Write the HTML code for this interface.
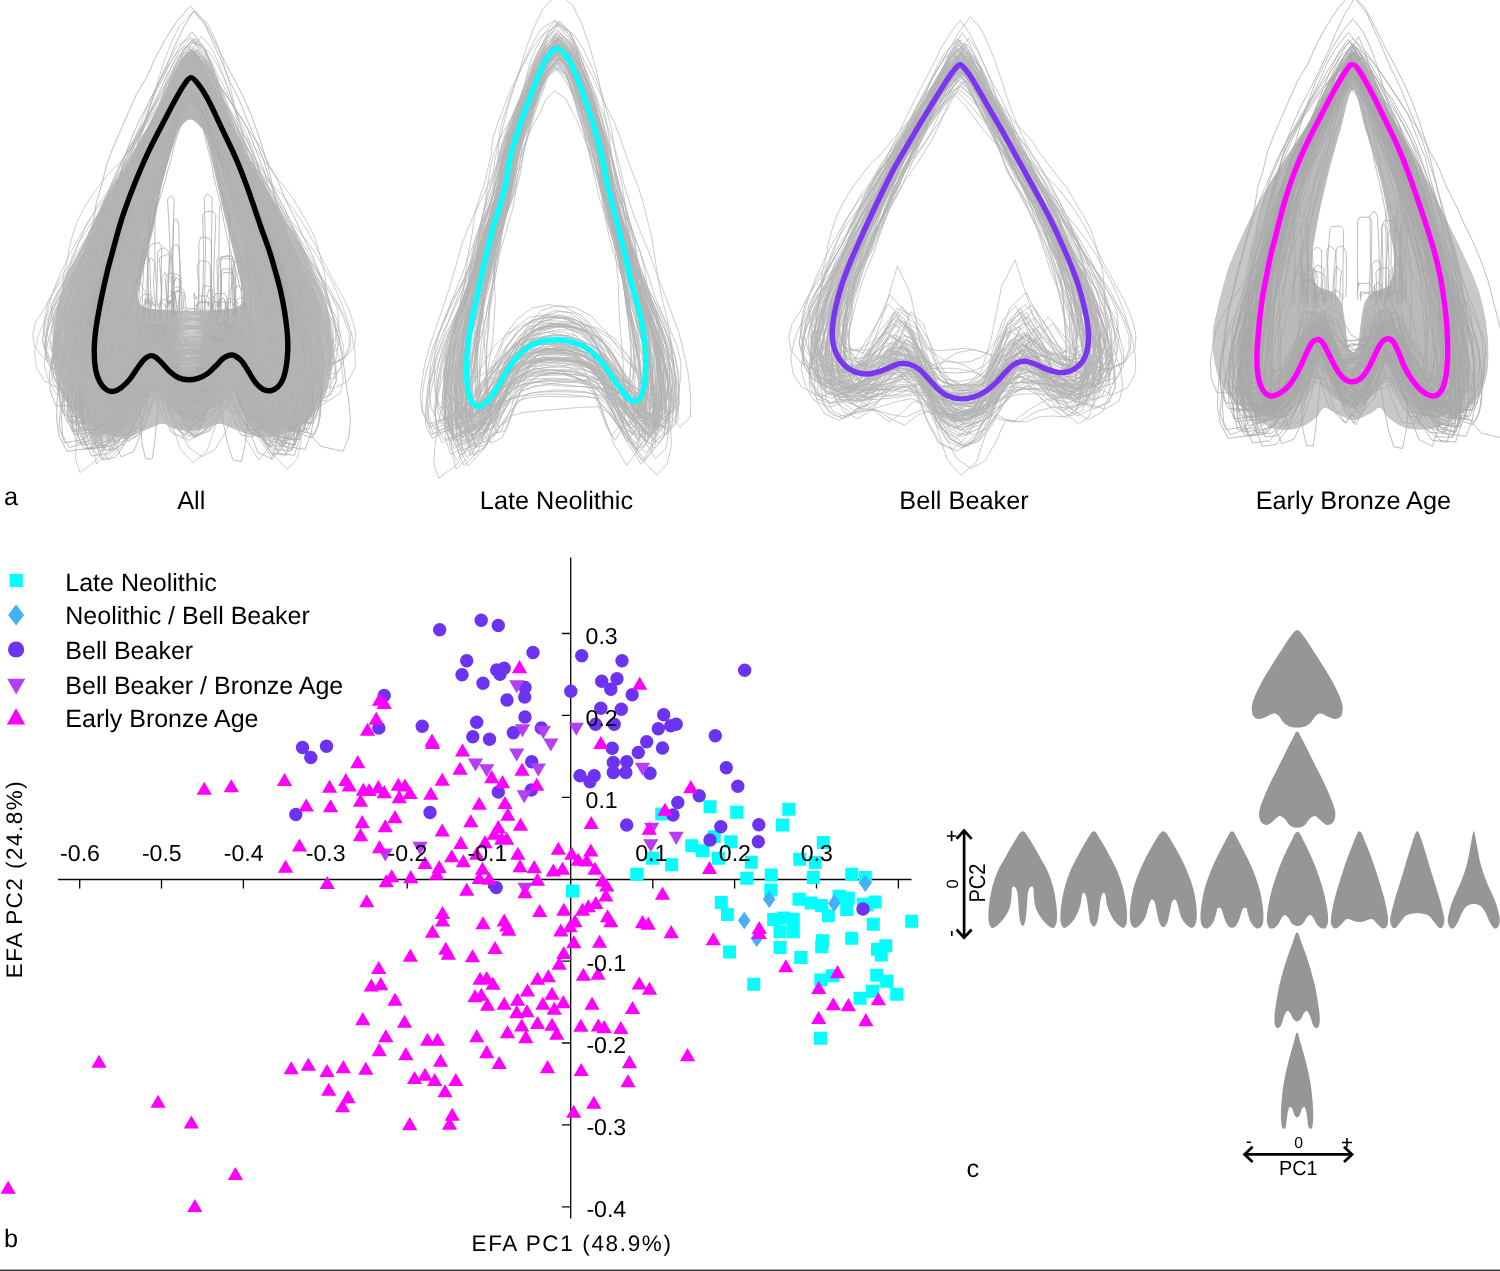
<!DOCTYPE html><html><head><meta charset="utf-8"><title>Figure</title>
<style>html,body{margin:0;padding:0;background:#fff}svg{display:block}text{font-family:"Liberation Sans",sans-serif;fill:#000;text-rendering:geometricPrecision}</style></head><body>
<svg width="1500" height="1271" viewBox="0 0 1500 1271">
<rect width="1500" height="1271" fill="#fff"/>
<defs><filter id="bl" x="-0.3" y="-0.3" width="1.6" height="1.6"><feGaussianBlur stdDeviation="3.5"/></filter><clipPath id="clE"><path d="M1353.3 51.7C1359.1 51.7 1362.6 70.7 1369.8 82.7C1377 94.8 1388.4 110.2 1396.7 124C1405 137.8 1412.2 151.5 1419.4 165.3C1426.6 179.1 1433.1 192.8 1440 206.7C1446.9 220.6 1454.5 234.8 1461 249C1467.5 263.2 1474.9 277.9 1479.3 292C1483.7 306.1 1486.2 320.2 1487.6 333.3C1489 346.4 1489 360.2 1487.6 370.5C1486.2 380.8 1484.1 387.7 1479.3 395.3C1474.5 402.9 1466.3 410.5 1458.7 416C1451.1 421.5 1442.5 426.3 1433.9 428.4C1425.3 430.5 1414.6 430.1 1407 428.4C1399.4 426.7 1392.9 421.4 1388.4 418C1383.9 414.6 1383.2 408.7 1380.1 408C1377 407.3 1374.3 412 1369.8 414C1365.3 416 1358.8 420.1 1353.3 420.1C1347.8 420.1 1341.5 416 1336.7 414C1331.9 412 1327.7 407.3 1324.3 408C1320.9 408.7 1320.6 414.6 1316.1 418C1311.6 421.4 1304.7 426.7 1297.5 428.4C1290.3 430.1 1281 431.1 1272.7 428.4C1264.4 425.6 1255.8 418.1 1247.9 411.9C1240 405.7 1230.6 399.1 1225.1 391.2C1219.6 383.3 1216.9 373.9 1214.8 364.3C1212.7 354.7 1212 343.6 1212.7 333.3C1213.4 323 1216.5 312.6 1218.9 302.3C1221.3 292 1224.3 280.4 1227.2 271.3C1230.1 262.2 1231.7 258.8 1236.5 248C1241.3 237.2 1248.6 220.5 1256 206.7C1263.4 192.9 1272.4 179.1 1281 165.3C1289.6 151.5 1298.8 137.8 1307.8 124C1316.8 110.2 1327.1 94.8 1334.7 82.7C1342.3 70.7 1347.5 51.7 1353.3 51.7Z"/></clipPath><clipPath id="clA"><path d="M192 49C200.8 49 206.5 83.8 215 101C223.5 118.2 233.2 135.1 243 152C252.8 168.9 263.3 185.7 273.6 202.7C283.9 219.7 296.1 236.8 305 254C313.9 271.2 322.3 291 326.8 306C331.3 321 331.5 331.3 331.9 344C332.3 356.7 331.5 371.5 329.4 382C327.3 392.5 324.3 399.4 319.2 407C314.1 414.6 307.9 422.5 299 427.6C290.1 432.7 276.5 437.3 266 437.7C255.5 438.1 243.6 432.3 236 430C228.4 427.7 225.6 424.2 220.4 424C215.2 423.8 210.1 427.8 205 429C199.9 430.2 195 431 190 431C185 431 179.7 430.2 175 429C170.3 427.8 166.8 423.8 162 424C157.2 424.2 152.7 427.7 146 430C139.3 432.3 131.2 438.5 121.6 437.7C112 436.9 98 430.9 88.7 425C79.4 419.1 71.6 411.2 65.9 402.3C60.2 393.4 56.6 382.9 54.5 371.9C52.4 360.9 52.2 349.5 53.2 336.4C54.2 323.3 56.7 307 60.8 293.3C64.9 279.6 70.8 269.1 78 254C85.2 238.9 94.7 219.7 104 202.7C113.3 185.7 124.3 168.9 134 152C143.7 135.1 152.3 118.2 162 101C171.7 83.8 183.2 49 192 49Z"/></clipPath><clipPath id="clEh"><path d="M1353 90C1357.2 90 1361 114.9 1365.6 130C1370.2 145.1 1376.5 163.9 1380.7 180.7C1384.9 197.5 1388.5 217.4 1390.7 231C1392.9 244.6 1394.1 253.2 1394 262C1393.9 270.8 1393.3 279 1390 284C1386.7 289 1378.2 289 1374 292C1369.8 295 1367.2 297 1365 302C1362.8 307 1362.2 314.8 1361 322C1359.8 329.2 1359.3 340 1358 345C1356.7 350 1354.7 352 1353 352C1351.3 352 1349.3 350 1348 345C1346.7 340 1346.2 329.2 1345 322C1343.8 314.8 1343.2 307 1341 302C1338.8 297 1336.2 295 1332 292C1327.8 289 1319.3 289 1316 284C1312.7 279 1312 270.8 1312 262C1312 253.2 1313.4 244.6 1315.8 231C1318.2 217.4 1322.5 197.5 1326.6 180.7C1330.7 163.9 1336 145.1 1340.4 130C1344.8 114.9 1348.8 90 1353 90Z"/></clipPath><clipPath id="clAh"><path d="M190.3 119.5C193.1 119.5 196.3 122.4 199 125.5C201.7 128.6 203.3 128.3 206.3 138C209.3 147.7 213.7 169.1 217.1 183.6C220.5 198.1 224 213.7 226.7 224.8C229.3 235.9 230.8 240.8 233 250C235.2 259.2 238.3 272 240 280C241.7 288 243.5 293.5 243 298C242.5 302.5 241.7 305 237 307C232.3 309 222.8 309.3 215 310C207.2 310.7 198.7 311 190.5 311C182.3 311 173.8 310.7 166 310C158.2 309.3 148.7 309 144 307C139.3 305 138.5 302.5 138 298C137.5 293.5 139.3 288 141 280C142.7 272 145.8 259.2 148 250C150.2 240.8 151.9 235.9 154.3 224.8C156.7 213.7 158.6 198.1 162.2 183.6C165.8 169.1 172.4 147.7 175.7 138C179 128.3 179.6 128.6 182 125.5C184.4 122.4 187.5 119.5 190.3 119.5Z"/></clipPath></defs>
<g id="pA">
<g clip-path="url(#clA)">
<path d="M192 49C200.8 49 206.5 83.8 215 101C223.5 118.2 233.2 135.1 243 152C252.8 168.9 263.3 185.7 273.6 202.7C283.9 219.7 296.1 236.8 305 254C313.9 271.2 322.3 291 326.8 306C331.3 321 331.5 331.3 331.9 344C332.3 356.7 331.5 371.5 329.4 382C327.3 392.5 324.3 399.4 319.2 407C314.1 414.6 307.9 422.5 299 427.6C290.1 432.7 276.5 437.3 266 437.7C255.5 438.1 243.6 432.3 236 430C228.4 427.7 225.6 424.2 220.4 424C215.2 423.8 210.1 427.8 205 429C199.9 430.2 195 431 190 431C185 431 179.7 430.2 175 429C170.3 427.8 166.8 423.8 162 424C157.2 424.2 152.7 427.7 146 430C139.3 432.3 131.2 438.5 121.6 437.7C112 436.9 98 430.9 88.7 425C79.4 419.1 71.6 411.2 65.9 402.3C60.2 393.4 56.6 382.9 54.5 371.9C52.4 360.9 52.2 349.5 53.2 336.4C54.2 323.3 56.7 307 60.8 293.3C64.9 279.6 70.8 269.1 78 254C85.2 238.9 94.7 219.7 104 202.7C113.3 185.7 124.3 168.9 134 152C143.7 135.1 152.3 118.2 162 101C171.7 83.8 183.2 49 192 49Z" fill="#c3c3c3"/>
<path d="M191 77.6C193.4 77.6 195.6 80.8 198.6 84.7C201.6 88.6 205 93.9 208.9 101.2C212.8 108.5 217.6 119.5 221.9 128.7C226.2 137.8 230.9 146.9 234.9 156.1C238.9 165.2 242.5 174.4 245.9 183.6C249.3 192.8 252.9 203.4 255.5 211.1C258.1 218.8 259.5 223.2 261.7 229.5C263.9 235.8 266.4 242 268.6 248.6C270.8 255.2 272.9 262.3 274.8 269.2C276.8 276.1 278.7 282.9 280.3 289.8C281.9 296.7 283.3 303.5 284.4 310.4C285.5 317.3 286.5 324.6 287.1 331C287.7 337.4 287.9 343.2 287.8 348.9C287.7 354.6 287.2 360.3 286.4 365.3C285.6 370.3 284.5 375.4 283 379.1C281.5 382.8 279.6 385.4 277.5 387.3C275.4 389.2 273.1 390.4 270.7 390.7C268.3 391 265.7 390.9 263.1 389.4C260.5 387.9 257.5 385.1 254.9 381.8C252.3 378.5 249.7 373.2 247.3 369.5C244.9 365.8 242.9 362.2 240.4 359.8C237.9 357.4 234.9 355.3 232.2 355C229.5 354.7 226.8 356 224 357.8C221.2 359.6 218.4 363.4 215.7 366C212.9 368.6 210.5 371.5 207.5 373.6C204.5 375.7 201.1 377.4 197.9 378.4C194.7 379.4 191.5 379.9 188.3 379.8C185.1 379.7 181.7 379.1 178.6 377.7C175.5 376.3 172.4 373.9 169.7 371.5C167 369.1 164.6 365.7 162.2 363.3C159.8 360.9 157.2 358.4 155.3 357.1C153.4 355.8 152.3 355.4 150.5 355.7C148.7 356 146.5 357.1 144.3 359.2C142.1 361.3 139.8 364.8 137.4 368.1C135 371.4 132.5 375.9 129.9 379.1C127.3 382.3 124.3 385.2 121.6 387.3C118.8 389.4 116 391 113.4 391.4C110.8 391.8 108.2 391 105.9 389.4C103.6 387.8 101.4 385.1 99.7 381.8C98 378.5 96.5 374.5 95.6 369.5C94.7 364.5 94.2 358 94.2 351.6C94.2 345.2 94.8 337.9 95.6 331C96.4 324.1 97.8 317.3 99 310.4C100.2 303.5 101.6 296.7 103.1 289.8C104.6 282.9 106.2 276.1 107.9 269.2C109.6 262.3 111.6 255.2 113.4 248.6C115.2 242 116.8 235.8 118.6 229.5C120.4 223.2 121.7 218.8 124.4 211.1C127.1 203.4 131 192.8 134.7 183.6C138.4 174.4 142.2 165.2 146.4 156.1C150.6 146.9 155.4 137.8 160.1 128.7C164.8 119.5 170.5 108.5 174.5 101.2C178.5 93.9 181.3 88.6 184.1 84.7C186.8 80.8 188.6 77.6 191 77.6Z" fill="#b6b6b6" stroke="#b6b6b6" stroke-width="46" stroke-linejoin="round"/>
<path d="M190.3 119.5C193.1 119.5 196.3 122.4 199 125.5C201.7 128.6 203.3 128.3 206.3 138C209.3 147.7 213.7 169.1 217.1 183.6C220.5 198.1 224 213.7 226.7 224.8C229.3 235.9 230.8 240.8 233 250C235.2 259.2 238.3 272 240 280C241.7 288 243.5 293.5 243 298C242.5 302.5 241.7 305 237 307C232.3 309 222.8 309.3 215 310C207.2 310.7 198.7 311 190.5 311C182.3 311 173.8 310.7 166 310C158.2 309.3 148.7 309 144 307C139.3 305 138.5 302.5 138 298C137.5 293.5 139.3 288 141 280C142.7 272 145.8 259.2 148 250C150.2 240.8 151.9 235.9 154.3 224.8C156.7 213.7 158.6 198.1 162.2 183.6C165.8 169.1 172.4 147.7 175.7 138C179 128.3 179.6 128.6 182 125.5C184.4 122.4 187.5 119.5 190.3 119.5Z" fill="#fff"/>
<path d="M148.8 319.2L146.7 287.7L149.2 247L151.5 244.1L158.9 242.6L161.7 247L161.1 276.7L161.6 319.2M216.8 309L219.5 305.9L216.9 306L219.8 302.1L225.6 301.6L227.8 306L227.7 317.7L228.1 309M167 318.2L170.2 248.1L167.5 199.4L170.3 196L172.4 197.3L174.1 199.4L172.5 260.8L174.3 318.2M211.7 306.9L213.5 313.2L212.3 305.5L214.8 301.1L216.4 302.1L219.3 305.5L217.9 301.4L220.2 306.9M149.2 306.3L147.3 262.5L149.4 201.6L151.7 196.9L152.3 198.4L155 201.6L154.8 258.3L157.5 306.3M202.3 319.2L203.7 254.7L202.7 214.7L205.4 211.7L212.9 211.5L215.9 214.7L213.5 279L216.1 319.2M170.3 318.9L173.7 291.4L171.5 277.8L174.2 273.6L177.6 274.3L180.5 277.8L180.4 288.8L176.4 318.9M204.3 313.5L205.5 244.5L204.2 198.1L207.6 193.3L208 194.4L212.2 198.1L211.3 260.6L210.8 313.5M142.2 319.3L142.4 292.3L144.2 259.3L146.1 256.2L147.5 256.5L149.7 259.3L151 299L149.9 319.3M233.8 316.2L234.9 298.8L235.1 291L237.3 285.3L241.8 288.6L245.4 291L244 296.1L244.3 316.2M170.8 318.1L173.5 283.4L170.9 249.7L174.7 245L177.4 244.6L179.1 249.7L181.1 280.6L181.2 318.1M224.6 319.2L224.5 316.3L225.6 302.4L228.1 298.4L235 299.6L236 302.4L237.9 302.4L235.8 319.2M158.9 317.6L161.8 292.2L159.3 258.2L162.7 256.2L169.2 253.9L170.7 258.2L171.5 291.6L173.6 317.6M233.1 316.1L232.6 290.6L232.1 266.1L235.7 261.7L240.4 261.4L242 266.1L241.7 282.9L241.5 316.1M175.5 315.1L176.6 301.7L175 294.7L177.6 290.1L179.2 290.8L182.1 294.7L181.9 301.3L182.4 315.1M205.1 311.3L205.5 301.1L208.1 292.8L208.9 289.7L209.2 288.9L211.6 292.8L212.7 308.6L213.2 311.3M161.2 307.3L162 277.2L161.3 277.5L164.7 273.8L165.1 272.7L168 277.5L166.3 288.1L168.1 307.3M218.6 319.6L218.8 261.4L219.4 206.9L221.9 203.7L227.6 203.6L229.7 206.9L229.7 252.5L228.2 319.6M161.3 310.1L160 318.1L159.8 304.3L162.7 299.7L167 299.9L170.4 304.3L169.4 300.6L170 310.1M236.1 312.7L235.9 301L235.2 302.6L237.4 298.9L242.3 297.2L245.8 302.6L244.9 303.6L247.6 312.7M146.3 308.2L145.2 298.4L144.7 303.2L147.8 298.5L150.2 298.3L152.7 303.2L152.2 304L151.7 308.2M217 313.4L218.3 305.6L217.1 302.3L220.6 298.9L224 298.4L224.8 302.3L227.1 311.6L225.5 313.4M172.1 314.1L171.2 289.7L172.7 295.6L175 291L182.8 292.1L185.6 295.6L184.8 299.6L187.5 314.1M196.9 312.1L199.1 289.7L197.2 265.6L199.9 260.6L208.3 261.8L210 265.6L210.8 291.4L212.1 312.1M145.5 317.5L143.6 318.3L145.2 304.2L147.5 303L148.2 299.8L150.6 304.2L150.4 311.1L150 317.5M218.7 307.9L221.6 288.1L220.3 262.7L221.9 258.3L231.4 258.9L233.8 262.7L233.7 287.8L234.7 307.9M174.4 316.4L173.5 292.5L174.2 282.2L176.4 277.4L177 277.6L180.2 282.2L179.1 306L180.1 316.4M200.2 318.7L201.3 301.4L202.7 289.4L204.2 285.4L210.5 286.7L212.6 289.4L213 302.6L214.2 318.7M148.9 315.2L148.1 289.4L147.6 262.5L149.9 258L151.7 258.2L154.8 262.5L153.4 282.1L156.1 315.2M198.3 308.1L196.1 305.5L196.9 306L199 303.1L206.3 301.8L209 306L208.3 301.1L208 308.1M165.7 310.9L166.5 296.4L165.2 277.4L168.7 273.7L172 272.6L175.1 277.4L173.5 285.6L173.6 310.9M226 306.5L226.2 309.4L225.3 305.8L228.4 301.8L232.3 301.8L233.2 305.8L235.2 299.5L234 306.5M157.5 308.2L159 307.3L158 305.4L160.8 301.4L161.8 302L164.7 305.4L165 305.5L165.7 308.2M194.9 319.1L194.2 292.9L196 299.1L198.1 296L207.4 295.9L209.6 299.1L211.3 306.7L209.2 319.1M166.4 307.1L170.6 300.2L169.6 304.2L171.5 299.5L171.8 300.3L174.1 304.2L172.7 305.9L175 307.1M220.6 312L220.5 300.2L221 273.1L223 268.9L232.4 269.2L232.6 273.1L234 285L234.8 312M173.4 312.9L172.9 266L173.2 222.9L175.5 218.7L176.2 219.1L178.7 222.9L179.7 265.2L179.1 312.9M194.4 313.1L196.3 311.6L196 305.1L198.1 301.9L207.8 301.7L211.3 305.1L209.7 309.7L209.7 313.1M172.4 314L174.6 298.5L171.9 291.1L176.1 286.8L181.5 287.9L184.3 291.1L183.4 304.4L184.7 314M198.9 310.4L198.9 274.2L198.9 241.9L201.1 236.9L208.8 238.3L211.3 241.9L211.6 273.6L210.9 310.4M166.9 307.4L168.2 301.2L166.8 298.9L170.3 295.8L173.1 294.2L175.7 298.9L174.3 290.8L176.4 307.4M219.5 315.8L221.6 283.5L220.1 260L222.3 256.4L231.8 256.1L234.2 260L235.8 285.4L234.8 315.8M145.2 306.7L145.1 313.7L142.9 306L146.9 301.6L152.5 301.6L154.3 306L155.4 303.9L155.2 306.7M216.9 307.3L217.5 280.1L216.8 260.2L220.2 257.5L228.4 255.6L231.4 260.2L231.5 287.5L230.2 307.3M154.8 319.1L157.3 281.5L157.6 252.6L160.4 248.9L164.8 247.8L169.4 252.6L168.2 291.6L167.6 319.1M213.3 309L214 296.2L213.1 297.8L215.9 293.8L224.7 293.2L226.8 297.8L227.8 312.8L227 309M141.4 308L139.8 304.2L140.9 297.3L143.3 294.4L149.4 294.1L152.4 297.3L151.6 302.2L150.9 308M221.2 317.2L221.4 286.8L221.2 276.2L223.8 272.5L232.4 272.9L234.9 276.2L235.2 292.5L236 317.2" fill="none" stroke="#a8a8a8" stroke-width="0.75" stroke-linejoin="round"/>
<path d="M181 314h18v58h-18z" fill="#d6d6d6" filter="url(#bl)"/>
</g>
<use href="#cE" transform="translate(-1161 13)"/>
<use href="#cBB" transform="translate(-700.9 21) scale(0.93)"/>
<use href="#cLN" transform="translate(-336.7 18.2) scale(0.95)"/>
<path d="M191 77.6C193.4 77.6 195.6 80.8 198.6 84.7C201.6 88.6 205 93.9 208.9 101.2C212.8 108.5 217.6 119.5 221.9 128.7C226.2 137.8 230.9 146.9 234.9 156.1C238.9 165.2 242.5 174.4 245.9 183.6C249.3 192.8 252.9 203.4 255.5 211.1C258.1 218.8 259.5 223.2 261.7 229.5C263.9 235.8 266.4 242 268.6 248.6C270.8 255.2 272.9 262.3 274.8 269.2C276.8 276.1 278.7 282.9 280.3 289.8C281.9 296.7 283.3 303.5 284.4 310.4C285.5 317.3 286.5 324.6 287.1 331C287.7 337.4 287.9 343.2 287.8 348.9C287.7 354.6 287.2 360.3 286.4 365.3C285.6 370.3 284.5 375.4 283 379.1C281.5 382.8 279.6 385.4 277.5 387.3C275.4 389.2 273.1 390.4 270.7 390.7C268.3 391 265.7 390.9 263.1 389.4C260.5 387.9 257.5 385.1 254.9 381.8C252.3 378.5 249.7 373.2 247.3 369.5C244.9 365.8 242.9 362.2 240.4 359.8C237.9 357.4 234.9 355.3 232.2 355C229.5 354.7 226.8 356 224 357.8C221.2 359.6 218.4 363.4 215.7 366C212.9 368.6 210.5 371.5 207.5 373.6C204.5 375.7 201.1 377.4 197.9 378.4C194.7 379.4 191.5 379.9 188.3 379.8C185.1 379.7 181.7 379.1 178.6 377.7C175.5 376.3 172.4 373.9 169.7 371.5C167 369.1 164.6 365.7 162.2 363.3C159.8 360.9 157.2 358.4 155.3 357.1C153.4 355.8 152.3 355.4 150.5 355.7C148.7 356 146.5 357.1 144.3 359.2C142.1 361.3 139.8 364.8 137.4 368.1C135 371.4 132.5 375.9 129.9 379.1C127.3 382.3 124.3 385.2 121.6 387.3C118.8 389.4 116 391 113.4 391.4C110.8 391.8 108.2 391 105.9 389.4C103.6 387.8 101.4 385.1 99.7 381.8C98 378.5 96.5 374.5 95.6 369.5C94.7 364.5 94.2 358 94.2 351.6C94.2 345.2 94.8 337.9 95.6 331C96.4 324.1 97.8 317.3 99 310.4C100.2 303.5 101.6 296.7 103.1 289.8C104.6 282.9 106.2 276.1 107.9 269.2C109.6 262.3 111.6 255.2 113.4 248.6C115.2 242 116.8 235.8 118.6 229.5C120.4 223.2 121.7 218.8 124.4 211.1C127.1 203.4 131 192.8 134.7 183.6C138.4 174.4 142.2 165.2 146.4 156.1C150.6 146.9 155.4 137.8 160.1 128.7C164.8 119.5 170.5 108.5 174.5 101.2C178.5 93.9 181.3 88.6 184.1 84.7C186.8 80.8 188.6 77.6 191 77.6Z" fill="none" stroke="#000" stroke-width="5.4" stroke-linejoin="round"/>
</g>
<g id="pLN">
<path id="cLN" d="M557.9 58.3l11.3 10.6 5.4 13.1 5.4 14.6 4.6 14.4 3.6 14.9 3.8 16 5.1 12.8 3.3 13.3 3.3 15 2.8 13.1 3.9 14.3 3.2 13.9 3.3 16 3.6 19.4 2.7 21.6 2.9 25.5 4 25.6 4.3 23.7 3.8 24.1 1.4 20.8 0.5 17.1 -0.8 18.7 -2.8 15.9 -9.8 12.3 -12.6-20.6 -9.6-27.4 -8.7-24 -9.5-16.8 -12.9-7 -14-4.3 -16.1 0.8 -15.2 1.3 -13.6 6.7 -10.5 10.1 -9.1 18.6 -7.6 23.8 -9.8 25.6 -13.4 14.2 -6.5-14.9 -1-16.1 0.2-15.9 1.9-17.3 2.1-19.9 2-23.1 4.2-24.9 3.4-25.9 3.3-23.8 4-21.5 5.1-18.9 5.2-15.3 6-14.7 5.6-16 3.7-14.6 4.2-15.9 4.8-15.2 5.9-13.9 4.8-14.1 6-12.8 6-13.5 5-14.8 7.7-13.6zM557.1 32.7l8.8 10.8 5.7 15.9 6.3 16.4 4.9 16.2 6.1 16.4 5.5 15.9 5.7 16.1 3.7 15.9 3.7 16.2 2.5 17.3 5.2 17.4 5.1 17.4 3.9 16.5 6.4 17.6 5.8 17.9 7.4 19.1 5 18.8 4.2 19.7 3.9 19.7 1.6 19.6 0.7 17.2 -1.9 17.4 -1 15.9 -9.8 9.7 -16.1-15.6 -13.4-20.7 -13-18.9 -12.8-14.4 -14.2-7.8 -14.8-4.3 -15.3-1.3 -15.8 2.2 -13.6 4.9 -10.9 11 -11.3 15 -12.9 19.7 -15 19.6 -17.7 10.8 -5.9-13.8 -1.9-14.7 1.1-16.1 2.7-16.6 3.2-19.3 4.7-20.3 6.4-21.6 6.2-20.2 6.2-19.7 5.6-18.1 5.6-16.9 4.9-16.3 5.3-15.1 4.2-15.9 4-16.5 2.2-15.6 5.9-14.5 5.1-15.7 7.2-14.8 6.2-16 7.1-16.4 5.4-16.9 5.3-17zM557.3 54l11.3 11.5 6.1 14.4 5.7 15.1 3.5 14.3 5.5 14.5 3.3 14.5 4.8 13.7 4.1 13.9 3.6 14.6 3.8 14.6 4.2 14.7 4.6 13.7 3.5 15 4.8 15.7 5.5 15.7 6.6 17.7 6 17.3 6.7 17.5 5.2 17.1 2.9 17.1 0.6 17 -0.3 15.6 -1.1 17.1 -8.9 12.8 -15.7-8.2 -13.4-9.7 -13.3-9.7 -12.9-7.2 -13.7-3.4 -17.3-1.8 -17.4-0.6 -16.8 1 -16.4 3.8 -11.8 5.9 -12.2 9.9 -12.3 13.1 -15.7 9 -18.7 2.6 -4.5-14.6 -0.5-16.3 1.5-16.2 3.1-16.2 4.9-17.4 6.2-17.5 7-17.1 7.1-18.2 5.5-17 5-16.4 4.8-16.5 5-15.4 4.5-15.8 5.6-14.6 4.6-16.5 4.2-14.8 5.7-14.8 5.5-14.8 6.7-13.7 4.6-14.8 6.5-14 5.6-13.9 7.1-12.9zM560.9 43.3l11.5 11.1 6.7 13.8 5 14.8 4.9 14 4.7 14.4 3.3 15.4 3 15.4 3.3 16.3 2.9 15.3 4.5 16.7 6 16.7 5.7 15 5.4 15.4 7.4 17.7 6.6 19.2 7.3 18.6 8.1 21.4 5.9 20.6 4.3 18.7 3.9 18.6 1.1 15.7 -1.1 15.3 -1.9 14.5 -10.6 10.6 -20.2-20.4 -17.5-26.7 -16.2-24.3 -14.3-20.3 -12.8-12.9 -15.5-6.5 -16.4-1.6 -14.8 4.7 -14.1 11.4 -11.3 15.3 -13.5 21.4 -16.3 23.8 -18.1 26.3 -23 10.5 -6.8-13.8 -1.2-15.5 1.2-15.7 3.4-15.3 4.3-17.2 6.9-18.4 9.1-18.9 9.4-20.7 7.9-19.2 8.7-18.9 6.7-17.8 5.9-15.8 5.8-14.3 5.9-16.4 3-15.6 1.8-17.7 3.9-16.6 5.4-15.1 5.4-15.2 6.6-14.8 6-14 7.3-14.2 7.6-13.7zM558.5 24.9l11.1 11 6.6 14.8 5.1 15 5.5 16.8 5.2 15.9 4.2 17.6 3.9 15.9 3.6 17.5 2.1 15.6 2.3 16.2 2.2 17.6 3.2 15 3.4 15.5 2.9 19.4 3.7 20.3 2.8 22.1 4.6 24.3 3.5 22.2 3.4 22 0.9 19.5 0.3 17.7 -1.3 16.9 -2.4 16.4 -8 11.7 -10.5-18.3 -7.5-22.2 -8.1-21.1 -8.4-12.2 -11.1-5.6 -14.6-1.8 -14.8 1.1 -15.4 2.7 -14.1 6 -8.9 8.4 -9.3 16.6 -8.1 20.2 -8.6 20.7 -12.5 10.6 -4.4-15.4 -1.3-14.9 0.6-16 -0.1-15.3 1.5-19.4 2.9-21.1 2.5-21.1 3.5-23.9 4.1-23.5 3.7-20.9 4.7-19.4 4.1-17.4 4.8-18.4 4.2-16.9 1.1-17.1 0.7-18.4 4-16 3.5-15.4 6.3-15 5.6-15 6-16 6.3-16.2 7.9-16.3zM558 31.4l12.1 11.8 6.3 16.6 5.9 16.8 5.2 16.1 4.2 15.3 4.7 15.2 4.1 16 4.7 14.9 1.7 15.4 4.2 17.3 4.7 15.8 3.8 17.3 4.1 17.6 5.1 19.4 6.3 21.5 6.8 22.9 6.6 22.5 6 20.7 4.1 20.2 2.3 17.8 -0.3 16.7 -1.3 15.5 -1.2 17.4 -9.1 11.7 -15.9-17.1 -12.3-21.6 -12.8-21.2 -13.1-14.3 -13.8-9.8 -16.5-4.4 -16.1-1.3 -16.5 2.4 -13 7.9 -10.6 11.2 -9.8 19.1 -12 21.5 -14.2 22.2 -18.4 10.1 -7.3-14.8 -2.4-18.4 0.8-17.2 1.5-17.9 3.2-20.8 6.1-21.1 6.7-23 6.9-23.3 6.8-22.6 5-20.9 5.9-18.5 4.6-16.5 5.6-16.3 6-15.7 4.3-15.4 1.7-16.6 3.9-15.8 5.3-15.4 4.9-16.5 4.7-15.4 5.6-14.3 5.9-15.1 6.9-15zM558.5 35.2l13.7 12.2 6.7 15.3 6.5 15.6 5.4 16.2 5.1 15.5 5.7 15.4 2.1 14.8 3.8 13.5 1.8 14.6 1.7 14.8 1.2 15.5 1.9 15.4 1.6 16.5 2.4 19.3 3 20.7 3.5 21.8 3.3 22.8 1.9 22.2 1.3 21.7 -1.4 17.6 -2.1 17.2 -4.5 16.8 -3.6 14.7 -7.7 10.2 -9.3-18.7 -8.5-24.1 -8.9-20.8 -8.4-14.2 -8.6-6.7 -9.9-2.7 -12 0.1 -11.3 4 -8.9 7.2 -6.9 10.6 -6.6 18.4 -8.2 21.7 -9.2 22.7 -10.9 9.7 -5.9-13.2 -2.3-16.4 -0.1-16.2 -1-16.7 1.5-19.3 2.3-22.1 3.1-22.4 3.2-23.4 3.2-23.4 2.9-20.4 2.9-18 2.8-15.6 3.9-14.8 2.5-15.2 1.6-16.5 0.7-15.1 2.5-15.9 3.3-15.6 4.6-15.1 6.6-14.6 6.8-15.5 7.5-16.1 8.6-15.5zM555.4 41.4l7.6 11.8 2.8 16 3.6 15.6 5.1 16.6 4.3 15.8 5.2 13.8 5.4 13.8 4.3 14.2 3.5 14 3.2 14.4 2.5 14.6 2.1 14.6 3.5 16.9 4.2 17 6.2 17.9 7.1 18.3 9.1 19.3 7.3 18.4 5.3 18.2 6.1 16.5 1.8 16.5 1 16 -0.5 15.4 -7.9 11 -15.4-9.8 -12.6-13.6 -12.8-13.9 -12.6-10.7 -14.6-6.7 -15.6-4.4 -17.1-1.4 -15.4 1.5 -13.8 5.2 -10.9 8.8 -10.5 10.8 -11.5 14.1 -13.4 12.1 -17 4.1 -4.1-14.9 -0.6-14.5 2.4-15.2 3.5-14.9 5.1-15.8 6.1-17.9 6.8-18 6.6-19 7.6-18.2 5.6-17.8 6.1-16.6 5.7-15.5 5.3-13.1 5.6-15.1 3.9-14.8 2.1-15.6 3.2-15.7 2.9-15.6 4.4-15.6 3.6-15.2 4.7-15.8 3.7-15.1 4.2-13.1zM559.2 58.9l10.4 9.3 4.3 13.8 4.2 13.2 3.1 14.7 3.2 14.2 4.6 13.2 3.3 13 3.7 14.2 4 15 3.5 14.9 3.9 15.2 4.1 15.2 3.2 15.2 3.5 17.7 4.2 20.9 3.8 24.3 5.4 24.7 5.7 23.6 3.1 24.1 3.2 19.3 2.6 16.8 -0.6 14.4 -0.8 15 -6.9 9 -13.5-20.8 -12.3-27 -12.6-23.5 -10.1-13.1 -11.6-3 -12.1-2.2 -14.6 0.1 -13.7 1.8 -11.3 4.4 -9.9 7.1 -9.7 17.8 -11.5 23.4 -13.5 26.8 -15.2 15.4 -5-13.2 -0.8-14.8 0.9-16.1 1.8-16.6 3.5-18.9 5.8-23.4 6.1-23.2 5.4-24.8 6.3-24.1 5.2-21.6 4.9-20.3 3.8-16.8 3.1-15.9 3.3-14.3 2.3-14.5 1-13.7 1.9-12.9 5.1-12.2 4.2-13.1 5.9-12.3 6.5-15.2 5.3-14.3 7.1-14.5zM558.5 57.3l9.3 9.7 4.2 12.5 4.7 13.3 4.2 16 4.9 14.2 4.4 14.8 4.4 15.1 4.2 14.9 3.4 15 4.1 15.5 3.5 14.8 3.4 15.7 3.5 15.7 3.3 19.4 3.9 22.7 4 23 4 23.3 5.1 23.5 4.8 20 1.8 17.5 2.3 15.7 -0.1 15 -0.8 13.8 -8.5 11.4 -11.2-20 -9.5-24.7 -7.5-23.3 -10.5-16.3 -11.6-8 -15-4.1 -16.6-1.7 -16.3 3.7 -13.6 7.6 -11.7 12.2 -7.9 19.3 -9.5 24.4 -8.5 25.5 -13.1 11.6 -5.6-14.9 0-16 1.6-16.5 1.5-16.6 2.7-19.2 2.2-22.4 2.7-22.5 3.7-22.1 2.8-23.5 4-20.2 4.1-18.5 4.2-16.2 5-16.4 4.5-15.3 3.7-14.9 2.7-14.7 4.3-13.3 4.5-13 6.4-13.7 5.8-13.8 4.9-12.7 5.5-14.6 5.4-15zM557.8 54.1l7.3 9.3 5.6 13.5 5.8 13.9 3.3 15.2 5.2 15.1 4.5 15.8 4.9 15.5 4 15.5 4.2 14.5 3.8 14.5 4 13.7 5.3 13 4.7 15.9 5.4 16.7 8.2 19.6 7.2 21.2 7.2 19.9 8.9 19.5 5.4 19.3 4.8 16.3 3.6 15 1 14.8 0.1 14.7 -8.2 10.4 -15.9-9.5 -12.6-10.2 -12-11.7 -10.8-6.4 -14.4-1.1 -15.4-1.3 -17-0.6 -16.1-1.3 -15.8 1 -11.7 5.5 -10.4 9.9 -11.8 12.6 -14.3 10.1 -17.6 5.1 -5.6-15.5 -1.2-15.2 -0.5-16.8 2.3-15.7 2.2-17.4 3.5-19.2 6.4-19.7 4.8-19.1 5.5-19.9 4.6-17.9 5-16.6 4.2-16 4.9-14.4 4-15.6 3-15.6 3.3-15.1 2.9-13.9 5.1-13 5.8-13.6 4.7-13.4 6.1-12.6 5.9-13.9 4.2-13.6zM558.3 38.3l7.9 12.1 5.3 14.5 4.4 16.4 5.3 15.9 5.2 16.6 5.2 15.7 4.2 17.8 4.5 15.8 4.3 14.8 1.5 16.4 2.8 14.7 2.9 15.4 4.2 15.8 4.5 15.6 6.2 16.4 6.9 16.9 7.2 16.4 8.4 16.3 5.7 16 4.3 15.3 1.5 14.4 1.3 15.7 -1.6 14.1 -8.9 11 -15.8-8.7 -13.9-12.5 -11.7-11.2 -11.8-11.3 -13.1-8.8 -13.9-2 -14.4-0.6 -14.7 3.7 -12.1 7.6 -10.1 11.3 -10.5 13.4 -11.5 12.4 -14 11.9 -16.4 1.7 -4.8-15.9 -0.7-17.1 2.3-17.7 3.6-17 4.1-16.1 5-16.1 5.2-16.2 4.9-16.2 4.6-16.7 2.4-15.2 4.4-16.4 3.2-15.9 3.9-16 4.7-15.4 3.1-15.6 4.1-16.6 2.8-16.1 5.2-13.9 3.9-15.1 5.1-14.4 4.7-16 4.6-14.2 6.7-15.6zM558.3 44.6l14.1 9.5 7.5 12.4 7.3 13.2 4.8 13.2 5.1 13.4 4.7 14.3 4 16 2.6 16.3 2.9 16.5 4.3 17.6 2.9 16.6 3.1 17.5 4 15.5 2.4 17.1 3.9 18.3 3.1 19.8 4.7 20.8 5.3 19.6 3.9 20.7 2 18.4 0.1 17.6 -0.6 17.4 -3.4 17.1 -11 12.6 -13.3-15.4 -11.8-19.9 -10.4-19.6 -10.2-13 -11.3-6.9 -14.1-3.6 -15.2 0.7 -15.4 2.2 -13.6 6.6 -10.9 9.9 -10.4 16.6 -10.3 18.1 -11.7 20.2 -14.4 9.2 -5.3-14.8 -2.6-14.9 -1.3-14.9 2.2-15.4 2.6-17.3 3.4-20.4 4.8-21.7 5.7-22.9 5.5-22.3 4.7-20.3 3.7-19 4.6-15.1 3.7-14.8 4.6-15.5 3.2-15.5 3-15.9 3.8-16.2 4.8-15.3 5.3-15.3 5-14.1 5.3-14.7 6.9-14.7 6.7-14.4zM555.7 65.4l11.1 10.2 6.8 14.3 4.6 14.7 4 13.7 3.4 13.1 2.9 13.2 2.9 13.9 4.4 14 4.2 15 4.3 14.9 6 16.5 4.9 16.2 5 16.7 4.6 17 4.5 16.4 6.5 17.5 7.7 17.5 7.2 17.1 5.2 16.3 3.5 16.8 1.1 16.7 -0.5 15.6 -1.4 16.1 -8.5 10.7 -16.2-10 -14.4-12.6 -12.4-13.4 -10.6-10 -11.7-7.3 -13.1-3.9 -15.5-1.8 -15.8 0.7 -13.2 5.6 -10.7 9.1 -10.6 11.8 -13.2 13.8 -14.1 12.3 -15.7 3.1 -5.2-13.6 -0.2-17.5 -0.2-16.3 0.4-15.4 3.6-16 5.5-16.3 6.2-16.2 7-15.9 6.9-17.9 3.3-15.8 4.6-15.3 3.4-14.9 4.1-14.7 4.6-14.5 4.3-13.6 2.8-14.9 5.2-13.6 4-14.3 4.9-15.5 3.4-15.2 3.7-14.6 5.1-15.4 4.8-14.2zM559 53.2l13 11 7.2 13.8 7.2 14.4 4.5 13.4 5 14.5 2.5 12.6 2.9 14.3 2.3 14.8 2.5 15.3 2.7 16.2 4.7 16.3 3.3 16.8 4.6 16.7 4.6 16.8 3.5 19.9 4.4 19 3.1 21 4.2 18.1 4.3 18.6 3.6 17.8 1.9 16.5 2.2 15.3 -1.5 15.8 -8.6 11.2 -12.1-14.6 -11.2-16.6 -11.6-16.6 -11.5-10.3 -14-6.1 -16.2-2 -17.3 0.2 -15.9 1.8 -14.4 7.8 -10.6 9.4 -10.8 14.4 -9.2 15.8 -9.9 15.8 -15.4 5.4 -4.8-14.8 -1.3-16.6 1.4-16.6 0.9-15.6 3-17.9 2-17.9 4.3-19 4.5-20.3 4.3-20.1 4.2-18.9 4.4-17.2 5.1-16.4 4.9-15.1 4.5-15.4 3.2-15.1 2.8-15.6 3.5-15.1 4.6-15 5.7-14.6 5.9-15.1 6.2-14.9 6.5-13.7 8.1-13.7zM558.1 46l11.5 13 6.3 14.5 5.3 16 5.4 15.6 4.1 16.3 3.6 14.7 2.4 14.4 3.4 15.4 2.4 16.6 4.6 15.3 5.9 15.4 4.8 15.8 6.9 16.4 5.6 16.6 5.2 16.6 6 18.4 5.4 17.7 6.3 17 4.5 16.7 5.1 16.3 1.8 15.9 0.9 16.2 -0.8 16.7 -9.4 11.2 -17.3-9.9 -13.3-12.5 -12.2-12.7 -12.7-9.6 -13.5-6.2 -16.5-2.8 -18.7-1.1 -17.8 2 -15.4 4.9 -12.2 8.9 -12.3 13 -12.3 12.4 -13.3 11.4 -18.4 3.3 -5.4-14.8 -1.7-15.7 2.7-15.8 1.4-16.4 3.5-16.4 4.9-18.2 6.6-16.8 6.9-18.5 5.2-19.4 7.3-16.7 4.4-16.8 6-15.2 6.3-15.1 6.5-13.4 4.8-15.9 4.5-15 5.8-15.5 5-14.8 5.9-15.9 4.4-15.9 4.3-14.8 4.6-16.9 5.7-13.7zM555.8 53.8l9.8 10.4 5.8 13.4 6.1 15.4 6.1 15.2 5.2 13.9 4.2 15.1 3.9 15.1 2.4 14.5 2.8 16 3 15.7 4.1 16.2 3.6 15.9 3.4 16.5 5.7 19.6 4 22.6 5.7 25.7 7.2 24.1 6.4 24.4 5.8 22 3.2 18.9 1.3 15.9 -1.1 16.1 -2.9 16.3 -10.3 11.6 -16-25.2 -13.4-32.2 -11.8-29.9 -11.4-20.1 -10.9-9.6 -14.7-6.9 -15.5-1.3 -16.2 2.4 -13.2 8.8 -11 14.7 -10.7 22.7 -10.6 31.3 -13.1 33.6 -16.5 16.7 -3.6-13.7 -1.3-15.7 1.2-15.9 -0.1-18.1 2.7-18.9 6.6-21.8 5.9-24.9 7.2-26.4 7.5-25.9 6.5-23.6 4.2-21.3 3.9-17.5 4.5-16.1 3.9-15.5 2.9-14.2 2.7-14.1 4.9-13.2 5.6-13.5 4.3-13.1 5.1-13.4 4.8-15.9 3.8-15.5 5.9-15zM560.2 58l10.9 10 6.6 13.4 5 13.5 5.8 14.5 4.4 14.5 4.9 13.6 4.6 14.3 4.2 16.3 3.5 14.7 4.5 15.2 4.2 15.5 5 14.7 3.6 14.4 5.6 16.4 4.7 18.5 4.7 19.7 5.9 19.9 6.1 19.4 4.8 18.2 3 17.3 2.3 15.7 0.2 15 -0.6 13.9 -8.9 10.3 -15.4-19.3 -12.9-25.5 -12.6-23.2 -11.1-17.2 -14-9.3 -16.7-4.6 -15.7-1 -17.6 5.6 -15.2 10.1 -10.6 14.9 -11.8 19.8 -9.8 23.3 -13.4 25.5 -15.9 10.7 -5.8-14.3 -0.3-17.7 -0.3-16.1 2.6-15.9 2.6-18.4 3.8-19.4 4-19.7 6.2-20.7 4.5-20.3 4.7-17.8 5.5-17.8 3.8-15.1 4.6-14.7 4.9-13.7 4.1-14.5 2.6-13.8 4.9-13.6 5.5-14.1 6.5-14.1 5.3-14.1 5.2-13.4 5.9-15.5 6.3-13.9zM558 50.8l11.3 11.8 6.9 13 5.3 12.7 4.6 13.8 4.3 12.3 4.1 13.8 2.2 12.7 2.2 14.9 2.2 14.9 3.8 14.3 2.6 14.5 5.7 12.9 5.4 14.4 4.4 14.7 6.2 16.9 5.2 18 5.6 18.8 4.5 18.5 4.1 16.9 1.5 17.4 0.1 14.3 0.2 14.5 -2.7 14 -7.4 9.8 -12.3-11.8 -9.1-14.2 -9.2-14.7 -9.5-9.1 -11-6 -12.8-2.9 -15.1-0.8 -14.8 2.8 -11.8 6.1 -9.7 10.3 -8.2 12.5 -8.7 16.7 -9.1 15.2 -13 5.3 -5.6-14.6 -0.8-16.1 0.1-15.7 1-15.5 2.3-17.5 3.3-16.2 3.3-17.9 4.4-19.9 2.9-19.7 3.9-19.1 4.2-16.4 4.1-15.6 4.7-14 3.5-12.6 2.1-12.7 1.6-12.5 1.8-13 2.3-12.9 3.7-14 3.4-14.7 4.2-13.1 5.1-13.3 5.7-12.4zM555.4 45.2l10.8 10.7 6.9 14.6 6.9 14.1 7.3 16 5.1 14.8 5.7 15.6 4.2 14.3 2.7 12.7 2.9 13.6 4.5 15.7 4.8 13.9 5.2 16.8 5.7 16.5 5.5 18.1 4.8 18.7 4 19.2 5 19.4 3.6 17.1 3 16.2 3.3 17 1.7 14.8 2 15 0 14.9 -7.1 10.9 -14.6-16.2 -11.4-20.9 -11.7-19.8 -12.7-15.7 -14.3-10 -15.7-5.8 -17.9-0.5 -15.6 3.4 -13.4 9 -11.8 12.2 -10 18 -9.2 20.1 -11.8 22.1 -15.4 8.2 -6.4-12.6 -0.8-15.5 -0.4-14.7 1.8-16.5 3.4-18 4-18.4 4.6-17.9 5.3-18.4 4.8-16.4 3.9-16.2 2.9-15.9 4-15.2 4.5-16.1 3.4-16.3 2.1-17.4 4.1-17 5.5-16.6 6.3-15.3 6.4-14.8 6.3-13.1 4.7-13.8 4.3-14.2 4.4-14.4zM560.1 43.8l12.3 10.1 5.9 13.4 5.9 15.3 5.9 14 5.8 14.6 5.2 14.4 4.2 15.4 2.2 15.8 1.1 15.1 0.8 14.8 1.9 15.6 1.8 15.6 2 15.6 3.1 17.4 2 18.6 4.4 21.3 2.5 20.9 3.1 20.5 1.2 17.9 -0.6 18.3 -1.1 15.1 -2 13.6 -3.4 15.5 -7 9.2 -8.5-17.7 -6.7-23.6 -6.8-20.3 -8.7-15.4 -10.3-8.7 -12.5-4 -13.7-0.5 -13.8 3.3 -10.2 7.2 -8.5 11.8 -6.8 18.2 -5.5 21.2 -7.5 23.6 -10.6 9.7 -4.9-13.2 -2.5-15.7 -2.4-14.8 0.5-14.6 0-17.5 2.2-19.3 3-21.3 2.8-20.9 3.8-21.6 3.9-20.2 2.7-16.9 3.2-15.1 2.9-13.6 2.3-14.4 1.7-13.7 2.1-15 4.3-14.8 5.4-15.1 5.8-14.4 7.2-15.6 5.5-15.1 6.5-15.2 6.4-14zM555 44.3l10.6 11.1 6.3 14.8 6.2 15.6 5.9 16.1 7 14.5 5.5 15.5 4.9 13.7 3 14.5 3.4 14 2.3 16 3.3 15.6 3.7 15.9 3.8 16.1 5.1 16.8 7 17.4 7.2 19.3 8 18.9 7 18.7 6.1 18.8 3.3 18.8 1.1 18 0.8 17.4 -1.1 17.9 -9 10.6 -15.8-19.5 -15.4-27 -13.6-26.3 -12.2-19.4 -13.7-13.7 -16-6.5 -15.5-0.5 -15.2 5.5 -13.3 13.6 -11 16.6 -10.9 21.1 -11.6 23.5 -14.2 26 -18 9.1 -6.6-15.2 -1.9-16.8 0.7-16.5 2.3-17 4-18.9 6.4-17.4 7.2-19.9 6.9-18.7 6.1-19.9 5.5-18.1 4.6-16.1 2.6-15.4 4.6-15.8 3.7-15.5 2.7-15.4 3.6-16.1 4.9-15.4 5.1-16 5.1-14.4 5.9-15.1 4.1-15.8 4.3-15 4-14.1zM554.5 45.2l11.8 9.7 8.1 14 4.9 13 6.3 14.2 6 15.5 3.2 14.7 2.5 16.6 2.9 15.4 0.7 17 1.9 15.3 3.6 14.3 2.4 15.7 4.2 14.3 5.3 16.9 4.3 19.5 6 20.7 5.1 20.5 5.7 19.4 4.7 19.1 2.2 16.7 1.6 14.9 -1.1 15 -2.2 14.7 -8.9 10.6 -14-16.8 -13.9-20.3 -13.1-18.5 -11.7-14.8 -13-9.1 -12.8-4.7 -13.1-1 -12 2.9 -11.4 8.8 -7.3 12.2 -8 18.3 -10.3 19 -12.6 21 -15.8 10.7 -4.7-13.9 -1.8-14.8 0-15 2.2-15.3 3.9-17.8 3.6-18.8 5.2-20.7 6.5-21 6.3-19.7 5.5-18.9 5-16.1 5-14 4.3-15 5.4-15 2.5-16.2 2.1-16.7 3-17.2 3-16.2 3.1-16.1 3.5-15.5 3.8-13.7 3.6-14.6 7.1-12.5zM557.3 64.9l12.9 9.2 7.9 12.2 7 13.1 5 14.1 5.5 13.5 4.6 15.6 3.6 14 4.3 14.1 3.6 14.2 3.1 13.5 3.9 13.9 4.3 14.2 3.5 16.7 3.1 18.4 3.4 20.6 5.2 22.4 4.1 21.9 5 21.2 4.4 18.5 2.1 17.1 0.1 15.9 -1.2 14.4 -3.7 15.4 -8.7 12 -14.8-14 -12.2-15.6 -11-16.6 -11.1-9.6 -14-3.5 -14.2-1.1 -17-0.1 -15.5 2.9 -13.7 4.5 -11.8 6.9 -10.2 13.8 -11.3 15.1 -12.7 14.9 -15.7 7 -5.5-14.7 -1.3-16.3 -0.1-14.4 1.2-15.6 1.9-16.8 3.5-19.5 4.1-21.8 5.4-22.1 4.7-21.3 6.1-19.3 3.6-17.2 5.1-13.8 5.5-14 4.6-13.1 2.9-17.4 2.5-15.4 4.3-15.5 5.5-16 5.3-14.8 5.5-13.6 8.3-13.2 5.9-12.9 9.7-13.3zM558.3 45.1l10 13.1 6.5 17.3 4.7 17.8 4.7 16.3 4.8 15.2 3.4 13.8 3.2 12.5 3.9 12.4 2 12.4 3.8 12.7 4 14.5 3.6 15.6 5.9 16.4 4 17.9 5.3 18.4 6.3 18.1 6.9 18 6 17.4 6.1 16.5 2.9 16 2.2 14.2 0.7 16 -0.8 16.3 -8.1 11.5 -15.3-6.1 -13.1-6.9 -12.5-7.4 -12.9-6.9 -14.2-1.4 -16-1.8 -15.3-1.3 -14.3-1.3 -13.5 2 -10.2 3.7 -9.9 9 -10.1 10.9 -13.7 8.2 -16 2.5 -6-12.4 -1.3-15.1 2-16 1.7-16.3 4.2-17 4.4-17.5 6.5-17.9 5-17.9 5.1-17.6 4.2-16.5 4.2-15.9 3.4-14.9 5.2-15.7 5.4-14.6 3.4-16.5 3.2-15.8 3.2-16.1 4.4-15.9 4-16.3 5.1-15.5 4.1-15.2 6.6-14.8 5.9-13zM559.7 21.2l10.1 10.6 6.5 17 3.6 16.1 4.1 18 4.7 16.9 4.8 16.1 6.4 17 4.9 16.9 5.2 17.9 4.6 16.5 4.3 16.6 3.9 17.8 4.4 16.9 4.5 19.1 3.9 18.4 5.2 21.1 7 19.6 5.6 19.7 5.3 18.1 1.9 17.8 2.3 15.8 -0.1 15.2 -3.6 15 -8.8 11.7 -13.9-13.5 -11.6-15.5 -10.9-15.8 -13.5-10.1 -15.5-6.1 -19.6-3 -18.4-0.7 -17.1 0.5 -13.7 6.1 -10.2 8.9 -7.7 13.6 -7.6 16.5 -10.2 16.9 -15.9 6.1 -6.1-13.9 -1.9-15.3 0.2-16.2 1.9-16.4 2.6-18.1 1.6-20.5 2.6-20.8 2.2-20.7 1.9-19.1 4.3-19.6 5.3-16.8 6.1-17 8.5-14.5 8.4-16.6 5.8-17.5 2.8-17.4 4.4-17.7 3.6-16.8 4.1-17.3 6-17.4 4.2-15.6 6.9-17.2 8.6-15.3zM557.6 25.7l11 12.2 7.3 14.7 6.5 15.5 4.5 15.4 5.2 15.7 4.1 16.2 4.8 16.1 2.6 16.6 2.7 17.4 3.3 15.7 4.9 14.8 4.3 15.9 6.1 16 5.5 19 5.2 21.3 4.1 24.6 5.4 24.3 4.1 23.8 4.1 22.4 2.1 19.3 2.6 15.6 0.6 13.5 -1.3 15.4 -8.9 9.1 -13.4-17.3 -14.4-20.1 -12.7-20 -11.7-11 -14.6-4.6 -14.1-2.1 -16.6-1.9 -15.9 0.8 -13.8 4.2 -11.9 7.7 -11.8 15 -11.4 22.4 -13.6 20.8 -16.9 11.3 -5.6-13.2 -0.5-15.1 2.6-15.2 2.7-15.8 4.4-20.2 5.4-21.4 5-24.2 4.9-25.6 3.7-23.9 4.4-20.6 5-19.1 5-14.6 4.6-15 4.7-15.9 4.2-15.8 2.8-16.8 4.2-17.3 5.2-16.9 5.6-16.7 4.7-16.6 6-16.8 6.8-14.3 6.5-13.7zM558.2 37.7l13.4 10.9 7.8 13.7 4.7 15.5 5.6 15.5 4.7 16 5.1 15 4.1 14.5 2.8 15.7 3.6 15.8 3.5 14.4 3.4 15.6 3.2 15.5 4.4 16 6.6 16.4 6.6 19.7 9.9 20.2 10.6 19.5 10.6 19 7.7 18 4.4 16.9 -0.1 16 -2.2 15.1 -3.9 16.4 -11.1 9.5 -20.6-13.7 -18.9-19.9 -17.4-19.2 -12.8-13.7 -12.1-6.9 -14.8-5 -16.9-0.2 -16.1 4.6 -14.6 7.1 -12.6 11 -13.6 15.2 -16.5 17.4 -18.6 18.2 -21 7.7 -6.2-14.1 -1.5-15.2 0.1-13.9 0.9-14.3 4.1-17.1 6.7-17.9 9.2-20.8 9.8-21.7 10.3-20.3 8.7-20.2 6.2-15.7 4.9-15.7 5.3-14.2 3.4-14 2.7-14.8 2.8-15.7 3.8-15.3 4.3-17.1 6.1-15.2 6.3-15.1 6.3-16.4 7.8-14.4 7.9-14.2zM555.7 50.8l13.4 10.2 7.6 13.7 5.8 15.7 5.6 14.3 5.8 15 5.3 14.7 4.1 15.1 3 14.8 2.4 14.8 2.5 16 2.1 16.2 2.8 16.4 4.2 16.2 4.6 15.7 5.6 17.2 6.3 15.4 7.7 16 6.3 15.7 5 14.5 2.1 17 0.6 16.3 -3.3 17 -1.7 16.5 -9.1 12.6 -14.9-15.2 -11.7-22.6 -11.4-21.9 -8.2-19.7 -11.9-16.2 -11.7-9 -15.3-2 -13.6 4.5 -12 12.6 -10 16.4 -10.1 19.6 -11.7 21.2 -12.4 20.6 -15.7 8.3 -6.8-14.8 -3.7-15.8 0.1-15.3 -0.6-15.1 1.2-14.6 3.5-15.7 3.4-14.7 5.2-17.3 5.3-17 4-16.6 4.1-17.4 3.5-14.7 3.8-14.3 4.2-14.6 2.2-13.9 1.4-13.6 3.4-13.5 3.1-15 5.5-15.1 5.4-15.7 6.7-17 6.1-15.7 7.5-15zM557.1 39.1l11.5 12.1 6.8 15 5.3 15.2 6.5 16.2 4.9 16 7.4 14.8 6.1 14.7 3 15 1.6 13.4 3.4 14.6 2.6 14.9 2.4 16.4 2.4 16 3.7 18.5 3.8 17.2 3.9 19.2 5.3 19.1 5.5 17.4 3.6 17.3 2.2 17 -1.3 15.2 -2.4 14.8 -5 16.9 -10.9 11.5 -13.1-10.5 -9.5-15.2 -9.8-14.8 -9.8-11.8 -12.5-7.7 -15.5-5.3 -16.3 0 -17 1.5 -15 7.3 -11.8 11.6 -9 14.4 -8.1 16.7 -10.4 16 -14.7 4.3 -6.1-15.7 -2.2-16.8 0.1-16.9 1.4-16.2 3.2-16 4.6-18.3 5.4-16.9 5.2-18.3 5-17.6 3.6-17.8 2.7-19.3 2.9-16.5 2.6-15.1 2.1-16.3 2.5-15.5 2.8-14.3 5.3-14.2 7.7-14.6 9.2-14.2 7.7-16.6 6.8-14.3 7.6-16.9 8.3-15.8zM560.1 46.5l12.1 11.6 5.8 14.8 5.5 14.5 5.2 14.5 4.4 14.6 5.1 14.7 4.1 16.4 3.5 13.9 3.4 16.4 4 17.2 4.7 16.4 3.8 15.5 4.5 15.1 4.8 17.5 6.5 19.4 5.1 19.8 7.3 21.1 5.9 21.1 3.8 20.3 1.9 17.7 0 16.9 -1 15.4 -3.1 15.6 -10 10.9 -14.7-16.8 -12.9-19.6 -11.5-20.6 -12.1-14.2 -12.9-6.7 -15.6-4.5 -16.6-2.1 -16.4 2.8 -14.8 6.3 -12.1 10.2 -10.7 17.7 -11.7 19.6 -15.8 20.8 -16.5 8.4 -6.5-15.3 -1.4-16.3 0.6-16 2.9-15.2 4.8-18 4.4-18.6 8.5-20.4 6.5-21.8 6.3-21.5 5.3-22 3.3-18.3 3.3-15.8 3.5-16.2 3.8-13.4 2.9-15 2.6-14.4 5.1-14.1 6-15.2 7-15.2 6.5-15.2 6.2-14.6 7.2-15.8 7.3-14.5zM556.2 58.7l15 8.4 8.2 11.2 7.2 13.5 6.4 13.7 5.9 14.2 5.5 14.8 4.6 15.5 4.2 15.3 2.8 16.4 3.1 15.2 4.1 16.3 3.3 15 3 16.9 3.2 16.5 2.2 19.1 1.8 18.3 2.4 18.6 2.6 18.4 1.1 15.3 0.7 16.1 0.1 13.8 -1 15.5 -4.4 15 -9.8 11.4 -12.1-12.5 -8.1-16.1 -7.6-15.8 -9.9-10.9 -11.8-5.9 -15.1-3.1 -15.2-1.8 -16.2 2.5 -14.4 5 -11.7 8.5 -8.9 14.1 -7.3 15.5 -8.3 15.7 -13 6.8 -5.4-13.2 -2.2-15.1 -0.2-14.6 0.8-15.2 0.1-15.4 1.7-17.9 2.5-19.1 1.8-20.1 3-19.7 4.1-16.8 3.9-17.2 4.6-15.2 4.8-14.4 4.8-15.8 1.9-14.1 1.8-14.9 2.7-14.6 5.7-12.5 5.8-13.4 7.2-13.6 7.9-13.9 7.8-14.5 7.1-13.6zM560.9 34.1l11.7 12.1 7.4 16.4 5.9 14.9 5 15 4.2 15.4 4.6 14.4 3.6 13.4 3.5 16.6 3.4 16.4 2 15.2 2.8 17.1 2.4 16.3 4.7 16.8 3.4 18.4 6.6 19.8 6.6 21.3 7.6 21 6.1 21.6 6.4 19 2.6 19.2 2 15.8 -0.8 15.7 -1.1 14.1 -8.2 10.7 -15.8-19.5 -13.7-25.1 -12.9-24.4 -12.9-17.4 -12.3-11.6 -14.1-6.9 -14-0.9 -13.3 2.6 -11.3 10.5 -7.8 14.3 -9.1 19.9 -10.1 22.9 -13.3 25.3 -16 11.7 -6-16.9 -1.8-16.2 -1.4-15.4 1.5-17.1 1.9-17.2 5.1-18.9 4.9-19 5.9-20.6 5.8-20 5.1-20.6 3.9-17.4 3-16.6 2.9-14.2 3.4-16.2 1.8-15.9 0.9-16 2.5-16.1 3.1-16 4.7-16.2 5-15.8 6.3-16.1 6.2-15 7.8-13.3zM555 20.3l15.3 12.6 8.1 16 7.3 14.8 7.8 15 7.1 15.4 6.9 14.8 6.9 14 6.1 15.5 5.6 17 5.8 15.4 6.4 16.3 5.2 16.5 3.9 16.2 4.6 18.6 3 20 3.2 21.1 4.6 22.1 5.1 20.8 3.2 21.1 2.5 18.6 2 17.2 0.6 15.7 -2 13.8 -11.6 9.6 -14.2-18.8 -10.3-23.6 -10.7-21.4 -13.5-16.9 -16.5-9.5 -19.1-5.1 -19.4 0 -18.8 3.3 -14.7 8.4 -11.3 13.6 -9.9 17.7 -8 20.3 -11.3 22 -17 9.6 -9.3-13.9 -4.1-13 -1.8-16.4 -0.2-15.9 1.9-17.2 3.1-20.6 3.1-21.3 4.6-21.6 2.8-23 4-20.5 2.5-18.1 4-15.9 5.4-14.2 3.5-15.7 3.6-15.6 1.6-15.7 5.3-16.8 6.2-15.8 7-17.8 7.6-15.6 6.8-15.3 7.3-15 8.1-13.9zM556.8 47.4l10.7 10 6.3 13 4.7 15.4 5.3 15.1 5.7 15.2 5.9 16.2 4.8 15.6 4.1 16.3 2.8 14.1 4.1 15.2 3.3 15 3.3 15.2 3.7 15.4 4 16.7 2.9 16.6 3.3 18.6 4.1 15 5.3 17.6 3.1 15.6 2.2 15.4 0.8 15.2 -0.7 15.2 -2 16.6 -9.6 11.8 -13.2-8.3 -8.5-11.6 -9.7-11.5 -9.7-10.4 -12.1-6.8 -15.3-5.2 -15.4-1.3 -16.6 2.1 -13.8 5.9 -13.1 10.6 -9.5 13.1 -10.7 12.9 -11.9 11 -14 3.1 -5.1-14.7 0.9-16.6 2.2-16.1 3.4-17.3 4.1-15.7 3.1-16.8 4.6-16.1 2.6-15.8 3.7-16.2 3.7-15.1 4-17.1 4.6-14.8 4.9-15.2 3.9-15.9 1.7-16.2 3-16 3.2-15.4 5.6-14.4 5-14.6 6.2-14.9 7.2-14 5.7-15.3 7.5-14.7zM558.4 39l12.2 11.8 6.9 14.8 4.9 16.9 6.3 15.2 4.6 16.2 5.8 14.1 3.6 15.3 4.1 15.4 2.7 14.3 4.1 16.5 3.3 14 2.7 16.2 2.9 16.2 2.9 16.4 3.8 18.2 2.7 18.3 3.6 19.3 5.7 19.5 3.5 18 2.4 17.7 -0.2 16.5 -1.4 14.2 -3.2 16.5 -8.6 10.2 -12.7-17.9 -8.3-22 -8.5-21.8 -9.4-16 -12.9-11.4 -14-6.2 -15.4-0.6 -15.7 4.6 -13 10.9 -11 13.9 -9.4 17.1 -8.5 20.4 -9.7 21.2 -14 7.5 -4.7-14.7 -1.4-15.3 0.7-15.9 0.9-15.7 2.6-14.7 2.8-17.9 3.9-19.1 2.5-18.9 3.2-18.7 4.4-17.9 3.5-17.3 4.4-15.6 5-14.7 3.2-14 2.6-14.5 1.2-15 3.1-17 4.7-15.3 4.3-15.1 5.9-16.4 6-15.6 7.7-15.5 7.8-14.7zM555.7 55.5l11.2 9.9 7.9 12.2 6.4 15 5.9 14.3 5.7 15.2 4.1 15.7 5 16.3 2.9 15.8 4.1 17.7 4.4 16.5 4.6 16.5 5.1 15.1 5.5 15.4 7.2 16.2 5.2 16.8 8 18.4 7.2 16.8 7 17.5 6.6 16.9 5 17.2 3.3 15.6 0.4 16.3 -0.2 16.5 -10.3 12.3 -18.8-14.8 -17-18.7 -16.1-18.4 -15.5-14.9 -14.1-8.8 -16.5-4.8 -16.8-1.9 -16.2 3.1 -14.5 9.2 -12.7 12.9 -11.8 16.9 -15 20.5 -18.4 19.2 -20.7 8.5 -7.3-14.4 -2-17 2.1-17.3 3.1-17.2 5.3-18 6.2-20.3 6.7-19.5 7-18.3 6.9-19 5.2-17.7 5.6-16.1 4.4-14.7 5.5-13.9 5.4-15 5-15.4 2.6-15.1 3.3-15.2 5.3-14.9 5-15.7 5.1-14.3 5.3-14.4 6.3-14.6 6.5-15.5zM555.9 33.8l13.3 10.2 8 14.7 7.3 15.6 6 16 5.1 15.5 4.2 16.4 4.5 14.8 2.8 16.5 3.4 16.4 3.3 15.7 2.9 15 4.1 15.4 3.4 16.5 5 15.8 5.3 16.8 3.6 15.6 5.9 14.7 4.9 16.2 3 15.3 2.1 16.6 -0.2 14.8 -1.9 16.2 -2.1 14.7 -9.3 11.7 -13.5-6.7 -10.4-9.6 -10.5-9.7 -10.5-10.4 -12.1-9.4 -15.8-4.2 -16.2-1 -16 2.6 -14 7.7 -10.6 10.9 -10.1 12.4 -8.7 10.9 -12.2 8.3 -14.5 0.7 -5.9-16 -1.8-16.7 0.7-17.5 0.8-15.6 3.1-14.9 2.5-13.8 4.1-14 2.9-13.4 4.3-15.5 3.8-15.1 4.9-16.2 4.8-17 4.3-17.2 5.2-15.8 2.8-15.4 2.5-15.4 2.9-14.8 3.9-13.7 5.3-14.7 5.2-16.1 5.5-15.7 6.3-16.2 8.1-16zM555.8 61.5l10.6 9.8 7.3 12.4 5.4 13.5 5.4 14 6.4 14 4 13.1 4.7 12.9 3.5 13.5 3.2 13.7 3 14 2.7 15 2.3 14.5 3.3 16 5.5 17.8 4.8 17.6 7.6 18.7 8.5 20 8.2 18.5 8 18.4 5.1 16.7 2 15.7 -0.6 14.6 -1.7 15.5 -8.8 8.2 -15.9-10.3 -16-10.8 -14-12 -10.6-6 -12.1-0.8 -13.8 1.8 -14.4 1.2 -14.6 1.8 -13.3 3.1 -10.3 3.3 -11.9 10.6 -13.1 10.9 -14.6 8.1 -16.8 2.6 -5.5-15 0.3-15.5 0.2-15.5 3-15.8 4.2-15.4 6.4-17.2 5.5-16 5.9-17.9 5.1-18.6 4.9-18.2 3.2-16.6 2.3-15.5 4-16.1 4.3-15 3.5-14.8 2.9-13.6 2.3-13.7 4.5-12.5 5.1-12.9 4.3-12.5 4.5-12.7 4.4-15 5.7-14.2zM557.3 52.3l11.7 10.3 8.4 14.8 7.2 13.4 6.5 13.2 6.6 13.8 4 12.4 2 14.9 3.6 14 2.8 15.8 3.9 14.3 7.2 15.6 6 14.1 6.5 15.6 6.5 17.2 4.7 20.3 3.7 22.7 4.5 23.7 5.3 20.1 5.5 20.1 2.5 17.6 3.9 14.1 0.4 13.4 -1.5 13.6 -10.4 9.3 -17.8-22.5 -15.3-26 -12.9-24.1 -13-15.7 -12.9-8.2 -15.7-3.9 -17.3 0.8 -17.7 3.5 -16.5 9.2 -13.5 12.4 -12.7 21.2 -10.7 25 -12.4 27.4 -15.6 13 -4.2-13.7 0-14.5 0.1-14.5 0.6-14.3 0.8-17.3 3.2-19.2 5-21.7 5.4-22.7 7.4-22.9 6.4-22 5.8-19 4.3-16.3 3.8-15.5 3.2-14.8 2.6-14.3 2.9-15.3 5.1-14.1 7.3-13.9 8.7-14.7 6.7-15.2 6.2-14.1 6-13.8 5.7-13.3zM558 49.5l11.9 10.8 6.7 15.6 6.1 15.6 6.1 14 6.1 13.8 7.5 13.7 4.3 13.5 4.8 12.9 4.4 14.6 3.8 14 4.5 13.6 2.9 15.1 4.6 17.1 3.3 17.5 4.7 19.3 5.2 22.1 5.9 22.1 4.9 20.2 2.2 19 2.1 19.6 0.1 15.4 -0.7 16.8 -2.7 15.6 -8.4 11.6 -13.6-15.1 -10.2-17.1 -10.8-17.9 -11.3-10.4 -14.7-5.1 -17.3-2.4 -17.1 1.3 -16.3 2.6 -14.1 4.4 -10.7 8.2 -10 12.7 -7.5 17 -11.4 14.9 -14.7 6.5 -6.4-15.3 -1.7-15 -0.8-14.8 0.6-15.6 0.8-17.3 3.6-18.6 4.5-22 4.2-23.8 5.3-22.1 3-20.6 4.9-17.4 4.1-14.8 4.4-12.8 3.4-12.2 2.5-12.9 2.5-13.7 3.2-14.4 6-15.2 6-16.1 6.4-15 6.5-16.2 7.8-14.4 6.4-13.4zM556.1 55.6l12.9 9.7 8.3 13.4 8.3 13.8 6.6 15 5 13.6 4.3 15.6 2.2 15.2 2.3 15.8 2.7 14.8 2.2 15.7 3.9 15.4 4.4 15 4.4 14.1 4.8 14.9 6.4 15.5 7.2 15.8 8.6 14.6 6.9 15.2 6.4 15.7 4.5 15.5 0.3 14.4 0.9 16.3 -3.3 15 -9.4 11.9 -19.3-12.1 -18.7-15.4 -17.2-15.3 -14.2-13.6 -11.3-10.7 -14.7-5.8 -14.9-2 -15.3 2.8 -13.5 6.8 -11.4 11.9 -14.2 15.4 -14.3 16.6 -17.4 16.8 -19.9 5.3 -5.3-15 -0.9-14.7 -0.1-15.3 1.1-14.5 3.6-16 5.8-14.9 7-17.3 10.5-16.3 8.2-16.1 8.7-16.6 7.8-15.1 2.9-14.6 5.6-14.8 1.4-15.2 2.4-13.2 1.8-14.1 2.9-14.2 5.2-13 6.3-13.6 6.1-14.5 6.9-14.6 5.9-13.7 7.9-14.7zM553.9 40.3l12.3 10.5 7.5 14 7.4 14.7 5.7 15.9 5.7 16 6.2 16.1 3.7 14.9 3 15.5 2.4 14.6 3.1 13.2 4.2 14.7 3.3 14.2 5.1 15.4 4.5 16.3 3.8 19.4 5.6 20.3 4.4 20.7 4.9 17.5 2.7 18.2 1 17.5 -1.2 16.1 -1.7 14.8 -5.2 15 -9.4 10.7 -12.7-15.9 -10.3-21.2 -10.6-21.1 -9.2-15.9 -11.5-9.1 -14.6-6.6 -15.5-0.3 -14.3 3.8 -12.7 9.3 -11 13.8 -9.1 16.2 -8.9 21.8 -10.7 21 -12.8 8 -5.9-14.3 -0.5-14.1 0.4-14.9 -0.6-15 0-15.8 1.8-17.5 3-19.6 3.2-19 3.9-20.2 4.2-19.5 6.5-18 5.7-16.4 5.6-15.6 6.5-15.4 4.2-15.8 3.2-15.5 4.5-14.7 3.5-14.2 4.8-14.5 4.2-14 4.9-14.7 5.3-15.2 5.8-14.1zM557.9 47.3l10.2 11.8 5 15.8 3.8 15.7 4.2 15.3 3.7 15.3 3.5 13.9 3.4 14.9 3.6 14.5 3.5 16 5.9 16.8 3.6 17.1 5.1 16.4 5 14.4 5.7 18.8 7.4 18.3 8.6 20.3 9.7 19.9 8.1 21.4 6.1 20.7 4.6 20.6 0.1 16 -1.7 16.2 -2.4 14.6 -9.3 10.3 -19-21.8 -18.9-26 -15.3-22.7 -12.9-15.7 -11.1-8 -13.5-3.6 -14.5-1.5 -13.9 2.9 -12.7 7.6 -11 10.5 -11.9 17.9 -14.2 23.3 -16.9 24.3 -19.8 11.5 -4.4-13.6 -0.3-15.3 0.5-17.4 1.7-16.8 3.3-19.5 5.4-20.3 7.5-20.7 8.5-21.9 7.8-19.4 8-19.4 6.1-17.5 5.2-14.5 5.5-16.2 4.5-15.8 3.9-14.6 1.2-14.5 3-14.3 3.6-14.7 4-13.7 5.8-16 4.2-15.5 6.3-16.2 7.1-14.9zM558.2 24.4l16.5 11.4 9.2 14.5 7 14.7 5.9 14.9 5.4 14.9 4.9 17.5 4.4 17.1 2.7 17 3 17.6 3.6 15 2.7 15.1 2.7 15.1 2.8 14.5 1.2 16.5 0.7 16.4 1.1 19.9 2.3 17.9 1.8 18.9 1.2 17.2 -0.3 16.8 -2 15.9 -2.4 15 -4.7 16.1 -9 11 -8.3-8.5 -4.9-11.5 -5.4-12.8 -7.5-10.9 -11.8-7.4 -14.4-4.9 -16-0.8 -15.6 0.6 -13 7.4 -9 9.1 -5.4 15 -4 13.6 -5.4 11.6 -10.3 3.9 -6.4-16 -3.8-15.6 -1.8-15.9 -1.1-16.1 0-17.4 1.6-16.8 0.6-17.2 -0.3-19.4 1-18.1 1-17.3 2.2-17.3 3.6-15.9 3.6-15 4.5-14.2 2.3-17.1 3.1-17 2.6-16.2 5.2-17 5.6-17.1 5.7-15.3 6.6-13.6 7.8-14.9 10.3-14.1zM558.8 57.2l11.5 10 6.2 12.1 4.8 14.2 4.2 13.6 3.9 14.7 4 13.5 5 13.3 3 13.4 4.8 15.2 5.7 14 4.5 15.3 5.9 14.8 5.2 16.2 5.5 17.3 5.3 18.4 7.5 17.8 6.6 20 8.1 18.9 6.3 18.6 6.8 17.1 2.6 16.4 0.8 16.5 -0.3 16.5 -11 12.9 -20.6-10.1 -18.5-12.1 -17.5-12.7 -14.6-7.1 -15-3 -15.1-1 -16-0.8 -15.5 0.7 -15 4 -13.1 4.5 -14.3 12.7 -16.1 13.9 -19 11.9 -22.1 5.1 -5.1-16.1 1.1-17.1 3.1-16.1 4-16.2 6.1-16.3 5.5-18.4 7.4-17.5 8.2-18.9 6.2-18.7 7.9-16.7 5.6-16.8 6.5-15.1 6.9-15.2 5.5-14 4.8-12.5 3-13.8 3.1-14.2 3.3-12.2 4.8-15 5.8-16.4 6.6-15.7 6.2-15.8 7.6-16.2zM557.6 51.7l10.3 9.5 6.4 13.8 3.5 14 6 14.6 3.5 15.6 4 15.8 4.4 15.8 3.7 16.4 2.4 15.2 4.4 15.1 5 16.7 2.9 14.4 5.2 16.7 6.2 18.4 6.7 19.8 9.1 21.5 9.3 21.2 7.1 20.7 7 18.3 3.1 17.7 2.3 16.8 -0.8 15.4 -1.7 17.1 -9.2 11.3 -16.3-16.4 -16.7-21.4 -13.9-19.9 -12.6-14.9 -12.8-8.4 -14-4 -16 0.1 -14.7 1.8 -13.4 8.6 -8.8 10.5 -11.7 16.3 -11.9 18.8 -15.6 21.4 -17.7 9.1 -5.4-14.8 -1.7-15.6 -0.8-15.1 2.2-14.7 2.6-18.2 6-19.2 6.7-21.6 6.3-21.9 6-20.9 6.3-19.9 5.4-17.3 5-16.2 4.5-15.1 3.5-14.9 3.5-15.6 3.2-15.7 3.6-16.3 4-15.7 4.5-14.5 5-14.7 4.8-14.6 4.6-14.5 6.2-14.5zM555 21l12.2 11 8.7 14.8 6.6 16.1 4.3 16.9 3.8 16.5 2.4 17.9 2.3 18.3 3 16.5 1.8 16.1 3.9 15.8 3.5 15.4 3.1 15.2 4.6 15.3 3 17.1 5.2 17.2 3.7 17.3 7.5 15.2 4.3 16.1 3.3 16.1 2.8 14.4 -0.5 15.2 -0.7 16.3 -2.5 16.6 -8.7 12.5 -11.9-12.5 -10.5-17.1 -9.7-18.4 -9.7-17.5 -10.6-15.3 -11.8-7.6 -14.3-1.8 -13.5 6.3 -13 12.8 -9.9 16.5 -9 17.5 -9.4 17.3 -11.8 17.5 -13.1 4.1 -4.4-15.4 -2-16.8 -0.9-15.6 0.6-14.6 1.6-15.2 2.3-15.6 3.8-16.1 5.7-17.6 5.5-17 5-17.4 3.7-15.4 4.9-16.5 3.4-14.2 5.5-15.7 1.8-15.9 2-16.8 2.5-17.8 3.6-17.5 3.3-16.8 3.7-15.9 3.9-16.1 6.2-14.6 8-14.5zM558.1 41.3l10.7 11.8 6.1 14 7.3 15.5 3.9 15.8 4.5 13.2 4.6 16.6 5.2 14 3.6 13.8 3.9 14.9 4.1 16.2 3.6 14.6 4.6 15.5 4.4 15.5 4.8 17.8 7.1 18.8 6.8 19.1 8.9 18.5 9 20 6.9 17.9 5.6 17.3 1.8 17.1 -0.8 15.2 -1.5 15.7 -11.4 11.8 -19.7-13.4 -17.5-17.6 -15-16.2 -14.7-13 -14.9-8.4 -16.9-3.9 -18-1.1 -17.6 1.8 -16.7 7.4 -12.8 9.6 -15.1 15.6 -15.3 16.7 -18.2 18.3 -20.5 6.4 -6.4-14 -0.4-14.1 2.3-16.8 3.6-14 4.5-17 7.3-17.4 7.6-18.5 7.7-20 7.5-19.3 7.4-19.9 6.8-18.2 7.1-17.5 7-15.7 6.4-16.4 4.8-16.5 3-15.4 5.1-15 4.2-15 6.5-14.6 4.9-13.9 5.8-15 6.2-13.6 8.8-14zM559.8 48.9l9.9 10.1 5.5 13.4 4.7 12.9 5.2 12.5 4.1 14.8 3.7 14.3 4.5 14.8 4.2 17.3 2.2 15.6 4.5 16.6 5.2 16.1 4.9 16.3 5.8 15.4 6.3 16.4 9 18 7.3 18.7 8.1 17.5 6.3 17.5 5 17.4 3.7 15 2 15 1.4 15.4 1.2 13.6 -7.2 9.8 -15.6-17.2 -16.3-24.2 -15.8-21.7 -13.6-18.5 -15.3-16.2 -16.7-8.3 -16.3-1.6 -16.2 4.9 -12.3 13.5 -11.4 18.4 -12.4 20.5 -14.6 22.5 -17.9 24.9 -21 7.7 -6.4-14.2 -1.8-16.4 0.9-16.3 2.1-16 3.8-17.4 5.8-17 5.9-15.3 6.5-18.1 5.3-15.8 7.1-16.6 5.7-14 6.7-14.2 5.9-14.1 6-13.7 4.8-15.5 2.1-15 4.2-17.2 3.3-16.4 4.9-15.5 5.1-15.4 5.5-14.6 6.2-15 7.5-13.8zM555.3 66.9l12.2 8.1 5.9 12.3 5 11.2 5.9 12.7 6 12.5 5.8 14 4.7 14.2 5.3 15.2 3.3 14.7 4.2 15.4 4.3 14.5 3.7 13.9 3.7 16.2 4.5 16 4.2 20.1 5.3 20 5.8 21.9 6.4 20.9 4.8 21 3.1 18.8 1.9 15.8 0.2 15.6 -2.7 14 -9.5 10.5 -14.7-16.2 -11.9-17.4 -11.1-17.6 -13.1-11.4 -14.5-3.7 -15.1-0.4 -16.7 0.2 -16.3 1.6 -14 7 -11.5 7.7 -10.8 14 -10.6 17.5 -13.8 16.5 -16.2 7.8 -7.3-14.5 -2-15.2 0.9-15.7 1.4-15.2 3.4-18.6 5-18.8 4-21.6 5.9-22.3 4.6-20.9 4.2-19.7 4.4-15.8 4.4-14.1 5.2-13.9 4.3-12.7 2.8-13.9 2.9-15.3 3.9-13.5 6.4-15.1 7.5-13.8 5.9-15 6.7-12.7 6.1-13.1 6.2-13.5zM558.1 46l16.1 10.6 8.9 13.7 6.7 14.9 5.9 14.3 5.6 15.8 4 16.1 3.8 16.1 3.8 15.3 3.7 15.5 4.1 16.5 6.1 15.9 4.3 14.8 4.2 16.5 1.4 17.7 2.1 17.6 -1.1 21.1 0.9 19.9 0.2 18.9 0.7 20.1 1.3 17.7 0.4 15.5 -1.3 16.7 -3.9 16.4 -10.4 9.9 -8.3-9.1 -5.1-9.3 -5.1-11.1 -8.2-6.1 -12.6-1.3 -13.9 0.5 -17.2-0.7 -14.8 0 -13.4 1.6 -9.9 3.4 -4.4 9.3 -3.6 10.5 -2.7 9.3 -9.2 2.3 -7-13.4 -3-15.7 -1-15.4 -0.4-16.9 -0.7-17.3 -1.1-19.2 -1.1-20.2 -0.7-19.7 -1.7-19.2 -0.4-18.1 1.3-17.9 2.6-15.4 4.2-15.7 4.2-14.3 4.1-16 3.3-16 6.1-15.1 5.4-15.6 6.1-15 6.3-14.4 5.9-14.8 6.5-14.7 8.2-15.7zM561.1 36.9l11.3 11.6 7.9 14.9 4.6 16.2 4.8 15.4 4.5 16.2 3.5 16.1 3.4 16.2 3.7 16.3 2.4 16.8 2.2 16.1 4.7 16.8 2.7 16.2 4.1 17.4 2.9 18.7 4.4 18.1 4.1 20.2 6.4 19.4 6 18 4.9 18.7 2.8 16.3 0 16.7 -3.2 15.7 -5.9 16.6 -10.1 12.9 -16.3-11.3 -12.6-14.5 -11-14.9 -9.2-10.6 -9.9-6.6 -12.6-5 -14.2-2.1 -14.1 0 -11.5 4.8 -9.6 7.5 -9.3 14.6 -7.4 18 -10.1 16 -13.3 8.1 -4.1-13.5 -0.9-16 -1.8-15.9 0-17.3 0.9-19.4 1.7-20.3 3.1-23.1 3.6-22.5 4.6-21.7 3.7-19.4 4.9-18.4 5-14.6 6.2-14.7 5.1-14.6 5.2-14 3.3-15.8 5.2-15.4 5-16.2 5-15.3 5.7-16.1 4.4-16.8 6-14.7 6-15.1zM556.8 54.1l11.3 10.7 6.9 13.6 5.3 13.8 5.3 13 5.5 12.8 6.4 13.5 4.5 15.4 5.4 14.2 4.4 16.2 2.7 15.8 4.3 15.9 3.7 16.6 4.8 15.6 4.6 17.1 8.2 16.9 8.3 18.3 8.8 18.5 7.2 16.5 6 16 3.1 17.1 1.5 14.2 -1 15.8 -0.8 16.2 -8 12.8 -17.2-8.3 -15.4-10.6 -14.2-10.4 -13.9-6.9 -13.3-3.2 -14.9-2 -16-0.4 -16.5 0.5 -12.8 4.3 -12.1 6.3 -11.4 11.1 -14.1 12.8 -18.4 10.3 -20.2 2.8 -6.2-14.7 -2-16.6 1.1-16.4 2.3-16.2 5-16.4 5.8-17.7 7.1-17.6 7.7-19.3 6.7-17.5 5.9-18.3 5.1-16.4 5.2-15.2 5.2-15.6 3.3-15.4 2.8-15.7 1.5-16.3 2.1-16.3 3.3-14.2 4.6-14.4 4.9-13.4 6.2-13.2 6.9-12.7 6.9-13.5zM558.6 47l9.3 10.3 4.7 13.7 4.7 14.2 4.3 16 5.7 15.6 5.4 14.7 5.2 14 4 14.1 3.8 13 2.1 14.1 2.2 14.2 4 14.9 3.7 16.8 5.3 17.8 6.3 18.5 5.1 20.7 6.8 19.1 4.1 17.7 4.8 16.4 0.4 14.7 -0.1 14.5 0.3 12.7 -2 15.3 -8.3 9.6 -12-14.6 -11.2-16.8 -11-17.7 -10-13.2 -14.2-6.1 -14.3-5.6 -14.6-0.7 -14.2 3.2 -12.4 6.2 -9.8 11.3 -8.6 17.2 -9.1 19.4 -12.1 20.5 -14.7 9.2 -5.1-14.3 -1.6-15.7 0.5-15.5 1.6-17.4 2.5-17.7 2.9-18.3 2-19.2 4.3-18.6 3.5-18.1 4.6-16.5 4.2-17.2 5.8-15.9 5.8-15.9 5.4-17.1 3.4-15 1-14.4 2.4-14.8 4.3-13.4 5.9-13 5.8-12.3 5.6-14.9 6.2-13.6 6.4-15.3zM555.9 60.8l8.6 9.6 4.6 12.9 5 13.4 4 13.5 4.3 14.1 3.3 14.6 3.5 14.3 3.5 14.7 3.5 15.6 3.1 14.8 4.9 13.8 4.6 15 4.8 13.3 3.7 15.4 3.5 16.3 4.7 18.2 3.2 16.5 3.6 18.1 4.4 15.9 1.7 16.4 2.4 14.7 -0.7 17.1 -0.2 15 -9.8 12.6 -12.2-12.3 -9.9-13.7 -9.5-14.5 -11.3-12.8 -12.5-10.6 -15.3-6.4 -14.8-2.7 -15.4 2 -13.6 7.8 -10.7 13.5 -8.5 14.4 -7.6 16.9 -9 14.7 -13 4.9 -5-15.6 1.1-15.6 1.7-15.7 2.1-17 3.1-14.6 4.1-14.7 4.6-16.1 4-14 3.4-17 4.5-16.7 3.5-15.8 4.5-13.9 4.4-15.3 3.8-15.8 3.4-13.8 3-14.7 4.5-14.7 5.7-15.4 4.2-15 5.8-14.8 4.7-14 4.1-13.8 5-14zM556.7 56.2l10 9.4 5.3 12.5 4.8 13.9 4.8 15.2 5.8 14.4 4.8 14.9 5 14.6 3.5 16.1 3 15.3 2.4 14.7 3.3 15.5 2.3 16.7 3.8 16.9 3.7 18.8 5.3 22 5.8 23.4 5.5 23.5 5.9 21.4 4.5 20.5 2.7 17.9 0.6 16.9 -0.9 15 -1 15.5 -8.6 10.9 -12.6-16.6 -11.6-20.1 -11.2-19.1 -11.3-12.9 -13.6-4.8 -14.5-3.8 -16.1 0.5 -16.3 0.9 -12.6 5.5 -10.6 8.3 -10.5 15.2 -9.4 18.8 -11.9 19.3 -16.4 8.5 -3.7-14.9 -1.4-14.5 0.7-15.4 0.9-15.4 3.4-18.8 4.9-20.7 5.6-23.3 5.7-22.8 5.4-23.1 5.5-20.4 5.2-17 3-15.4 4-14.8 3.3-15.1 2.5-14.1 1.5-16.4 4-14.8 5.8-14.8 5.7-14.5 6.7-15.3 6.8-14.4 5-13.8 6.6-14.8zM556.4 55.9l11.4 10.1 7.1 13.3 5.2 13.2 5.4 13.2 4.7 14.7 4.2 14.9 3.6 16.9 4.3 16.8 3.3 15.7 4.5 17.8 4.3 15 3.8 15.2 4.8 15.3 5.2 15.4 5.7 16.8 6.4 17.5 6.3 17 7.1 17.3 5 17 1.9 17.2 1.5 15.8 -1.3 16.5 -3.1 15.6 -9.3 12.6 -14.7-12.4 -14-12.9 -12.9-15.8 -11.5-10.3 -11.6-6.6 -15.2-4.4 -14.2-1.4 -14.7 2.6 -12.6 6.4 -9.9 9.7 -10.5 14.8 -11.8 16.1 -14.1 14.4 -17.2 7 -6.4-15.5 -1.7-16.5 -0.6-16.7 0.3-18.6 3.8-18.8 5.2-20.1 5.7-18.7 5-19 6.1-18.1 5.1-15.8 3.5-14.9 4.1-13.4 3.6-13.1 3.6-15.1 2.9-16.1 0.7-15.9 3.8-16.3 4.6-16.3 5.6-13.6 5.1-15.1 5.9-13.4 7.7-13 7.4-13.4zM557 50.5l11.6 10.9 6.5 13.8 5.9 16.8 5.4 15.6 5.5 15.5 4.6 16.1 4.7 14.6 3.8 14.3 2.5 15.4 3.5 15.2 2.5 14.9 4.2 14.9 2.8 16.1 4.8 17.2 4.4 19.9 5.9 20.5 6.6 20.1 5.9 21.2 4.4 19 2.9 18.4 0.6 17.3 0 16.7 -2.7 15.7 -7.5 11.1 -14.2-18.9 -13.1-25.9 -11.8-24.4 -11.6-18.9 -11.2-11.1 -14.7-6.9 -14.4-0.9 -13.8 3.6 -11.4 9.3 -9.2 12.9 -10.3 20.9 -9.3 24.2 -13.9 25.8 -15.8 12.7 -6.5-13.7 -2.1-16.2 -1.1-15.7 1.8-16.1 2.9-18 3.6-20.3 4.6-20.6 4.9-22.2 6-20.7 3.1-19.9 4.9-17.8 3.2-14.6 4.8-15.8 4.2-15 2.8-15 0.5-15 3.9-14.9 4.7-14.6 4.8-15.6 5.6-15.7 5.7-15.7 5.4-15.1 7.6-15.3zM556.2 34.3l9.7 11.6 7.4 15.4 5.8 15.7 5.7 17 4.5 16 4.1 15.8 3.1 16.5 2.7 16.2 2 18.1 1.7 17.2 3 15.9 4.1 17.5 5.1 14.8 5.8 16.7 7.7 17.2 6.5 18.1 8.8 18.2 6.9 18.8 6.6 18 4.3 17.4 2.2 15.1 1.3 15.2 -0.6 14.4 -8.7 9.5 -18.1-13.9 -16.2-19.3 -15.7-16.8 -14-13.2 -14.6-7.6 -16.7-5.3 -17.6-0.6 -16.3 2.1 -14.8 9.2 -12.9 11.3 -12.8 17.6 -13.9 20.3 -16.9 19.4 -16.9 7.2 -3.8-15.6 1.9-16.5 3.5-18.2 2.3-18.9 4.9-18.6 5.8-17.9 6.4-17.5 6-19.2 8.3-17.2 5.8-18.1 6.7-16.9 5.3-14.8 6.4-17.1 5.4-15.7 3.4-14.3 2.1-15 3.6-15.5 4.5-14.9 5.4-14.9 5.8-17.6 5.5-16.5 5.7-16.9 7.1-16.8zM555.9 68l11.1 10.8 7.4 14.8 7.4 14.4 5.4 15.4 4.4 14.4 4.3 14.1 3.1 15.4 2.7 13.8 3.1 14.9 4 15.6 4.8 15.6 5.7 15.8 4.6 15.3 4.3 17.4 4.2 18.6 5.3 19.5 4.4 19.8 5.1 18.7 3.9 18.5 3.6 18.9 1.6 16.6 -0.1 17.4 -1.1 17.4 -8.9 12 -15.2-15.1 -11.3-20.5 -11.1-18.7 -10.2-14.3 -11.9-8.7 -14.8-4.8 -16 0.8 -16 3.7 -14.6 7.2 -11 11.7 -10.4 16.2 -9 18.9 -9.6 18.2 -14.6 7.5 -4.3-15.9 -0.7-15.9 0-14.5 1.2-16.6 2.3-16.6 2.2-19.8 4.3-19.8 4-21.1 5.6-22.5 4.7-19.4 5.5-18.7 3.1-16.2 5.3-14.3 3.4-13.7 3.2-14.1 2.2-14.6 3.5-15.4 4.1-15.4 5.1-15.8 4.3-13.6 5.2-15.2 5-15.4 5.5-12.7zM554.6 59.6l12.3 9.9 7.1 11.2 6.3 12.4 5.2 12.3 5.6 13.6 3.9 14.5 3.5 13.3 4 13.8 2.3 15.1 4.1 13.2 5.4 14.5 6.4 14.8 5.5 16.3 8 20.5 7.5 24.6 7.9 27.4 7.2 27.3 5.9 25.8 5 23.7 2.1 19.2 -0.5 16.1 -0.8 13.9 -2.7 15.7 -10.3 10.1 -16.8-27.9 -16-35.1 -14.9-31.5 -11.4-20 -11.8-9.9 -13.5-4.7 -14.5 0.3 -14.5 3.6 -13.2 8.3 -10.8 11.8 -13 23.6 -14.2 30.5 -16.6 34.3 -18 17.6 -6.1-12.6 -2.4-14.3 0.3-13.3 0.6-14.4 2.5-18.7 6.1-24.3 5.4-26.9 7.8-29 6.4-26.9 7.1-24.2 5.3-18.6 4.2-15.6 3-13.2 2.7-14.2 2.5-13.9 1.1-15 3.2-14.2 4.9-13.9 6.2-13.3 7.2-13.7 5.8-12 6.4-13.6 7.2-13.7zM558.1 44.5l12 10.9 5.9 14 4.9 15.4 4.6 14.8 5.1 15.7 4.9 15.6 5 16 5.6 15.1 3.7 15.7 3.7 13.3 3.3 14.9 3.3 15 3.4 16.7 2.4 17.6 3.7 21 4.9 21.3 4.7 21.3 4.5 19.2 3.7 19.1 0.8 17.1 0.2 13.9 -2.8 14.5 -3.7 15.6 -10 10.5 -12.6-16.4 -8.5-21.5 -9.4-20.4 -9-14.2 -11.5-10.2 -14-3.9 -15.9-1.5 -16.2 3.9 -14.2 9.2 -11.2 11.7 -8.9 17.7 -7.4 21.1 -9.1 21.3 -13.7 10.4 -3.8-14.5 -1.3-13.8 -0.4-16.2 0-13.6 0.8-19.2 1.1-20.1 2.3-22.9 2.8-23.4 3.4-22.4 3.4-21.1 4.5-16.9 4.7-15.2 5-14.2 4.1-13.4 3.3-13.8 2.2-15.4 3.8-15.8 4.7-14.2 6.6-15.2 6.3-14.9 6.7-15.3 7.7-15.1 8.4-14.3zM552.8 47.6l11.5 9.7 6.4 14.3 5.1 13.8 3.7 14.2 5.5 14.4 3.9 14.2 4.2 14.8 4.4 15.1 2.5 16 4.7 15.7 3.7 14.6 3.9 15.3 4.2 15.6 2.8 16.8 5.1 18.5 6.3 21.8 6.6 20.7 6.2 20.5 5.2 19.1 3 17.5 0.7 16.2 -0.2 14.1 -3.2 15.6 -9.6 9.6 -16.5-15.8 -15.9-20.4 -14.1-18.8 -11.9-12.1 -11.3-5.4 -13.5-2.8 -12.6-0.8 -13.6 2.6 -11.3 5 -9.5 9.9 -11.8 16.1 -13.2 17.9 -15.1 20.1 -18.3 8.3 -5.3-13.8 -0.4-16.3 1.8-15.5 3.1-15.2 5.1-17.9 6.8-18.8 5.8-19.8 7.1-22.1 6.4-21.4 5.3-19 4.2-18.6 5.3-14.9 3.8-15.1 3.6-14.8 2.9-14.4 1.9-14.8 2.9-15.2 4-14.9 3.6-13.9 5.2-14 4.9-14.2 6.1-13.6 7-13.3zM561.8 55l11.3 10.1 6.9 12.2 6.1 12.9 4.6 14.5 4.6 14.8 5.3 15.5 2.3 18.1 2.9 16 2.8 17.4 2.7 14.9 1.9 15.6 3.1 14.5 2.9 15.3 2.9 17 2.7 18.4 2.8 21.1 4.1 22.1 3.9 20.5 4.2 20.4 1.7 18.6 1.1 15.6 0.8 16.7 -1.2 17.6 -8.1 10.5 -10.3-10.7 -7.2-10.3 -8-11.9 -10.2-5.6 -12.4 0.3 -16.1 1.1 -17.1 1.5 -17.2 1.4 -14.5 1.8 -11.6 3.3 -8.5 8.9 -6.5 10.8 -7.6 8.4 -10.7 3.1 -4-15.1 -0.3-15.5 0-14.5 0.6-15.1 1-18.2 2.1-20.7 3.2-22.4 2.7-22.4 2.8-21.6 2.9-19.5 3.7-17.4 3.9-13.7 3.9-14.8 3.9-14.5 2.7-16.5 3.6-17.7 3.2-16.5 5.9-16.3 6.2-15.5 6.8-14.1 6.4-12.8 6.9-13.3 6.4-12.6zM555.1 51.7l10.4 10.4 6.3 14.3 6.7 15 5.3 15.1 5.4 16.1 4.5 16 3.3 14.9 3.2 17.6 2.8 15.3 2.8 17.2 4.4 16.6 4.8 15.2 5 16.3 7.2 20.5 6.6 22.3 6.7 26.1 8.6 26.3 7.6 24.4 6.4 23.2 5.5 21 2.4 15.7 0.2 15.2 -3.9 17.4 -10.6 11 -18.8-19.8 -15-22.7 -14.7-21.8 -13.2-12.1 -12.5-2.3 -15.6-1.4 -17.7-0.8 -18.4 1.3 -15.9 1.7 -15.2 6.5 -14.4 16.3 -13.5 21.6 -15.9 24.2 -17.3 12.8 -4.7-14.3 0.8-16.6 2.4-15.8 3-16.6 4.2-20.8 6.4-23.6 7.3-26.4 8.1-27 6.3-28.2 8.6-24.2 5.9-20.9 5.5-18.2 5.3-16.6 5.3-15.4 4.5-15.6 3.8-17 5.5-14.4 5.6-14.3 6-15 4-12.4 4.8-15.2 4.8-13.4 3.2-13.8zM558.7 21.3l11.4 11.4 6.9 14.7 6.1 16.1 5.5 17.5 5.1 16.9 5.4 18.3 4.3 17.6 2.9 17.9 2.2 15.9 2.8 18.2 1.5 16.7 3.5 15.1 2.5 18.1 4.6 17.6 4.7 19.3 7.8 21.6 7.9 22.2 6.5 21.4 6.3 20 0.9 19.5 -1.1 17.3 -2.4 16.8 -3.4 15.8 -10.3 11 -15.7-17.5 -12.9-21.9 -12.3-21.5 -10.7-16 -11.6-10.3 -12.7-3.7 -14.9-1.6 -15.5 3.1 -13.1 8.1 -9.7 13.4 -11.7 17 -10.9 22.3 -14.7 21.6 -18.1 9.2 -6.9-13.1 -2.5-16.4 -2.5-17.2 1.5-16.5 1-19.3 7-21.4 7.5-22.4 8.7-23.1 8.7-22.2 6.7-21.2 4.9-18.3 3.8-16.4 3.1-16.4 3.3-15.8 2.3-16.6 2.2-15.5 4.2-16.6 5.4-16.1 6.5-16.1 6.2-15.8 5.8-16.6 6.8-16.9 7.5-16.6zM555.7 37l11.5 10.2 7 14.9 7 15 6.3 15.5 4.8 15.2 5.5 14.7 3.9 15.4 4.2 14.8 2.7 15.5 2.1 14.8 2.5 15.2 4.4 16.7 4.2 15.9 3.9 20.7 6 24.4 5.9 27 5.2 27 5.1 26.1 3.8 24 1.4 19.9 0.4 17.7 -0.5 16.2 -2.3 15.9 -8.6 11.2 -13-20.7 -8.3-24.3 -9.1-24.2 -11-12 -15-3.7 -15.4-1.9 -18-0.7 -16.9-0.2 -13.4 3.1 -11.8 6.5 -7.8 18 -8 24.2 -11 24.9 -15.3 15.8 -6.6-12.5 -0.9-16.2 1.4-15.5 2.8-16.1 5.4-21 4.1-24.5 3.6-28.4 3.9-28.6 2.9-27.9 2.1-22.7 2.6-20.7 3.1-14.4 4.6-14.1 5.8-14.8 4.7-15.2 3.6-16.3 4.1-16.2 5.5-16.1 3.4-15.8 5.2-15.7 4.3-16.1 5.7-14.7 5.6-15.3zM557.3 44.1l12.8 10.6 9.2 15 6 14.1 6.8 15.5 3.7 14.4 4.6 14.1 3.3 15.6 1.8 15.2 2.4 15.3 2.5 15.9 4.7 14.6 2.5 15.4 4 15.4 4.7 15.2 1.9 19.2 3.5 18 3.5 18.3 4.7 17.1 2.1 17 2.1 16.3 0.8 14.2 -1.1 15 -2.9 15 -10.5 10.5 -11.7-15.5 -9.6-22.3 -9.1-21.1 -10.4-16.1 -11.7-12.2 -15.3-8.3 -16.6-0.8 -16.5 2.5 -15 10.9 -11 13.5 -7.7 19.2 -8.2 22.5 -6.8 21.7 -12.7 8.7 -4.9-13.3 0.4-16.4 -0.1-15.5 1.6-16.7 0-16 3.1-17.3 0.8-18.6 3.1-18.8 2.6-18 4-18 3.5-15.5 4.8-14 4.7-14.4 3.2-14.4 3.8-14.9 2-14.8 4.1-15.5 6-15.4 6.1-15 6.3-15 6.4-13.9 6.6-14.1 7.8-13.9zM554.7 49.9l8.6 9.2 6.4 14.1 4.9 15.6 4.5 14.9 5.5 14.9 5.8 14.8 5.7 14.5 3.1 14.7 2.5 14.6 3.4 14.2 3.4 15.1 3.6 16.1 4.7 16.2 5.5 17.7 6.7 18.8 5.9 21 8.2 20.8 5.8 19.4 5.3 18.4 3.5 17.2 2.9 16.4 1.3 15.5 0.2 15.1 -6.6 10.1 -13.2-14.1 -12.8-17 -14.1-16 -14.2-12.1 -15.7-7.2 -16.5-3.2 -15.8-1.2 -13.1 2.3 -10.6 6.7 -8.2 11.4 -8.7 14.8 -8.4 17.3 -11.6 16.5 -15.9 8.2 -5.2-12.7 -1.1-14.8 0.2-15 1.6-15.9 2.8-17.4 3-19.3 2.6-20 4-20.3 1.9-20.2 4.3-18.5 4.9-18 4.8-16.1 6.5-16 3.9-16.2 3.3-14.9 0.4-15.8 1.9-15.5 2-14.7 3.7-14.2 5.6-14.7 4.3-14.5 7.3-15.6 5.9-14.3zM558.7 49.1l11.8 10.5 6.8 15.9 5.2 14.8 4.8 15.5 4.9 16 5 16.9 4 15.4 4.7 16.6 3.9 14.8 4.8 16.7 4.3 15.7 5.3 15.5 4.1 16.4 4.4 17.2 5.3 20 5.5 20.2 6.9 21.3 5.3 20.5 4.7 18.8 3.9 18.6 1.7 17 -0.6 16.7 -1.5 16.7 -9.2 11.9 -15-15.9 -12.6-21.4 -12.2-20.8 -12.4-16.2 -14.2-10.5 -16.4-5.8 -18-1.6 -16.3 3.9 -14.3 10.1 -12 14.3 -10.8 18.8 -10.9 21.2 -13.1 21.7 -16.5 8.6 -6.8-16.6 -1.2-17.9 -0.3-17.3 1.3-17.2 2.9-18.1 5.3-19.1 5.9-21 6-20 6.2-20.9 4.2-18.7 4.6-18.2 4.1-16 4.3-16 3.4-15.4 3.5-16.5 2.9-16.2 4.9-15.7 5.1-16.5 6.4-16 6.1-15.5 6.5-16.5 6.3-14.8 5.7-14.2zM556.2 60.6l7.8 9.4 4.8 10.9 4.3 12.3 3.5 12.7 3.9 13.5 3.6 13.9 3.8 15.1 4 14.5 4.6 13.3 3.7 13.8 5.1 14.7 4.8 12.8 4.8 14 6.4 13.1 6.7 12.8 7.1 13.2 8.3 12.5 7.1 14 5.2 12.9 3.1 14 1.6 14.6 0.1 14.7 -2 13.5 -9.5 9.8 -15.5-9.4 -13.6-11.9 -12.4-12.5 -11.8-10.6 -12.8-9.5 -13.8-4.3 -15.1 0.3 -12.8 3.3 -12.1 7.4 -10.4 12 -10.4 11.1 -12.2 11.5 -15 11.6 -19.1 3.8 -6-12.2 -2.7-13.1 1.1-14.3 2.3-14.8 4.5-14.9 7.1-14.2 6.7-14 7.3-13.7 7-12.7 4.7-12.5 4.9-11.4 5.1-13.1 4.4-12.7 4.4-15 2.6-14.3 1.7-14.6 2.8-14.9 2.2-13.9 3.8-11.9 5.5-12.9 4.2-11.6 5.1-12.9 7-12.7zM558.9 37.9l10.4 11.7 5.9 17.3 4.4 16.3 7.6 16.4 4.4 15.9 5.2 14.9 4.2 14.3 2.9 14.7 2.2 13.5 2.4 14.7 3.1 15.4 2.8 16.7 2.8 17 3.1 17.1 3.4 18.4 1.5 17.4 2.9 14.1 2.7 15.1 2 15 0.8 14.8 -0.5 14.2 0.2 16.1 -2.1 15 -9.7 12.1 -11.7-12.8 -7.7-18.1 -9.1-17.1 -11-15.4 -11.5-12.3 -15-6.4 -13-1 -13.6 3.7 -10.9 11.5 -8.9 13.7 -7.3 17.1 -6.3 18.9 -8.9 19.3 -12.6 6.1 -5.2-14.3 -0.5-14.3 1.7-15.8 3.1-16 2.9-16.7 3.3-16.6 3.5-16.7 3-16.4 3.1-16.7 3.1-15.4 3.1-16.8 4-14.4 4.3-16.1 2.5-15.2 3.5-16.3 0.8-16.2 3-15.4 4.8-16.7 5.9-14.9 5.6-15.2 6.3-16.2 6.2-15.8 6.6-15.2zM560.9 43l12.1 11.3 6 14.9 5.5 14.5 5 14.1 4.5 13.4 5.4 14.9 3.4 15.4 3.5 16.2 5.2 17.4 3.3 16.9 4.4 17.1 4.6 15.2 4.2 14.9 5.7 15.7 4.5 15.8 5.5 16.1 5.9 18 6.3 16.8 6 17.7 3.8 17 1.9 14.1 0.2 15.3 -0.8 14.7 -8.5 10.1 -17.1-9.7 -13.4-10.7 -12.8-11.7 -14-8.5 -16.1-6.2 -17.7-2.7 -18.3-1.7 -17.6 2.3 -16.6 5.9 -11.5 9.5 -10.6 12.8 -11.2 14.7 -13.5 11.5 -17 3.3 -5.4-15.1 -0.1-17.8 1.3-18.3 1.4-16.4 4.1-17 5-16.3 6.2-15.6 5.7-16.6 6.2-16.9 5.5-16.6 6.2-16.3 5.7-16.4 6.6-15.4 5.4-14.8 4.5-14.5 2.3-14.5 5.3-15 5.1-14.5 4.8-16.2 5.2-15.3 6.3-16.4 6-15.6 6-13.9zM558.7 50l13.2 10.7 7.7 13.8 7.7 15.7 6.2 13.7 5 15 5.8 15.2 5.2 15.1 2.8 14.6 3.3 14.7 2.7 14.2 4.1 15.7 3.5 13.8 4.6 15.2 3.6 14.6 3.5 16 1.1 15.5 2.8 16 3 16.2 1.5 16.3 1.2 15.9 0.8 16.8 -0.7 14.6 -1.8 16.1 -10.6 10 -10.5-9.1 -7.4-12.2 -9-12.4 -11.6-9.1 -14.8-6.4 -17.5-2.9 -17-1.3 -16.8 2.9 -15 6 -9.5 9.1 -7.2 11.7 -7.3 12.8 -7 11 -14.6 4.1 -4.9-15.2 -2.2-15.3 -1.1-15.3 1.4-15.2 0.8-16.1 1.6-16.1 2-16.3 1.5-16.7 2.3-16.6 3.2-16.1 3.3-15.6 5.7-16.5 4.6-15.5 4.6-14.8 3.5-15.4 3.7-16.4 2.6-14.2 5.3-14.2 6.8-14.4 6.2-12.6 8.5-14.1 7.3-13.5 8.2-14.1zM554.8 39.5l11.8 10.6 6.5 14.1 6.2 15 5.8 13.3 6.1 15 4.1 14.8 4.3 14.7 3.3 16.1 2.7 13.4 3.9 16 4.8 15 4.6 15.3 5.1 14.8 6.6 16.4 6.8 18.1 8.4 20.6 9.4 20.5 8.2 19.3 6.7 19.9 5.4 16.8 2.3 15.6 0.9 15.3 0.7 14.8 -7.7 9.6 -20.7-13.4 -19.2-16.2 -18.3-16.1 -13.4-10.9 -11.8-5.2 -13.2-2 -14.7-0.7 -13.1 1.8 -11.7 4.9 -10.7 8.5 -13 13.1 -14.5 17.4 -18.6 16.1 -19.6 6.9 -4.1-12.7 -2.8-15 -0.9-15.3 1.4-15.2 3.4-16.6 4.2-19.9 8.3-19.2 8.2-20.1 8-21 7.6-19 7.1-16.9 3.7-15.5 4.2-16.1 1-15 1.5-15 2.5-15 2.6-14.8 3.9-15 6.1-14.2 5.3-14.7 5-14.1 5.5-14.7 5-13.7zM559.4 38l11.3 10.9 5.9 15.1 4.3 13.7 4.2 14 5.1 13.9 4.2 13.2 4.5 14.5 3.8 15.7 2.9 17.7 3.2 14.8 2.7 16.1 3.5 16.2 2 15.9 2.7 18.1 3.1 20.2 1.4 21.1 4.2 22.4 5.4 20.2 3.5 20.2 2.1 18.7 -0.2 15.9 -0.6 15.7 -1.6 14.1 -8.8 9.6 -10.6-19.1 -8.4-27.3 -7.9-24.2 -8.7-18 -9.7-13.5 -11.7-6.5 -12.4-2 -14.6 3.4 -11.7 9.2 -8.5 13.8 -8 19.2 -6.4 23.7 -6.7 26.1 -9.8 12.6 -3.5-13.6 -1.2-15.2 -1.4-14.3 -0.5-15.1 0.2-17.4 1.1-18.3 1.1-21 3.3-21.2 2.9-21.6 4.2-18.7 2.4-16.6 4.1-14.7 3.2-13.7 2-14.5 1.8-14.5 1-14.4 2.5-16.8 4.3-16.1 5-15.9 6.9-16.6 4.6-14.7 6.3-16.2 6.2-13zM555.3 50.5l11 9 7.1 15 7 13.6 6.1 15.7 5.6 14.6 5.5 15.7 3.8 14.4 3.1 14.8 1.5 15.3 2.1 14.1 2.7 13.1 3.7 14 4.5 13.7 5.5 14.9 6.2 18.7 5.9 18 5.6 21.2 4 18.8 2.7 20.1 -0.1 16.8 -0.4 15.9 -0.5 14.6 -1.4 15.1 -7.7 9.4 -11.6-18.7 -11.4-24.6 -11.6-21.5 -12-17.3 -14.8-11.2 -17-5.9 -16.8-0.2 -14.2 4.8 -12.6 10.4 -9.6 13.8 -8.1 18.9 -8.8 22.1 -11.6 23.4 -16.6 9.4 -5.6-15 -2.1-15.8 1.2-15.2 2.6-14.1 5.1-16.8 6.2-17.3 3.9-18.8 6.5-18.8 3.9-19.1 3.4-19.1 4.1-16.9 4-15 4.7-15.5 5.5-15.3 3.1-13.9 4.2-15 4-12.8 3.9-14.6 4.8-13.4 5.1-14.1 4.4-15.2 4.5-13.3 5.1-15.1zM556.3 47.1l12 11.7 5.2 14.3 5.4 16.4 6.6 16.3 4.2 16.2 4.6 15.9 3.2 15.5 3.4 16.4 2.4 15.7 2.3 15.6 2.7 15.2 2.5 15.4 4 16.5 1.9 16.6 1.4 17.6 0.7 20.1 0.8 19.7 1.9 20.4 1.7 18.1 0.1 18.6 1.7 16.3 0.1 17.7 -3.1 15.9 -6.8 11.1 -8.7-13.5 -4.4-15.7 -5.1-15.6 -9.7-11.8 -11.2-6.5 -12.3-3.2 -12.1-0.2 -12.2 1.2 -10.5 7.6 -8.7 9.2 -6.3 14.3 -5.9 16.5 -5.7 15 -11.4 5.5 -6.2-15.6 -2-16.7 1.5-16.2 2.6-19 2.9-17.3 3-19.7 1.5-19.5 1-20.4 -1.1-18.9 -0.2-17.7 1.2-17 2.6-15.1 4-15.7 4-14.3 3.5-15.5 3.8-14.8 2.9-16.8 5.2-15.6 3.9-16.2 5-15.8 5.2-15.5 4.4-16.6 6.4-14.9zM556.5 46.3l11.3 9.2 7.9 13.5 5.3 14.2 4.3 14.4 3.7 15.7 4.1 16.1 2.3 17 3.5 17.5 2.6 16.7 3.2 15.5 3.8 14.9 5.1 14.4 4.4 14.4 4.7 16.3 4 17.8 2.1 20 2 20.4 2.8 19.8 0.6 18.6 1.1 16.3 -0.6 15.6 0.8 15.1 -2 15.3 -6.9 11.1 -9.1-13.1 -6.7-15.7 -5.2-14 -10.9-11.6 -11.6-6.4 -16-3.6 -16.1-1.2 -15 1.8 -13 6.2 -9.7 9.1 -7.4 15.6 -4.7 15.8 -6.2 17.2 -10.4 6.7 -4.8-15 -2.1-16.7 -0.5-16.7 -0.3-17.1 0.7-18.4 2.3-17.5 3.3-18.5 2-19.3 4.6-17.5 2.8-16.3 4.8-16.7 5.1-16.6 4.3-16.2 3.7-16.7 2.2-17.2 1.7-17.7 2.4-16.7 3.2-14.5 4.4-15.3 4.6-13.9 5-13 5.5-14.6 6.4-13.2zM555 57l11.2 9.8 6.7 13.9 5.6 13.3 6.2 14.4 5.9 15.1 4.8 15.1 4.4 15.7 1.5 15 3.5 14.1 2.9 15.7 5.4 14.4 5.6 14.9 7 16.6 7.1 16.7 7.1 17.6 5.9 20.7 6.8 18.6 5.3 18.4 4 17.3 1.7 17.1 0.2 13.7 0.3 16.5 -2.1 14.1 -9.9 12.3 -13.7-8.5 -12.9-10 -12.3-9.6 -12.5-4.7 -14.8-2.6 -16.9-0.7 -18.3-0.3 -17.7 1.1 -15 3.6 -12.8 5.5 -10.4 9.3 -12.4 10.9 -13.8 9.2 -16.5 3.1 -6.5-15 -1.7-15.2 0.5-15 1.8-14.7 4.2-16.6 4.9-17.3 7.1-18.5 7-19.2 6.7-19.5 6.6-18.3 5-17.8 4.8-16.5 5.2-15.9 5-14.6 3.2-15.6 3-16.3 4.4-15.2 6-14.5 5.5-14.4 4.6-13.5 4.4-13.9 6.4-14.7 4.9-14zM558.3 43.3l10.9 10.7 6.1 13.8 5.6 14.7 4.8 14.3 3.9 14.5 3 15.2 3.9 16.2 3 15.6 2.9 16.2 2.9 17 4 15 4.9 15.7 4.8 16 5.5 17.2 5.9 18.6 6 20.5 8.1 20.5 6.8 19.3 4.5 19.2 2 17 0.2 15.3 0.1 14.4 -2 15.1 -7.9 10.9 -13.7-16.7 -11.7-19.3 -11.5-19.6 -10.9-14.3 -12.4-7.5 -14.2-3.7 -15.5-2.3 -13.6 1.8 -12.2 7.3 -10 10.8 -9.3 16.7 -9.1 19.8 -11.4 20.5 -14.9 8.9 -5.2-14.4 -2.1-15.8 0.4-15 0.5-15.7 2-17.1 3.6-17.9 3.8-19.2 4.2-21.5 5.3-20.7 4.4-20.1 4.8-17.7 3.8-16.4 4.7-15.6 4-15.7 2.8-15.3 2.2-15.3 3.5-15.5 2.8-15.2 4.4-14 4.4-15.2 4.5-13.9 4.6-13.5 7.3-14zM556.8 51.4l12.7 11.6 8.1 13.3 6.3 15.6 7.7 15.1 6 15.5 4.4 15.4 4.4 15.8 3.2 16.4 3.7 13.8 2.8 16 3.4 15 3.5 14.5 3.3 15.6 3.3 15.5 2.6 18.4 3.2 19.4 2.8 18.9 3.3 18 2.2 17.9 0.1 17.6 0.2 15 -2.2 14.9 -3 14 -9.2 10.9 -10.4-15 -8.1-18.8 -8.4-17.7 -9-13.8 -11.4-9.5 -13.2-4.1 -11.5-1.6 -12.8 3 -8.7 8 -7.2 11.7 -6.2 16.7 -5.7 17.4 -6.7 17.3 -11.7 7.8 -7.3-14.5 -3.2-16.5 -1.4-16.7 -0.4-15.7 0.5-16.8 1.9-17.7 1.1-18.4 3.1-18 2.8-17.9 2.7-17 2.5-16.3 1.9-14.7 2.9-13.9 1.4-16.5 0.7-15 0.2-16.6 0.9-14.6 3.5-14.8 4.4-16.4 5.6-14.3 7.2-15 6.2-13.8 7.1-13.1zM556.3 55.2l9.9 9.2 3.6 13.5 4.8 13.9 4.7 14 4.8 15.5 4.4 15.9 3.7 15.8 4.9 16.8 3.8 17.4 4.7 16.1 5.5 15.2 4.9 15 5.5 13.3 7.2 16.3 7.6 17 6.4 17.7 8.6 19.1 8.4 18.2 6.4 18.2 5.8 17.9 2.8 17.5 1.8 15.3 -1.1 15.8 -8.2 9.2 -20-16.9 -18.1-22.2 -17.6-21.8 -14.9-15.8 -15.6-11.7 -17-4.6 -17.8-0.4 -18.4 4.8 -15.4 10.5 -13.3 14 -13.7 17.6 -15.3 20.1 -18.9 22.5 -20 9.5 -4.4-14.5 0.2-16.2 2.3-15.7 3.5-15.4 5.1-17.2 6.5-18.6 9.3-18.4 8.8-18.9 9-18.5 7.8-17.5 6.4-17.6 5-14.8 5.5-15.6 5.2-16.6 4.5-16.5 2.5-17.2 5.1-16.2 5.4-15.1 6.1-13.8 5.6-13.9 6.9-13.6 4.8-13 4.9-13.7zM554.4 90.7l11.2 7.9 5.9 11.4 6 11.8 4.7 11.6 5.5 13.1 5.9 13.3 4.8 13.8 4.7 13.6 3.2 13.6 4.3 11.8 4.9 12.7 4.5 11.6 6.3 12.9 7 13.3 6.1 13.7 6.7 15 8 14 7 15.7 5.9 14.1 4.5 15.5 1.1 12.9 0.7 13.9 -1.5 13.3 -9.1 9.5 -18-7.4 -15.2-8.8 -14.7-8.9 -12.9-7.4 -14.8-5.5 -15.6-2.2 -16.5-1.1 -16.2 1.5 -14.7 3.7 -12.2 6.9 -12.3 7.9 -13.5 9.9 -16 8.7 -19 1.9 -6.7-12.7 -1-14.1 1.5-13.2 2-15.1 3.9-14.1 6.7-14 6.6-13.3 6.7-13 6.7-13.1 7.2-12.1 6.1-12.7 5.4-12 5.1-12.1 5-13.7 2.7-14.6 1.7-13.9 3.8-13.4 4.3-13.3 4.8-12.3 5-12.5 5-11.3 6.9-11.1 4.5-11.6zM559.4 39.1l10.4 11.6 5.8 13.9 5.3 16.5 4.5 15.2 4.9 15.6 4 15.1 3.8 15.3 3.4 14.6 3.2 14.7 2.7 15.6 4.7 14.7 3.9 15.8 5.6 16.6 5.4 17.3 6.3 20.8 7.6 21.5 8.2 19.6 6.9 19.6 6.9 20.4 4.3 19.1 1.7 17 -0.4 17.2 -1.7 16.9 -9.6 10.9 -16.2-17.5 -14.9-23 -13.2-22.8 -13.5-16.5 -14.7-10.6 -15.9-4.9 -16.8-1 -16.7 3.1 -13.7 9.7 -11 11.7 -10 18.9 -10.6 19.8 -13.6 23.5 -15.6 9.3 -5.5-15.7 -0.4-14.1 0.4-15.7 1.2-15.6 3.2-17 4.6-18.6 5-20.6 6-22.7 4.9-21.3 6.2-20.2 4.4-17.7 4.2-16.5 4.4-14.9 4.2-15.9 3.2-14.5 2.1-16 4.2-15.4 6.4-15.1 5.7-16.4 5.9-14.8 6.6-15.4 6-15.6 5.9-14.5zM563.1 37.4l12.7 10.8 7 14.3 6.1 15.3 5.3 14.6 4.5 15.5 4.5 15.5 5.1 16.1 3.1 15.5 4.4 16 4 16.7 4.9 17.1 4.4 16.2 5.7 16.2 6.2 17.2 6.8 19.5 6.5 21.1 8.6 20.2 6.7 20.8 5.3 19.5 3.7 18.8 0.7 16.8 -1.7 16.5 -1.5 15.9 -10.4 11.5 -18.1-19.8 -15.7-23.5 -15.4-23.7 -14.7-15.5 -15.5-10.2 -18.2-4.8 -20.4-0.8 -19 2.9 -17 8.5 -13.7 12.8 -13.7 19 -14.9 23.3 -16.9 24.1 -20.2 11.1 -6.8-13.6 -0.1-15.7 2.5-15.8 3.3-16.5 4.7-18.7 6.7-19.3 7.3-21.6 7.9-20.6 7.3-20 7.2-19.4 5.7-17.9 4.8-15.3 6-17.2 5-16.6 5-17.3 3.1-16.3 6.7-16.4 5.3-15.5 6.4-15.1 6.6-15.1 8.1-14.2 7-16.1 7.6-15.7zM556.1 48.1l11.9 9.1 7.1 13.9 6.7 14.5 4.6 14 6.2 15.6 4.1 15.2 3 17.1 3.4 16 4.2 15.9 2.6 16.6 3.7 15.8 3 15.5 3 14.4 3.1 16.6 2.3 17.5 3.1 20.8 4 20.9 4.6 20.4 3 19.9 4 18.6 1.9 17.5 0.6 17.3 -0.4 16.2 -7.5 11.5 -11.7-17.7 -9-22 -9.1-21.4 -9.7-16.4 -12.9-9.4 -13.1-4.6 -12.9-0.6 -12.9 3.2 -12.9 7.4 -8.5 12.3 -8 17.3 -6.8 21.9 -9.4 21 -14.6 9.9 -5.8-14.9 -1.9-16.9 -0.3-16 1.1-15.4 2.2-18.9 2.2-18.9 3.2-18.4 3.1-20.4 2.5-20.8 2.4-18.2 2.8-18.2 4-16.8 2.6-16.2 4.6-16.8 2.2-15.8 3.5-17.4 2.9-15 3.7-15.7 4.9-14 3.8-14.5 4.6-14.1 5.4-14.2 5.5-13.7zM554.7 67.8l9.7 10.6 7.3 14.1 6 13.6 5.1 11.9 5.2 13.1 3.8 13.7 4 14.5 2.2 14.7 2.7 16.3 2.6 15.2 4.1 14.7 4.1 15.8 4.3 14.8 5.1 16.3 5.8 18.5 5.9 19.1 6.2 20.7 4.9 19.9 5.7 18.9 3.2 18.9 2.9 15.9 0.4 16.1 -1.3 15.5 -7.6 10.7 -15-12.2 -11.4-13 -10.3-13.4 -13-7.8 -12.4-3.2 -14.2-1 -14.6-0.7 -14.4 1.5 -13 1.9 -9.5 7.9 -10.5 11.7 -10.3 15.9 -11.8 12.3 -16.1 6.2 -5.2-13.6 0.6-17.4 1-15.8 2.7-16.6 5.1-19.8 3.6-19.4 6.1-20.7 4.1-20.3 4.1-18.9 4.2-17.4 3.3-16 4.5-14.4 3.7-14.2 4.2-13.3 3-15.5 1.5-16.2 4.7-15.4 3.5-15.8 4.4-16.3 3.9-12.9 3.7-14.2 4.9-13.1 4.2-12.6zM555.5 36.9l13.9 10.7 7.4 13.1 7.1 15 5.9 14.5 4.1 16.1 4.4 14.9 2.7 15.4 3 15.6 1.9 15.2 2.5 15.4 4.9 14 5.5 15.6 6.3 14.6 6.5 17.5 6.2 15.9 6.3 17.1 5.8 17.7 4.4 17.1 3.9 16.3 1.2 15.9 1.8 16.3 -0.9 14.3 -1.7 14.8 -8.2 11.7 -14.3-10.2 -13.4-13.7 -13.8-14 -13.1-10.7 -15.1-7.4 -15.9-3.9 -16.8-0.3 -15.5 2.8 -13.4 8.2 -10.1 10.4 -10 13.5 -12.2 14.3 -13.9 13.3 -16.7 4.8 -5.7-15.5 0.4-15 0.1-16.1 2-15.5 3.8-16.8 3.9-17.4 5.9-17 4.4-17.3 4.3-17.2 4.6-15.7 4.7-15.7 5.9-15.6 6.2-14.9 4.6-16.3 4.3-15.3 2.1-16.7 2.7-14.2 3.1-16.2 4.2-14.3 5.4-13.3 5.7-15.2 6.5-13.9 8.1-15.2zM558.2 68.6l12.7 10.8 7.3 14.8 5.7 14.5 6.4 13.5 5.3 14 5.8 12.6 4.4 15.1 3.9 14 3.4 13.9 3.3 14.8 3.4 15.4 3.5 14.5 2.4 14.9 3.7 17.3 3.7 18.7 3.6 19.9 5 19.3 4.5 19.8 3.6 17.7 2.5 17 1.7 15 0.5 15.8 -0.1 15.2 -8.1 10.1 -11.2-20.3 -7.9-26.4 -8.4-25.8 -11-17.8 -15.4-13.7 -17.5-7 -18.5-1.7 -17.4 3.9 -15.8 9.3 -11.4 14.5 -8.7 19.8 -8.2 23.7 -9.5 25.6 -16.1 10.6 -7.7-15.1 -2.1-15.1 0.7-15.4 0.8-15.4 4.3-16.7 4.6-18.4 3.9-19.8 3.2-20 2.4-21 3.9-17.5 2.4-16.6 4.4-15.1 5.5-14 5.6-13.8 4.9-13.1 2.7-15.1 4.8-14.4 5.3-13.1 3.8-14.5 4.7-12.2 6.8-13.2 5.8-12 6.3-13zM558.3 40.7l12.8 10.5 8.7 14.9 7 15.8 6.3 15.4 4.3 15.8 4.8 15.4 3.6 15.4 3.9 15 2.8 14.6 3.5 14.8 5.5 13.5 4.5 14.8 5.1 14.1 4.4 17.1 3.7 19.3 3.9 19.6 4.4 20 4.1 19.4 2.8 18.3 2.5 17.4 0.3 15.9 -1 15.3 -2.6 17.2 -8.4 11.5 -14.4-19.7 -11.7-26.1 -11-25.4 -11.8-20 -14.4-14.7 -16.9-8.5 -16.4-2.6 -17 3.6 -14.6 11 -12.1 16.4 -9.9 21.9 -10.4 24.4 -11.2 27.7 -16.8 11.9 -5.1-13.7 -1.6-14.9 -0.8-15.7 0.7-15.8 1.8-17.6 3.2-18.1 6.3-18.9 5.3-19.6 4.8-19.1 5.2-19.5 5.5-17.6 5.5-16.2 4.5-15.3 4.6-16.9 2-15.9 3.3-16.2 3.6-15.6 4.6-13.9 6.9-14.9 5.6-13.1 6.7-14.4 6.8-14.7 9.7-13.1zM557.6 49l10.6 10.6 6.4 12.6 5.8 12.8 6.1 15.2 7 13.7 7.4 16.4 5.1 15.3 3.8 17 2.6 15.4 1.4 15.6 1.8 15.5 1.7 15.6 5.1 14.7 4.3 15.5 7.3 19.5 7.7 18.2 8.4 19.7 7.3 18.3 5 18.6 2 16.1 -1.1 16 -2 15.3 -2.7 15.1 -10 12 -16.3-19.1 -16-25.5 -12.5-22.1 -12.1-18.8 -10.8-12.1 -14.9-8.2 -16.4-1.5 -15.6 3.5 -15 10.7 -11.2 15.2 -13 21.1 -12.9 23.4 -13.7 27.6 -16.8 12 -4.2-13.6 -0.3-15.4 0.4-15.6 0.2-15.4 2.2-18.8 2.3-18.8 5.7-19.6 7.4-19.9 8.4-18.8 7.7-18.7 6.4-16.7 5.7-15.2 3.8-15.3 3.1-16.8 0.3-15.5 1.4-16 3.8-15.5 4.2-15 7.4-14.5 8.7-13.2 7.3-14 7.8-13.2 6-13.8zM557.2 51.3l8.5 9.7 5.6 13.2 5 13.1 4.6 12.7 5.8 14.3 5.3 13 6.7 14.4 4.7 14.9 4 15 3 13.3 3.9 15.3 1.7 14.8 4.5 15.3 4.1 16.3 7.3 18.1 7.7 20 9.3 18.8 8.8 19.1 6.9 18.6 3.5 15.9 1.8 14.2 -0.9 14.6 -1.8 14.1 -8.4 9.6 -18.6-13 -13.4-14.2 -13.5-16.2 -13.2-11 -14.2-6.1 -15.4-4.4 -17.7-1 -16.7 1.1 -14.4 5.5 -10 10.2 -11.7 14.6 -12.8 16.5 -15.4 17.1 -19.1 5.4 -5.6-13.9 -1.9-16.3 1.1-16 2.6-15.7 4.8-18 5.8-18.1 7.4-17.9 8.2-18.5 5.6-18.1 5.8-17.6 4.5-16.4 3.8-14.8 4.5-14.1 4.2-14.8 4.9-14.3 2.8-14.1 5-13.7 5.8-13.3 5.4-13.1 4.8-13.5 6-14.1 4.7-13.8 4.6-12.3zM557.7 53.7l13.8 10.9 5.8 13.6 5.7 14.2 4.4 14 4.1 13.7 4.8 14.2 4.5 13.9 4.2 15.9 4.2 13.8 2.9 15.6 3.4 14.7 2.3 15.3 2.4 15 4 16.5 5 17.5 5.9 19.1 7.8 17.7 7 17.1 4.9 17.8 2.6 15.7 -0.4 14 -3 14.2 -4.4 13.5 -9.9 10.2 -15.1-16.1 -11.6-20.7 -11.6-18.8 -10.8-14.6 -11.6-11.7 -14-5 -15.8-2.4 -14.9 3.8 -13.6 8.9 -10.3 13 -9.7 16.8 -10.5 20.5 -12.8 21.6 -15.7 8.2 -5.3-13.7 -2.4-14.7 -0.8-14.2 0-16.4 2.5-15.9 3.7-16.6 5.6-17.8 6.1-16.9 5.6-17.6 5.3-17.5 5.3-16.6 5-15.8 4.2-14.3 2.6-15.5 3.8-15 2.1-15.2 2.6-14.2 5.1-14.2 4.5-14.1 6.2-15.2 6.2-13.6 7.6-13.6 8-14zM554.5 57.9l12.6 10.2 8.6 13.2 5.3 13.9 6.2 14 5.1 15.4 3.8 14.1 3.7 14.4 3.4 13.2 3.9 14.1 3.8 14.1 4.9 14.2 5.8 13.6 5 14.7 5.5 15 6.7 16.4 5.7 16.4 6 16.2 5.6 15.3 5.4 15.4 1.6 15.4 1.5 14 -1.4 15.6 0.4 14.4 -10.6 10.2 -16.9-13.4 -14.3-17.3 -12.8-16.5 -13.2-13.9 -12.5-9.8 -15.1-5.6 -15.1-0.9 -15.8 4.6 -13.6 9 -12.4 12.4 -12.4 14.5 -13 17.3 -16.7 15.2 -18.4 5.2 -6-14.5 -0.4-16.6 2.4-14.6 4.4-15.5 5-14.4 6-14.9 6.9-14.5 5.6-14.3 5.2-13.5 5.2-14 4.2-12.8 2.6-14.1 4.1-13.7 4.2-15.6 2.6-16.1 1.2-15.6 4.7-16.3 4-15.6 5.8-14.1 5.2-14.5 6.1-12.8 6.1-14.5 6.9-12.6zM558.9 61.9l10.6 9.8 7.5 13.7 4.4 14.7 5.7 13.7 4.6 14.7 5.1 14.4 6 14.3 3.8 15.8 5 15.1 4.2 15.3 2.8 15.5 4.3 15 4.1 15.2 4.7 17 5.4 16.9 7.5 18.6 7.6 18.5 7.9 18.2 5.8 17.2 3.7 16.3 1.4 15.6 0.1 16.1 -1.9 14.6 -10.4 13 -14.9-11 -12.8-14.3 -12.5-13.8 -12.5-9.3 -15.7-5.2 -16.9-3 -18.7-1.1 -17.5 1 -16.4 4.1 -11.1 7 -10.2 12.1 -9.8 15.5 -12.5 13.4 -15.9 6.4 -5.5-14.6 -0.7-16.5 0.6-15 1.6-17.1 2.5-17.2 3.7-17.2 4.1-18.4 5.5-19 4.4-18.6 4.3-16.9 4.3-16.1 4.7-14.7 4.7-14.6 4-14.7 3.4-15.2 2.3-15.2 3.2-14.6 5.1-14.4 5.3-14.9 8.1-14.8 5.7-14.6 7.9-14.1 7-13.2zM554.4 40.9l12.3 11.1 8.8 14.5 7.1 14.3 5.3 14.8 5.6 16.2 3.4 15.6 1.4 17.3 1.1 17 0.4 15.5 2.3 16 2.9 16.5 4.8 14.8 5.7 15.3 7.4 17.1 7.9 17.3 8 17.5 8.2 18.7 6.9 17 4.4 16.9 1.5 16.5 -0.8 16.7 -1.5 16.5 -2.9 15.5 -9.8 12.8 -16.7-8.9 -15.3-11 -12.8-10.8 -13.6-9.3 -12.3-5.3 -15.6-4.3 -14.5-0.5 -15.8 0 -11.4 5 -10.7 7.2 -11.2 11.3 -13.3 11.3 -17.3 10 -19.3 3.9 -7.1-14.7 -2.2-15.9 1-15.7 2.7-15.1 4.5-16.3 8.8-17 7.7-18.4 8.9-16.6 7-16.6 5.6-16.7 4.5-16.3 4.2-15.3 4.3-15 4.9-16 3.9-18.4 3.6-16.7 3.8-18.3 5.7-16.1 4.5-15.2 4.6-15.2 3.6-14.2 5.2-14.5 7.6-14.6zM557.4 43.6l11.3 10.3 7.8 13.3 5.3 14.7 6.1 14.4 5.1 15.4 5.9 16.1 4.4 16.1 4.2 16.1 3.7 16.5 3.1 16 4.9 16.3 4.6 15 4.4 15.3 3.9 18.4 4.8 18.5 5.2 20.1 6 21.4 5.3 19.1 4.9 18.6 3.2 17.5 0 15.8 -1 17.5 -2.7 16.2 -9.7 12.5 -15.2-19.3 -13.9-26.2 -11.4-25.3 -12.4-16.8 -14-13.6 -14.1-7.3 -15.6-0.3 -14.6 4.4 -11 10 -9.4 15.6 -8.6 20.8 -9.7 25.5 -11.7 27.1 -17.9 12.9 -6.8-13.9 -2.9-15.3 -0.8-13.7 1.1-16 1.7-18.5 5.2-19.7 6.2-21.7 4.4-23.3 4.7-20.6 4-21.2 2.9-19 3.3-15.1 3-15.6 4.3-16.3 3.4-15.1 3.2-15.6 5.6-15.8 5.5-14.5 6.7-15.2 5.7-14.3 5.4-15.4 5.5-14.3 6.7-16.2zM555.8 63.1l9.8 10.6 6.4 15.5 5.8 15.3 4.1 15.3 4.7 14.5 5.2 15.2 3.9 15.3 3.2 14.9 4.2 16.1 4 15.4 4.8 16 3.5 15.3 4.7 16.4 4.3 17.8 4.2 19.3 5.4 19.8 7.1 21 5.6 20.1 5 20.1 3.8 18.8 1.5 18.3 0.1 16.8 -2.4 17.2 -10.1 11.6 -16-19.8 -14.4-24.9 -12-24.3 -11.1-20 -13.3-13.3 -14.8-6.1 -15.6-2 -14.6 3.8 -13.5 9.7 -11.5 13 -11.1 20.7 -12.4 22.9 -15.3 23.7 -18.1 11.6 -5.3-15.3 -1.4-15.9 1.3-16.8 1.7-15.6 3.7-18.1 4.8-19.2 6.2-20.5 6.5-21.4 7.5-20.2 6.2-19.8 5.1-17.8 5.9-15.9 4.4-16.7 5.1-14.7 2.9-16.5 3.9-15.7 4-15.3 4.1-15.3 6.2-15.2 5.1-13.7 4.5-13.7 6.4-14.8 5.8-14.1zM555.1 37.6l8.6 9.5 5.7 13.2 4.2 14.5 5.9 14.3 3.9 15 5.3 15.1 5.3 16.5 4.9 15.7 3.6 15.1 4.5 15.3 4 12.9 4 13.4 4.5 13.5 4.1 16 3.4 18.1 4.7 18.6 5.4 20 4.2 20.1 3.4 18 3.5 16.9 1.7 14.2 1.1 14.1 0 14.8 -5.9 9.6 -12.7-13.7 -10.8-19 -9.6-18.1 -11.2-12.7 -13.3-10 -14.8-4.6 -15-0.5 -15.6 2.6 -12.6 8.6 -9.1 12.9 -9 17.2 -7.7 18.4 -9.6 19.5 -13.6 8.1 -3.8-13.2 -1.1-16 -1-15.2 1.2-16.2 1.4-16.6 3.1-17.7 3.4-18.1 4.2-17.5 3.6-18.1 4-16.9 2.4-15.5 3.8-16.2 3.7-15.6 5.4-14.9 2.6-17.2 2-16.4 4.2-15.3 4.2-15.2 5.8-14.2 3.4-14 4.6-13.3 4.9-14.9 5.2-12.8zM557.9 -6.8l14.8 12 9 18.6 6.9 19.5 5.7 19.5 4.8 19.2 3.7 18.8 2.8 18.6 3.8 19.5 2.7 19.7 3.5 19.3 5.1 18.7 4.8 19.8 3.6 20.3 4.3 19.1 2.9 21.6 2.8 20.8 4.6 21.8 3.8 19.9 3.8 20.4 1.7 18.2 0.8 19.9 0.2 18 -2.5 18.7 -8 12.6 -12.6-17 -13.5-24.6 -11.6-21.6 -13.1-19.9 -14.1-14 -16.8-7.8 -16.1-1 -16.1 4.8 -12.5 11.5 -9.8 16.8 -7.3 20.4 -9 22.9 -12.3 23.1 -15.7 8.8 -9.5-16.2 -2.2-17.9 -2.3-18 -1.1-19.5 1.3-18.3 3.2-20.9 3.9-20.9 5.5-20.8 4.4-20.3 5-19.8 4.9-20.6 5.7-17.9 5.5-19.5 5.7-19.4 4.7-18.8 1.4-19.2 4.9-19.3 4.9-19 6-18.7 6-19.6 5.9-18.9 7.3-19.5 9.1-18.7zM557.6 45l13.4 12 6.7 14.6 6.3 15.9 4.9 14.2 6.6 14.6 6.2 14.3 6.9 15.6 4.7 16.9 4.2 16.6 3.6 15.6 3 17.9 4 16.5 3.3 16.8 2.6 17.6 4.4 18.8 5.1 19.4 5.9 20.5 5.8 19.2 4.6 18.5 2.8 18.4 1 15.6 -0.9 15.9 -1.9 13.3 -9 10.5 -13.6-17.2 -11.8-20.5 -12-20.6 -10.6-12.8 -14-9.2 -16.2-4.8 -18-1.4 -18 3.1 -15.3 7.5 -10.7 11.5 -10.6 15.9 -9.4 16.7 -11 19 -15.1 7.5 -6-15.7 -3.1-14.5 -0.9-16.5 0.2-15.8 1.6-17.6 3.1-19.1 3.7-19.3 4.9-20.9 6.2-20.8 4.9-19 4.3-17.2 6-16.6 3.1-15.3 3.6-13.9 2.8-14 1.6-15.8 3.9-14.8 5.6-16.1 6.3-14.3 7.5-15.1 6.8-13.9 8.3-14 6.5-13.2zM557.2 29.7l13.5 12.6 8.4 14.9 7.9 16.8 6.7 16.3 6.2 15.5 6.4 16.4 4.8 14.5 5.1 16.4 4.3 15.7 3.5 16 5.4 16.8 5.2 15.9 6.4 15.6 7.4 17.9 7.1 19.7 7.9 20.2 8 21.6 7.5 20 5 20.5 3.6 16.3 2 15.9 1.3 15.9 -0.4 15.9 -10.2 10.1 -18.1-20 -16.5-25.3 -16.8-24.5 -17-18.3 -19.9-11.3 -21.8-5.8 -23.5-1.4 -20.2 2.9 -18.6 9.9 -13.3 12.5 -12.8 21.1 -12.8 23.6 -17.6 26.4 -21.2 10.5 -7.5-14.2 -2.6-15.8 2-16.2 2.5-16.4 5-18 6.1-18.4 7.3-20.5 7-21.3 6.3-22 6-21.2 7-17.7 7.1-16.7 7.8-15.3 7.5-16.2 6.4-15.6 4.3-15.8 5.2-14.5 4.9-15.8 6.2-14.8 5.8-16.1 5.4-15.8 6.6-14.5 8.3-14.2zM557.5 42.3l10.4 10.2 6.8 14.5 5.1 15.1 5.4 15.6 4.9 16.3 4.8 17.5 3.6 16.9 4.1 15.2 3.1 15.8 4.8 16.5 5.6 14.3 5.7 15.8 4.7 17.5 5.5 18.2 6.1 20 5.8 21.4 6.8 20.5 6.4 19.2 7.3 19.5 4.5 15.6 3.3 16.2 1.2 16.3 -1.6 15.4 -10.4 12.7 -18-15.4 -15.4-20.5 -15-21 -12.7-15.2 -16.8-10.6 -17.7-5.4 -17.5-1.2 -16.7 3.5 -16.2 8.7 -13.4 12.4 -12.3 18.3 -12.6 20 -15.1 21.3 -20.2 9 -6.1-15.5 -0.3-16.1 2.9-16.5 3.8-16 5.1-18 6.5-19.2 6.9-20 5.2-21.2 6.8-20.4 5.3-19.7 7-16 5.4-15.8 6.2-16 5.8-15.5 4.5-15.7 3.3-17.4 4.7-15.8 4.5-15.7 5.7-16 4.3-14.4 5.2-14.6 5.6-16.8 6.6-15.5z" fill="none" stroke="#b3b3b3" stroke-width="0.7" stroke-linejoin="round"/>
<path d="M557 48.4C560.5 48.4 565 54.4 567.8 58C570.6 61.6 571.6 65 573.8 70C576 75 578.4 81 581 88C583.6 95 586.8 104 589.4 112C592 120 594.4 128 596.6 136C598.8 144 600.8 152 602.6 160C604.4 168 605.7 176.4 607.4 184C609.1 191.6 610.7 197.5 612.6 205.3C614.5 213.1 616.9 222.2 619 230.7C621.1 239.1 623.3 247.6 625.3 256C627.3 264.4 629.2 274 631 281.3C632.8 288.6 634.5 293.7 636.2 300C637.9 306.3 639.8 312.7 641.1 319C642.5 325.3 643.5 331.7 644.3 338C645.1 344.3 645.6 350.7 645.8 357C645.9 363.3 645.7 370.3 645.2 376C644.7 381.7 644 387.3 643 391.2C642 395.1 640.6 397.7 639.2 399.4C637.8 401.1 636.4 401.3 634.8 401.3C633.2 401.3 631.6 400.9 629.7 399.4C627.8 397.9 625.7 395.4 623.4 392.5C621.1 389.6 618.3 385.9 615.8 382.3C613.3 378.7 611 374.7 608.2 370.9C605.5 367.1 602.5 363 599.3 359.5C596.1 356 592.8 352.6 589.2 350C585.6 347.4 581.8 345.3 577.8 343.7C573.8 342.1 569.3 341.1 565.1 340.5C560.9 339.9 556.7 339.7 552.5 339.9C548.3 340.1 543.8 340.6 539.8 341.8C535.8 343 532 344.6 528.4 346.9C524.8 349.2 521.5 352.3 518.3 355.7C515.1 359.1 512.1 363.1 509.4 367.1C506.6 371.1 504.3 375.6 501.8 379.8C499.3 384 496.6 388.9 494.2 392.5C491.8 396.1 489.4 399.1 487.2 401.3C485 403.5 482.8 405.1 480.9 405.8C479 406.6 477.4 406.6 475.8 405.8C474.2 405.1 472.7 403.7 471.4 401.3C470.1 398.9 469 395.4 468.2 391.2C467.4 387 466.8 381.7 466.6 376C466.4 370.3 466.6 363.3 467 357C467.4 350.7 468.1 344.3 468.9 338C469.7 331.7 470.8 325.3 472 319C473.2 312.7 474.8 306.3 476.2 300C477.6 293.7 478.7 288.6 480.3 281.3C481.9 274 484 264.4 486 256C488 247.6 490 239.1 492.3 230.7C494.6 222.2 497.7 213.1 499.9 205.3C502.1 197.5 504 191.6 505.6 184C507.2 176.4 507.8 168 509.6 160C511.4 152 513.7 144 516.2 136C518.7 128 521.7 120 524.6 112C527.5 104 530.9 95 533.6 88C536.3 81 538.6 75 540.8 70C543 65 544.1 61.6 546.8 58C549.5 54.4 553.5 48.4 557 48.4Z" fill="none" stroke="#00ffff" stroke-width="5.4" stroke-linejoin="round"/>
</g>
<g id="pBB">
<path id="cBB" d="M964.8 70.9l8.8 10.6 7 12.7 5.1 12.9 4.2 12.3 4 11.9 3.1 12 4.5 11.8 4.6 12.8 6.3 12.2 6.7 13.4 7.1 13.2 7.4 13.1 6.7 13.9 7.2 14.3 4.8 13.8 5.5 15.5 4.6 14.5 3.6 15.6 4.1 16 2.5 17 -0.8 14.7 -3.7 13.3 -10 7.9 -14.3-3.9 -13.7-15.9 -15.3-15 -13.4 10 -10.4 16.1 -10.8 13.6 -13.7 6 -14.2 1.1 -12.8-2.8 -10.6-8.4 -7.6-12.7 -8.9-17 -12.4-6.5 -11.4 14.7 -14.2 13.3 -14.7 2.6 -9.9-7.3 -6.1-14 -1.7-13.1 0.7-14.6 3.4-14.5 3.4-14.9 6.1-15.2 6.2-14.1 5-13.5 6.9-14.4 6.1-12.4 6-13.9 5.4-12 6-12.8 5.6-12.3 5.6-12 6.4-12.9 6.8-13.6 7.4-13.3 7.5-14.2 9.3-12.7 8.8-12.3zM954.6 95.2l9.9 9.2 8.2 10.9 7.9 11.4 9.8 11.1 9.7 10.5 9.9 11.8 9.2 10.9 6.8 12.6 7.8 11.6 5.7 13.1 5.2 13 6.9 10.4 5.8 13.2 7.5 13.1 7.4 13.7 6.6 15.9 6.9 16.7 4.1 17.7 3.1 17 2.1 15.1 -2.8 14.4 -7.8 12.3 -12.2 5.1 -15.4-9.8 -16.2-14.8 -15-11.8 -14.1 7 -9.6 13.9 -10.7 23.8 -11.4 19.1 -13.3 6.9 -12.9-6.3 -12.4-17.9 -11.5-22.6 -13.7-14.6 -15.5-3.4 -16.2 12.8 -15 14.8 -14.3 5.8 -10.9-6 -5.4-11.7 -1.7-13.9 -0.1-15.9 1.8-16.2 0.9-18.3 2.8-16 3.4-16.6 5.8-14.9 6.6-13.8 7.6-11.8 6.9-11.6 7-10.4 6.9-12.1 4.7-10.8 5.8-11.6 6.8-11 7-11.9 7.7-12.9 8.2-12.4 8.3-11.5 9.1-12.6zM961.8 73l8.9 10.7 8.2 13.3 9.1 13.4 9.3 13.1 10.1 12.3 8.4 12.5 9.1 11.9 4.7 12.7 4.8 12.5 4.6 12.5 5 13.1 5.7 14.2 6.8 14.5 7.3 14.6 9.2 14.3 8.5 15 7.2 14.8 6.1 14.7 4.5 16.1 1.1 13.9 -0.6 16.1 -7.1 13.7 -13.4 8.6 -17.3-2.1 -14.5-13.1 -16.2-11.1 -14.7 7.9 -12.3 15.9 -13.4 22 -17.5 14.6 -19.4 6.8 -18.2-4.6 -14.7-13.4 -12.7-19.4 -11.8-16.8 -17.8-5.4 -17.1 10.8 -19.2 10.4 -18.6-0.5 -13.8-10.3 -6.6-14 -1.2-16.9 4.3-14.9 7.2-15.1 8.5-13.9 7.2-14.8 8.5-14.5 8.3-11.9 7-13.2 8.5-12.9 7.8-12.8 10.2-11.3 8.3-12.2 9.1-12.7 10-14 9.1-12 9.4-13.9 7.5-14.4 6.4-14.5 8.5-14.2 5.2-13zM964.4 48.2l10.4 10 6.7 11.9 5 13 4.9 13.8 6.7 13.6 7.7 14.7 8 15.5 11 12.3 9.6 14 9.2 12.4 8.8 13.3 7.1 13.6 6.2 12.8 8.3 16.6 7.9 14.5 11.2 15.8 9 15.5 7.6 13.6 6.7 14.5 1.7 13.5 -1.7 13.9 -7.3 14.1 -16.4 7.2 -23.4-5.1 -23.3-14.6 -20.4-15.8 -13.9 8.9 -9.2 16.2 -10.9 21.6 -13.9 14.5 -14.3 6.3 -13.9-4.9 -11.1-14.8 -8.8-21.3 -11-20.1 -16.1-8 -19.2 14 -24.1 13.7 -22.7 4.5 -15.4-6.5 -7.9-10.4 -2-13 4.5-15.1 6.2-14.2 7.1-16.4 8.2-15.9 8.1-15.4 8.1-14.6 7.3-13.4 7.8-12.2 7.2-12.6 7.8-13.2 7.3-13.6 5.5-14.1 6.3-15 5.3-14.1 7.4-13.8 8.2-12.6 9.6-12.2 9.6-13.2 10.5-12.6zM967.8 55.7l10.9 10.2 6 12.5 7 15.9 7.1 13.9 6.4 15.3 7.3 15.2 6.6 12.8 6.7 15.1 6.4 13.1 7.7 12.8 6.9 14.7 8.5 15.2 7.7 14.5 8.5 17.4 8.5 18.3 8.3 19.1 6.2 19.9 4.5 20.8 3 19.5 1.2 18.5 -2 15.8 -7.7 13.7 -13.9 5.7 -17.6-11.4 -19.7-15.7 -18-11.5 -14.1 2 -12 5.2 -11.4 15.3 -14.9 13 -15.9 6.1 -13.2-6.3 -12.3-14.9 -9.2-18.2 -10.8-7.9 -16.2 0.6 -16.8 10.1 -20 14.2 -18.9 9.5 -12.6-4.8 -7.4-12 -1.2-14.5 4.2-19.5 4.6-20.8 7.3-20.5 7-21 8.8-19.1 6.7-17.4 5.8-14.8 6.9-14.3 5.2-14.4 6.4-14.6 6.6-14.4 6.4-13.9 7.2-14.5 9-12.4 8.4-12.4 10.6-12.9 9.9-13.2 9.2-14.3 9-12.9zM960.8 72.5l10.4 10.5 7.8 13.1 8 12.9 8.5 12.1 8.4 11.2 9.2 12.3 8.8 11.5 7.6 11.9 9.5 11.9 7.5 13 7.7 12.5 8 12.6 8.1 12.6 7.6 13.7 9 14.6 11.2 14.5 10.3 14.6 9.1 16.7 7.6 15.1 5.8 14.9 -0.5 15.1 -5.9 12.6 -16.8 6.4 -23.9-3.8 -23.1-8.5 -22-6.9 -16.7 6.3 -12.9 13.2 -12.7 15.1 -16.3 11 -19 2.7 -17.9-3.4 -14.3-12.8 -11.9-15.7 -13.8-10.9 -18.3-0.8 -21.1 7.9 -24.6 7.8 -22.4 0.3 -16.2-7.8 -9.9-12.6 -1.9-12.6 3.2-13.5 8.5-13 7.4-14.6 10.3-14.6 10.3-14.9 10.1-15.8 8.8-16.5 8.4-15.9 7.4-15 9.1-14.5 7.9-11.6 8.3-11.6 8.6-11.1 10.3-10.6 8.7-11.8 8.4-13 9.1-12.9 7.8-12.2 9.6-12.3zM959 67.8l9.4 9.9 7.7 12.8 7.4 12.9 5.9 13.9 7.7 14 6.3 15.4 7.6 15.1 7.9 15.4 7.7 12.6 8.3 13.2 7.9 12.5 8.4 13.8 6 11.6 7.6 13 6 15.4 6.1 14.7 4.5 17.3 3.8 16.3 1.8 17.2 1.7 17.7 -3.4 16.5 -6.7 13.9 -12.7 7.5 -14.1-6.3 -13.4-24.8 -12.1-24.8 -13.2 13.6 -9.2 26.9 -10.6 21.7 -13.7 12.1 -15.3 4.3 -16.9-2.6 -13.3-11.1 -12.4-19.7 -11.6-26.4 -13.1-13.1 -12.8 23.3 -12.5 23.8 -13.4 5.2 -11.9-6.5 -6.9-13.3 -4-15 0.1-16.5 1-16.2 2.5-17.7 3.5-15.6 5-15.2 5.3-14.2 6.6-12.3 6.8-13 8-13.7 7-14.3 6.8-15.9 7.7-15.4 7.5-16.6 7.5-14.3 7-13.9 7.3-13.2 7.6-12.4 8.2-13.1 7.6-14.4zM962.3 51.8l10.2 12.9 7.6 15.6 8.2 16.5 7.7 15.2 6.1 15.2 6.2 13.3 6.8 12.5 6.2 10.6 6.8 12.4 7.6 13.5 6.4 16 7 16.7 7.3 19.1 6.3 17 9.1 20.3 10.3 18.9 9.2 18.6 9.6 18.5 8.2 18.8 5.2 18.6 0.8 15.8 -6 14.4 -13.5 5.2 -20.7-6.6 -19.9-12 -18.7-6.3 -14 1.6 -10.9 6.2 -13.3 10.1 -15.1 11.4 -18 7.9 -17.5-1 -13.2-7 -10.9-8.8 -11.7-4.2 -14.4 2.7 -17.9 5.6 -20.8 5.9 -20.7 3.5 -12.5-8.4 -7.4-16.3 -0.1-18.6 4.4-20.7 7.7-23.1 10.5-20 8.7-20.8 8.9-15 7.9-16 6.6-13.2 5.5-14.5 6.6-15.8 7.4-17 6.5-16.7 7.2-17 7.4-14.7 7.1-14.7 5.8-12.9 5.7-12.5 6.4-14.3 7.6-15.2 6.4-14zM955.4 59.8l11.9 11.8 8.6 13.5 9.4 13.9 8 14.4 9.3 13.3 9.1 13.3 8.1 13.5 9.3 12.1 8.5 13.1 8.5 13.1 7.2 12.6 8.3 13.6 7.8 14.2 7.1 14.1 6.2 16.9 6.5 16.9 6.3 18.3 4.7 18.9 4 18.6 2.2 17 -1.3 17.1 -6.6 13.1 -13.2 7.4 -16.5-4.1 -15-0.6 -16.5 3.4 -13.6-1.4 -10.7-1.1 -11.1-20.3 -13.6-12.5 -15.1-4.3 -15.9 3.1 -13.9 8.4 -11.6 14.8 -12.9 9.1 -16.1 6.7 -15.4-1.5 -16.8-1.3 -17.3 1.1 -12-7 -8.3-12.4 -3.6-14.3 0.2-17.3 1.5-17.7 3.3-19.3 4.6-18.9 5.3-17.8 4.4-18 6.3-17 4.5-14.4 6.3-14.5 6-12.9 6-13.7 7.9-12.7 9.1-13.6 7.4-12.8 8.2-13.2 8.2-13.1 9.5-13.8 7.2-13 9.2-12.3zM959.3 68.6l10.3 10.3 9 12.1 8.6 13.4 9.1 12.4 8.2 14.6 8.9 13.7 7.1 13.8 8.2 13.9 6.6 13.5 6.4 13.1 6.2 12 6.3 14 4.9 12.9 6 15.2 6.8 17 6.7 16.8 6 17.3 4.8 18.3 5.1 18.2 1.9 17.3 -2 15.8 -6.6 15.1 -13.3 7.1 -16.4-4.6 -15.3-15.4 -15.4-12.7 -13.1 8.4 -10.4 15.1 -11.1 5.7 -13.1 0.7 -15.3 0.1 -15.5-1.4 -12.6-4.5 -11-4.8 -13-11.6 -16.7-4.7 -15.1 14.1 -14.9 13.6 -15.6 2.7 -10.9-7.6 -6.7-14.4 -1.5-16.1 1.3-16.8 3.7-17.9 3.4-16.6 4.9-17.6 5.2-16.1 6.5-16.7 6.4-15.7 5.9-13.3 8-15.5 7.6-14.4 7.4-14.8 6.8-13.8 8-14.3 6.6-13.8 7.3-11.6 5.9-11.8 6.7-13.2 8.7-12.5 7.6-12.5zM955.9 41.9l11.6 13 11.1 15.1 8.7 16.4 9.6 15.1 8.7 15.4 7.6 14 6.1 13.5 6.5 13 7.2 11.9 7.5 13.1 7.4 13.3 6.4 14.3 5 15.3 5.7 14.6 6.3 16.3 6.6 17 7.2 14 7.1 15.4 7.8 14.7 3.5 14.4 0.8 14.6 -7.5 13 -14.9 7 -21.6-1.2 -21.2-11.7 -18.9-10.3 -15.9 8.6 -12.2 16.7 -12.4 16.3 -13.7 13.2 -17.1 3 -15.1-4.3 -12.4-12.9 -9.9-17.3 -10.6-13.8 -13.5-2.9 -16.7 12.4 -19.8 10.8 -18.3 1 -15.3-8.5 -8.5-13.6 -4.4-15.3 1.4-15.8 5.5-15.6 6.3-15.8 8.5-16.1 7.8-15.5 10.2-15.7 5.7-16.1 7.5-15.1 6.8-14.3 9.2-14.9 8.5-14.6 10.3-13.8 9.9-14 8.7-14.3 7.7-14.2 6-14.1 6.1-15.1 6.4-14.7 7.7-13.9zM963.6 74.9l9.4 11.2 6.7 13.1 7.4 11.7 7.1 12.8 7.2 12.6 7.8 12.8 7.6 12.6 6.9 13.3 6.7 13.6 7.5 13.5 7.6 12.9 5.7 13.4 6.2 13 5.4 13.8 3.1 12.8 3.5 12.6 3.7 13.5 1.4 14.1 2.3 15.6 -0.2 14.6 -0.7 16.7 -7.6 13.7 -12.6 8.2 -15.3 0.5 -14.9-7.6 -13.4-7.7 -13.7 5.9 -9.7 14 -11 31.4 -12 24.4 -13.4 11.7 -14.2-7 -11.5-22.4 -10.9-29.8 -12.9-18.3 -17-5.3 -14.1 5.4 -12.4 3.5 -13.3-3.1 -11.1-9.5 -7.3-12.4 -4-13.2 -0.6-12.9 1-13.3 2.2-13.5 4.3-15.2 5.9-14.8 7-14.6 9-13.6 8.1-13.7 7.1-13.3 7.2-11.4 5.7-12.7 8.6-13.3 6.8-12.1 9.2-13.8 9.6-11.8 10.1-13.5 8.9-13.3 9.6-11.7 9-11.9zM968.8 59.1l10.3 12.4 6.2 14.6 5.3 13.8 6.2 13 5.5 13.4 6.2 14 8.3 12.4 9.1 14 9.1 12.8 8.7 13.9 8.2 15.4 7.1 13.7 5.9 16.2 5.9 16.8 6.7 18.6 7.7 20.1 8.1 19.8 8.4 19.7 6.9 19.1 5.2 15.5 -0.3 14.3 -6 12.1 -13.8 5.4 -19.8-10.3 -18.7-16.1 -19-12.1 -13.7 8.1 -10.6 14.5 -10.5 24.7 -13 18.8 -14.7 7.1 -14.4-5.6 -11.4-17.7 -11.5-22.8 -11.2-15.1 -13.4-3.5 -16.1 11.3 -19.6 15.8 -19.3 5 -14.8-7.5 -10.3-13 -5-16.3 -1.5-17 3-18.4 4.9-18.2 6.9-17.4 7.8-18.4 7.7-15.7 7-16.1 5.7-15.3 7.1-15.5 6.4-16.3 5.6-14.5 7.3-16.4 7.1-14.8 8.1-14 8-14.2 9.9-13.6 10.2-14.6 9.2-12.1 10-13.4zM959.2 67.9l9.2 9.7 8.1 11.3 5.8 12.5 6.5 13.3 6 13.6 7.1 14.3 6.6 14.5 6.1 13.2 7 13.2 7.6 11.7 7.3 12.6 7.8 13.3 6.7 12.6 6.1 14.3 7.9 17.3 5.9 17.2 5.6 18.1 4.4 18.6 5 18.4 0.8 18.6 -1.1 17 -5.8 14.8 -12.1 7.6 -15-9 -16-18.7 -15.1-15.6 -12.5 5.3 -10.1 15.3 -10.3 22.6 -13 18.1 -13.8 7.5 -14.7-5.1 -10.8-15.1 -10.3-21.2 -11.4-19 -15.8-5.8 -15 14.2 -18.4 16.4 -16.4 6.9 -12.1-6.6 -6.7-11.9 -2.3-14.4 2.7-16.3 3.9-18.6 5.8-19.6 6.5-18.8 5.9-17.3 5.9-16.2 5.6-14.5 5.2-12.6 6.7-12.8 6.3-16.3 7-15.1 7.3-15.5 7.3-15.2 6.7-14.7 8.8-11.7 6.8-12.3 7.6-11.4 7.7-10.7 6.9-11.9zM961.1 70.9l9.1 11.4 7.9 12.1 8.6 12.8 8.9 10.5 7.3 11.9 8.2 13.9 6 13.6 5.2 16.3 4.7 14.9 6.2 15.1 5.9 15.9 5.4 13.1 6.2 13.7 7.8 14.6 5.6 16.1 6.3 19.3 6.8 20.5 3.5 21.4 3.7 20.3 3.2 21 -0.9 16.7 -4.3 15 -11.7 4.9 -16.6-11.4 -16.6-23.6 -16.5-19.4 -12 7.3 -9 17.2 -9.3 0.7 -10.6-1.6 -12.5-1.1 -14.3 1.6 -11 0 -12.7-1.6 -12.8-11.3 -15.8-5.3 -16.4 16.7 -16.4 20.5 -15.3 5.7 -11.9-9.9 -6.4-15 -2.1-16.8 0.5-18 2.7-16.8 4.3-17.4 7.2-17.9 7.8-18.6 8.6-19.5 8.4-16.8 6.5-16.5 6.4-16.2 5.8-14.4 3.8-13.8 4.5-13.4 7.1-11.1 7.4-12.6 8.3-12.9 8.7-12.4 7.3-12.5 8.2-12.8 6.6-12.9zM961.4 66l10.7 11.3 8.9 13.3 9.3 12.5 7.1 14.2 7.6 14.2 7.9 13.8 6.5 13.8 6.8 14.3 7.7 13.3 7.7 13.5 9.1 13.4 7.7 15.2 7.7 14.9 7.4 17.1 6.7 19.2 7.3 19.3 6.6 20 6.1 20.6 5.4 19.4 3.9 18.7 -0.5 18.2 -6 15.1 -14.7 8.3 -18.5-11.5 -19.1-28.6 -17.3-27.1 -14.5 11.9 -11.3 22.7 -12.2 14.2 -14.3 6.7 -17.1 2.6 -15.5-1.7 -14.8-8.2 -11.8-12.2 -12.9-22.4 -17-9.5 -16.5 25.2 -18 27.7 -18.4 11 -14.5-6.5 -7.5-12.7 -3.2-15.6 2.6-19.6 4.2-20.7 6.4-22.2 7.3-20.1 8.1-20.8 7-15.7 7.5-15.5 7.6-13.6 6.2-14.1 7.5-15.3 8-16.3 7.4-17.4 9.9-16.3 7.9-15.5 8.3-14.1 8.4-13.7 7.8-12.3 7.1-12 7.5-12.6zM963 74.2l11.2 10.7 7.6 9.9 6.7 10.9 6.8 10.5 8.1 11.9 8 12.5 7.5 13.4 8.3 14.2 9.1 13.3 7.7 13.2 7.5 12.6 6.7 13 6 13.3 6.6 14.7 7 17.7 5.6 19 6.8 19 5 19.2 4.2 18.2 3.2 16.5 0.1 13.7 -5.6 12.7 -11.4 5.5 -15.2-11.1 -15.4-27.4 -15.9-25.4 -14.2 12.7 -12.1 24.9 -13.9 29.2 -15.4 19.6 -17.2 6.5 -15.3-7.9 -10.4-17.6 -9.9-28.1 -9.6-27.9 -14.8-10.4 -16.6 23.6 -19.8 27 -19.8 9 -15-6.6 -10.4-12.1 -3-14 1.4-15.9 5.2-17.3 5.4-17.1 5.8-17.8 7-17.3 5.8-15.5 6.2-15 4.7-12.2 6.9-13.4 6.1-13.6 5.2-12.9 7.4-13.5 7.1-14.8 6.8-13.1 9.5-12.9 9.2-12.4 9.4-12.3 9.9-11 10.3-10.8zM960.9 61.6l6.9 11.3 7.2 13.4 6.4 12.8 5.9 12.5 5.5 13.2 6.3 12 6.3 13.2 6.5 13.4 6.3 15.3 7.1 15.3 7.5 15.1 6.1 15.8 8.2 15.5 7.4 15.8 7.6 15.7 5.9 17.6 7.8 16.7 5.7 18.3 6.3 17.7 4 18.7 2.3 15.7 -3.7 13.7 -12.1 6.4 -15.1-4.5 -14.5-7.3 -15.3-4.7 -14.8 2.4 -11.8 6.2 -13.1 11.1 -16.2 9.8 -18.3 5.9 -17.3-3 -14.5-8.9 -9.5-11.1 -12.4-6.5 -15 0.1 -14.8 0.5 -15.1 2.9 -15.7-2.3 -11.9-7.7 -6.2-12.3 0.1-15.2 2.8-14.6 5.5-16 6.2-16.5 6.9-17.4 8.3-16.5 8.3-16.7 8.8-15.8 8.5-14.3 6.9-13.8 6.6-12.9 6.3-12.1 6.1-13.9 5.4-11.7 5.1-14.1 6.8-14.7 5-14.3 6.7-15.5 6.7-13.5 7-14.8zM958.3 47.7l9.5 11.9 8.2 14.3 7.5 12.7 7.9 12.8 7.1 12.3 5.8 13.9 6.7 15.7 6.2 13.8 6.8 16.9 8.1 14.6 7.8 14.6 7.7 13.9 7 13 6.9 15.1 5.7 16.4 5.8 18.1 4.6 19.7 3.4 19.7 3.8 19.7 1.7 17.9 -1.7 15.5 -5.9 13.1 -13.4 4.9 -17.4-7.5 -17.3-10 -15.6-3.8 -13.9 3 -9.4 7.5 -9.3 17.7 -10.8 15.8 -13 7.3 -12.5-6.2 -11.8-13.9 -10-16.6 -11.8-7.4 -13.9 2.6 -14.3 4.5 -15.3 7.6 -13.8 4.8 -11-6.9 -6.9-12.4 -3.1-15.2 2-18.8 3-20.9 4.3-22.3 5.4-20.7 6.6-19.1 6.9-17 6-15.7 6.8-12.4 5.8-13.1 5.7-12.9 5.9-14.4 5.1-14.2 7-13.5 7.2-15.3 7.8-14.8 6.8-14.1 7.1-13.9 7.7-13 7.8-12.3zM955.7 59.5l13.5 12 11 13.2 10.4 14.3 9.2 13.9 9.8 14.4 8.1 13.3 6.8 13.9 7.3 14.4 6.8 14.1 7.9 12.3 7.4 14.5 7.4 14.6 6.5 15.5 6.5 15.3 5.8 18.9 6.2 20.4 5.1 20.8 3.9 21.2 3.8 21.1 1.2 18.6 -0.8 18.1 -8.2 14.4 -13.5 7.3 -17.2-9.6 -16.1-16.6 -14.9-11.9 -14.1 5.9 -11.2 11 -11.3 25 -14.5 21.1 -16 7 -15.1-6.7 -13.2-19.7 -11.2-25.4 -12-13.7 -14.6-0.9 -11.5 12.5 -13.6 16.1 -13.6 8.5 -13.6-6.6 -9.2-13.4 -5.3-16.5 -2.6-20.7 0.2-20.7 1.5-22.9 3.3-21.3 4.9-20.1 6.8-18.3 7.3-15.6 9.1-15.4 7.4-13.6 8.8-14 8.7-14.9 8.8-14.5 7.4-14.3 8-14.1 7.3-14 6.3-13.7 6.6-13.6 7.2-13.5 8.3-15.3zM954.9 58.2l13.5 11.9 9.9 14.7 10.5 13.7 9 14.3 9.2 12.3 7.4 13.3 6.3 13.7 6.6 16.2 6.9 14.5 7.3 15.4 8.7 14.5 8 13.7 8.6 14.7 8.1 12.7 7.2 13.8 5.5 14.7 5.2 16.1 3.3 14.5 3.4 16.6 0.9 16.2 -3.7 15.3 -8 12.3 -14.3 6.8 -18.3-2.1 -17.3-7.2 -17.1-7.7 -12.9 11 -10.7 15.2 -10.1 18.3 -12.8 10.7 -15.6 3.4 -15.2-7.1 -13.1-14.9 -12.1-16.5 -12.5-14 -16.2-2.6 -16.2 8.8 -17.4 7.9 -17-0.7 -12.2-9.9 -8.4-14.7 -2.9-15.7 2.3-14.8 2.3-14.5 4.2-14.5 5.6-14.2 6.4-14 5.6-15.7 7.1-15 5.9-17.8 5.9-15 8.3-14.5 7.8-12.8 7.7-13 7.4-12.3 10.1-12.5 7.8-13.8 7.8-14.7 7.4-15.5 8.7-14.5 8.6-14.1zM964.4 80.6l6.7 9.5 4.9 11.4 4.9 12.1 6.8 12.7 6.4 12.3 8.6 13 7.5 13.1 8.7 13.4 7.3 14.3 7.9 14.3 6.5 15.2 6.1 14.5 6.4 15.1 5.6 15 7.2 15.3 8.6 17 9.3 15.7 7.2 16.9 6.6 16.1 3.6 16.9 -1.2 14.8 -7 14.5 -14.1 5.4 -19.8-4.7 -19.8-9.9 -18.8-8 -11.9 6.8 -8.7 11.1 -9.5 24.2 -11.5 20.1 -14.2 7.8 -14.7-7.1 -12.3-18.6 -9.6-25.3 -12.6-14.9 -14.9-1.8 -18.5 6.7 -21.5 7 -20 0.5 -12.7-10.1 -6.8-13.7 -1-17.1 3.8-17.6 6.7-17.3 8.3-15.3 8.4-15.3 9.6-15.5 8.6-13.1 6.7-13.5 4.3-12 5.4-12.6 3.3-13.6 5.3-12.3 6.1-11.4 7.3-12.1 8.5-12.2 9-11.4 9.5-12.2 9.1-14.2 8.5-13.6 7.1-14.3zM958.1 59.1l13.1 8.9 9.7 13.7 9.3 12.8 8.2 13.2 7.5 14.6 7 14 7.6 14.9 7.1 14.2 8.1 13.4 8.5 12.7 10.3 13 7.7 11.9 7.5 13 7.7 13.4 4.9 15.6 3.6 16.5 2.7 16.6 0.8 17.8 0.2 16.3 -1 15.8 -3.3 14.6 -7.6 13.1 -11.9 5.3 -14.7-3 -12.9-7.7 -14.9-6.4 -11.8 4.3 -8.2 9.2 -8.2 16.2 -11 11.9 -11.4 4.8 -11.7-4.8 -9.8-12.4 -10.8-15.7 -11.3-9.2 -15.1-0.6 -14 5.3 -13.8 6.4 -14.8 0.4 -11.2-8 -8.3-11.7 -3.7-13.6 -1.6-14.8 0.3-15.5 1.1-15.7 2.2-16.6 2.4-16.1 3.7-16.6 4.1-14.7 5.7-13.6 5-14.3 8.3-14.5 6-13.1 7.2-13.4 8.5-13.8 6.9-12.5 7.5-13 6.6-13.4 8.3-12.2 7.4-13.4 8.7-13zM961.6 71l12.4 9.9 9.2 11.2 7.7 11.1 8.2 11.2 7.6 13 8 13.1 6.9 13.7 7 14.5 8.2 14.2 7.2 12.4 8.3 12 8.3 11.6 8.3 11.9 6.7 13.6 8.5 15.1 7.4 18.5 6.4 17.9 5 18.6 3.9 15.2 2.2 15.7 -0.8 11.9 -7.7 12.1 -14.3 4.9 -18.1-9.7 -17.7-24.4 -16.2-22.6 -15.2 13.3 -10.8 23.7 -12.8 27.2 -14.5 15.5 -16.4 4.8 -16.3-6 -12.7-16.1 -9.6-25.3 -12.9-24.7 -15.8-11 -15.6 22.9 -18.4 24 -19.4 6.8 -13.7-6 -10.2-11.8 -4.2-13.1 -1.4-16 2.7-16.4 3.7-17.9 5-17.7 6.2-17.9 6.4-17.5 6.5-15.2 7.9-13.5 6.1-11.8 8.5-11.1 8-11.4 8.5-11 9.4-12.8 9.4-13.1 8.5-13 10.2-11.5 8.7-11.8 10.2-11.3 9.6-10.2zM957.1 58.5l10.2 10.3 7.8 13 7.6 13.3 8.3 13.3 8 13 8.8 13.7 7.4 14 7.3 14.1 7.3 14.6 8 15.8 7 13.9 7.5 13.8 6.9 14.9 6.6 15 7.8 15.1 8.1 17.6 6.5 18.5 5.8 18.3 3.4 17.3 2.8 17.2 -4 15.2 -7.4 12.8 -14.5 5.4 -19.5-6.8 -18.8-22.8 -17.5-20.6 -13.9 13.6 -11.3 23.7 -10.9 22.4 -13.8 12.4 -14.7 4.9 -14.7-6 -11.4-13.8 -9.8-20.7 -10.5-22.8 -12.8-9.8 -17.7 21.6 -17.1 20.6 -18.9 5.7 -12.5-8.2 -6.7-12.8 -1.3-16.6 3.2-17.3 5.8-17.6 7-17.3 8-16.4 8-16.2 8.1-16.1 6.6-15.1 5.1-15 5.5-14.2 5.2-13.4 5.1-13.9 6.6-13.3 6.3-13.2 7.7-14.3 7-12.8 7.3-13.9 8.5-14 7.7-15 7.7-12.9zM963 66.7l10.5 8.9 6.4 12 7.5 12.6 4.5 12.8 5.8 14.7 5.7 14.7 6.4 14 8.2 12.9 8.4 13.4 8.6 13.4 8.4 13.2 8 13.5 7.7 16.5 6.1 17 7.1 17.6 6.4 17.6 5.7 18.1 4.2 16.5 5.7 17.5 2.8 16.6 -1.5 14.8 -5.3 13.4 -13.3 6.1 -18.8-8 -17.9-19.1 -17.9-17.5 -14.7 9.1 -12.3 18.4 -12.5 14.5 -12.3 9.1 -15.3 3.7 -13.1-1 -9.9-8 -8.8-11.8 -10.4-17.3 -14.1-7.9 -15.6 15.6 -18 17.3 -17.7 4.3 -14.3-7.8 -9-13.4 -2.4-15.8 1.9-19.1 4.5-19 5.4-20.1 5.8-19.2 7.4-18.5 6.7-16 6.9-13.7 6-12.6 7.6-12.9 6.5-12.9 6.9-12.5 7.2-13 7.3-11.9 7.7-12.1 8-11.6 7.7-13.3 8.3-12.9 8.6-13.5 9.7-14.1zM960.8 54.4l10.7 12.2 9.5 13.7 7.7 13.6 7.8 12.7 7.2 12.1 6.2 13.2 7.3 14.2 6.4 13.2 8.2 14.5 7.7 15 8.1 14 5.9 14 5.3 13.8 6.9 13.7 7.4 15.5 8.9 15.9 9.5 16.1 8 17.1 8.4 16.1 3.8 16.5 0.5 14.8 -6.5 12.4 -14.5 5 -21.5-3.5 -20.3-11.4 -19.6-8.6 -14.7 6.8 -11.3 14.2 -10.4 9.2 -13.6 4.9 -15.4 2.2 -16.3-3.2 -13.2-7.1 -10.4-10 -12-11.7 -15.7-2.6 -19.2 8.5 -20 9.1 -21.2 1.8 -13-7.6 -8.2-12.9 -3.2-13.5 4.1-15.3 6.8-15.8 7.9-15 7.7-15.6 9.6-15.9 8.6-16.2 7.8-15 6.5-13.9 7.5-14.5 5.5-13.2 6.5-13.6 6.6-14.1 6.6-13.7 6.5-14.2 6.2-13.5 6.6-14.9 6.7-14.1 9-12.1 9.8-13.2zM958.6 59.6l9.4 11.4 8.6 12.8 6.8 10.9 7.2 12.8 6.4 11 7.5 13.4 7.4 13.6 7.9 13.7 7.4 14.6 8.3 13.8 8.5 13.9 7.6 13.2 6.8 12.4 7.9 14.5 6.8 14.9 8.7 16.5 7.4 16.4 7.8 18.9 6.2 17.3 3.3 17.6 0.6 15.5 -6.7 13.8 -13.7 4.7 -20.9-11.4 -20.8-25.4 -18.2-23.8 -16.5 12.2 -9.5 24 -12.2 16.5 -13.5 9.2 -15.8 3.1 -14.8-2.4 -12.3-8.7 -10.9-15.2 -13.3-22.9 -15.5-8.7 -19.3 23.1 -19.8 25.9 -19.3 9.6 -13.7-5.2 -6.1-12.3 -1.6-14.6 4-17.7 6-16.7 6.6-19.6 8.2-18.4 8.5-16.6 7.1-15.2 7.7-15.3 7.1-13.2 6.9-12.9 7.6-12.9 6.7-14.7 7.8-12.3 6.5-14.6 7.5-13.9 6.9-14.1 7.7-12.6 7.2-13.4 8-12.5 8.1-12.9zM960.1 64.9l10.1 10.5 8 10.4 7 10 8.5 11.2 7.3 11.2 7.5 10.8 7 12.4 6.9 13.4 7.5 14.6 7.4 12.9 7 14.9 6.8 14 4.5 14.5 5.8 14.5 5 14.6 3.9 15.5 3.6 17.7 2.5 15.7 1.3 16.6 -0.1 16.7 -2.3 15.1 -6.5 13.7 -11.9 7.7 -13.6-4.1 -12.5-6.6 -11.9-5.4 -11.9 6.1 -8.4 8.5 -9.8 7.8 -10.7 4.6 -12.4 1.6 -12-3.3 -11.2-9.3 -9.1-8.6 -10.5-7.9 -13.3 0.4 -13.3 7.2 -13.9 8.5 -14.9 2.5 -11.2-5.8 -7.4-11.4 -3.5-14 -0.1-16.1 2.2-17.3 3.8-17.1 3.9-18.4 4.7-17.1 5.3-16.8 3.8-16.3 4.9-14.7 5.5-14.3 5.3-13.1 6.1-13 6.3-13.4 5.4-12.8 8.5-11.6 7.6-11.9 7.2-10.9 8.4-11.1 7.3-10.7 8.1-11.7zM962.5 56.5l10.3 11.1 7.1 11.6 4.9 12.1 6.9 12.2 6.8 12.3 6.3 14.1 6.1 16.2 8.3 15.7 4.8 17.8 7.8 15 6 13.9 5 12.8 6.2 12.2 3.9 13 4.4 16 3.4 20.1 2.9 21.1 1.3 23.2 1.5 22.4 -0.1 19.4 -2 16.7 -5.6 11.9 -9.4 3.9 -10.1-9.1 -9.1-11.1 -11.2-5.3 -12.3 4.7 -10.8 6.3 -11.9 15.7 -12.9 10.8 -13.3 2.5 -12.3-9 -10.4-16.5 -7.7-16.2 -9.7-4.7 -12.6 3 -11.8 10.1 -10.4 10.4 -12.6 6.2 -12.3-7.4 -7.5-14.1 -4.9-18.1 -0.1-18.6 2.4-19.8 2.5-19 4-18.3 4.6-19 5.1-17.4 5.7-16.9 5.6-14.4 6.4-14 5.1-15 4.8-12.9 6.8-14.7 5.2-12 8-13 7.3-13.1 8.7-13.8 8.4-14.3 8.4-12.6 8.2-13zM958.5 50.1l11.4 13.1 7.6 13.5 6.8 15.5 6.5 15.5 6.1 14.3 6.5 13.8 7.6 12.6 7.5 12.9 8.8 14.2 9.1 13.2 8.1 16.7 8.4 14.9 6.8 16.9 7.2 17.1 8.2 16.7 8.7 15.4 9.3 15.8 7.2 15.4 6.1 16.2 4.7 14.9 -1.2 16.1 -4.4 14.9 -13.1 8.1 -22.2-4.2 -21.5-16.1 -19.6-14.8 -14 9.2 -10.5 21.2 -11.6 26.8 -14.1 18.8 -16.3 7.7 -14.9-6 -11.9-16.4 -10.6-24.5 -11-22.2 -13.7-8.7 -20.2 15.9 -24.1 13.9 -22.3-0.3 -13.7-10.6 -7.2-14.3 -3.5-16 4-16.2 6.1-15.9 8-13.9 9-15 8.8-15.2 8.6-13.6 8-14.9 6.6-14.1 7.1-16.8 6.6-16.3 6.7-14.4 5.7-15.7 6-15.3 5.5-14.4 6.9-14.7 6.5-14.7 8.1-13.4 9.4-15.6 10.7-15.4zM962.9 60.9l8.9 12.6 7.8 15.1 6.7 15.3 5.7 14 5.6 14.6 4.8 12.2 6.2 13.8 5.1 11.5 6.9 11.8 5.4 11.7 8.3 13.3 7.1 12.2 6.6 13.8 7.8 13.9 9.6 12.6 9.5 14.4 11 13.3 9.6 13.6 9 14.3 7.1 13.8 0.4 14.7 -6.6 14 -14.3 8 -25.2-0.5 -25.2-10.2 -21.2-10.4 -13.9 9.4 -11 15.4 -10.1 21.5 -12.7 14.2 -15.2 5.2 -14-5.9 -11.9-14.6 -9.1-20 -10.2-17.8 -14.1-4.4 -18.8 11.1 -23.7 8.3 -21.8-0.7 -13.4-9.5 -7.8-12.9 -0.6-13.6 3.6-14.3 7.3-12.5 8.8-13.5 10.5-11.7 10.3-14.2 8.6-14.2 7.1-12.8 4.5-15.1 6.8-14.8 5.5-14.1 6.3-14.1 7.3-13.7 8.5-13.5 8.5-13.4 7.6-13.9 8.4-13.5 7.5-14.4 7.2-12.5 8.2-12zM967.6 52.7l8.8 10.5 7.4 12.3 5.7 14.5 5.2 14.3 5.8 15.5 6.4 14.6 5.8 15.7 5.4 15.2 7.1 13.6 9 12.9 8.5 13.9 8.8 12.9 9.4 13.8 10.4 15.2 10.9 17.9 10.7 18.3 9.1 19.1 8.6 19.1 7.1 17.3 4.2 16.6 -0.9 14.3 -6.8 12.8 -15.7 5.1 -20.8-6.7 -21.3-9.5 -19.8-4.8 -13.9 3.6 -11.1 5.8 -12.5 17.5 -12.9 14.4 -17.4 6.2 -17-8.3 -14.1-16.6 -10.8-19.2 -13.8-7.4 -15 3.3 -16.4 7.8 -19.5 8.5 -19.6 3.8 -14.3-8.1 -8.2-14.3 -3.5-16.3 0.5-18 4-18.8 4.8-17.6 7.3-17.9 7.6-16.9 9-15.1 8.1-13.8 8.8-15.1 9.1-13.7 9.2-15 8-15.7 7.5-14.4 9.5-14.4 8.7-13.4 8.6-12.5 7.5-12.7 7.8-12.7 7.3-12.6 9-13.1zM962.3 54.8l7.7 11.8 5.8 13.4 5.5 13.2 7 13.5 8.4 13.4 8.2 13.7 8.5 14.4 8.6 15.7 7 14.9 6.6 16.2 5.4 14.1 5.8 13.7 5.4 15 6.1 13.1 4.6 14.3 4.4 15.4 3.2 16.4 1.4 17.1 1.6 17.9 0.6 17.5 -1.6 16.4 -5 15.1 -8.8 6.1 -11.1-2.5 -9.9-6.4 -10.3-2.5 -12.5 1.8 -10.2 6 -11.4 5.4 -12.4 4 -15.1 2.6 -14-2 -11.9-6.7 -10.7-6.4 -12.6-3.2 -15.2 2.6 -13 4 -11.7 1.8 -12.5-1.5 -10.1-8.6 -3.1-14.7 -2.1-15.5 1-17 2.2-15 0.7-17.2 0.7-14.7 2.4-16 3.1-15.1 5.8-15.5 6.7-15.1 6.5-15.8 8.5-15.6 7.4-15.6 8.3-14.8 7.7-12.7 7.4-12.6 8-12.7 8.7-13.4 7.5-12.8 6.7-13.7 6.6-13zM956.4 54.8l9.3 12 8 15.3 9.1 14.8 8.9 16 9.3 14.7 9.1 15.4 7.8 12.8 6.6 14.8 7.4 12.3 6 12.9 6.4 13.4 6.2 13.3 7.4 15.4 7.1 14.3 8.5 14.8 6.8 15.4 7.6 14.8 4.9 14.8 5.3 15.4 2.4 14.2 -1 14.4 -5.5 14.1 -14 7.5 -18.2-0.9 -18.1-11.5 -17.6-8.8 -15.1 9.8 -11.4 18.5 -12.9 19.3 -13.3 12.7 -16.1 4.8 -15.3-5.2 -11.7-15.2 -10.5-19.1 -12.5-17.8 -15.7-5.8 -17 11.5 -18.3 10.1 -17.8 1.1 -12.1-8.2 -7.8-13.2 -2.2-15.9 2.1-17 4.5-16.7 5.5-15.3 5.3-15.7 7.3-14.6 7.5-12.3 8.6-13.7 6.2-13.2 7.6-12.2 8-14.1 5.9-13.5 7.4-14.5 8.5-15.5 8.6-15.7 9-14.7 8-15.7 6.7-15.1 6.6-14.6 8.6-13.5zM961.2 62.8l12.2 11.6 8.6 14.1 9.2 12.5 7.7 11.2 8.9 9.4 7.3 10.7 8.6 11.2 7 14 8.3 15 8.4 15.5 7.6 16.3 8 14.8 8.6 13 6.8 12.1 7.4 12.9 6.8 13.5 6.7 16.4 5.4 18.1 4.6 20.6 2.1 18.2 -1.2 17.4 -7.4 12.9 -14.1 5.2 -18.1-5.8 -18.4-10.1 -18.8-6.3 -17 5.5 -14.3 10.6 -13.7 8.2 -17.3 7.3 -19.2 2.6 -17.3-4.2 -13.4-8.7 -11.6-8.2 -13.1-8.1 -18.1 1.1 -16 6.5 -18.8 8.9 -19.1 1.5 -13.6-7.6 -7.7-13.5 -4.2-15.3 2.3-16.4 3.3-16.2 4.8-15.4 5.3-15.8 7.3-15.6 7.2-14.8 8.9-15.9 8.7-15.8 10.2-14.8 10.1-12.9 9.3-13.8 9.3-12.8 9-12.7 9-12.3 8.1-14 8-14.6 8.9-13 9.8-13.4 10.2-11.9zM959.1 57.3l10.1 11.2 7.2 13.4 7.6 14.6 7.7 14.2 7.2 13.3 6.9 13 6.2 12.6 7.2 12.6 7.5 12.7 6.4 12.4 7.3 14.9 6 15.6 6.1 16 6.5 18.2 8.8 19.1 8 19.8 8.5 20.4 6.4 19.6 6.8 19.4 4.1 16.8 -1.5 15 -6.8 15.1 -14.5 5.3 -21-6.7 -20.3-6.3 -18.8-0.4 -15.1 2.1 -9.6 2.3 -11.7 9 -12.8 9.6 -15.5 4.4 -13.9-2.9 -11.9-9.7 -10.1-11.5 -11.4-1.5 -15.4 5.3 -17.7 0.1 -20.7 2.8 -20 4.1 -13-5.7 -7.8-13 -2.3-14.2 4.6-18.5 6-18.7 6-21.1 9.6-18.7 8-19.1 8.2-19.2 7.5-15.7 6.7-16.1 6.4-15.1 8.1-15.6 6.3-14.3 7.2-15.5 7.9-13.4 7.6-14 7.4-13.2 8.3-12.9 6.5-13.6 8.5-13.5 9.5-14zM961 64.7l8.2 10.7 7.2 13.2 6.4 14.3 5.8 13.4 6.9 13.8 8.1 13.5 7.1 11.8 7.7 13.7 6.7 12.6 7.7 13 6.9 13.3 6.2 14.4 6 14.7 5.5 16.6 5.3 19.5 4.9 20.3 5.5 22.9 2.7 21.9 4.1 20.5 1.6 20.1 -0.3 16.8 -5.3 15.8 -12.3 5.4 -16.5-11.7 -15.9-18.6 -15.3-13.2 -13.5 5 -11 9.1 -11.8 15.3 -12.4 11 -15.1 4.7 -13.6-6.5 -11.1-12.4 -9.4-16.3 -10.8-9.2 -14.3 0.1 -16.2 14.7 -16.2 18.5 -17.1 11.2 -13.4-5.2 -7-13.3 -2.9-16.4 2.3-20.4 5.2-21.1 6.4-23 7.1-22.9 6.9-21.3 5.9-18.9 7.4-16.6 5.4-13.8 5-13.8 5.5-13.1 5-12.9 6.8-13 7.2-12 7.6-13.5 9.3-13 8.8-13.1 9.7-14.6 8.7-15.3 9.1-13.3zM958.1 92.6l11.5 11.4 10.5 13 9.9 11.6 9.9 11 9.9 12.1 7.6 11.1 8.1 10.7 7.2 10.5 6.3 13 7 11 7.5 13 5.6 13.7 6.6 12.8 4.9 13.8 4.9 14.1 5.2 14.3 4.6 13.9 4.2 15.4 5.2 15.5 2.8 15.1 -2.6 15.2 -6.9 12.6 -15.5 7.8 -19.7-0.5 -19.2-1.9 -18.5-0.4 -15 2.5 -10.4 4.9 -11.3 12.4 -13 11.3 -13.3 4.9 -13.6-4.1 -12.6-11.2 -9.7-12.8 -12.6-4.2 -15 2.5 -16.2-0.6 -20.4-0.7 -18.9-2.5 -16-9.3 -9.6-12.5 -5.9-13.8 1.3-14.4 3.3-13.7 5.6-13.1 8-15.4 10.2-14 9.4-15.4 7.6-14.2 8.1-14.5 6.6-14.5 6.5-12.4 7.1-12.7 8.3-11.6 9.5-10.8 8.9-11.3 8.9-11.4 8.2-12.1 8.5-11.8 7.7-12.8 9.4-10.7zM957.9 58.7l11.9 10.9 9.6 13.7 10.6 11.6 10.3 12.5 8.6 12.3 7.7 12.9 4.6 14.4 4.1 15.1 3.6 13.8 4.7 14 6.3 15.3 7 16.1 9.3 15.1 7.7 13.9 8.7 15.7 7.6 16.2 5 15.6 3.6 15.7 1.1 16.9 0.4 16.3 -2.1 15.7 -8.4 14.9 -14.6 7 -16.8-5.8 -16.6-12.9 -16.2-9.7 -14.2 4.7 -8.5 11 -8.9 26.4 -10 19.1 -12.5 8 -14.1-6.9 -12.4-19.7 -11.6-24.3 -13.5-13.4 -15.2-1.4 -15.3 11.3 -15.5 11.4 -12.2 4.6 -9.9-6.4 -5.1-12.1 -2.4-14.4 -0.8-16.7 2.1-17 1.7-18.4 2.7-18.3 6.2-19.1 5.7-17.3 7.2-17.8 6.9-15.1 6.8-16.4 5.6-14.1 6.5-14.3 6.4-12.7 8-12.8 6.8-11.2 7.9-12.7 8.5-12.3 6.7-12.2 8.7-12.5 9-13.2zM961.7 63.6l8.6 12.4 6.8 14.3 6.4 15.6 5.8 14.8 4.7 12.6 4.5 14.7 4.4 11.7 4.2 12.3 6.9 12 8.2 11.4 8.4 11.6 9.1 13.4 8.7 13.4 6.2 14.2 4.7 13.8 1.8 15.4 1.7 14.9 0.8 14.4 0.8 16 2 16.2 -0.9 15.5 -4 15.7 -8.3 7.1 -12.3-4.8 -12-21.5 -13.5-23.7 -12.6 12.6 -10 24.6 -10.1 14.7 -13 5.9 -11.6 1.1 -13.8-2.7 -9.8-9.7 -9-13.6 -12.3-23.1 -12.7-12.5 -11.9 23.2 -11.7 22.9 -12.1 5.5 -11.1-6.2 -7-10.7 -3.1-14.3 -1.2-14.6 1.7-14.4 4.2-15.8 6.5-15.8 6.9-16.1 8.2-14.2 6-15 5.9-13.7 4.1-14.1 4.5-13.2 3.4-14.1 5.4-13.7 6.6-14.4 7.6-13.8 8-14.8 9.2-12.5 7.3-14.6 8-13.4 7-12.2zM957.9 39.5l9 10.8 7.9 13.1 6.9 15.7 7.1 14.3 6.4 14.3 7.6 15.3 6.3 14.6 7.5 14.4 6.9 14.5 7.3 15.2 7.6 16.7 8.4 17.2 7.4 16.7 5.8 17.3 5.7 17.7 5.8 16.7 4 16.8 4.9 17.9 4.4 17.8 1.8 18.9 0.6 17.2 -6.6 14.6 -12 7.5 -16.1-3.2 -16.3-7.6 -15.3-7.2 -13.1 4.2 -8.9 8.7 -9 26.4 -11.6 21.4 -14.3 9.1 -13.3-8 -11.9-21.6 -10.4-26.5 -12.8-13.4 -15.8-0.6 -17.1 5.1 -18.4 4.6 -16.4 1.4 -12.9-8.8 -7.7-13.9 -1.6-16.5 3.2-18.6 4.9-18.2 6.3-17.1 6.3-15.6 6.7-16.1 6.8-13.9 6.2-13.6 5.3-14.3 6.9-15.1 6.2-15.7 7.2-16.8 6.9-15.2 8.8-14.3 7.8-15 6.4-13.1 8.3-15.4 5.9-14.8 6.4-15.3 6.9-16.6zM963 60.2l11.5 10.4 9.3 12.4 7 13 8.3 14.4 8.6 14.5 8.4 14.8 8.2 12.5 7.1 13.7 6.9 11.3 8.5 13.6 7.6 12.6 6.8 14 7.1 15.3 7.6 15.1 6.4 15.5 9 15.6 7 14.7 5 13.9 3.9 13.9 0.1 14.8 -3.9 13.6 -9.3 12.4 -15.6 6.3 -21-4.7 -20-18.7 -19.2-18.6 -15.1 10.6 -9.2 19.7 -10.9 9.7 -12.8 5.4 -14 1.2 -14-0.8 -10.3-5.4 -9.9-8.4 -12.8-16.4 -15.9-7.5 -18.2 18.4 -21 16.5 -20.2 1.3 -14.2-10.8 -7.8-14.4 -2.8-16.6 3.3-15.3 6.2-14.2 7.5-14.2 9-13.7 8-13.9 7.4-15.2 6-14.1 5-15.4 5-14.9 5.7-13.6 5.9-11.1 6.9-10.8 8.4-8.9 10-9.8 9.3-11.1 9.2-13.4 10.9-13.7 7.9-15.3 10.1-16.6zM962.6 72.6l11.1 10 7 12.1 7.4 13.6 8 13.2 6.9 13.9 7.4 13.9 8.2 14.4 6.9 13.7 8 14.2 5.6 14.1 6.5 13.1 5.1 13.3 4.8 14.1 4.7 15.3 5.5 14.9 5.9 16.1 4.9 16.4 4.6 17.6 4 16.9 2.4 16.6 -1.4 15.8 -7.7 14.4 -13.2 7.1 -17.9 1.9 -17.6 10 -17.1 13.1 -15.3-3.8 -11.6-7.1 -12-2.3 -12.9 3 -13.4 2.7 -14.8-4.2 -9.9-6.4 -8.3-3 -11.1 10.2 -13.9 10.6 -15.8-11.6 -17.8-12.7 -17.4-4.8 -12.5-7.5 -7.3-12.7 -2-15.7 3-18 5.2-17.4 7.2-16.6 7.5-19 7.3-15.5 8.3-15.7 5.2-14.7 5.9-13.2 4.9-14 5.8-13.6 5.8-13.2 6-14.1 7.2-13.5 9.3-13.3 8.9-12 9.3-12 9.4-12.2 9.1-13.1 10.2-12.9zM961.9 81.5l8.1 9.2 5.3 11.9 7.2 12 6.2 10.6 7.5 11.6 6.9 10.3 5.5 10 6.8 11.6 5.1 10.3 5.7 10.1 4.7 11.5 4.8 10.8 5.2 12.6 5.4 12.2 8.3 15 8.7 15 7.5 16.9 8.6 17.2 7.1 15.4 4 16.2 -0.2 13.7 -7.3 10.9 -12.5 4.5 -21.6-6.6 -20.2-12.7 -18.8-10.6 -11.7 6.4 -9.2 13.5 -7.8 6 -10.4 4.4 -11.8 1 -12.1-0.6 -9.6-6.2 -9.2-5.7 -9.9-11 -12.9-3.1 -17.9 9.8 -22 11.5 -18.7 2.6 -11.6-5.2 -5-11.5 -0.6-13.1 5.6-14.9 7.7-13.9 8.5-15.7 9.1-14.6 9-15.5 7.1-13.3 4.6-13.4 4.8-12.3 5.3-12.1 6.4-9.5 5.8-11.7 6.5-9.6 7.9-10.9 6.7-10.7 7.2-11.8 6-11.8 6-13 4.9-12.6 5.4-11.8zM961.9 77.2l11.1 11.1 7.5 13.3 7.3 13.3 7.9 12.9 8.3 13.2 9 13.3 7.3 13.2 7 13.5 7.1 13.6 4.9 11.9 6.5 14.2 5.3 12.8 4.9 13.1 5.2 14.1 4.5 15.5 4 16.8 2.6 15.9 2.7 17.9 1.1 17.3 0.4 15.3 0.2 16 -5.9 12.6 -10.6 6.6 -12.1-6.3 -11.4-15.9 -14.1-13.5 -11.8 6.9 -11.9 14.9 -10.6 20.1 -12.3 13.9 -14.4 6.6 -13-6.7 -11.4-14.8 -8.8-18.8 -11.5-15.1 -15-3.5 -13.9 13.1 -12.9 13.1 -14.2 2 -11.4-9.4 -7.1-14.9 -1.8-17.2 2.1-15.2 2.7-16.2 3.5-14.3 4.7-15.3 4.6-13.8 5.4-14.4 5.5-13.9 5.2-12.2 6.4-14 5.2-13.1 5.6-13.6 6.4-11.8 5.8-14 7.5-12.9 8.6-12.7 7.4-14.2 8.9-13.4 8-13 9.2-13.7zM962.6 66.3l9.4 10.6 6.8 12.9 4.3 14.2 5.9 13.6 5.2 14.1 7.1 13.6 7.2 14.2 7.5 13.9 7.8 13.1 8.2 15.3 7 13.3 3.8 13.4 5.1 14.3 4.8 16.5 6.4 17.9 7.8 19.8 8.2 19.8 8.8 18.4 6.8 21 3.2 17.6 -1.1 15.6 -7.4 12.7 -14.2 5.2 -19.8-12.9 -18.1-25.3 -16.2-21.9 -12.2 8.7 -8.6 18.1 -9.3 16.2 -12.1 11.6 -13.1 3.3 -15.2-4.2 -11.4-12.9 -10.8-17.3 -11.3-17.7 -13.1-6.2 -15.2 21.6 -18.1 24.2 -15.8 11.5 -13.1-6.6 -6-13.2 -1.5-16.9 2.4-17.4 3.6-19.4 6.1-20.6 6-20.1 8.4-18.8 6.9-18.2 8.2-15.1 6.6-14.4 7-13.3 6.5-13.4 7.7-12.2 4.5-12.2 5.7-12.8 6.2-11.9 5.4-14 6.9-13.3 7.1-14.1 8-14 9.1-13.8zM960.3 54.5l9.6 10.3 7.8 12.6 8.1 13.7 8.4 12.5 8.1 13.8 8.6 13.9 8.2 12.9 8.2 13.8 9.1 12.2 7.7 12.3 7.4 12.4 8.3 12.6 7.2 14.3 8.3 15 9.3 16 10 17.2 10.1 16.5 10.9 17 7.6 16.1 5.7 16 0.1 14.3 -6.5 13.9 -15.9 7.2 -23.1-4.3 -23.1-11.2 -21.4-8.7 -15.1 6.3 -10.6 11.7 -10.7 19.6 -14.4 15.7 -16.7 6.9 -16.7-3.3 -14.1-14.3 -14.5-19.1 -14-13.2 -17.6-4.6 -19.9 8.1 -23.3 7.8 -21.3 2.1 -13-6.8 -8.8-12.5 0.1-15.4 4.3-16.8 8.2-17.9 7.4-18.1 8.5-17.8 8.7-15.8 6.8-14.9 6.9-12.4 5.1-11 6.4-13 7.2-12.8 8-14.2 8.3-13.8 9.6-15.3 9.9-14.4 8.3-14.4 7.9-11.6 8.4-12 6.4-11.6 6.4-12.9zM964.9 60.1l7.8 11.5 6.8 12.9 6.3 12.7 6.4 14.2 6.5 13.4 7 14.1 6.8 14.6 7.8 13.9 7.4 13.8 6.7 14.3 7.1 12.5 6.6 13.6 6.9 13.9 5.1 14.3 6.3 15.8 4.7 18.5 5.2 18.2 5.2 19 4 19.1 2.6 16.8 1 16.7 -5.4 14.6 -11.4 5 -13.9-11.7 -13.4-27.5 -13.2-25.9 -13.2 13 -8.9 24.9 -10.2 28.5 -12 19.1 -15.9 7.9 -14.1-5.1 -13.5-15.5 -10.5-23.8 -12.8-27.1 -14.5-10.9 -14.1 24.1 -14.4 25.7 -14 8.3 -11.4-7.8 -6.7-14.2 -1.4-16.2 0.8-17 2-19.8 3.5-18.4 4.7-18.5 5-17.3 6.8-16.1 6.3-16.4 6.8-14.1 6.1-14 6.7-14.5 5.6-14.3 7.7-14 5.8-12.9 7.2-12.4 8.2-13.3 6.3-13.2 7.5-13.6 7.5-13.6 7.3-13.7zM960.7 60.9l8.6 11.9 6.4 13.6 6.2 15 6.1 13.9 8.4 14.7 7 14.6 7.8 14.4 8.3 14.2 8.2 14 8 15.4 8 13.8 7.9 15.9 8 15.4 9.8 15.7 9.7 16.8 10.5 18.1 9.6 18.1 7.8 18 8.1 18 5.8 18.5 2 15.8 -3.8 14.2 -13.8 8.3 -21.6-6.8 -21.6-15.5 -21.8-14.2 -17.7 6.6 -13.4 14.5 -15.1 11 -16.2 6 -17.3 2.2 -16.2-4.8 -12.7-10.5 -10.1-13.2 -11.9-13.6 -15.6-3.5 -19.1 14.7 -22.7 16 -21.2 4.7 -13.7-8.1 -7.3-12.4 -1-15.6 5.9-18.1 6.8-17.5 7.6-18.5 9.4-19.3 9.6-18.5 10.7-17.2 9.2-15.6 8.5-14.2 8.4-14 7-13.9 6.1-13.5 6.2-12.6 5.3-13.5 6.5-13.4 5.7-14 7.8-14.1 6.8-16 9.3-14.7 6.7-15zM960.3 20.2l10 14.4 8.1 16.7 6.8 16.4 7.8 16 8.3 14.8 7.7 16.2 6.9 16.9 8 17.1 8.7 18 8.2 17 8.5 17.3 6.4 15.7 6.4 16.2 8 15.4 7.9 17.5 9.1 18.9 8.7 21.1 8 21.3 6.9 20.2 4.2 21.8 0.5 17.8 -6.9 15.1 -14.2 7.1 -21.9-10.6 -21.9-22.2 -20-19 -15.2 10.5 -11.6 21.5 -10.6 22.3 -13.2 13.5 -15.5 5.1 -16.5-4.8 -11.6-14.9 -11.1-20.7 -13.4-22.1 -17.1-7.7 -19.8 18.7 -23.3 20.8 -22.4 7.7 -15.3-6.9 -8.5-14.6 -4.2-16.9 2.5-19 5.7-20.4 7.3-20.2 8.3-20.4 10.2-20.9 9.6-19.1 8.8-17.9 9-16.7 5.9-16.4 8.2-16.5 6.6-15.5 7.6-16.7 7.7-15.7 8.1-17.1 9-18.4 8.9-17.2 8.5-16 7.8-16.2 9.2-15zM959.7 45.3l10.8 11.9 7.8 14.7 6.7 15 6.2 15.4 5.7 14.8 8.2 13.9 6.9 13.8 8.5 14.5 7.7 14.1 7.3 14.3 7.6 14.6 6 15.6 6.6 15.4 4.8 14.8 5.6 13.9 5 12.2 5 14.2 2.8 13.8 3 15.4 1.2 16.2 -1.3 17.7 -7.9 15.7 -12 9.2 -13.8 0.9 -12.9-12.5 -13-14.3 -12.7 11.2 -9.7 22.3 -10 6.5 -12.1 2.2 -12.9-0.1 -13.3 0.3 -9.6-4.3 -8.6-5.7 -11.2-16.9 -14.2-8.5 -12.8 13.6 -13.6 13.9 -14.9-1.2 -12.2-8.8 -7.9-13 -2.7-16.1 -0.5-15.7 2.5-16.2 1.9-14.3 2.5-14.5 2.7-13.5 5-13.7 4.1-14.9 7.1-15.5 6.5-17.3 8.1-14.9 7.7-16.2 6.8-15.3 8-13.9 6.8-14.7 7.5-14.3 6.9-14.4 7.1-15.4 7.3-16.5 8.1-16.7zM955.6 62.7l11 11 9.1 14.8 7.1 12.5 7.6 15.2 7.2 12.6 6.3 12.3 8.4 13 9.7 12.2 8.9 13.3 8.4 13 8 13.1 6.9 13.6 4.3 13.9 5.2 14.6 6.2 15.5 6.6 16.3 6.9 16.9 7.9 16.8 5.7 18.7 4.9 18.1 -2.1 17.9 -6.3 15.2 -13.9 8.1 -19.7-7.4 -18.8-20.1 -18-19.2 -13.2 10.4 -9.4 20 -10.5 11.3 -12 5 -14.1 2.7 -13.8-0.4 -9.9-5.2 -9.5-9 -9.3-17.8 -12.6-7.8 -15.7 17.9 -17.8 19.4 -19.5 5.8 -13.8-7 -7.6-13.1 -2-14.9 2.6-17.2 5.7-19 6.3-17.2 8.7-18.1 6.4-18.2 5.5-16.2 5.7-14.3 4.7-14.2 6.7-13.9 6.4-13.7 7.1-14.1 6.6-13.5 6.4-13.6 4.7-14.5 4-13.9 4.6-15.1 5.7-15 5.8-13.5 8.8-13.3zM960.6 57.3l8.3 12.2 6.5 13.2 6.7 14.7 5.8 14.8 6.2 14.1 6.9 15 6.4 13.6 8.2 14 8.9 12.6 8 12.4 9.7 14.7 7.6 13.4 8 15.4 5.3 13.7 7.8 15.1 5.7 17.4 6.2 16.3 6.1 16.8 5.7 17.4 4.6 16.7 0.7 16.1 -5.1 13.5 -14.3 8 -16.7-3.8 -16.8-8 -15.9-5.2 -13.6 3.6 -9.4 9.9 -11.2 15.8 -16 14.3 -17.8 4.7 -19-5.7 -13.9-15.3 -12-17.3 -12.2-9.1 -16.6 0.6 -17.2 7.7 -17.3 8.2 -18.9 1.8 -14.6-7.3 -8.3-13.3 -1.6-17 1.4-17.2 6.8-18.5 8.2-18.9 9.1-17.7 9.2-16.8 9.8-15.6 6.8-13.6 6.5-14.4 4.4-15.3 5.4-15 7.5-13.8 6.8-13.7 8.8-13.5 8.6-12.2 8.7-13.6 8.1-13.1 8.2-13.5 8.3-13.8 7.1-14.4zM959.7 71.6l9.7 10.7 8.6 13.2 8.1 11.8 7.6 12.8 8 13.3 8.2 12.9 7 14.7 7.5 15 8.6 15.4 7.9 14.8 8.2 14.9 9.8 13.9 8.2 12.8 7.4 13.9 6.3 14.5 5 15.3 3.7 16.5 2.8 17.2 3.1 18.2 1.7 18.1 -2.1 15.5 -8.1 14.4 -12.9 7.1 -15.9-9.4 -14.5-23.1 -15.4-21.6 -14.5 12.2 -11.3 23.6 -10.1 28.2 -13.3 20 -14.8 6.7 -16.6-7.7 -13.9-18.2 -13.2-27.1 -15.4-26.6 -18.7-10.6 -15.4 20.3 -15.1 22 -14.5 7.8 -10.7-7 -5.6-11.8 -1.1-14.2 2.9-18.1 2-18.2 3.5-18.5 4.1-18.7 4-18.3 3.9-16.2 5.1-14.5 7.3-13.2 7.1-14.4 7.6-13.2 8.2-11.7 7.6-14.4 9.1-12.5 9.4-13 9-13.2 8-13.9 9.7-11.5 7.8-13.3 8-13.1zM964.3 57.9l11 12.8 9.1 14.6 8.3 14.8 9.2 13.8 6.9 12.8 8.4 14.5 6.3 14.2 6.4 14.3 6.6 15.1 6.7 16 6.4 14 7.2 14.6 6.8 14 4.7 12.5 4.7 12.8 5.1 14.2 5.6 14.3 3.5 16.4 4.4 18 2.2 18.7 -1.1 17.4 -7 15.4 -12.7 8.3 -18.2-0.5 -15-2.2 -15.7 0.2 -13.1 3.2 -9.3 6.7 -9.8 0.7 -10.3 2.5 -14.2 1.2 -14.8-1.5 -12.3-4.1 -11-4.9 -12.6-0.5 -15.2 3 -13.1 0 -14.2-1.5 -14.5-2.4 -12.9-10 -8.5-14.2 -4.7-17.1 -2.1-15.9 0.4-16.6 3.1-14.5 4.2-14.9 7-15.8 7-15.7 7.3-17 7.9-17.3 6.9-16.1 5.7-16.1 5.7-13.5 6.9-12.8 8.2-12.4 8.3-12 8.9-12.4 9.5-13.2 8.7-14.2 9.5-15.3 8-13.7zM960.9 60.4l9 12.2 6.5 13.6 7 13.2 8.1 13.5 6.8 12.6 8.8 12.6 8.9 12.5 7.9 12.7 8.8 12.9 9 15.1 7.2 13.6 7.1 13.8 6 13.8 6.7 14.8 6.7 13.9 6.8 13.1 5.7 14.2 5.2 14.2 5.1 14.4 2 15.5 -0.4 14.8 -6.6 13 -12.6 6.7 -15.3-8.6 -14.5-25 -16.2-24.7 -13.3 15.2 -11.8 29.8 -11.4 3.2 -14.1-4.8 -17.2-3.9 -15.6 1.4 -13.2 1.1 -10.9-2.3 -11.3-23.8 -14.7-12.7 -13.7 25.8 -13.5 27.5 -15.3 6.1 -11.9-6.4 -6.7-12.6 -2.6-15.6 1.1-14.8 2.3-15.9 3-14.9 4.1-15.7 4.8-14.3 4.5-13.6 6.3-14 7-12.9 6-13.3 8-14.5 7-13.8 6.8-14.5 7.7-14.1 9.3-13.9 6-15 9.1-12.9 7.5-13.7 7.1-12.5 6.6-12.7zM958.1 57.8l9.4 12.8 7.9 15.3 8.4 15 7.9 15.9 10.8 15.1 10 14.3 10.3 13.8 10.3 13.7 10.4 12.3 11.1 12.5 8.7 13.3 10.8 12.3 10.3 13.4 10.2 14.9 8.5 14.8 9.5 17.3 7.6 17.5 6.4 17.8 5.5 18.3 3.4 18.8 0.2 15.4 -8.1 15.3 -15.7 7.6 -20.6-10.9 -19.5-31.2 -19-29.6 -17.6 14.6 -13.1 29.4 -13.8 31.1 -18.1 18.8 -20.1 6.9 -20.2-5.1 -15-15 -13.5-27.3 -14-31.4 -21.1-13.2 -20.8 28.1 -22.4 29.3 -22.7 7.2 -18.7-9.8 -8.9-14.1 -2-16.5 3.9-17.6 6.8-16.8 7.9-17 9-18 8.6-16.2 9.1-16.3 9-15.8 8-16 8.6-14.9 9.2-15.2 8.3-14.6 9.5-14.9 9.8-13.8 9.5-13.5 9.5-13.5 7.7-13.9 8.9-13 8.1-12.9 6-14.2zM955.8 66.2l9.5 10.1 7.4 11.5 8.2 12.9 8.1 12.6 7.8 14.1 8.3 13.6 7.4 13.6 8.5 13.9 7.9 13 7.8 12.8 7.6 12.5 7.9 11.4 6.1 13.2 7 13.7 8.4 16.2 6.8 17.1 6.9 18.9 6.1 18.8 4.1 20 3.8 18.9 -2.5 15.9 -5.6 13.5 -14.3 5.1 -19.3-11.1 -17.8-24.2 -17.7-21.7 -14.2 8.9 -11.2 18.9 -12.7 28.4 -14.7 21 -16.9 8.7 -15.3-5.8 -12-18.2 -10.3-26.2 -11.1-23.3 -15.4-8.6 -17.3 18.9 -19.9 22.2 -19.8 8 -14.7-4.7 -6.9-11.6 -1.4-14.6 4-16.8 7.5-18.1 8.4-19.5 9-18.9 8.9-19.2 7.6-17.4 6.4-14.8 6.7-13.6 5.8-13.5 6.8-11.4 7.7-12.9 7.9-12.6 7.6-12.2 7.6-10.7 7.3-13.2 6.6-12.5 6.4-13.1 6.6-12.7 6.1-13.2zM957.7 68.1l10.9 11.2 9.1 14.5 10 14.2 9 12.9 8.8 13 7.1 12.5 6 11.9 5.7 12.5 5.9 12.3 7.2 14 8.7 15.5 6.9 14.5 7.4 15.4 8.1 15.6 6 15.2 5.3 15 3.6 15.9 2.2 14.9 2.3 15.6 1.7 17 -0.1 15.8 -5.5 14.5 -11 6.7 -16.3-10.4 -14.2-33 -15.9-33.4 -15.7 16.9 -12.3 32.8 -12.1 29.7 -13.7 16.6 -14.5 5.5 -13.7-3.4 -10.7-16.2 -10.8-25.8 -12.5-35.6 -16.1-19.3 -15.7 31.1 -17.1 31.8 -16.5 8.7 -12.7-8.3 -8-11.7 -2.5-14.5 2.2-16.8 3.4-15.2 3.9-15.4 6.6-16.2 5.7-16.2 6.4-15.6 5.9-15.5 5.9-14.6 7.1-15.1 8.1-14.4 6.8-14 7.8-13.1 8.9-12.6 8.8-11 8.2-12.3 7.9-13 7-13.4 7.5-12.9 7.6-13.8zM958.6 58.9l8.8 10.6 4.9 14.4 6.4 13.4 5.2 13.7 6.1 14.9 5.7 12.3 6.7 13.8 7.5 12.9 8.5 12.2 8.2 13.3 7.5 12.5 7.1 14.5 4.5 14.1 3.7 14.4 4.6 15.1 3.9 13.8 4.9 14.6 4.6 14.8 5 14.8 4.4 14.1 0.1 16.6 -5.3 14.1 -11.8 8.7 -14.3 1.5 -15.7-1.2 -13.9-2.8 -13.6 5.6 -8.8 9.3 -10.4 16 -13.2 14.5 -15 5.8 -15.2-4.9 -12.1-15.6 -9-18.8 -11.2-10.7 -11.8-1.2 -12.3 2.4 -13.6 1 -15.1-4.2 -11-8.3 -7.3-13.3 -2.8-14.6 2.5-14.4 4.5-16 6.7-15.4 6.8-14.3 7.5-13.7 7.1-13.6 5.4-13.9 4.3-13.1 5.2-14.5 5.6-13 5.7-15 8-13 7.1-13.9 8.6-13.5 7-12.3 6.7-13.2 5.9-13.1 6.2-13.1 6.7-13.2zM967.2 44.1l8.1 11.8 7.4 14 6.4 16.4 5.7 15.2 5.9 15.9 4.5 15.1 4.4 15.2 5.1 13.5 5.1 13.7 6.9 13.8 7.2 15 7.7 14.9 7.7 15.9 7.5 15.9 6.3 14.9 7.4 14 5.9 15 5.3 15.5 6.4 15.4 5.9 16.4 1 16.7 -4.6 14.8 -12 9.1 -17.3-3.3 -15.8-15.9 -17.3-15.5 -15.8 9.7 -12.6 20.1 -11.5 36 -14.3 27.5 -16.9 10.3 -17.1-8.6 -13.8-24.7 -11.4-35.1 -14.1-25.5 -14.8-10.6 -15.2 14.5 -14.1 14.4 -13.5 0.7 -9.9-8 -5-12.3 -1.4-14.6 2.2-15.6 3.3-16.1 3.4-15.3 5-14.8 6.3-17.2 7.1-14.3 7-16 6.6-16.6 7.4-15.9 7.1-14.9 7.1-14.7 8.6-13.8 10-12.6 8.7-13.3 9.9-12.6 8.9-13.2 7.9-14.3 7.4-15.4 7.1-16.4zM961.6 73.7l10.4 10.4 9.8 10.8 7.8 13.2 7.6 13.3 8 13.3 7.1 13.2 7.4 13.4 5.6 12.9 6.1 12.5 5.4 12 4.8 12.8 5.2 12 5.3 12.8 7.6 12.2 7.6 16 8.5 18.5 6.8 17.5 6.3 17.3 3.8 16.2 1.7 15.9 -3.4 12.7 -7.8 11 -14.2 3.5 -19-9 -17.2-17.2 -17.4-12.2 -11.5 7.3 -9.6 13.6 -9.8 16.2 -11.4 11.8 -12.6 4.5 -12.9-4.8 -10-10.3 -9-15.4 -10.1-13 -13.8 0.5 -15.8 14.3 -19.2 15.8 -18.7 7.8 -12.5-5.8 -7.9-11.8 -3.4-15.1 1.4-16 4.5-18.4 5.8-17.6 6.2-18.3 7.4-16.8 8.1-15.5 6.8-14.4 6.5-13.8 6-14.4 5.5-14.6 6.1-13.6 5.9-13.6 5.6-13.4 7.1-12.5 6.2-12.6 8.9-11.3 7.8-11.1 8.6-12.3 9.7-10.9zM957.2 50.1l11.7 12.4 9.5 16 8 13.8 8.4 15.7 6.9 13.3 7.4 12.3 6.3 13.5 6.6 14.8 6 14.8 7.9 15.1 7.1 15 7 15.6 6.2 15.1 7.1 14.5 6.2 15.1 5 14.7 3.7 15.9 3.5 15.6 1.2 15.4 0.6 16.8 -2.6 14.9 -8 13.4 -12.7 7.4 -16.3-3.9 -16.1-17.4 -15.4-18.1 -13.9 12.6 -10.6 22.2 -10.7 15.2 -11.2 7 -13.4 0.2 -11.5-4 -9.4-9.5 -7-14.2 -9.4-20.5 -10.8-8.3 -14 19.5 -15.2 17.5 -16 2.2 -13-9.1 -7.5-13.2 -3-15.5 0.3-13.8 2-15.8 4.2-13.9 5.7-16.4 4.6-15.6 6.3-16.9 5.8-17 5.4-18.3 6.3-13.4 6.3-14.9 7.8-12.5 7.1-12.9 8.6-10.9 6.5-13.5 7.4-14 5-16.2 6.3-15.9 7.1-15.6 8.7-14.6zM960 76.2l8.9 12.7 6.9 12.1 5.7 13.3 6.5 12.6 5.8 12.1 6.4 13.7 6.6 14.9 6.4 12.7 7.6 13.6 6.6 13.1 6.8 12.1 6.3 13 5.3 11.8 4.2 14 4.4 14.1 3.3 14.3 3.4 16.1 3.4 16.2 2.8 14.1 2.1 14.8 0.4 14.9 -6.5 12.6 -12.1 5.8 -12-7 -12.2-17.3 -12.4-16.3 -14.2 12.4 -11.3 25.2 -11-4.4 -13.8-8.2 -14.6-4.4 -14.2 3 -11.4 5.3 -9.5 4.4 -11.3-15.1 -16.2-9 -12.3 17.4 -12 19.4 -12.3 4.9 -11.7-7.4 -6.4-14.2 -0.9-17.5 1.3-18.5 3.7-18.6 4.1-18.1 4.6-17.6 4.6-17.1 4.1-14.7 6.4-14.6 5.6-13 5.3-13.5 5.7-13.8 4.7-14.6 5.8-13.9 7.2-12.8 8.9-12.2 7.4-10.3 8.4-10.8 10.2-10.8 9.5-9.7 9.1-10.8zM962 72.1l15.7 10 13.9 12.3 10.9 13.1 10 12.1 9.8 10.8 9.8 10.9 7.1 11.1 9.9 12.8 8.5 11.1 9.6 12.2 8 13.5 7.6 12.5 7.3 13.8 4.6 12.7 4.4 15.3 3.9 16.6 1.3 17 0.6 16.7 1.2 18.2 -0.6 16.8 -2.3 12.1 -8.6 10.7 -13.4 3.5 -16.5-11.9 -16.1-26.9 -16.7-24 -16.5 11.7 -14.3 23.8 -12.2 25.3 -12.9 14.4 -14 5.1 -13.2-6.7 -9.9-15.6 -10-22.5 -14.4-23.7 -17-8.8 -18.2 24.3 -17.3 27.5 -18.5 9.1 -15.5-5.2 -9.7-11.6 -3.5-13.1 1-16.6 2.2-16.2 3.3-17.1 0.6-15.8 3.9-15 2.4-15 3.9-14 4.9-14.4 6.5-12.9 7.8-12.8 9.5-12.8 9.4-12.4 11-10.4 8.9-10.9 10.1-11.8 10.1-11.6 10-12.2 12.1-14.1 12.3-11.7zM963 53l11 10.9 8.4 13.1 7.3 12.9 8.2 13.2 6.6 12.5 6.8 12.8 7.3 13.5 7.7 13 6.1 13.2 7.1 14.1 8.8 12.6 5.3 12.7 6.4 13.7 5.8 16.6 7.7 17.6 6.1 20.5 6.6 20.1 6.5 21.8 5.4 21.8 2.1 20.4 -1 16.9 -6.4 15.5 -13.9 5.5 -19.9-15.7 -18.5-33.3 -18.8-31.9 -14 11.7 -10.9 24.6 -10.7 34.8 -13.5 22.9 -14.7 9.6 -14.2-6.5 -11.8-21 -8.3-32.2 -10.5-29.4 -14.7-11.2 -17.7 29.8 -19.5 34.5 -20.1 12.8 -15.1-4.9 -8-13.4 -2.1-15 2.3-19.3 5.6-21.4 7.3-22.5 8.3-21.3 7.2-21.5 6.8-17.9 6.6-14.9 5.4-12.6 7-13 6.7-12.5 7.4-12 8.3-14.9 7-14.4 8.6-13.4 9.5-15.6 5.8-14.3 8.9-13.7 9-11.8 8.9-13.3zM956.9 48.5l9.3 11.9 6.5 13.5 8.2 15.7 8 13.8 7.4 15.1 7.1 14 6.1 14.5 5.8 15 6.5 13.8 6.1 14.5 9.7 13.9 7.8 12.8 9 13.8 8.8 13.5 8 13.2 8.9 12.2 6.8 11.1 5 11.7 5.1 12.5 4.1 14.1 0.2 14.6 -5 13.9 -10.9 9.1 -17.5 3.6 -19.1-2.7 -17.1-2.9 -13.6 7.9 -9.8 13.9 -10.3 21.1 -11.8 14.3 -15.3 5.8 -13.9-5.2 -13.1-14.9 -10.8-20.4 -13.1-13 -14.2-3.8 -16.5 4.2 -17.6 0.7 -16.4-7.7 -11.6-12.4 -7.5-14.6 -2.3-14 1.9-13.1 2.8-10.8 3.5-12.4 7-11.9 7-13.5 8.6-13.8 7.9-15.4 7.4-14.5 6.1-14.6 5.6-12.8 6.3-12.7 4.8-11.7 5.9-13.4 6.4-12.9 7.3-13.5 6.9-15.2 5.9-14.9 7-15 6.6-15zM962.2 72.1l13.6 10.4 8 11.9 8.3 12.2 8.2 12.8 6.7 13 7.3 14.1 6.2 14 6.4 15 5.8 14.4 6.3 13.6 6.8 13.7 6.8 12.5 7.4 12.8 8.8 13.3 10.6 12.2 11.3 13.8 10.7 13.5 8.7 13.9 6.5 13 2.8 14.3 -2.7 14.4 -9.1 12.2 -15.2 7.3 -24.8-3.3 -24.8-11.1 -20.3-11.5 -12.9 11.5 -9.9 19.9 -10.9 49.2 -12.4 36.7 -15 13.5 -14.2-15.5 -10.9-33.5 -10.1-46.2 -10.7-27.2 -14.3-6.5 -19.5 14.7 -26.8 13.6 -25.4 2.1 -16.1-6.9 -9.8-12.1 -4.2-15.3 3-16.4 6.8-16.5 9.9-15.3 11.5-14.7 13.2-13.3 10-13.9 8.1-11.4 5.7-13 5.3-13.1 4.5-13.8 4.8-14 5.3-13.9 7.5-13.3 6.7-13.9 9.8-12.8 8.9-12.4 9-12.7 9.8-12.5 10.3-12.6zM960.6 57.2l8.4 13.3 6.9 17.3 5.7 16.1 5.6 15.2 5.2 14.4 6.4 14.1 7.9 14.2 8.2 13.7 8.8 13.4 8.2 13.8 9 15 8.4 15.7 7.6 14.9 6.9 16.3 5.5 15.7 5.1 17.7 3.5 18.3 2.3 19 2.8 18 0.5 18.4 -1.7 17.1 -6.2 14.1 -12 7.7 -13.4-4.6 -12.9-11.8 -13.3-6.1 -14.2 6.4 -10.2 13.5 -11.8 9.6 -13.8 7.8 -15.2 1.7 -14-4.8 -11.5-10.1 -10-11.8 -12.8-10.2 -14.9-0.5 -14 9.5 -15.1 10.8 -15.6 2.7 -12.5-8.6 -6.1-13.6 -1.1-16.5 2.9-18.2 4-19.1 3.8-18.8 4-19.2 5.1-18.1 4.1-17.9 5.3-17.2 5.9-15.3 7.6-15 7-14.5 7.3-15.4 8.1-13.9 7.6-14.6 7.8-13.4 6.7-16.3 7.8-15.9 7.8-14.9 7.6-14.9 9-14zM957.6 38.3l7.9 13.1 7.6 14.8 7.5 13.6 9.1 15.5 9.1 13.4 9 13.9 7.2 14 8.5 14.7 6.7 14.5 7.1 14.8 6.2 14.7 7.3 15.3 7.8 16.7 8.8 18.2 8.6 19.4 8.2 19.5 7.8 20 7.4 18.5 5.2 17.8 3.6 17.2 -0.8 15.1 -5.7 14.4 -13.9 6.4 -19.4-9.6 -20.9-26.6 -19.1-22.8 -17.4 13.1 -13.2 25.2 -12.8 19.3 -14 10.1 -16.5 1.5 -14.8-4.5 -13.1-11.7 -10.2-17.1 -11.8-25 -15.5-10.6 -18.1 24.6 -19.7 27.6 -18.9 11.1 -12.4-4.1 -8.3-12.3 -2-15.9 1.6-19.4 4.2-20.7 5.6-21.7 7.2-22.2 7.1-20.8 9.4-17.5 10.6-18 8.5-13.5 9.1-13.8 7.3-14.2 7.1-15.6 7.5-15.3 7.3-16.7 8.4-14.9 8-16.3 7.9-14.3 7.3-14.7 7.3-13.2 7.2-12.9zM958.2 80.1l9.3 8.7 6.2 10.8 6.7 10.8 7.5 11.7 8.1 13.2 9.2 12.5 7.5 13.2 8.5 13.2 7.7 12.5 6.2 12.4 7.2 12.5 5.8 11.8 6.2 13.9 6.6 13.3 7.5 13 6.6 15.8 6.9 16.2 6.1 15.5 5 14.9 2.7 15.4 -1.8 14.4 -6.6 12.1 -12.5 6.1 -19.2-9 -17.3-27.2 -17.7-25.9 -14.8 14.9 -9.6 27.7 -11 25.4 -12 15.3 -15.1 5.9 -14.1-3.8 -11.2-14.6 -10.2-24.2 -11.7-27.7 -15.6-14.8 -16.2 23.1 -18.2 24.6 -15.3 5.3 -11.5-7 -5.8-12.7 -0.9-12.4 3.5-14.8 4.5-14.1 5.1-13.9 6.6-14.7 6.4-14.8 6.7-14.4 7-14.6 6.6-14.2 6.4-14.8 5.7-14.9 6.1-13.5 5.6-12.6 7.9-11.4 6.2-10.4 7.5-8.9 7.7-9.9 7.9-10.7 8.3-11 6.6-11.8zM960.2 64.8l9.1 13.3 7.3 14.2 6.9 13.9 6.6 13.3 6.6 13.1 7.3 11.3 8.8 12.9 8.5 13 9.4 12.8 8.2 13.3 8.4 15.5 6.5 14.6 5.7 14.2 4.6 14.6 5.9 16.1 5.9 14.9 4.2 15.7 4.5 16.5 4.4 15.1 1.2 14.5 0 15.1 -6.4 13.8 -12.8 6.2 -16.1-5.7 -16-15.1 -13.4-13.1 -14.5 11.7 -9.5 21.2 -10.6 20.5 -13.3 14.2 -15.4 3 -14.8-6.6 -12.5-15.3 -11.4-22.3 -12.9-18.4 -16.2-4.9 -13.5 17.3 -15.4 18.5 -14.1 4.9 -11.6-7 -6.1-13.2 -1.9-15.7 0.6-18.6 4.4-16.3 3.2-17.8 4.7-15.8 5.1-14.8 5.4-15.6 6.2-14 5.6-14.2 5.5-14.3 6.3-14.3 7.2-13.9 6.2-12.8 8-13.9 8.1-14 8.4-13.4 7.5-14.9 8.9-14.5 8.2-14 8.4-13zM965.2 63.5l9.8 11 6.7 14 5.5 12.7 7.1 14.1 6.5 13.8 7.5 13.8 7.4 12.7 8.1 14.6 7.2 13.5 7.5 12.4 6.8 13.7 6.7 13 7.1 12.8 6.8 15.6 8.8 17 9.2 18.3 8.6 20 6.5 20.6 5.1 19.3 3.4 17.3 -1.8 14.7 -8.1 12.9 -14.7 4.9 -20.3-8.1 -20.7-11.6 -18.2-7.9 -15.1 6.6 -11.8 8.2 -12.5-5.8 -13.5-6.3 -15.3-3 -14.8 0 -10.8 0.3 -9.4 4 -11.6-4.2 -14.7-0.1 -17.5 10.2 -20.9 10.8 -20.4 5.7 -13.7-6.2 -8.2-12.8 -1.7-15.8 3.5-18.7 6.1-21.3 6.5-20 7.1-20.5 8.1-18.3 7-16.5 7-14.4 7.2-11.3 7.1-12.1 7.1-12.5 8.6-12.5 7.3-13.2 8.7-13.9 6.9-13.5 8.6-13.4 8.8-13.6 9.2-13.6 8.7-12.8 9.8-12.8zM956.8 69.1l9.3 12.1 6 15 8.1 14.1 7.1 14.7 7.5 13.1 8.6 13.5 7.9 12.2 7.9 12.9 8.4 12.8 7.6 13 7.7 15.6 6.3 15.9 7.4 17.4 6.2 17.1 5.2 17.2 5.1 16.2 4.9 15.9 4.9 16.4 2.8 14.6 2.1 16.4 -0.4 15.3 -4.7 14.1 -12.2 8.2 -14.7-3 -14.3-8.4 -14.4-5.5 -13.8 6.1 -10.6 12 -11.1 22 -12.3 14.8 -16.3 5.6 -14.2-8.4 -11.5-17.8 -10.9-23.1 -12.4-11.5 -15.1-1.4 -16 8.2 -16 6.4 -16.6 1.7 -13.8-7.4 -7.8-15.6 -2.8-17.2 0.5-19.4 2.6-18 4.2-18 5.6-17.2 6.7-16.1 8.2-14.6 7.4-14.1 7.2-13.6 8.3-13.3 6.6-14.3 7.8-13.9 7-13.7 6.4-14.2 7.4-12.3 8.2-13.1 7.5-12.7 6.8-14 7.1-14 7.1-12.6zM958.2 66.7l10.2 11.7 8.2 15.5 7.4 13.4 9.1 12.5 9 13.2 9.5 12 8.8 13.5 8.9 12.7 8.5 11.5 5.9 11.8 5.6 12.3 5.1 11.4 2.8 13.5 7.4 14.4 7.3 17.5 7.4 17.6 6.2 19.7 7.3 19.4 5 18.9 1.3 16.7 -2.8 14.8 -8.8 13.6 -15.8 5 -18.7-7.5 -16.5-16.1 -16.2-12.6 -14.4 7.3 -12.2 13.8 -12.7 11.3 -15.2 7.4 -17.2 3.7 -17.4-1 -12.7-7.1 -9.5-9.5 -11-9.9 -12.3-2.2 -15 12.2 -14.7 15 -16 3.5 -13.3-8.9 -8.7-14.1 -2.5-16.4 0.8-18.6 3.8-18.1 5.7-19.2 7.2-18.9 7.5-18.4 7.5-16.7 7.6-14.9 7.6-13.9 6.6-12.8 6.8-12.6 5.6-14.3 7.8-14 6.4-14.3 7.1-13.1 8.6-13.2 8-13.5 9-13.3 8.8-11.9 8.7-10zM957.7 62.8l9.1 11.3 7.2 14.5 7.2 13 7.2 12.3 6.7 12.5 8.3 12.5 6.6 12.2 7.8 13 7 12.7 6.9 13.4 4.6 13.7 5.1 11.5 4.1 13.6 4.4 15.1 6.7 17.4 7 20.3 6.5 21.2 6.8 20.6 6.6 22.1 2.2 18.7 -1.1 17.1 -6.7 12.5 -12.1 4.2 -17.6-15.1 -14.7-27.4 -13.2-23.2 -11.2 8.8 -9.2 19.6 -9.6 24.2 -13.5 16 -15.1 5.8 -14.1-5 -13.1-14.5 -8.7-22.1 -9.5-22.1 -12.9-9.3 -14.8 20.7 -16.3 22.9 -15.9 9.3 -12.8-5.2 -6.2-11.1 -1.6-11.9 3.9-16.2 5.5-16.8 5.4-19 6.3-20.2 5-19.7 4.7-19.6 4.4-16.8 3.9-13.6 6.8-13.9 6.9-11.4 7.6-11.4 8.4-13.2 7.7-11.4 7.9-13.1 6-14.3 6.2-14.8 4-14.7 6.1-13.7 5.7-12.8zM961.1 46.7l10.2 12.8 8.7 14 7.3 14 6.4 15.2 7.2 14.6 6.5 14.6 6.1 14.9 7 13.8 7 14.1 6.9 14.4 7.3 13.2 6.5 14.5 5 15 4.9 14.8 3.4 15.5 2.3 16.6 3.4 17 2.3 17.5 0.2 16.5 0.6 17.5 -2.3 15.7 -7 15.2 -11.9 6.7 -11.6-3 -10.8-8.3 -11.7-7.3 -11.9 7.7 -9.2 13 -9.9 5.1 -10.8 2.3 -12.5 1.7 -12.5-2.1 -10.8-4.5 -8.1-6.3 -12.2-8.5 -13.1-2.1 -10.9 9.4 -10.4 7.9 -11.8 0.2 -12.4-8.3 -6.1-13.7 -3.1-17.2 -0.7-17.3 1.7-16.9 2.3-16.6 2.1-16.6 4.4-15.8 3.2-15.5 5.2-14.7 4.4-14.9 5.3-14.5 5.8-16.5 5.5-14.7 7.6-15.2 7.2-14.9 6.9-14.7 6.9-14 7.7-15.1 8-14 8.9-14.7 8.6-14.6zM956.2 60.4l10.5 10.1 10.3 11.9 8.6 11.4 7.7 11.8 8.8 14 8.3 13.6 7.1 15.3 9.2 15.2 8.1 14.1 8.1 14.2 8.9 12.1 7.1 12.7 4.7 13 5.1 15 6.2 17.7 7.4 19.4 6.9 20.9 5.2 20.6 4.3 20.8 2.4 19.2 -4.1 14.7 -7.1 12.8 -15.8 4.7 -23.1-9.4 -20.5-19.3 -19.4-15.9 -12 9.3 -7.8 16.7 -9.2 26.8 -11.9 17.7 -13.4 6.1 -13.5-8.3 -10.5-18.7 -10.3-26.7 -10.8-18.4 -13.7-4.6 -17.5 15.9 -23 18 -21.6 6.4 -13.8-6.4 -8.6-14.7 -3.9-15.9 3.9-18.4 4-19 8.5-18.1 8.7-17.9 8.4-15.3 7.1-14.7 5.3-12.8 5.5-13.8 5.4-13.2 5.7-15.4 6.4-15.9 8.8-16.2 8.1-15.3 7.9-14.6 9.2-13.6 7.3-12.4 8.3-11.2 7.4-12 9.5-12.1zM957 72.5l10.5 10 9.5 14 7.6 13.3 8.2 16 8.2 15.4 7.2 13.4 6.6 12.8 5.6 11.8 5.6 12.1 4.1 13.1 4.7 15.4 3.8 15 6 16.7 5.4 18.4 7.6 18.3 9.3 18.1 8.3 19.3 7.5 17.5 6.7 18.9 4.1 19.2 1 17.9 -5.5 17.1 -9.7 7.8 -16.1-11.8 -15.5-29.1 -14.9-27.5 -14.6 9.7 -11.8 20.9 -12.1 16 -14.3 9.8 -16.3 3.9 -16.2-2.5 -11.8-9.8 -10.3-16.9 -10.1-22.7 -14.5-10.4 -16.5 24.6 -19.1 28.6 -18.8 10.7 -13.5-6.5 -6.8-12.2 -1.5-18.2 3.6-18.9 5.6-22.2 7-21.5 6.7-20.2 8.1-18.9 6.3-17.2 6.4-14.5 4.5-14.8 5.7-14.9 5.1-14.8 5.6-15.6 5.9-15.2 6.8-12.6 5.2-13.1 7-11 6.5-10.8 7.7-12.6 8.8-12.9 8.9-13.9zM960.2 41.9l9.7 11.7 10 12.3 8.4 15 7.5 15 8.1 15.2 7.5 15 6.5 15.5 7.2 13.7 6.7 13.7 8 12.9 9.2 12.5 9.7 14.5 9.9 14.2 10.2 15.3 10.4 17.8 8.7 19.1 6.6 19.5 6.1 19.7 3.5 17.5 3.1 16.6 -2 14.2 -7 13.3 -15.1 5.7 -22.4-13.6 -22.8-32.5 -22.5-31.4 -17.2 16.8 -14.4 33.1 -12.5 35.1 -13.8 20.7 -15.5 5.5 -14.2-9.1 -10.5-21 -10.3-31.7 -12.6-34.5 -16-15 -19.8 32.9 -22.7 36.2 -22 12.4 -13-8.4 -7.5-13.3 -1.1-17 3.1-18.6 6.2-19.3 7.5-19.7 8-16.8 9.7-18.7 8.4-15.6 7.6-15.3 6.6-14.9 7.7-15.2 7.5-14.8 7.4-14.4 8.4-13.9 8.6-12.5 9-12.3 8.5-12.8 8.6-11.5 7.9-13.5 8.4-15.1 8.1-15.1zM959 43.9l9.9 11.2 9.6 14.5 8.2 13.4 8 15.9 6.9 13.7 7.1 14.5 6.7 14.8 7.2 12.4 6.3 14.4 5.9 13.8 6.3 13 6.4 14.5 5.8 15 4.7 14.9 5.6 18.1 5.6 19.1 5.3 20.1 6.7 18.8 5.1 19 2.7 17.2 0.7 15.5 -5 12.4 -11.1 5.9 -15.3-3.5 -16-2 -14.6 0.9 -10.9 1.4 -8.6 1.2 -10 2 -12.2 3.9 -13.2 1.2 -13.6-3.1 -13-6.1 -11.5-3.8 -11.2 2.5 -14.5 6.2 -13.8 2 -15.6 1.1 -14.8 1 -12.2-8 -6.8-14.7 -2.5-17.1 1.3-19.2 1-19 4.2-19.5 5.3-17.7 5.9-18.4 7.2-16.6 5.8-14.8 4.9-14.2 5-14.4 6-14.2 5-13.5 5.6-13.7 6.1-13.8 6.6-13.9 6.4-13.5 7.3-14.7 7.1-14.7 7.4-14.3 7.6-14.6zM960 40l10.8 12.1 9.2 15.3 6.6 14.2 7.9 15.2 6.8 14 6.2 14.6 6.1 15.8 7.6 14.2 8.1 15.3 10.2 14.2 10.8 14.9 10 14.9 8 15.2 10.6 14.8 8.1 17.4 7.9 18.5 9.3 18.7 7.6 17.8 7 17.4 4.4 15.6 0.4 14.5 -5.9 12.4 -15 4.8 -21.7-7.7 -20.1-20.1 -19.4-16.8 -14.7 10.4 -11.5 19 -11.5 22.4 -15.7 16.4 -19.6 5.1 -19.8-7.1 -17.1-16.5 -13.9-22.2 -15.4-18.8 -17.8-3.3 -18.3 19.3 -20.2 18.9 -19.8 6.7 -13.2-8.2 -8.9-13.6 -1.9-16.7 3.1-17.9 6.7-17.4 7.3-18.5 9-17.9 9.9-17.8 9.3-17.3 7.8-15.2 7.9-15.6 6.8-15 8.1-14.7 8.6-14.3 8.5-14.9 8.8-15.1 10.1-14.8 7.8-15.2 7.7-15.5 7.3-13.9 7.2-12.8 7.1-13.5zM962 55.8l10.8 12.1 6.3 14.5 6.9 14.7 6.2 13.4 5.5 13.1 5.9 12 7.6 12.4 7.2 12.9 8.3 12.2 7.8 14.2 6.3 13.5 5.2 13.8 4.3 13.9 5.1 12.9 5.1 15 8.2 14.9 7.5 16.4 6.2 15 6.7 16 4 14.4 -2.1 15.2 -5.9 12.4 -14.3 6.1 -18.1-8.5 -17.7-25.1 -14.9-25.2 -12.9 17.1 -9.5 32.2 -10.8 29.4 -13.6 15.5 -16.5 3.2 -15.3-6 -12.6-18.2 -9.5-25.7 -11.4-29.3 -13.1-14.2 -16.2 28.4 -19.7 27.7 -19 4.2 -13-8.8 -8.5-15.4 -1.3-15.3 3.9-16.5 7.8-14.1 7.7-13.6 8.6-12.4 7.7-13.3 6.9-14.1 5.1-15.4 6.2-14.2 5.6-16.7 7.1-14.5 8.3-14.2 7.8-12.8 8.1-12 8.5-12.7 7.3-13.3 6.5-14.2 6-13.9 7.3-14.7 8.2-13.1zM956.6 56l10 14 8 15.4 7.7 15.1 7.7 13.5 7.3 12.2 6.1 12.2 7.1 11.9 7.7 12.5 6.1 12.7 6.4 14.8 6.2 14.5 6.2 16 7 16.5 6.3 17.6 8.5 19.4 7.8 19.3 6.9 20.8 6.2 20.4 5.2 20.1 2.1 18.7 -1.3 16.6 -5.9 14 -12.7 6.3 -17.3-10.3 -16.1-18.9 -16.4-16.7 -10.9 6.7 -9.9 14.6 -9 13.4 -12 9.1 -13.2 3.4 -13.4-3.5 -11.5-9.7 -9.1-13.2 -11.5-13.5 -12-3.1 -15.6 15.5 -17.9 16.9 -17.5 6.3 -12.6-8.6 -7.5-14.3 -2-17 1.5-18.6 3.4-18.9 3.7-18.5 7.2-18.5 5.8-17.5 6.6-18 4.9-16.5 5.3-16.1 5.5-14.8 4.9-15.3 5.1-14.4 6.1-14.4 6.9-13.8 6-13.6 7.6-15.7 6.7-14.7 6.3-13.9 7.4-14.7 8-13zM958.6 55.4l9.7 12.5 8.2 14.2 8.4 14.6 8.6 13.8 8.9 15.9 9 14.7 6.9 15.7 7.2 15.2 6.4 15.6 7.7 14.2 7.3 14.3 6 14.9 6.4 13.2 7 15.6 7 16.8 7.3 16.7 6.8 17.7 6.2 17.4 4 17.7 3.4 16.8 -1.5 15.5 -6.1 13.8 -14.3 7.1 -19.5-2.1 -20-3.3 -18.7 0 -14.9 3.3 -10.1 6.6 -10.6-9 -11.5-7.2 -15-3 -12.8 2.1 -11.8 1.1 -10 7.2 -10.9-0.1 -16 2.6 -17.3 1.7 -21.5 1.2 -19.9-0.9 -14.2-8.2 -7.4-12.9 -3.3-15.6 2.2-16.8 5.4-16.8 6.9-18 8.6-16.6 8.2-16.4 9.7-16.7 7.6-15.8 8.1-15.3 7-14.2 7.4-14 5.5-15.7 6.6-14.9 7.1-15.2 7.6-14.9 6.5-15.6 7.7-14.7 7.4-14.8 7.4-14.7 8.7-13.2zM956.2 71.4l8.9 9.8 8.2 12.2 7.2 12.7 8.9 10.4 7.5 11 7.1 12.2 6.9 11.5 7.5 13.2 7.7 13.5 7 14.9 7.3 14.1 8 14.7 8.8 14.5 8.8 15.5 7.9 15.4 9.2 17 9.3 16.3 7.3 16.4 6.5 17.5 5.4 16.3 1.4 15.6 -5 13.4 -14.1 5.2 -20.9-8.1 -19.3-20 -19-18.1 -15.5 9.8 -10.9 18.7 -12.1 20.7 -13.4 13.5 -16.1 5.1 -17.3-4.9 -13.3-11.6 -11.8-18.2 -13.8-18.5 -17.2-6.6 -18.3 18.2 -19.9 20.6 -18.7 6.1 -13.3-7.2 -8.2-13.9 -0.4-16 3.3-18.6 6.1-18.7 7.3-17.9 8.3-19.5 8-16.5 10.5-15.3 7.5-14.1 7.6-13.3 6.7-12.8 6.3-12.9 7.2-13.3 6.7-12.3 6.8-13 8.6-12.3 6.6-12.4 6.4-13 6.6-12.5 6.3-12 6.9-12.2zM962.7 67.6l10.8 10.6 8.2 12.8 6.4 11.7 7.8 12.7 7.3 11.9 7.2 12.8 7.1 11.1 7.7 11.1 7.5 11.5 8.6 12.1 7.7 12.4 7.7 13.4 5.7 14.2 7.6 13.3 6.5 14.9 5.8 13.7 5.5 14.8 4.8 13.6 2.7 15.5 1.5 15.2 -2.7 15.2 -6.5 14.6 -13.8 7.6 -15.8-0.6 -15.5-14.3 -15.2-16.4 -11.4 10.2 -10.4 20.9 -9.5 26.7 -11.7 16.7 -14.8 6.7 -14.5-4.4 -12.1-15.3 -10.8-23.4 -11.4-22.7 -15-8.6 -13.6 15.1 -14.8 12.5 -15.7-1.4 -11.5-10.3 -8-14.5 -3.2-15.7 -0.5-15 3-13.1 2.4-12.8 3.2-12.8 5.7-12.4 6.5-12.1 5.8-13.1 7.2-14.2 7.9-14.2 6.4-13.8 7.5-12.8 5.5-12.9 7.1-12.5 7.4-13.2 6.3-11.9 6.9-11.7 7.7-13.1 8.3-12.1 8-11.8zM961.2 51.8l10.3 11.4 7.4 16 7.7 15.7 7.3 12.3 7.3 14 6.5 13.6 7.5 14.1 6.2 13.3 6.7 14 6.2 13.8 5 12.8 5.8 12.9 5.7 11.8 5 13.8 6.4 17.1 6.9 19.4 5.3 22.5 5.2 22.7 3.6 23.3 2.6 20.7 -2.1 18 -5.9 13.5 -11 5.6 -16.8-18 -15-37.8 -14.9-35.2 -12.7 12.5 -9.2 28.2 -9.4 22.3 -11.8 12 -14.1 3.2 -12.3-4.7 -10.2-12.2 -7.5-20.8 -9.3-29.5 -12.7-12.5 -13.7 32.1 -17.2 36.9 -16 15 -12.9-5.9 -7.2-13.9 -3.7-16.7 1.6-18.1 2.8-20.1 4.8-21.5 4.4-19.3 4.5-18.8 5-18.4 5.8-15.4 3.9-14 5.8-14 6.4-13.3 6.9-13.8 6.8-13.4 7.4-14 7.1-14.1 7.6-14.7 6.9-13.7 7.5-15.3 8.1-13.4 7.5-12.8zM955.2 46.5l11 12.7 9.3 15.3 7.1 14 7.5 14.9 7.1 14.2 8.2 15.6 8.2 16.5 9.6 16.5 8.5 16.1 9.4 14.8 8.1 15.4 8.3 14.3 8.4 13.7 6.7 13.5 7.8 16 9.2 16.8 7.4 18.7 6.1 18.3 5.3 18.2 3.6 18.4 -2 15.8 -7.8 13.5 -12.8 7.2 -18-5.3 -17.5-5.3 -15.4-3.1 -13.6 3.4 -9.9 6.4 -11 10.6 -15.4 8.5 -16.1 3.9 -16.6-5.1 -13.3-10.1 -10.7-11.8 -12.8-4.6 -15.7 2.6 -16.5 5.3 -19.3 4.6 -18.4 0 -13.6-6.7 -8.7-14 -1.9-15.5 2.7-17.5 5-17.6 5.5-18.9 5.8-18.2 6.1-18.2 5.8-17.9 5.5-15.5 4.3-15.9 6.3-13.7 6.5-14.3 6-14.3 6.6-14.1 6.3-15.3 7.6-15.3 6.5-16 7.6-15.9 7.4-14.6 8.4-15.1 9.5-13.4zM961.2 85.2l10.8 11.1 8.8 12.9 7.7 11.1 6.8 12.9 6.5 11.5 6.8 11.1 5.8 13.9 7.2 13.3 7.2 14.7 8.1 15.6 8.4 16.1 6.9 15.3 5.8 15.5 4 15.5 5.2 16.3 3.6 17.6 5.2 16.4 4.6 17.5 4.3 16.2 3.6 14.7 -0.6 15.4 -5.8 12.7 -11.7 5.5 -17.7-1.2 -16.5 4.9 -16.5 10.1 -14.4-2.6 -9-4.6 -9 10.8 -11.8 13.5 -11.9 6.5 -13.6-6.6 -10.6-14.6 -9.2-13.7 -12.4 4.5 -13.4 10.4 -13.3-6.6 -14.9-8.7 -16-1.9 -11.9-7.4 -7-12.1 -1.9-14.6 0.6-16.5 2.7-16.4 5-17.6 4.6-17.8 5.7-18.1 5.6-18.1 5.1-17.2 5.4-15.4 5-14.6 6-14.5 6.7-12.9 6.7-13.8 7.6-12 7.4-13.4 6.9-13.1 6.6-12.6 8-12.1 7-12 8.6-11.6zM961.4 67.9l11.1 12.3 7.8 13.7 7.7 14 7.1 13.6 8.3 12.8 8.9 12.4 8.5 14.6 8 13.4 7.3 14 8.2 13.4 7.1 14.4 8.2 15.4 7.5 12.4 6.3 13.3 5.9 11.5 4.7 10.8 2.4 12.5 1.3 13.4 0.6 14.5 -0.4 15.5 -2.5 16.7 -7.2 14.9 -12.7 7.4 -11.6-2.8 -12-16.7 -12.1-17.6 -15.3 12.2 -11.9 22.7 -12.9 22.7 -13.6 14.1 -14.8 6.5 -13.8-1.9 -12.5-12.8 -9.7-19.4 -13.2-23.6 -15.5-11.6 -12.7 14.3 -11.3 14.8 -11.8 0.3 -11.7-7.3 -6.6-12.9 -3.2-14.5 -0.1-16.2 0.6-16.7 1.3-16 1.8-16.2 2.5-15.4 4.6-13.4 5.7-13.2 7-12.2 7.3-12.1 6.2-13.6 6.5-13.3 6.9-14.8 8-14.1 8.5-14.1 8.6-13.8 9.3-13.9 8.8-11.7 10-11.5 9.7-11.9zM959.4 53.8l8.7 12.1 7.3 15.6 7.5 11.9 9.8 13.7 9.7 12 8.7 12.5 9.2 14.2 6.5 13.7 7.4 14.2 7.3 15 7.5 13.2 6.7 12.8 6.9 15.5 5.9 12.2 6 13.9 5 12.6 2.8 12.5 3.3 11.8 3.3 13.1 1.8 13.1 -1.1 15.4 -3.9 12 -12 9 -16 2 -15.7-10.8 -17.3-11.7 -14.8 11.7 -10.9 21.9 -10.7 38.8 -11.5 27 -13.3 9.5 -12.1-11 -11.6-26 -11.1-36.5 -13.1-22.8 -15.7-8.5 -15.8 15.3 -16.1 10.6 -16-4.4 -11.3-11.3 -5.6-14.9 -1.8-15.7 0.7-14.9 3.7-13.1 3.3-12 5.1-11.3 6.2-11.9 6.4-12.2 5.9-13.2 5.4-12.8 5-12.9 5.1-13.5 4.3-14.1 5.3-13.7 7.4-15.3 9.6-15.8 8.6-15.6 10.8-15.3 9-13.9 8.3-13 7-12.1zM970.2 16.5l10.4 11.8 7.6 15.6 6.4 16.1 5.7 16.7 5.1 15.8 5.9 17.5 6 15 7 15 7.9 15.6 9.6 14.6 9.1 16.4 9.5 16.4 7.4 16.8 7.3 17.4 6 18.9 4.4 18.6 3.1 20.7 2.3 19.9 0.9 20.1 1 19.2 -3.6 15.9 -7.1 15.3 -12.4 5.9 -14.7-8.6 -15.6-12.5 -13.9-7.8 -14.8 3.8 -10.6 9.4 -12.6 8.4 -14.6 7.4 -17.8 4.3 -15.7-3 -13.2-8.9 -9.8-10.5 -11.7-8.1 -13.6 0.8 -13.7 6.3 -15.9 9.8 -16.2 5.5 -13.4-6.3 -8.9-12.9 -3.1-16.6 0.9-18.6 3.2-20.8 4.8-19.7 6.6-18.7 7.2-18 7.9-17 7.2-15.7 7.6-14.7 7.3-15.9 7.2-15.9 7.9-15.5 6.8-14.5 6.9-14.6 9.5-15.2 8.4-15.5 9.4-17 9.3-16.5 10.7-18.2 9.8-17.4zM960.7 68.8l6.8 11.7 7 12.8 6.4 12.1 7.2 12.4 6.4 12.6 5.3 11.7 6.7 12.1 5.6 11.8 5.8 12.9 8.1 12.4 9.2 12.3 7.9 12.2 8.4 14.5 7.8 14.6 5.4 17.2 5 18.7 3.9 20.1 4.5 20 3.4 19.2 2.6 19.5 0.3 16.5 -5.4 13.4 -12 7.3 -15.7-8 -13.3-14.3 -14.7-10.6 -14.8 4.8 -8.9 9.4 -9.8 24.6 -11.8 19 -14.7 7 -12.5-6.9 -11.2-19.3 -11.3-25 -10-11.5 -13.9-1.4 -12.8 11.5 -11.7 13.3 -12.5 4.6 -10.8-6.1 -8.1-13.2 -4-16.8 -0.7-17.9 0.3-18.9 2.5-19.3 3.8-19.5 5.6-17.4 4-18.7 6.5-14.1 6.9-13.9 4.8-13 5.1-13.6 6.4-12.9 7.4-13.2 8-12.2 7.7-12.5 10.6-11.6 7.1-12.7 8.6-11.8 6.1-12.3 6.2-12.1zM956 62.7l10.3 11.6 8.5 14.2 8.9 14.6 8.6 13.7 9.1 14 7.3 14.1 7.9 12.2 7.9 14.9 6.5 12.6 7.6 14.3 8.2 12.6 8.5 14.3 7.9 13.8 8.1 14.2 9.7 15.5 8.8 16 6.4 16.7 5.9 17.2 4.8 16.4 2 16.8 0.3 15.9 -7.6 13.5 -13.3 7.3 -18.2-4.9 -16.1-8.3 -17.1-7.3 -15.9 6.1 -12.6 9.7 -14.7 15 -16.8 11.1 -19.6 5.5 -20-4.4 -14.3-13.4 -13-15.2 -13.6-8.8 -16.8-0.2 -13.5 6.8 -15.6 6.7 -15.3 1.1 -11.4-9 -6.2-14.5 -3-16 0.9-17.8 1.9-18 2.6-15.8 2.6-16.9 4.6-15.7 5.8-15.5 7.1-14.3 9.1-14 10.1-13.3 10.2-14.2 9.1-13.8 9.7-14.3 8.8-12.8 9.9-14.1 8-12.6 7.9-14.1 8.1-12.7 6.6-13 8.7-12.8zM959.5 89.8l11.5 9.3 8.9 10.3 7 11.7 6.9 11.1 7.6 11.3 7.7 12.5 7.3 11.2 8.3 12.7 7.5 13.3 8.7 14.2 7.7 12.8 6.6 12 6.7 12.9 5.8 14.2 7.7 15.5 7.7 18.1 9 19.5 8.1 18.9 5 18.7 4.6 17.1 -1.7 15.2 -6.3 14 -15.2 4.6 -22.3-9.8 -21.4-20 -19.7-14.6 -14.6 7.6 -11.8 13 -10.7 20.1 -13.1 15.6 -15.6 6.1 -14-5.9 -12.8-15.7 -11.2-19.6 -13.3-15.2 -16.4-3.2 -19.2 15.5 -21.3 19.1 -19.4 9.6 -13-4.6 -7.1-12.1 -0.8-15.3 3.5-17.5 6.3-19.8 7.2-19.7 7.9-20.1 8.8-19.8 6.9-16.5 8.4-15.6 6.8-12.2 7.8-12.1 6.7-13.6 7.9-11.2 5.6-11.1 7.3-11.9 5.4-11.9 6.3-11.8 7.1-12.1 7.9-10.5 9.2-12.9 9.7-11.4zM961 68.5l13.4 10.4 10.3 13.2 9.9 14.4 11.2 13.6 11.1 14.4 11.9 14.6 10 15.3 9.3 14.9 7.8 15.5 6.7 13.3 7 14.1 6.5 13 5.2 13.7 6.4 14.1 7.9 12.9 6.1 12.8 5.1 14.6 4.9 14.2 3.2 14.7 -0.2 15.2 -4.6 16.2 -9.7 14.4 -15.4 7.4 -19-2.8 -18.4-20.3 -16-21.9 -15.4 13.9 -10.7 25.8 -9.9 9.7 -12.6 1.7 -14.7-0.5 -14-0.8 -11.7-3.2 -11.9-7.7 -12.5-22 -14.8-11.6 -15.3 21.6 -16.5 19 -16.9-0.7 -14.7-10.9 -10.3-16.4 -5.4-16.3 -1.7-14.3 1.4-13.4 1.4-13 4.3-13.9 4.6-13.5 6.8-14.3 5.7-16.2 6.1-16.9 5.7-16 6.7-15.7 5.6-13.2 8.1-14.1 9.1-12.6 9.1-12.9 10.2-11 12.1-13.2 9.1-12.6 10.1-12.6 8.9-13zM958.3 54.8l12.2 11.8 9.4 15.1 7.3 15.1 8.6 14.3 7.9 14.1 7.4 12.9 7.9 12.2 7.1 13.4 7.1 14.9 7.1 15.4 7.4 15 5.4 15.6 7.2 15.9 5.8 16.3 5.6 16.8 7.1 17 5.8 19.5 4.7 20.4 5 19.7 -0.5 19.6 -1.9 17.9 -7.3 14.9 -13 6.2 -16.4-7.8 -17.3-16.6 -15.1-11.4 -12.4 5.5 -8.4 13 -10.1 16.9 -12 12.6 -11.6 5 -13.2-6.7 -10.7-16.5 -9.7-17.3 -11.6-14.2 -14.8-1.8 -15.9 11 -18.1 15.3 -17.6 6.2 -14.6-7.9 -9.2-13.7 -3.2-16.8 -0.8-17.8 3.3-19.3 5.1-17.5 4.6-18.6 6.1-16.4 7-16.6 6.2-16.6 5.5-15.2 6.1-15.1 5.7-14.9 6.1-14.5 6.5-13.3 5.8-13.7 7.4-13.8 7.4-13.4 8.1-15.2 8.4-15.9 8.7-14.7 8.7-14zM958.2 63.4l9.1 10.3 7 13.1 8 13.8 6.8 13.7 7 15.1 8 16.1 5.5 15.5 6.8 15 7.3 14.3 6.8 14.3 6.5 13.3 7.5 14.1 6.4 13.2 6.6 13.6 5.3 16.1 4.3 16.6 4.1 17.6 0.1 18.2 3.2 17.5 1.3 17.5 -0.1 16.3 -4.4 12.8 -10.3 6 -11.8-10.4 -12.1-27 -12.6-27 -13.9 15.6 -12.1 29.2 -13 33.5 -15 19.5 -16.2 5.8 -14.6-8.9 -10.5-20.7 -7.7-30.9 -9.5-32.6 -12.7-14.1 -11.5 29.6 -13.1 29.6 -14.2 9.8 -11.5-6.7 -9.3-12.8 -2.6-15.9 -0.2-17.3 2.4-19.7 2-17.8 4.9-18.1 4.7-17.2 5.7-16.3 6.3-14.6 5.8-14.6 7.1-13.2 8.4-14.6 6.2-13.5 7.8-14.4 7.4-13.9 7.4-12.6 6.3-14 8-14.7 6.1-12.3 7.1-14.2 8.1-15zM962.3 32.6l7.5 11.6 6.4 15.4 5.9 15.4 5.2 16.5 4.8 16.4 4.4 15.1 5.6 12.4 5.5 13.7 6.8 13 7.1 12.3 7.6 13.7 8.1 15.1 8.2 15.7 9.4 14.4 9.9 12.9 10.4 12.3 10.4 9.8 9.3 9.1 8.6 11.2 5.1 13.3 2.9 15.3 -5.8 14.5 -13.7 10.7 -23.3 8.3 -24 5.2 -21.8 3.1 -14.5 5.5 -9.4 8.6 -10.4 27 -13.1 21.2 -15.5 9.2 -15-8.2 -12.8-20.9 -10.2-27 -11.7-13.8 -15-2.3 -20.1-1.9 -23.2-6.8 -23-9.8 -12.9-8.9 -6.5-11.3 -0.6-13.7 4.5-10.9 8.3-11.6 9.2-10.7 12-9.3 12.4-11.4 12.6-12 9.7-13.8 9.6-15 8.6-15.9 5.7-15.8 6.2-15.1 4.6-14.6 5.1-14.6 5.1-13.8 5.1-13.8 6.4-15.3 6.4-15.2 7.4-15.6 7-15.1zM960.9 47.5l9.5 11.7 6.9 13.9 6.9 14.1 6.9 13.2 7.9 13.5 7.6 14 7.2 13.2 7.3 13.3 8.2 13.2 6.7 13.4 7.6 13.4 8.1 14.2 7.7 14.4 8.2 14.4 6.9 16.8 7.6 18.1 6.1 20.2 5.6 20.4 4.3 20.2 4.4 19.4 -1 16.3 -5.8 14.4 -13.1 5.4 -18.4-17.5 -19.4-40.8 -18.3-37.8 -16.8 15.7 -11.8 32.4 -12.7 45.7 -14.5 30.7 -15.6 11.7 -14.8-8.7 -12.2-27.1 -10.1-41 -11.7-39.1 -16.5-18.2 -15.4 34.6 -18.5 39.6 -17.3 15.8 -13.5-5.4 -7.1-11.9 -2.4-15.8 2.8-19.5 4.6-20.7 5.5-20.1 8.3-20.6 7.3-20.2 7.2-17.2 7.5-14.8 8.3-13.1 6.2-12.6 6.6-14.1 6-13.2 7-14.1 7.5-13.5 8.8-14.4 8.9-12.9 9.1-13.3 7.6-13.7 9.2-13.2 7.9-12.7zM960.5 86.6l13.9 11.5 9 13.1 10 12.4 10.6 10.9 11 11 10.2 10 10.6 10.1 9.8 10.7 11 10.2 9.5 11.9 9.2 12.6 8.6 14.2 8.1 14.8 7.4 15 8.1 15.1 7.8 14.5 7.7 13.4 5.9 12.7 4.4 12.6 2.7 12.2 -1 13.3 -9.3 12.1 -16.2 8.5 -20.4-4.2 -21.3-24.4 -19.4-23.6 -16.8 16.7 -12.8 29.6 -14.3 25.8 -15.2 14.6 -18.5 3 -17.2-4.7 -15.4-15.6 -11.6-22.4 -14.8-31.4 -18.3-14 -18.2 24.4 -20.7 25.7 -21.4 3.6 -17-9.6 -11.2-12.3 -4.3-16.2 1.1-15.7 3.2-14.3 6.4-14.2 6.7-13 8.8-13.3 7.8-11 5.9-10.3 7.2-11.2 5.9-11.6 6.4-11.5 7.1-13.3 7.1-14.7 9.2-13.6 9.6-16.1 11.1-12.6 11.4-13.7 10.8-10.5 10.5-11.2 10.8-9.1zM968.8 38.2l9.2 13.5 7.2 15 6.2 15.9 5.3 15.5 6.1 14.9 5.3 14.1 5.8 12.6 5.3 13.6 5.8 12.2 5.3 13.2 5.7 14.8 5.8 14.7 6.4 14.6 6.8 14.5 7.2 13.5 6.5 12.1 6.2 12.7 3.7 12.8 2.2 13.4 0.5 13.6 -1.9 16.2 -7.7 14.9 -11.7 8.2 -15.5-3.2 -14.6-20.8 -14.6-24.7 -13.1 15.5 -9.6 29.7 -11.8 46 -13.2 31.3 -12.1 11.3 -12.9-10.3 -9.7-28.3 -8.6-42.2 -9.2-36.7 -13.1-15.7 -14.7 22.6 -17.2 20.5 -16.1 0.9 -11.9-10.7 -7.8-13.4 -3.2-13.5 0.3-12.8 3.7-11.9 3.9-12.5 5.6-11.6 8.4-13.1 7.4-14.5 7.3-15.8 9.5-15.4 7.4-15.1 7.8-15.2 6.7-13.2 6.9-12.8 5.7-11.8 6-12.8 6.7-13.9 6.9-14.4 8.1-15.3 9.2-15 9.9-15.6zM961 48.6l9.1 13.8 7.7 14 7.9 14.5 6.6 13.9 6.6 13 7 12.7 5.6 13.6 5.7 13.6 6.3 14.8 5.8 15 6.7 14.2 6.5 14.4 6.1 12.9 5.2 14.5 7 16.2 7 17.5 8 19.7 6.1 20.6 6 20.3 3.7 19 -0.7 15.5 -5.7 14.3 -13 4.7 -19.5-21.3 -19.7-54.6 -17.9-55.4 -13.4 25.9 -10.2 51.6 -10.1 33.1 -12.6 13 -14.1 1.3 -13.1-3.2 -11.5-11.4 -9.3-27.1 -10.5-50 -12.8-27.2 -16.3 54.7 -20.1 57.5 -17.3 20 -12-5 -7.4-14.3 -1.5-16.6 2.9-18 5.5-20.4 6.7-20.2 8.2-20.1 8.3-18.5 7.9-19.3 6.8-17.3 5.1-15.4 6-16.3 5.4-15 6.1-15.5 6.8-13.8 7.2-14.4 8.4-13 7.6-14.3 7.9-14.2 7-12.7 6.7-13.3 7.9-12.2zM965.1 43.6l7.4 15.1 6.3 17.1 5.4 15.7 5.5 15.8 6.4 16.3 5.1 16.5 4.8 16.3 6.5 14.4 5.3 15.9 8.3 14.8 5 15.4 7.7 15 5.9 15.6 6 17.1 5.3 16.7 4.5 18.7 5 20.1 5.4 17.1 5.1 19.3 4.6 17.9 0.8 18.2 -3.5 14.6 -10.3 10 -14.3-1.2 -13.4 0.6 -13.7 5.4 -12.3-0.5 -8.4-1.6 -9.5 22 -11.2 19.1 -14 7.5 -13.9-9.8 -11.4-21.6 -12.1-23.5 -12.2-3.6 -15.4 7.1 -14.4-2.5 -13.7-4 -14.7-0.5 -13.1-7.2 -5.7-13.5 -2.3-15.1 1.8-17.2 2.9-17.3 4.6-17.5 4.4-17.9 5-18 6.6-18.1 6.9-16.2 5.6-17.4 6.7-17.1 5.4-17.6 7.8-19.1 7-18.5 9-17.5 7.4-17.4 7.9-16.9 6.5-14.4 7-14.9 6.2-13.9 6.9-12.2z" fill="none" stroke="#b3b3b3" stroke-width="0.7" stroke-linejoin="round"/>
<path d="M960 64.7C961.7 64.7 963 66.7 965.1 69.1C967.2 71.5 968.5 72.7 972.5 79.3C976.5 85.9 983.7 98.9 989.3 108.7C994.9 118.5 1000.7 128.2 1006.2 138C1011.7 147.8 1016.9 157.5 1022.3 167.3C1027.7 177.1 1033.8 187.9 1038.5 196.7C1043.2 205.5 1047 212.4 1050.7 220C1054.5 227.6 1057.7 234.7 1061 242C1064.3 249.3 1067.6 256.7 1070.5 264C1073.4 271.3 1076.3 278.7 1078.6 286C1080.9 293.3 1083 301.4 1084.5 308C1086 314.6 1087 320 1087.7 325.6C1088.4 331.2 1088.8 336.6 1088.4 341.7C1088 346.8 1086.8 352.4 1085.2 356.4C1083.6 360.4 1081.2 363.4 1078.6 365.9C1076 368.3 1073 370 1069.8 371.1C1066.6 372.2 1063.2 372.8 1059.5 372.5C1055.8 372.2 1051.7 370.9 1047.8 369.6C1043.9 368.3 1040 365.9 1036.1 364.5C1032.2 363.1 1028 361.1 1024.3 361.1C1020.6 361.1 1017.3 362.6 1014.1 364.5C1010.9 366.4 1008.2 369.6 1005.3 372.5C1002.4 375.4 999.7 379 996.5 382.1C993.3 385.2 989.9 388.5 986.2 390.9C982.5 393.3 978.6 395.4 974.5 396.7C970.4 398 965.7 399 961.3 398.9C956.9 398.8 952 397.7 948.1 396C944.2 394.3 941.2 391.8 937.8 388.7C934.4 385.6 930.7 381 927.5 377.7C924.3 374.4 921.6 371.1 918.7 368.9C915.8 366.7 913.1 365.4 909.9 364.5C906.7 363.6 903.1 363.2 899.7 363.7C896.4 364.2 893.4 366 889.8 367.4C886.2 368.8 882 370.7 878.1 371.8C874.2 372.9 870.2 374 866.3 374C862.4 374 858.3 373.3 854.6 371.8C850.9 370.3 847.3 368.2 844.3 365.2C841.2 362.1 838.2 357.6 836.3 353.5C834.3 349.4 833.2 344.9 832.6 340.3C832 335.7 832.1 331 832.6 325.6C833.1 320.2 834 314.6 835.5 308C837 301.4 839.1 293.3 841.4 286C843.7 278.7 846.6 271.3 849.5 264C852.4 256.7 855.8 249.3 859 242C862.2 234.7 865.5 227.6 869 220C872.5 212.4 875.7 205.5 880 196.7C884.3 187.9 889.4 177.1 894.7 167.3C900 157.5 905.9 147.8 911.6 138C917.4 128.2 923.2 118.5 929.2 108.7C935.2 98.9 943.2 85.9 947.5 79.3C951.8 72.7 952.8 71.5 954.9 69.1C957 66.7 958.3 64.7 960 64.7Z" fill="none" stroke="#7a35f0" stroke-width="5.4" stroke-linejoin="round"/>
</g>
<g id="pEBA">
<g clip-path="url(#clE)">
<path d="M1353.3 51.7C1359.1 51.7 1362.6 70.7 1369.8 82.7C1377 94.8 1388.4 110.2 1396.7 124C1405 137.8 1412.2 151.5 1419.4 165.3C1426.6 179.1 1433.1 192.8 1440 206.7C1446.9 220.6 1454.5 234.8 1461 249C1467.5 263.2 1474.9 277.9 1479.3 292C1483.7 306.1 1486.2 320.2 1487.6 333.3C1489 346.4 1489 360.2 1487.6 370.5C1486.2 380.8 1484.1 387.7 1479.3 395.3C1474.5 402.9 1466.3 410.5 1458.7 416C1451.1 421.5 1442.5 426.3 1433.9 428.4C1425.3 430.5 1414.6 430.1 1407 428.4C1399.4 426.7 1392.9 421.4 1388.4 418C1383.9 414.6 1383.2 408.7 1380.1 408C1377 407.3 1374.3 412 1369.8 414C1365.3 416 1358.8 420.1 1353.3 420.1C1347.8 420.1 1341.5 416 1336.7 414C1331.9 412 1327.7 407.3 1324.3 408C1320.9 408.7 1320.6 414.6 1316.1 418C1311.6 421.4 1304.7 426.7 1297.5 428.4C1290.3 430.1 1281 431.1 1272.7 428.4C1264.4 425.6 1255.8 418.1 1247.9 411.9C1240 405.7 1230.6 399.1 1225.1 391.2C1219.6 383.3 1216.9 373.9 1214.8 364.3C1212.7 354.7 1212 343.6 1212.7 333.3C1213.4 323 1216.5 312.6 1218.9 302.3C1221.3 292 1224.3 280.4 1227.2 271.3C1230.1 262.2 1231.7 258.8 1236.5 248C1241.3 237.2 1248.6 220.5 1256 206.7C1263.4 192.9 1272.4 179.1 1281 165.3C1289.6 151.5 1298.8 137.8 1307.8 124C1316.8 110.2 1327.1 94.8 1334.7 82.7C1342.3 70.7 1347.5 51.7 1353.3 51.7Z" fill="#c8c8c8"/>
<path d="M1352.3 64.4C1354.5 64.4 1356.1 66.1 1359.2 70.6C1362.3 75.1 1366.7 83.2 1370.9 91.2C1375.1 99.2 1380.1 109.6 1384.6 118.7C1389 127.8 1393.6 136.9 1397.6 146.1C1401.6 155.2 1405.2 164.4 1408.6 173.6C1412 182.8 1415.5 193.1 1418.2 201.1C1421 209.1 1423.1 215.5 1425.1 221.7C1427.1 227.8 1428.6 232.3 1430.3 238C1432 243.7 1433.8 249.2 1435.4 255.6C1437.1 262 1438.8 269.3 1440.2 276.2C1441.6 283.1 1442.6 289.9 1443.6 296.8C1444.6 303.7 1445.4 310.5 1446.1 317.4C1446.8 324.3 1447.3 331.1 1447.5 338C1447.7 344.9 1447.7 352.4 1447.5 358.6C1447.3 364.8 1446.8 370.3 1446.1 375.1C1445.3 379.9 1444.3 384.2 1443 387.4C1441.7 390.6 1439.8 392.9 1438.1 394.3C1436.4 395.7 1434.8 396.1 1432.7 396C1430.7 395.9 1428.2 395 1425.8 393.6C1423.4 392.2 1420.7 390 1418.2 387.4C1415.7 384.8 1413.1 381.4 1410.7 377.8C1408.3 374.2 1405.9 369.9 1403.8 365.5C1401.7 361.1 1400 355.6 1398.3 351.7C1396.6 347.8 1395.2 344.3 1393.5 342.1C1391.8 339.9 1389.8 338.8 1388 338.7C1386.2 338.6 1384.2 339.7 1382.5 341.4C1380.8 343.1 1379.4 345.8 1377.7 349C1376 352.2 1374 357 1372.2 360.7C1370.4 364.4 1368.6 368 1366.7 371C1364.8 374 1363 376.7 1360.6 378.5C1358.2 380.3 1354.9 381.8 1352.3 381.9C1349.7 382 1347.1 380.8 1344.8 379.2C1342.5 377.6 1340.5 375.1 1338.6 372.3C1336.6 369.6 1334.9 366.1 1333.1 362.7C1331.3 359.3 1329.3 355 1327.6 351.7C1325.9 348.4 1324.4 344.9 1322.8 342.8C1321.2 340.8 1319.7 339.5 1318 339.4C1316.3 339.3 1314.2 340.3 1312.5 342.1C1310.8 343.9 1309.4 347 1307.7 350.4C1306 353.8 1304.2 358.6 1302.2 362.7C1300.2 366.8 1298.3 371.2 1296 375.1C1293.7 379 1291.1 383.1 1288.5 386.1C1285.9 389.1 1283 391.2 1280.2 392.9C1277.5 394.5 1274.5 396 1272 396C1269.5 396 1267 394.8 1265.1 392.9C1263.1 391 1261.5 388.1 1260.3 384.7C1259 381.3 1258.2 377.1 1257.6 372.3C1257 367.5 1256.8 361.6 1256.9 355.9C1257 350.2 1257.5 344.4 1258 338C1258.5 331.6 1259.1 324.3 1259.9 317.4C1260.7 310.5 1261.5 303.7 1262.6 296.8C1263.7 289.9 1265.2 283.1 1266.5 276.2C1267.8 269.3 1269.1 262 1270.6 255.6C1272 249.2 1273.8 243.7 1275.2 238C1276.6 232.3 1277.6 227.8 1279.2 221.7C1280.8 215.5 1282.3 209.1 1284.8 201.1C1287.2 193.1 1290.4 182.8 1293.9 173.6C1297.4 164.4 1301.3 155.2 1305.6 146.1C1309.8 136.9 1314.7 127.8 1319.4 118.7C1324.1 109.6 1329.3 99.2 1333.8 91.2C1338.2 83.2 1343 75.1 1346.1 70.6C1349.2 66.1 1350.1 64.4 1352.3 64.4Z" fill="#bababa" stroke="#bababa" stroke-width="42" stroke-linejoin="round"/>
<path d="M1353 90C1357.2 90 1361 114.9 1365.6 130C1370.2 145.1 1376.5 163.9 1380.7 180.7C1384.9 197.5 1388.5 217.4 1390.7 231C1392.9 244.6 1394.1 253.2 1394 262C1393.9 270.8 1393.3 279 1390 284C1386.7 289 1378.2 289 1374 292C1369.8 295 1367.2 297 1365 302C1362.8 307 1362.2 314.8 1361 322C1359.8 329.2 1359.3 340 1358 345C1356.7 350 1354.7 352 1353 352C1351.3 352 1349.3 350 1348 345C1346.7 340 1346.2 329.2 1345 322C1343.8 314.8 1343.2 307 1341 302C1338.8 297 1336.2 295 1332 292C1327.8 289 1319.3 289 1316 284C1312.7 279 1312 270.8 1312 262C1312 253.2 1313.4 244.6 1315.8 231C1318.2 217.4 1322.5 197.5 1326.6 180.7C1330.7 163.9 1336 145.1 1340.4 130C1344.8 114.9 1348.8 90 1353 90Z" fill="#fff"/>
<path d="M1304.1 297.7L1302.4 279.1L1302.6 284.5L1304.9 279.6L1313.1 281.5L1315.4 284.5L1317.4 288.3L1314.4 297.7M1380 301.8L1378.9 299.4L1378.5 295.1L1382.2 291.5L1389 290.5L1392.7 295.1L1392.5 298.6L1390.3 301.8M1335.7 298.1L1333.8 285.5L1335.3 271.6L1336.7 266.4L1338.6 269L1342 271.6L1340.5 277.1L1339.7 298.1M1388.3 299.1L1388.6 293.3L1389 296L1391.6 292.7L1401.4 291.3L1404.8 296L1404.9 294L1404.6 299.1M1318.4 306.1L1318.3 298.7L1318.3 294.9L1321 290L1322.4 292.4L1324.4 294.9L1324.3 294.2L1325.7 306.1M1361.2 299.9L1360.2 300.4L1361.1 296L1363.7 293.7L1373.7 291.8L1375.4 296L1374.4 285.2L1376.9 299.9M1303.3 303.9L1304 292.6L1303.1 285.4L1306.3 280L1311.4 281.5L1314 285.4L1314.1 298.4L1315.1 303.9M1374.5 307L1375.5 300.8L1373.8 286.6L1377 282.5L1379.6 283.5L1381.6 286.6L1382.2 291.1L1382.8 307M1305.4 307.6L1303.9 282L1304 268.9L1306.9 264.2L1310.1 265.5L1313.1 268.9L1310.4 286.1L1312.8 307.6M1380.6 304.8L1380.2 289.2L1380.6 296L1381.6 292.2L1382.2 291.8L1385.4 296L1387 293.7L1383.9 304.8M1303.8 300.6L1303.4 295.5L1303.7 284.1L1305.4 279.7L1313.5 279.8L1315.7 284.1L1315.7 297.1L1317.1 300.6M1377.1 303.8L1376.8 293.2L1376 272.2L1378 269.7L1387 267.3L1390.2 272.2L1388.8 282.3L1387.5 303.8M1328.9 300.2L1327.6 261.2L1329.9 229.4L1331.2 226.8L1340.6 226L1343.7 229.4L1343 265.1L1342.9 300.2M1395.1 300L1394.7 266L1395.5 217L1397.3 212.3L1400.1 212.2L1403.1 217L1402.7 255.2L1402.9 300M1294.2 303.8L1294.8 259.9L1294.1 220.7L1297 215.8L1304.6 216.4L1306.8 220.7L1307.1 266.7L1307.8 303.8M1360.5 297.9L1360.7 291.5L1360 295.6L1362.1 291.8L1367.4 292.6L1370.6 295.6L1369.3 297.5L1370.8 297.9M1326.7 302L1327.1 270L1326.9 251.6L1328.8 245.4L1334.5 249.3L1335.9 251.6L1336.5 273L1335.3 302M1393 307.6L1393.4 284.2L1392.3 268.1L1394.7 265.4L1398.4 264.4L1401.8 268.1L1401.9 290.5L1401.6 307.6M1332.5 297.2L1334.1 270.6L1335.8 251.6L1337.5 247.3L1342.9 246L1346 251.6L1346.7 274.5L1345.8 297.2M1400.2 304.5L1399.6 261L1400.5 227.2L1403.6 222.7L1404.1 223.3L1407.4 227.2L1405.2 264.8L1405.8 304.5M1315.3 304.4L1313.4 271.5L1312.2 250.9L1315.9 247.8L1318.5 247.5L1321.7 250.9L1321.2 286.5L1323 304.4M1357.7 300.1L1357.3 259.1L1357.6 221.1L1360 217.2L1369.3 217.1L1371.9 221.1L1371.4 254.6L1371.2 300.1M1330.3 307.7L1332.4 291.7L1331 295.3L1334 290.6L1338.2 291.3L1341.8 295.3L1342.3 301.8L1341.9 307.7M1390.7 305.3L1391.2 255.5L1390.8 221.1L1393.8 217.7L1399.5 216.3L1401.5 221.1L1400.3 249.9L1402.4 305.3M1302 306.2L1300.6 264.7L1301.8 227.3L1303.9 222.2L1305.4 224.4L1307.8 227.3L1308 263.9L1308.4 306.2M1382.2 295.2L1383 268.1L1381.9 225.7L1385.2 219.7L1392.9 221.5L1394 225.7L1395.1 252.8L1395.4 295.2M1292.8 306.1L1292.6 292L1294.2 276L1296.5 272.8L1304.9 272.7L1307.3 276L1306.9 286.1L1307.4 306.1M1385 307.7L1384.9 297.7L1385.7 295.9L1387.8 291.7L1395.6 290.1L1398.3 295.9L1398.7 291.6L1396.4 307.7M1304.3 302.6L1306.9 288.4L1305.8 295.8L1308.9 292.9L1313.5 291.6L1316.5 295.8L1315.6 309.6L1316 302.6M1357 294.9L1358.8 282.3L1358 286.4L1359.8 283.6L1369.7 283.3L1371.1 286.4L1373.5 294L1373.6 294.9M1318 301.4L1317.3 295.8L1317.8 296L1320.2 294.1L1324.3 291.9L1326.4 296L1325.8 299.5L1327.1 301.4M1385.1 306.1L1386.2 251.5L1385.7 211.6L1388.4 206L1396.4 207.2L1396.7 211.6L1399.7 256.5L1398.5 306.1M1306.1 294L1304.3 277.9L1305 273L1307.6 269.1L1314.2 269L1316.9 273L1317.5 282.7L1317 294M1387.1 297L1386 274.2L1388.2 234.8L1389.8 230.5L1396.8 231.2L1400.1 234.8L1401.4 265L1400.5 297M1313.3 295.2L1315.3 274.2L1314 269.3L1317.3 265.1L1320.9 266.4L1324.3 269.3L1323.2 273.2L1321.6 295.2M1369 298.2L1370.4 262.7L1370 216.1L1372.5 212.4L1375.2 211.8L1377.5 216.1L1379.1 251.5L1379.3 298.2M1317.1 300.1L1317.7 296L1317.8 295.8L1320.3 291.7L1321.1 292.5L1322.8 295.8L1324.4 301.7L1322.1 300.1M1390.7 304.2L1389.5 293.9L1390 283.8L1392.5 278.2L1395.3 279.7L1398.6 283.8L1399.2 284.4L1395.9 304.2M1302.4 295.9L1302.2 268.9L1301.5 250.4L1304 246.4L1305.1 246.9L1307.8 250.4L1307.9 275.3L1307.7 295.9M1371.3 302.6L1372.4 278.7L1372 264.7L1374.8 260.8L1379 261L1381.3 264.7L1381 282.6L1382.6 302.6M1313.6 302.3L1314.7 286.6L1311.8 275.9L1315.1 271.1L1321.6 272.6L1325 275.9L1325.1 291.8L1323.5 302.3M1379 299.3L1381.4 253.2L1381.4 229.3L1382.7 224.4L1385.2 225.8L1387.4 229.3L1389 259.5L1387.8 299.3M1300.7 303.5L1301.9 265.9L1302.7 277.5L1304.3 275.1L1305.9 273.6L1307.6 277.5L1307.6 282.9L1307 303.5M1388.4 298.9L1391.8 286.4L1390.2 282.4L1392.7 278.1L1402.4 278.2L1404.3 282.4L1406.1 283L1404 298.9" fill="none" stroke="#a8a8a8" stroke-width="0.75" stroke-linejoin="round"/>
</g>
<path id="cE" d="M1352.6 68l7.6 12.4 3.6 13.7 5.7 14.7 4.1 14 5.8 14.4 5.7 13.3 5.1 15.4 5.4 15 4.6 15.2 4.4 16 2.9 15.6 4 15.4 5.2 16.6 7.2 17.2 6.1 17.2 8 18.1 5.7 17.8 5.2 17.2 1.5 16.8 0 14.9 0.8 15.4 -5.2 13.3 -16.5-0.9 -17-15.1 -11.6-14.3 -7.2-13 -7.5-8.2 -10.6 2.9 -6.3-3.5 -6-9.1 -11.8-3 -10.3 5.7 -7.6 10.1 -6.2 2.5 -10.6-3.2 -9.6 10.4 -9.2 14 -12.2 14.8 -17.6 14 -15.5 0 -2.3-16.1 1-15 3.1-16.6 2.5-17.2 3.7-17.1 4.7-19.2 5.2-18.3 6.8-18.8 5.3-18.2 6.3-16.6 4.2-15.6 4-14.8 4.1-15.5 3.5-14.1 4.2-13.9 4.1-15.4 5.2-14.6 7.4-14.4 6.8-14 6.3-13.8 6.7-13.1zM1352.9 57.8l10.1 13.2 7.6 14 6.3 15.7 6.4 15.5 7.2 15.6 7.5 17.3 7.7 15.8 6.5 16 6.1 16.6 5.3 16.1 5.5 16.2 5.1 14.6 6.8 17 7.4 18.5 5.3 19.1 5.5 20.3 5.5 20.2 3.3 18.7 0.4 18.4 -0.1 17.3 -2.5 17.1 -4.8 15.6 -17.5-1.5 -16.7-18.5 -12.1-23.7 -8.2-28 -7.2-28.3 -15.8 7.3 -9.2 23 -7.6 17.1 -13.3 8.3 -12.9-7.2 -7.1-15.4 -7-23.6 -12.1-4.9 -8.7 29.7 -8.9 28.7 -12.8 24.9 -18.5 19.4 -16.8 2 -5.5-15.1 -0.5-17.9 1.9-17.5 2-19.5 1.9-20.6 3.2-19.8 4-21.6 4.8-22 3.7-20.7 6.2-17.6 5.9-16.9 4.5-15.9 5.8-16.2 5.7-15.8 5.2-15.7 6.4-15.5 6.9-14.9 7.8-15.1 8.2-14.5 7.6-15.3 8.6-16.3zM1351.8 78.1l10.1 9.7 7.7 11.6 7.4 12.2 6.5 12.4 6 13.4 6.2 12.9 5.2 15.2 7.2 14.1 5.4 15.5 5.8 14.3 5.3 15.7 5 15.7 8.3 15.4 9.5 15.8 10.3 16.1 10.1 16.5 8.4 15.9 6.6 14.5 3 14.7 -1.1 13.4 -1.4 15.4 -7 12.3 -22.9 0.3 -28.4-13.7 -18.5-19.2 -10.7-24.1 -8.4-27.1 -12.1 6.8 -7.2 24.2 -7.6 18.3 -13.6 8.7 -13.9-6.8 -8.5-16.8 -6.8-24.2 -13.1-5.6 -8.2 28.2 -13.2 23 -16.6 19.2 -28.5 11.6 -21.3-1 -5.6-14.7 -0.8-15.8 2.2-15.8 3.2-16.1 7.9-17.1 10-15.5 11.1-17 10.6-15.6 9-14.8 7.2-14.8 3.2-13 4.4-13.9 5.2-12.2 4.4-13.5 6.8-12.8 6.7-12.9 8.1-13.2 8.2-12.5 7.6-13.7 7.9-14.1 7.6-13.3zM1352.6 43.1l8.5 10.5 8.2 14.5 5.2 14.4 8 15.6 6.7 15.7 6.2 16.3 6 17.5 4.9 17.4 4.6 16.4 5.2 17 5.4 15.3 4.6 17.4 5.7 17.3 5.6 18.3 4.1 21.2 4.4 20.2 4.1 20.1 3.4 18.7 0.9 17.6 1.5 15.4 -1.4 15.9 -3.5 13.8 -15.7-1.7 -14.4-17.2 -10.6-17.7 -6.7-15.9 -7.3-13.6 -13.3 3.7 -7.5 6.8 -7.2 1 -14.1 0.4 -14.9-1 -9.1 1 -7.1-7.6 -13.9-6.8 -9.8 14 -7.9 16.1 -10.1 17.6 -15 17.5 -15.1 0.2 -5-14.6 -0.1-16.4 1.1-17.1 1.7-18.5 3.8-18.6 3.4-19.7 5.3-18.8 4.9-18 3.2-19.7 5.3-17.4 4.9-16 4.5-15.8 5.6-16 6.5-16.3 6.8-16.4 8.4-15.9 7.1-14 6.4-14.7 6.7-15.5 5.6-14.7 6.7-15.3zM1352.5 66.3l9.9 11.4 7.1 12.9 6.6 14 6.9 12.8 6.1 13.1 7.2 13.5 6 14.7 6.2 14.9 4.9 15.8 4 14.3 4.9 13.4 4.2 15.2 3.2 16.6 4.8 18.9 4.5 19.6 4.8 19.6 3.8 20.2 3.4 19.1 0 17.7 0.4 17.2 -2.3 16.5 -6.8 14.7 -15.9-3.1 -15.8-21.4 -11.3-25.6 -7.1-25.5 -7.5-25.6 -12.4 5 -7.7 25.5 -8 25.9 -11.1 15.4 -13.3-9.7 -6.7-23 -6.3-23.4 -10.8-5.2 -7.1 22.5 -7.1 22.4 -11.1 21.8 -14.6 19.3 -14.9 2.9 -4.8-14.5 -0.1-13.4 1.7-15 2.5-15.3 3.5-18.4 3-19.2 4.7-22 3.6-20.4 3.6-21 4.1-18.1 4.2-16 2.7-14 4.9-14.7 5.1-15.1 6.3-15.1 6.7-13.8 6.7-14.5 7.6-13.5 6.2-13.5 8.6-13.3 8-13.3zM1354.9 60.3l7.8 11.8 5.4 13.9 6.6 13.5 5.7 13.7 5.3 13.7 5.8 13.2 4.9 14.6 4.5 15.1 5.6 13.2 3.3 17.6 4.3 14.3 4.1 16.7 6.5 18.5 5.7 21.5 5.2 23.1 4.9 23.4 4.9 23.2 3.3 22.2 2.2 19.1 -0.3 17.6 -1.3 16.3 -5.9 15.6 -17.3-6.1 -13.7-26 -10-28.8 -5.5-30.3 -7.1-29 -12.5 6.9 -8.1 22.1 -10.2 14 -15.8 5.7 -13.9-6.2 -9.1-14.6 -5.8-23.8 -11.6-6.3 -6.7 30.5 -6.4 29.7 -9.9 27.4 -14.7 24.1 -16.6 4.3 -5-16.1 -2.2-15 0.3-16.4 2.8-17.5 4.2-20.4 4.6-22 6.1-21.6 4.7-22.4 6-20.9 5.4-18.1 3.4-16.3 3.9-14.9 5.3-14.5 5.8-14.5 7.6-14 7.5-14.6 8.4-13.9 7.5-14.4 8.2-14.8 6.7-15.2 7.1-14.5zM1349.9 47.1l8.9 13 6.6 14.5 7.5 15.8 6.5 16.2 6.7 16.7 6.4 16.1 5.5 14.8 4.1 15.4 5.6 14.9 5.1 14.2 4 14.8 6.6 15 4.2 15.5 5 19.4 4 20.5 2.7 20.5 2.7 19.1 1 18.8 -0.9 17 -0.8 14.8 -2.5 14 -4.9 15 -13.4-3.4 -11.8-17.5 -7.3-20.2 -4.6-21.4 -7.4-21.6 -11 6.6 -8.9 29.8 -6 33.1 -12.4 19.5 -11.8-18 -6.9-34.1 -6.7-29.1 -10.6-5.1 -5.9 22.9 -7 21.1 -7.5 18.5 -11.2 15.2 -12.7-1.3 -4.6-14.3 -2-17.1 1.4-16.3 1-17.3 0.9-17.6 2.1-18.3 0.8-17.3 2.9-17.9 1.8-16.9 2.1-15.7 3.7-15.4 4.4-14.4 4.4-16.6 5.5-17.1 6.3-15.5 6.7-16.1 5.7-16.5 6.6-14.4 7.2-15.5 6.3-14.5 8-13.9zM1352 47l9.1 12.1 8.9 15.2 8.1 15.1 6.9 14.6 8.3 14.3 5.5 14.9 5.4 16.7 4 16.6 3.9 17.1 3.4 16.3 5.7 16.1 4.5 16.8 5.3 18.6 4.9 17.9 2.5 19.6 1.8 21.6 1.1 20.1 -0.7 18.8 -1.2 18.2 -1 17 -2 16.9 -5.3 14.4 -11.9-3.6 -10.7-19 -8.5-19.4 -5.1-18.8 -5.9-16.7 -12 4.8 -6.4 10.9 -6 6.2 -10.6 3.1 -11.3-2.8 -7.7-6.9 -5.3-11.4 -13-5.5 -6.7 18 -5.5 19.8 -6.8 20.8 -8.3 20 -12.2 1.1 -6-14.8 -1.9-16.8 -0.4-17.6 -0.9-16.9 0.9-19.7 0.8-18.8 1.7-20.3 2.6-20.7 1.9-21 2.8-17.8 3.6-16.7 1.8-17.7 3.5-16.6 5.2-14.7 6-15.6 7.4-16.1 7.6-14.4 6.7-15.3 8.7-15.8 6.6-14.1 7-15.7zM1348.2 67.6l7.5 12.2 6.1 12.9 7 14 8.3 13.4 6.7 14.9 7.3 14.8 6.6 13.6 5.9 15.7 4.9 15 5 15.1 6.1 14.3 6.2 14.5 6.9 15 6.4 16.5 5.9 18.4 4.8 18.7 4.1 17.9 3.5 18.2 1.2 17.5 1.3 16.5 0.4 15.5 -2.9 15.1 -16.6-1.2 -15.6-15.5 -11.8-15 -7-13.1 -9-11.2 -13.3 3.5 -6.2 18.7 -7.7 21 -13.3 14.5 -14-14.3 -8.9-22.3 -8-16 -12.8-4.2 -10.3 10.4 -7.3 14.5 -11.7 16.1 -17 15 -17 0.6 -5-14.9 0.4-15.9 0.1-15.8 2.6-15.9 3.5-18.1 4.5-17.5 5.6-17.5 8-18 6.1-19 5.4-16.3 5.1-16.4 4-15.6 4.5-15.5 3.9-16 5.3-13.4 5.8-14.6 6.5-13 7.6-14.9 6.1-13.1 5.7-13.4 5.3-14.3zM1353 55.5l8.2 13.6 6.6 13.7 6.7 14.5 5.8 13.9 3.8 13.9 5.3 12.7 3.9 14.9 3.9 15.8 3.5 15.3 4.9 16.9 3.8 15.5 3.8 16.2 4.1 16.3 5 16.8 3.8 17.6 3.7 17.7 2.5 18.6 0.4 17.5 -0.9 17.3 -1.4 17.6 -2.7 15.3 -5.5 14.7 -13.7-1.1 -11.2-17.7 -8.6-22.6 -5-26 -5.6-27.1 -8.2 7.1 -4.7 19 -6.1 10.4 -7.9 2.5 -10.4-2.2 -5-8.3 -4.8-19.7 -9.4-5.7 -5.7 28.7 -7 27.6 -8.1 22.4 -12.8 15.8 -12.9 0.3 -5.4-16.3 -2-16.7 0.1-16.3 1-17.7 2-16.3 2.9-16.3 4.3-16.5 4.1-17.7 4.2-17.5 4.1-17 3-17.3 2.8-15.7 4.6-16.8 2.9-16.1 3.8-15.7 5.1-15.8 5.4-14.2 5.7-15.2 6.6-15.7 6.5-13 6.5-14.9zM1348 39.5l11.9 13.2 8.7 16.3 8.5 17.3 7.9 17.1 7.6 16.5 6.8 17.4 6 15.8 3.7 15.5 5.1 15.8 5.7 17.4 5.2 15.3 5 17.6 5.9 16.7 6.3 16.3 5.3 16.2 5 15.5 1.7 14.4 1.4 15.9 0.2 16.6 -1.8 16.9 -2.3 17.5 -5.7 15.8 -14.2 3.5 -12.5-7.2 -8.8-7.3 -6.1-4.5 -6.4-0.2 -12.3 0.6 -9.4 5.1 -6.9 9.2 -12.4 9.8 -13.5-6.6 -7.6-7.4 -6.3-3.9 -11.2-5 -7.4-1 -6.7 3.9 -8.6 7.9 -13.6 6.8 -15.5-3.1 -6.2-13.9 -2.2-16.7 -0.8-17.8 1.6-17.5 2.6-17.7 1.8-16.2 3.7-15.5 3.7-15.3 3.5-16.9 3-16.5 2.9-16.4 4.3-16.9 3.5-17.1 5-15.4 5.5-16.4 6.1-16.4 6.2-15.5 6.6-16 6.3-16.1 6.5-16.2 7.8-16.9zM1351.3 83.1l9.9 12.2 8.1 12.2 7.5 13.7 7.4 12.1 8 12.1 8.2 13.4 7.5 13.2 7.6 15.4 7.2 14.9 6.2 15.7 5.6 15.5 4.8 15.2 4.6 18 4 15.3 2.8 18.7 1 17.5 2.1 16.8 1.5 16.6 1.4 15.2 -1 15.5 -0.3 15.9 -4.3 16.6 -14.5-2.4 -11.6-14 -8.2-18.3 -6.3-19.3 -7.1-18.9 -14 5.3 -7.9 21.5 -10 19.9 -15.3 11.8 -15.1-11.8 -11-21.8 -8.7-20.5 -13.9-4.5 -8.5 19.8 -6.6 18.6 -8.3 18.4 -12.2 15.7 -15.3 0 -6.6-15.6 -2.2-16.2 -0.3-15.5 -0.2-16.8 0.8-16.8 0.8-16.7 3.1-18 2-17.7 3.7-17 3.7-16.6 3.5-15.3 4.2-14.8 5.5-15.6 6.4-14.5 7.2-14.7 8.3-14.5 8.5-13.6 9.2-13.6 8.3-12.7 8.3-11.7 9-13.1zM1353.5 77.3l8.8 9.7 6.9 12.3 5.9 13.8 5.3 14.8 4.9 16.4 7.2 17.2 4.7 17 6.9 15.7 5.4 15.3 5.8 15.2 5.6 13.8 5.7 16.3 5 18.3 4.1 18.7 5.1 20.2 2.8 21.1 3.3 19.6 2.6 18.2 1.3 15.2 0.4 15.6 -0.6 16 -5.9 15.8 -15.5-1.4 -15.6-17.3 -10.8-21.3 -7.4-23.8 -7.6-24.7 -11.9 6.7 -5.7 20 -5.1 19.5 -11.1 9.4 -12.3-7.2 -7.3-16.3 -6.8-21.2 -11.3-5.8 -7.9 23.3 -6.7 24.1 -10.1 20.6 -13 17.4 -13.4 1.3 -5.5-15.3 -0.7-17.4 0.8-19.3 1.2-18.3 1.4-20.7 3.7-20.4 3.4-20.3 5.3-17.7 3.4-17.4 5.5-14.6 4.6-16.6 5-14.9 5.7-18 2.8-15.7 4.9-16.7 4.9-14.3 6.2-13.5 6.4-13.4 6.1-12.8 7.4-13.6 7.4-14.8zM1348.5 55.9l10.4 14.1 8.5 16.3 7.9 15.8 9.7 16.5 7.4 15 9.7 15 8.3 14.1 6 14.1 6.1 15.1 6 14 5.6 16.9 6.9 14.7 7.8 15.9 7.5 14.8 8.3 17.2 6.6 17.1 5.9 16.9 4.3 17.2 1.8 18 0.6 16.7 -1.8 16.1 -5 15.7 -18.3-0.1 -18.8-13.1 -12.4-17 -9.2-21.3 -8.4-21.3 -13.8 6.6 -7.7 25.9 -8.5 22.9 -14.7 12.8 -16.5-13.3 -9.9-26.8 -8.5-25.7 -14.5-5.9 -9.4 22.7 -10.6 22.7 -13.4 18.1 -20.3 13.5 -19.3-0.5 -7.6-13.4 -2.5-16.1 0.5-16.1 1.4-16.4 3.1-17.4 4.9-17.1 6.9-17.8 7-18.5 6.7-16.3 5.1-18 4.6-16.4 3-16.1 4.8-14.8 3.4-14.3 5.8-14.7 7.8-14.8 7.2-15 8.9-15.4 7.8-16.2 8.3-15.9 8.3-14.2zM1352.9 74.3l8.5 11.8 6.8 13.1 5.3 15.4 6.7 13.2 6.9 14.4 7.6 15 6.5 14.8 6.8 15.2 6.6 16.5 5.5 15.9 6.9 15.7 5.8 14.8 6.3 15.5 7.9 15.5 6.4 16.5 7.9 16.1 5.7 16.5 5.9 16.2 3.3 16.2 1.8 16.2 -0.4 16.1 -5.5 14.6 -19.7-0.3 -20.9-14.9 -15.2-20.5 -10.2-21.9 -9.2-24.8 -14.6 5.4 -7.8 28.2 -7.8 28.1 -13.3 16.9 -15.2-15.4 -8.7-29.5 -8.3-26.6 -12.8-4.9 -8.3 24.5 -8.8 22.7 -11.2 18.7 -18 14.7 -17.2-1.7 -4.6-13.3 0.6-14.9 0.8-15.5 2.6-15.7 3.4-15.3 5.6-15.6 5.7-15.8 6.5-16.7 5.7-16.4 6.8-17.3 4.3-15.7 4.6-17.1 5-15.3 5-16.9 5.9-15.1 6-15.2 6.9-14.6 7.4-14.7 6.9-13 6.4-14.4 8.4-14zM1351.7 69l7.5 11.8 5.5 14.1 6.2 13.5 5.2 14.4 5.3 14.8 5.9 14.1 5.7 14.7 4.7 14.4 5.7 15.8 4.8 14.6 7.5 15.5 5.8 13.6 6.1 16.2 7.9 17.6 6.5 19 6.1 18.8 4.7 20.7 4.2 17.4 2.6 17.4 0.9 16.4 0.4 15 -3.8 15 -17.5-3.2 -18.4-18.9 -13.3-19.2 -9.2-17.5 -8.4-15.1 -11.7 4.5 -5.4 5.1 -6.2-3 -10.8-2.5 -12.5 2.4 -6.9 2 -7.2-6.2 -11-5.4 -8.8 16.7 -8.9 18.9 -12.3 18.8 -18 18.2 -16.1 2.3 -5.3-14.5 -1.3-15 1.7-15.2 2-16.1 3.8-16.7 5.1-19.4 5.8-19 7-19.8 5.3-19 5.6-17 4.2-15.6 3.8-15.1 5.2-15.7 5.1-14.2 5.5-14.4 5.2-14.8 7.7-15.4 5.8-14.1 6-14.2 4.9-14.4 7.2-11.9zM1353.3 70.1l9.8 11.4 6.4 15.2 6.6 13.9 6.3 15.4 6.8 15 5.2 13.7 7.1 13.6 5.4 15.3 4.9 15.4 5.3 14.9 4.6 15.8 3.4 15.1 4.9 16.3 5.6 19.2 6.7 21.2 6.7 20.9 6.7 21.5 5.4 18.9 2.4 18.1 1.4 16.1 -1.4 15.1 -5.5 14.8 -19.2-4.7 -19.2-22.9 -13.2-23.6 -7.9-21.3 -7.2-19.4 -13 7.3 -8 19.2 -9.2 16.3 -14.3 9.8 -14.6-8 -8.9-16.7 -7.4-19.5 -13.2-4.8 -10.1 19.7 -10.9 22.5 -15.2 23.1 -21.8 22.5 -19 3.5 -5.6-16.2 1.3-17.1 3.1-16.1 5.2-17.2 6.6-19.4 7.2-21.3 7-22.3 7.6-21.1 6.6-20.2 5.8-18 5.7-16.2 6.1-15.4 5.8-15.3 7-16.9 5.9-12.4 5.7-15.2 8.4-13.4 5.7-14.1 7-13.4 7.6-13.5 8-14zM1351.9 60.2l17.8 11.3 12 14.5 10.9 13.5 8.3 15.4 8.2 14.5 7 15.5 6 16.8 5.2 14.8 4.6 14.6 4.7 14.9 4.5 14 2.1 14.6 3 16 1.3 18.7 1.2 18.9 0.8 20.4 -0.4 19.6 -0.8 20.4 -2.7 16.8 -4.1 15.6 -5 15.8 -7.7 13.5 -14.7-2.5 -12.3-18.2 -9.2-20.8 -4.5-22.9 -5.3-22.4 -11.6 5.9 -7.7 21.3 -7.3 16.1 -10.3 9.8 -10.8-9 -6.6-17.7 -7.4-21.1 -9.6-4.9 -5.4 23.9 -5 24.2 -6.8 20.2 -12 18.5 -14.6 1.7 -8.2-14.5 -6.8-16.1 -3.7-16.4 -3.3-16.7 -1-18.4 0.5-18.3 2.1-19 2.3-19 2-18.2 4.7-17.1 1.4-15.4 3.6-14.7 4.3-14.7 4.6-15.3 6.5-14.1 6.7-16.1 7.7-14.4 10.3-15 9.2-15.1 11.5-16.3 13.4-13.6zM1348.5 32.5l10.3 13.6 10.4 15.8 9.2 16.4 9.9 17.2 8.6 16.5 8.6 16.2 7.5 16.5 6.4 18.1 5.1 16.9 5.8 17.1 3.2 16.6 4.6 17.2 5.3 18.6 6.4 18.7 6.6 20.3 6.2 19.5 5.2 20 5 18.9 0.9 17 0.2 15.8 -2.1 15.8 -6.8 15.4 -18.8-2.9 -20-18.2 -13.6-19.5 -8-20.3 -7.4-18 -13.6 5.1 -7.7 14.3 -9.2 9.8 -15.3 7.6 -15.7-5.5 -9.9-10.2 -9.2-15 -13.7-5.4 -9.6 18.6 -9.4 19.4 -12.4 19.4 -19.9 19.4 -16.4 2.3 -5.2-14.3 -0.7-15.7 1.1-15.8 2.4-17.1 2.8-19.8 5.4-21 6.5-21.1 5.3-23.6 6.2-18.6 6.1-19.6 3.6-17 4.2-16.5 5.7-16.5 5.1-15 6.7-16.3 6.9-14.7 7.3-16.9 7.5-15.7 8.4-17.7 7.4-16.7 8.7-14.9zM1358.5 36.6l5.9 13.3 4.5 15.3 4.7 16.2 4.4 16.2 4.6 14.5 4.8 15.4 6 16.1 4.9 16.2 4.9 16.3 4.3 17.2 4.1 15.9 2.6 15.9 3.8 14.8 3.3 16.6 2 16.8 3.5 16.2 2.1 16.2 2.5 19.2 1.9 17.5 1.1 16.6 -1.8 16 -3.7 15.4 -13.6 1.6 -8.7-11.1 -7.6-16 -7-17.1 -6.6-19.3 -12.8 5.9 -6.8 27.1 -8.2 27.7 -13.1 15.6 -12.3-16.4 -5.7-30.5 -4.8-25 -8.4-4.7 -6.7 20.2 -5.2 19.8 -6.5 15.2 -10.9 10.5 -12.5-1.6 -4.9-15.7 -0.3-16.6 2.7-15.7 2.9-16.7 1.6-15.8 1.3-16.8 2-17.2 1-15.9 3.7-16.7 3.5-16.7 5.6-16.9 6.2-16.1 5.5-17 6.1-16.7 6.2-16.3 5.2-16.4 5.7-17.7 7.1-16.1 5.5-16 6.4-16 7.1-14.3zM1349.3 85.5l11.6 10.4 9.1 12.1 9.6 12.6 7.9 12.9 7.2 12.9 7.6 12.7 4.9 13.8 5.6 14.8 4.3 13.3 4.2 13.2 5.2 12.3 3.9 13.6 4.2 14.1 4.9 15.3 5.1 16.5 3.6 18.4 4 15.6 3.9 15.6 2.3 16.5 1.9 14.4 -0.8 14.5 -4.6 13.4 -13.8 0.6 -16.6-14.6 -12.1-19.4 -7.9-24.1 -7.9-25.4 -11.1 6.7 -5.5 22.6 -4.8 17.1 -11 9.5 -10.9-6.8 -7.4-16.8 -8.3-23.5 -11.7-4.9 -7.4 27.4 -7.4 23.1 -9.2 18.3 -17.5 12.2 -14.8-1 -5.9-15.4 -3.2-14.3 -1.5-15.8 0.2-14.8 1.5-15.5 3.9-17.5 3.3-15.8 4.2-16.7 3.5-15.9 4.1-14.5 2.3-14.2 2.3-12.8 5.2-14.2 5.4-13 7.2-13.3 7.3-13.3 7.3-13.1 6.8-13.2 4.6-12.2 5.6-12.1 7.4-12.5zM1352.9 69.7l11.5 10.8 7.4 13.1 7.2 13 7 12.8 6.1 11.3 7.6 13.6 6 11.6 4.6 12 5.7 13.4 4.3 12.7 5.2 11.5 2.9 13.7 5 13.8 4.8 15.8 6.5 15.7 4.5 16.8 4.1 16.7 3.3 14.6 0 14.8 -1.4 13.7 -2 13.7 -4.6 12.9 -15.8-2.1 -15.9-15.8 -11.1-16.5 -7-15.3 -6.3-12.6 -10.1 3.7 -5.1 13.1 -6 11.8 -9.5 6.6 -10.7-5.6 -6.4-11 -6.7-11.9 -10.6-3.3 -8.1 15.1 -8.3 18.2 -11.3 17.5 -17.2 15.7 -15.4 1.2 -5.2-13 -1.5-15.7 1.2-14.2 -0.1-15.1 2.6-14.8 2.7-16.8 3.1-15.6 2.7-17 4.4-15.8 4.7-16.9 3-14.8 3.3-15.2 5.5-12.6 5.3-12.9 4.4-11.7 6.2-12.1 6.5-12.1 5.5-12.7 6.3-12.5 7.7-12.2 7.7-12.1zM1351.4 60.3l9.5 12.5 10.3 13.7 8.5 15.5 7.7 14.8 8.3 14.5 6 15.1 3.4 15.5 4.3 15 2.4 15.8 5 16.1 6 15 5.7 15.4 5.6 16.4 5 15.2 3.3 16.5 2.1 16 0.7 15.9 -0.3 17 -2 16.8 -1 17.5 -2.6 17.9 -5.4 16.2 -13.3 1.2 -11.2-14.3 -8-22.2 -5-27.5 -7.7-31.3 -13.1 7 -7.6 26.4 -7.4 18.6 -12.6 9.5 -12.4-8 -6.3-19.4 -6.8-25.6 -10.3-6.1 -8.2 32.3 -8 27.8 -9.2 22.9 -12.9 16.4 -16.6 0.5 -6.4-15.6 -2.7-17 0.4-16.7 1.4-17.6 3.4-17.4 2.6-18.2 2.4-16 4.3-17.6 2.6-16.7 3.3-16.5 4.3-17 3.3-16.3 4.9-16.4 7.1-16.2 7.6-15.2 6.9-15.9 8.3-13 7.7-15 6.8-14.7 7.2-14.2 7.1-14.4zM1354 66.4l10.5 11.7 8.3 12.9 6.8 13.7 5.3 14.1 8.1 15.1 6.4 14.2 8.2 14.7 7.5 13.4 9 13.2 7.8 13.3 6.6 12.1 6.1 13.3 5.2 15.7 4.3 19 3 18.8 2.1 20.1 0.6 20.3 2.3 19.2 0.4 17.6 0 14.7 -2.1 14.4 -5.5 13.6 -15.4-2.9 -14.2-17.9 -9.4-21.2 -8.4-21.4 -5.9-20.6 -13 5.8 -5.9 12.1 -7.1 3.1 -10.5 1.1 -13.2 1.3 -7.1-1.5 -6.7-13.3 -12.6-6.3 -7.1 22.7 -7.2 21.3 -9.7 20.1 -15.9 16.5 -16.6 1.5 -9.1-14.7 -4-13.9 -0.7-15 0.9-15.5 3.1-17.9 3.7-19.5 4.7-19.5 4.5-20.6 3.5-17.9 2.7-16.8 2.7-14.3 3-14 3.4-13 4.9-14.1 4.6-12.2 6.3-13.9 8.4-12.8 6.8-14.6 7.8-13.5 8.3-14.4 8.3-15zM1348.2 53.2l6.7 12.3 5.4 15 6.4 14.5 5.4 15 7.7 15.9 7 12.8 6.7 15.5 5.6 14.5 5.1 15.2 3.8 16.2 3.3 15.8 3 17.2 3.2 17.6 5 17.8 4.8 18.6 5.7 17.6 5.8 16.3 2.9 17.5 3.9 16 0 16.2 -1.5 16.5 -4.5 17.3 -17.4-0.5 -15.8-14.3 -12.1-19.6 -8-21.8 -6.1-22.4 -12.2 5.6 -6.2 13.8 -6.8 8.3 -9.9 5.3 -12.3-1.4 -5.9-6 -6.1-14.6 -11.2-3.8 -8.5 21.4 -9.5 19.9 -14 17.1 -17.8 13.9 -15.6-0.3 -4.4-14.6 0.7-14.7 3.6-15.1 3.2-16.3 4.6-16.7 5-17.8 6.3-19.2 4.9-19.6 4.1-20.3 4-17 4.7-17.3 3.2-17.2 4.9-15.2 5.8-15.4 6.5-13.7 7-15.4 7.5-14.4 6.6-16.1 6-14.5 6.4-15.5 6.7-13.8zM1352.2 52l8.9 12.1 7.6 15 6.3 13 6.8 14.2 5.2 13.8 4.3 14.5 3.9 15 3.3 16.6 2.6 17.9 3.2 16.1 4.1 16 5.3 17.4 6.4 17.3 6.3 19.8 5.4 20.7 5.4 20.1 3.8 19.7 2 20.2 0.8 16.9 -0.5 17.3 -1.9 15.6 -3.6 14.7 -14.8-2.8 -13.8-19.7 -10.8-22.2 -6.1-20 -5.9-19.6 -9.8 6.5 -6 19.2 -5.9 19.5 -9.8 10.2 -10-8.5 -6-17.5 -6-19.6 -9.9-4.9 -5.5 19.6 -7.6 20.3 -9.8 21.1 -15.3 18.5 -14.9 2.3 -4.8-15.4 -1.3-16.2 0.9-18.2 1.2-17.9 2.8-19.5 2.7-20.8 4.5-20.9 5.2-20.1 2.7-19.1 3.8-16.6 4.5-15.7 3.5-16.3 4.9-15.2 5.5-16.6 5.8-14.9 6-15.7 5.6-16.7 6-14.1 5.3-15.1 4.7-14.2 6.1-14.4zM1350.2 63.4l10.2 11.1 8.5 15.4 7.7 17 7.1 15.6 7.2 15.3 6.5 15.1 5.9 14.8 4.1 15.6 4 15.3 5.3 15.4 5.5 16.5 5.3 16.7 5.7 15.9 6.8 16.8 7.1 17.1 5.4 15.8 4.4 15.6 3.4 16.4 1.4 15.8 1.3 17.1 0 16.2 -5.6 16.5 -16 2.7 -16.2-12.2 -12.1-18.6 -7.2-24.8 -8.2-27.6 -12.3 6 -7 15.6 -6.9 6.2 -13.6 0.9 -14 1.8 -8.5-4.7 -8.1-17.9 -13.7-7 -9 26.7 -9.1 23.5 -10.2 19.2 -17.5 10.4 -14.6-0.7 -5-16 -1-15.9 1.7-16.4 1.4-16.6 1.8-15.8 3.3-17.6 4.6-16.4 3.7-16.2 4.6-17.1 5.6-16 5-16.4 3.8-15.8 5.2-16 5.2-14.9 5.3-15.7 7-15.2 6-15.4 8.6-15 4.5-15.1 7.7-17.2 7.7-13.7zM1350.5 68.1l13.1 12.6 8.7 13.4 8 14.1 8.3 14.2 8.9 12.2 8.2 14.1 7 14.5 6.5 14.6 5.4 15.2 4.1 16.1 5.5 17 4.2 15.7 4.7 17.5 2.6 18.4 1.7 18.6 2 20.4 0.3 18.1 -0.9 18.9 -1.4 16 -1.6 16.5 -1.6 15.1 -4.7 15.9 -11.2-1.9 -10.4-19 -7.9-25.3 -6-29 -7.7-30.4 -13.7 6.3 -8.4 31.5 -9.4 25.3 -10.5 12.9 -12.1-11.2 -7.7-27.5 -7.6-30.6 -11.7-7 -5.6 32.2 -6.5 29.1 -6.3 24.2 -11 19.6 -11.6 1 -6.7-15 -4-16.2 -3.4-17 -2.9-16.7 -1.9-19.6 -1.1-18.9 2.4-19.1 3.2-18.5 4.6-18.4 4.9-16.2 4.6-15.6 4-16.1 4.1-14.4 3.4-16.4 5.1-15.5 5.7-15.3 7.1-14 7.7-15.3 9.4-14 9-13.8 9.1-11.6zM1358.4 75.2l6.3 13.2 6.4 12.6 3.6 15 4.6 13.1 4.2 12.5 4.5 13.5 3.9 13 4.3 13.8 4.1 13.7 3.2 16.4 4.5 15.2 3.3 14.7 4.9 16.8 5.3 17.8 5.4 19.1 6.6 19.7 5.3 18.2 3.6 18.9 -0.5 16.8 -1.4 16.5 -3.1 16.1 -6.9 14.6 -15.4-4.3 -15.5-22.3 -11.1-27.6 -5.6-28.9 -5.7-31.4 -10 7.8 -6 33.8 -5.6 29.8 -10.2 15.8 -11-15.1 -5.4-31 -5.1-32 -8.9-6.3 -7.2 31.5 -8.4 29 -11.6 25.4 -16.3 22.5 -14.5 2.5 -4.4-13.8 1.1-15.5 1.8-14.7 3-16.2 4.3-17.8 5.1-19.1 6-19.7 5.4-20.7 4.2-19.5 5.8-16.2 3-16.2 3.6-14.6 3.9-13.4 4.8-14.8 4.7-13.2 6.1-14.8 5.9-13.7 6.1-14.3 7-14.9 7.4-12.5 8-13.4zM1351.8 63.6l5.7 12.8 4.6 14.7 4.5 16.2 6.6 14.5 4.5 15.5 5.6 16 4.2 15.9 4.9 15.6 4.5 15.3 5.9 15.1 7.4 15.2 7 15.6 7.2 16.9 6.8 18.3 6.9 19.5 5.2 20.8 5.7 19.8 5.1 18.5 2.7 17.6 3.3 17.6 0.2 16.2 -4 16.2 -17.7-3.5 -17.3-19.2 -13-17.7 -9-14.5 -8.5-9.9 -13 3.1 -6.2 12.5 -6 16.4 -14.1 12.2 -14.8-7.7 -8.6-13.7 -8.9-10.3 -12.3-3.4 -11.4 9 -9.3 14.2 -10.9 17.3 -17.5 17.7 -15.5 2.1 -4.6-14.8 -0.1-16.7 1.6-17.2 3.5-17.2 4.8-19.3 5.8-21.6 7-20.7 7.5-22.7 6.6-21.6 6.7-19.3 4.1-18.1 4.9-16.8 3.5-16.8 5.3-15.3 6.5-13.8 6.3-14.4 7.9-13.4 7.6-13.9 6.9-14 5.4-14.3 5.7-14.1zM1354.1 52.4l10 11.1 8.4 16.5 7.9 15.3 6.8 17.1 7.2 14.8 7.7 15.8 6.8 15.2 5.5 15.7 7.3 14.3 5.4 15.2 5.7 15.9 6.4 17.6 7.6 17.9 8.3 19.9 7 20.3 7.1 20.3 5.3 19.7 4.7 18.9 2.4 17.5 0.6 16.3 -1 17 -5.6 16.7 -18.7-4.2 -19.6-19.9 -12.3-21 -11.4-17.8 -11.2-15.8 -15.4 3.2 -8.2 21.4 -10.4 23.8 -14.5 15.3 -16.2-13.5 -9.3-22.3 -7.6-19.9 -14.3-5.2 -9 14.5 -10.5 17.4 -12.5 19.3 -18.5 22.2 -19.8 2.8 -4.1-13.9 0.2-15.8 1.3-15.7 1.8-18.5 3.9-20 4.7-20.8 5.6-22.4 5.8-20.1 6-19.8 6.4-17.7 5.7-15.8 5.6-15.7 4.8-14.5 6.1-15.6 6.2-15.6 7.1-15.6 7.9-15.5 9.1-16.1 7.9-15 9.1-15.5 8-16.5zM1346.8 71.9l9.8 10.9 8.7 15 8.6 14.2 7.5 16 7.2 14.7 7.2 15.1 4.9 14.1 4.6 12.9 5.6 14.3 6 14 6.7 14.4 6.8 16.3 7 16.1 7.2 19.1 6.5 18.6 5.7 18.4 4.7 19.7 4 17.7 2 16.5 2 16.6 0.1 16.3 -5 15.2 -19.1-0.5 -16.7-16.7 -12.1-16.5 -10-15.3 -10-15 -17 4 -9.2 22.5 -9.4 25.1 -16.3 17.2 -16.2-16.7 -8.8-26.4 -8.6-20.8 -12.9-5.6 -9.4 13.4 -8.2 16.8 -11.7 17.4 -17 16.1 -18.2 1.6 -5-15.4 -0.2-15.8 1.7-16.5 4.3-16.2 4.8-18.2 5.8-18.4 5.7-18.9 6.2-19.1 6-18.5 6.2-17.2 4.9-16.3 3.9-15.4 5-15.4 6.1-14.8 6.3-13.7 6.4-15.2 6.2-14.6 6.9-12.5 6.4-15.3 6.4-14.1 9.2-14.1zM1352.1 71.6l9.7 10.5 8.9 13.3 5.2 14.7 7 13.5 5.6 13.9 5.1 14.1 4.4 14 5.5 14.8 4.4 13.3 4.8 15.1 4.5 15 5.7 15.8 7.6 16.2 10.4 17.3 9.9 15.8 9.8 16.2 8.6 15.3 6.6 15.6 3.6 14.9 -0.1 15.5 -0.5 16.1 -5.4 15.9 -21.1 3.1 -25.4-9.4 -18.3-10.7 -9.2-11.5 -8.7-9.7 -12.2 1.7 -7.8 2.8 -8.2-2.3 -12.6 2 -13.2 2.3 -7.4 4.4 -6.7-2.2 -10.8-3.9 -8.8 8.4 -10.7 11.3 -18 11.6 -26.5 8.4 -21.4-1.9 -5.4-14.8 -0.6-15.7 1.1-16.2 3.9-16.8 4.7-15.2 9.7-17 10.2-16.2 10.3-17 8.4-16.3 7.6-16 3.5-16.7 5.3-15.1 4-14.6 5.9-14.6 4.9-14.6 5.9-12.9 6.4-14 7.1-13.6 7.6-13.3 7.9-14.1 7.7-14.6zM1347.6 65.4l11.1 9.4 8.4 12.3 10.1 12.5 8 12.4 9.3 13.4 7.8 13.3 6.8 13.1 6.5 15 5.1 14.1 4.7 13.3 3.9 13.8 4.4 13.5 4.8 16.2 4.4 18.7 3.3 20.6 4.8 20.3 3.3 21.6 2.9 20.4 1.2 17.3 0.6 15.6 -1.2 15.4 -6.1 14.9 -16.1-6.3 -14.2-22.8 -12.2-24.1 -7.1-21.1 -7.1-19.6 -12.1 2.8 -7.9 15.5 -6.7 15.6 -12.9 7.5 -13.3-6.6 -10.2-12.9 -8.6-15.8 -13.4-4.2 -9.8 19.2 -8.8 19.4 -8.4 21.8 -15 21.9 -15.8 3.3 -6.3-13.4 -0.7-13.4 -0.1-13 2-13.4 1.6-18.6 3.5-18.8 3.8-22.9 2.2-20.8 4.8-20.6 4.2-19 3.6-16.4 3.6-15 5.1-13.3 7.2-14 5.7-11.5 8-13.4 6.7-11.9 8-12.8 6.7-12.2 6.8-12.4 8.3-13.2zM1355.5 56.9l11 10 8.3 14.3 6.9 14.5 8.7 13.2 8.1 15.9 5.9 14.8 7.2 15.4 4.7 14.9 4.2 14.8 4.4 14.9 4.6 14.3 3.7 15 3 16.7 4.1 19.3 3.3 20.8 3.2 20.3 1.5 20.2 1.7 19.6 0.6 18.2 -1.8 15.8 -2.5 16.3 -6.6 15.6 -15.4-3.4 -13.3-21.5 -8.2-23.4 -7.1-21.8 -6.9-21 -13.4 4.7 -7.3 16.5 -7.9 13.3 -13.5 8.5 -12.5-5 -7.9-10.8 -6.7-16.4 -10.7-5.6 -6.7 20.7 -6.6 22.1 -8.2 22.2 -13.1 18.9 -14.9 3.6 -5.7-15 -1.8-14.6 -0.8-15.9 2.1-16.3 2.2-17.9 1.9-20.3 4.5-19.9 4-19.9 4.2-19.6 5.7-18.1 4.2-16.7 3.9-16.7 4.4-16.1 5.5-16.5 5.6-14.6 6.3-14.3 8.3-14.5 7.5-14.7 7.8-13.7 8.2-14.3 8.2-15.1zM1351.4 71l10.5 11.6 9.4 13.2 7.9 12.7 7.9 12.5 7.5 12.8 5.5 12.3 6 13.6 3.8 15.2 4.7 15.5 3.6 15.8 3.6 15.5 4.2 15.4 5.8 15 5 16 5.7 15.9 4.1 16.6 4.1 15.6 2.8 14.9 1.7 17.2 0 15.4 -1.1 16.2 -4.5 15.3 -15.1-0.4 -16.2-15.6 -12.3-17.8 -6.2-20.2 -5.9-18.9 -11.7 4.1 -5.6 21.8 -8.6 22.7 -13.2 13.4 -14-11.9 -8.8-22.4 -9.5-22.3 -13.6-4.2 -9.9 19.6 -9.6 17.9 -12.6 17.3 -17 15.2 -16.1-0.8 -5.5-14.7 -0.3-15.3 1.4-16.8 2.1-15.7 3.4-16.1 5.3-17.2 5.4-16.6 5.9-16 6.2-15.7 6.1-15.9 4.5-15.8 4.4-14.1 5.1-15.1 5.1-14.6 5.8-15.4 5.9-13.5 6.2-14.1 7.4-11.9 6.7-12.9 7.3-12.6 9.2-10.9zM1351.7 67l10 8.3 8 12.6 8 13.8 8.8 14.1 7.3 15.6 6.9 16.6 5.9 15.8 5.2 16.1 3.4 16.6 5.1 16.4 4.1 15.3 4.8 16.8 5.8 16.8 5.4 18.6 4.6 16.5 3.2 17.5 3.2 17.9 1.5 16.9 0 15.8 -1.5 16.6 -1.3 17.1 -4.7 16.6 -14.6 2.4 -11.9-12.9 -10.5-20.8 -6.5-26.5 -7.5-29.8 -11.6 5.5 -7.4 33 -6.4 30.3 -10.9 16.6 -12-16.2 -7.1-32.6 -7.5-32.5 -10.9-5.5 -5.8 28.9 -7.7 26.6 -8.2 19.7 -13.2 12.7 -14.4-1.8 -6.2-16.5 -3-16.3 -1.3-16.9 0.2-17.3 2.5-16.5 2-15.8 4.6-15.6 4.3-15.7 5.2-16.4 2.9-16.7 2.7-17.2 2.4-17.8 3.4-17.3 3.6-17 5.7-16.5 7.2-14 7.2-14.1 7.1-12.4 7.3-13.3 6.8-13.9 6.1-15.4zM1354.4 62l8.2 11.4 5.3 14.6 5.7 15.3 4.9 15.7 6.6 17.1 6.5 16.6 5.4 17.3 6.3 17 7 15.9 5.8 16 5.4 16 5.7 15.3 4.7 17.8 5.5 17.2 5.6 18.1 4.5 19.6 4.1 16.9 3.6 18.1 3.5 17.6 0.5 16.6 -0.6 16.4 -3.9 15.5 -18.4 0 -18-15.5 -13.2-23.2 -8.3-26.9 -8.4-29.3 -11.5 7.2 -6.7 30.4 -8 26.7 -12.8 15.3 -13.2-12.9 -8.5-27.9 -8-29.9 -13.3-6.6 -10.7 30.1 -9.9 27.7 -14 22 -17.9 16.7 -16.2 1.6 -4.3-15.9 0.6-17.7 4-17.4 3.3-18.3 4.9-19.6 5.2-18.4 5.4-19 6.5-18.5 6.1-17.3 4.7-16.1 5.3-15.4 4.5-15.9 5.8-16.6 5-15.9 6.1-16.6 7-15.5 6.4-15.5 8-14.9 7.9-16.4 8.3-15.7 7.2-16.2zM1355.3 53.8l13.1 11.9 9.2 14.8 7.6 14.2 8.5 14.4 8.6 14.4 8.2 15.1 8.1 16.2 6.7 18 7.5 17.2 5.1 17.6 4.7 18.3 3.8 16.6 4 18.4 2.3 19.1 1.9 19.7 1.9 20 1.5 19.9 0.2 18.2 0 18.2 -0.1 17.9 -3 16.6 -7.4 17.7 -14.7-2.3 -14.8-18.2 -10.4-20.3 -7.5-24 -8.6-24 -15.6 4.7 -8.9 16.2 -8.7 11.4 -12.9 6.1 -13.9-5.2 -8.2-13.1 -7.6-18.8 -12.8-5.6 -10.2 23.3 -7.7 22.7 -8.3 19.9 -13.9 16 -15.4-0.1 -6-16.2 -1.3-18 0.9-16.3 1.5-14.9 0.4-18.7 1.4-18.3 3.5-19 2.8-20.3 3.9-19.9 5-18.8 4.9-17.2 4.1-16.6 5.6-16.7 4.3-16.3 5.2-15.7 6.8-14.9 8.5-14.9 9.1-13.9 10.6-15.8 11.3-14.3 11.4-14zM1350.8 76.8l7.5 11.9 6.3 14.3 6.5 13.8 6.1 13.4 6.1 12.4 6.1 13.1 5.6 14 4.1 12.3 3.5 15.4 3.8 14.9 3.4 15.2 3.4 15.7 4 18.5 3.2 19.6 1.8 20.9 1.7 19.7 1.4 19.7 0.3 18.9 -1.9 16.7 -1.5 15.7 -2.9 16.1 -5.4 15.1 -12-2 -8.9-20.5 -7.5-21.9 -4.7-21.2 -5.2-22 -9.7 4.3 -6.1 24.8 -5 23.9 -9.2 15.3 -8.6-15 -4.3-27 -4.9-24.1 -8.2-5.1 -6.3 23.3 -6.1 23 -6.6 21.8 -11.2 19.9 -11.1 2.2 -5.2-15.6 -2.4-14.9 0.3-16.4 -1.1-16.2 1.7-18 0.6-19.7 3.4-20.6 2.6-19.1 4-18.6 4-17.7 3.3-16.1 4.2-16.7 2.6-16.5 4.4-16 4.2-15.5 4.6-15.5 5.4-14.1 6.7-13.5 7.3-12.4 7.1-12.2 6-11.4zM1354.5 57.7l6.9 11 4.6 14 4.8 13.9 5.3 15.4 5.5 15.7 5.3 15.2 7.1 15.9 6.7 15.2 7 14.3 7 14.3 6.5 15.6 5.8 16.5 6.1 16.8 6.1 19.5 5.8 20 5.1 20 5.6 18.7 4.3 18.7 2.1 16.9 1.4 16.9 -0.7 15.9 -4.8 16.4 -18.1-0.1 -15.6-15.8 -12.1-18.4 -8.1-20.5 -8.4-21 -14.6 4.7 -8 17.1 -9.4 14.5 -15.4 9 -14.1-6.1 -8.1-12.8 -5.5-17 -10.7-5.7 -6.1 20 -8.6 20.2 -11.4 17.4 -17.4 15.6 -19.8 2.1 -6-13.4 -1.5-16.4 2.3-16.6 3.5-17.5 4.4-19.4 5.8-20.6 4.7-19.6 5.1-19.5 5.7-17.6 5.3-16.2 4.8-16.4 6.1-15.9 6.1-17.2 7.2-16.6 7.8-16.4 6.8-14.9 6.8-15 6.8-13 5.8-14.8 7.2-14 5.7-15zM1350.7 70.6l7.1 13 7.4 14 7.6 15.4 8 13.9 7.9 15.3 5.9 13.6 3.8 15.2 4.8 15.6 1.1 14.6 2.2 15 2.8 15.6 3.4 14.7 4.5 16.7 3.8 18 4.4 19.1 1.7 19.3 0.4 18.8 0.5 18.5 -0.9 15.6 -1.8 16.7 -1.5 15.1 -3.9 13.6 -11.3-1.9 -10.3-20.5 -7-17.5 -4.8-17.5 -5.8-14 -9.1 5.2 -3 16 -4.1 16.6 -7.4 10.7 -8.8-10.3 -7.1-16 -6.8-15.1 -11.4-4.3 -7.1 15.3 -6.8 18.4 -5.6 20.4 -9.1 19 -10 3.5 -3.9-14.9 -0.9-15.8 -0.7-17.5 0-17.7 -0.6-19.4 0.9-20.1 3.4-20.4 3-20.3 3.3-19 3-17.1 2.2-15.4 1.8-16.2 2.5-16.6 3.2-15.1 4.3-15.3 5.1-15.2 6.4-14.6 7.8-14.6 5.2-14.2 6.4-12.4 5.4-13.2zM1354.8 63l7.8 12 6.2 14.2 4.1 14.3 5.8 13.6 6 14.7 5.9 14.4 5 13 5.7 14.7 4.3 13.6 5.3 15.3 3.9 14.8 5.1 14.1 3.6 18.3 3.8 18.5 3.1 20.6 2.6 21.2 0.5 21 1.1 18.8 -0.4 15.8 -1 15.5 -1.8 15.4 -4.4 13.3 -13.1-5.2 -11.3-21.4 -6.9-23 -4.5-20.4 -7-18.9 -11.7 5.2 -6.9 21.4 -7.9 19.8 -10.9 12.2 -10.9-10.3 -7.5-20.6 -5.4-20.3 -9.9-3.3 -7.2 19.1 -6.7 20.3 -8.8 22.1 -11 21 -11.9 3 -5.7-14.8 -1.5-15.4 1.1-14.5 0.9-15.5 1.4-19.6 2.8-18.8 2.6-21.1 3.4-19.7 4.3-19.8 3.4-17.3 3.7-16.3 3-15.2 3-14.3 3.8-14.6 4.6-14.7 6-13.6 7-15.7 9.1-13.9 7.8-13.1 8.9-14.8 8.4-13.8zM1349.2 49.8l12.5 13.1 9.2 14.5 8.8 15 9.6 16.1 9.4 15.2 7.5 14.7 7.8 14.6 5.6 14 4.2 14 4.6 15.3 3 14 3 15.6 2.5 18.4 2.4 19.7 -0.1 22 0.1 22 0.2 21.4 -1.5 20.5 -0.7 18.6 -2.3 14.7 -3.1 17 -6.7 16.3 -13.4-4.4 -8.6-21 -5.3-18.4 -4.8-13.8 -5.6-10.2 -11.7 3.1 -6.4 8.5 -7.8 7.6 -10.8 6 -13-4.1 -7.8-6.1 -7.3-8.1 -11.6-3.8 -6.4 11.1 -3.9 14.3 -6.9 18.7 -7.9 20.3 -13.3 2.5 -7.4-15.3 -5.1-15.4 -2.1-16.1 0.1-16.4 1.7-19.1 1.4-19.5 2.8-21.6 4-21.5 3.5-21 2.6-18.4 4-16.5 2.2-18.2 2.9-14.8 5.4-15.3 5.1-15.5 7.3-14.9 7.9-14.5 7.2-16.1 7.2-15.5 7.9-14.9 7.8-14.8zM1348.5 72.3l9.9 8.7 7.2 12.2 7.3 12.3 8.2 13.5 9.2 14.1 7.6 14.7 8 13.5 6.1 12.9 5.6 12.9 3.1 13.9 4.6 14.1 2.8 15.6 6.5 15.8 5.5 15 7.2 14.9 6.2 13.4 6.4 14.1 2.6 12.1 0.6 14.2 -1 13.2 -1.7 16.3 -4.4 15.2 -16.1 4.9 -16.8-7.7 -12.4-14.7 -7.3-18.1 -6.7-20.2 -13.2 3.5 -6.2 26.6 -8.4 24.1 -11 16.7 -13-13.7 -7.1-25.3 -7.1-24.3 -13-5.3 -8.1 19.5 -10.5 17.8 -13.3 14.9 -17.6 10.2 -17.4-0.4 -4.2-12.7 -1.4-14.2 0.6-14.7 2.3-16.2 1.7-14.1 4.5-16.1 4.2-13.9 4.9-14.2 6.1-15.3 4.4-13.6 4.5-15 3.1-16.5 4.3-14.9 5.1-15.7 4.9-14.2 6.4-12.2 7.7-12.3 7.8-11.5 7.4-12.8 6.1-13.6 8.2-14.6zM1349.6 79.3l11 10.9 8.6 12.6 7.9 13 9.8 14.6 8 13.7 8.6 13.1 7.3 14 5.8 14.2 5.5 14.3 3.5 14.2 5.2 15 4 15.4 6.5 14.1 6.2 15.5 6.3 14.9 7 14.4 4.9 14.4 4.8 15.3 2.2 14.8 0.8 15.3 0.4 14.8 -4.8 14 -17.7 0.6 -18-10.4 -12.9-14.7 -9.5-15.2 -10.2-15.9 -14.9 4.5 -8.9 18.1 -7.8 17.9 -13.4 11.7 -13.5-9 -7.9-17.5 -6.2-18 -12.8-4.6 -7.9 16.1 -8.8 14.3 -11.5 13.8 -19 9.9 -17.8-0.9 -6.9-14.4 -1.9-15.1 -0.7-15.4 2.1-15.1 3.1-14.7 4.9-14.1 3.6-15.6 6.4-14.3 4.9-14.8 6-14.7 5.3-15.3 4.8-16.7 4-14.9 5.6-14.2 5.6-14.5 7.3-14.6 7.6-13.9 6.7-11.9 5.8-13.1 7.7-12.8 7.3-12.4zM1353.7 45.2l14.4 11.7 11.2 13.6 10.3 14.7 8.6 14.1 9.6 14.4 5.7 14.7 5.6 14.2 6.2 15.1 3.5 15.5 4.5 15.3 4.8 15.2 4.9 15.9 5.8 15.1 4.8 14.9 3.7 14.2 3.2 14.2 2.7 15 0.7 14.7 -0.7 15.4 -1.5 16.7 -2.5 13.3 -5.5 14.7 -15 2.5 -14.9-8.7 -10-12.9 -7-15.9 -6.1-17.5 -13.9 5.4 -6.5 15 -8.3 13.5 -11.7 7.1 -13.5-6.4 -8.5-12.9 -7.8-16.1 -11.9-4.6 -7.8 17.3 -7.7 16.7 -9.2 12.4 -16.1 8 -16-2.9 -7.3-13.7 -3.5-15.4 -2.5-15.1 -0.1-15.1 0.2-14.3 2.7-14 2.9-14.2 2.4-14.4 5.1-14.9 4.1-16.4 2.5-15.9 4.2-16 4.9-15.8 5-15 5.4-14.1 7.3-14.5 7.4-14.2 8.9-14.7 8.6-13.2 10.3-14.7 9.8-15.2zM1348.7 60.9l12.7 12.1 10.3 14.5 8.8 12.5 9.1 14.8 7.6 13.3 6.1 15.2 5.4 15 5.1 16.3 4.3 16.3 5.8 16.5 4.5 16.4 5.8 15.9 3.7 14.7 5.1 15.3 3.6 15.6 2.9 13.8 3.6 16 2.2 14.7 1.1 16.3 0.6 15.8 -2.2 15 -5.9 14.7 -16.7 0.2 -14.9-10.3 -10.6-11.1 -8.8-10.9 -6.6-8.7 -10.5-0.5 -6.2 10.7 -5.9 14 -12.1 10.5 -12.4-10.9 -8-14.6 -7.5-10.8 -14.3-2.9 -8.8 7.6 -7.4 9.6 -9.6 11.2 -13.8 9.4 -15.3-2.6 -6.8-14.7 -1.8-15.5 0.1-16 1.7-15.1 1.9-15.5 3.7-15.2 3.8-15.4 3.6-15.4 3.2-15.3 4.9-15.1 3.3-13.7 4.5-12.8 4.6-14 6.3-13.4 5.3-12.7 6.1-15.9 6.6-15.3 6.2-14 5.5-15.6 7.4-14.8 7.6-12.8zM1356.4 71.3l11.2 11 8.1 12.8 6.8 14.5 6.5 12.6 7.4 14.1 6.1 13.9 6.5 15.2 7.1 14.5 6.1 15.4 5.6 14 5.4 15.2 4.4 14.4 3 15 3.6 17.4 1.1 17.2 3.2 18.1 1.7 18.9 0.9 17.7 1.1 17.5 1.5 16.4 -3.7 16.1 -4.7 16 -16.3-1.8 -13.1-17.5 -11.1-18.3 -6.4-19.1 -8.7-17.2 -12.4 5.5 -6.7 26.1 -6.4 26.7 -12.3 16.8 -13.2-15 -9.2-29.4 -8.4-24.4 -15.1-5.1 -8.3 18.5 -7.1 20.9 -8.5 19.1 -12.7 17.5 -13.6 1.6 -4.8-14.1 -1.2-14.8 0.4-16.4 0.2-16.4 0.7-18.8 1.9-18 2.8-18.4 3.4-18.5 4.8-16.7 5.9-17 4.9-15.3 5.4-14.9 5.3-14.9 5.7-15.9 6.2-14.8 5-15.1 6.9-14.5 7.9-14.7 8.3-14.6 9-13.3 9.7-13.8zM1350.6 58.8l14.2 12.9 10.4 17.4 9.2 14.8 7.1 16.6 7 14.8 4.7 15.4 3.9 14.5 5.3 15.7 4.9 16.2 8.3 17.1 7.1 17.5 8 15.8 6.8 19.2 6.5 19.1 4.7 20.2 3.7 18.8 1.3 20.4 0.7 19.6 -0.7 17.7 -1 18 -3.1 16.1 -5.1 15.6 -16.7-3.6 -15.5-20.3 -8.8-21.1 -6.6-20.3 -6.8-16.6 -13.1 4.7 -7.6 19.8 -9 20 -16.3 13.4 -14.2-12.3 -11-19.7 -7.2-19.4 -13.7-4.4 -8.2 17.2 -8.4 20.4 -9.7 22 -16.9 19.7 -16.6 3.7 -7.8-15.1 -2.9-17.9 -0.6-17.3 1.4-17.3 1.9-20.2 4.6-20 5.1-20.3 4.7-21.2 4.2-21.1 4.5-20.1 4.6-18.2 5.5-18 7-17.2 6.4-16.3 7.1-15.2 6.5-15.5 6.9-14 6.1-15.7 6-13.2 9-16 9-15.1zM1351.6 82l12 10.1 7.6 12.9 8.5 12.5 9.1 12 7.2 13.2 6.7 14 6.3 15.3 5.1 16 4.1 15.1 3.1 14.7 3.4 15.9 3 13.7 4.1 14.4 6.3 14.7 4.8 15.4 5 16.5 5 16.3 2.6 16.7 -0.1 18 -1 16.7 -2.5 16.5 -7.8 14.7 -17.1 0.2 -17.8-13.8 -11.9-15.7 -5-15 -5.4-14.5 -9.5 4.2 -5.8 19.3 -5.5 20.8 -12.1 14 -12.1-12.9 -7.9-21.2 -9.3-17.7 -11-6.1 -9.2 15.1 -8.4 14.3 -10.8 16.4 -16.8 13.4 -16.6-0.3 -6.9-14.5 -2.1-15.9 -1.7-16.8 0.2-17 2.5-17.3 3.6-16.2 4.4-16.3 6.1-15 4.9-15.4 5.4-14 3.4-13.9 4-15.5 4.7-16.4 6.4-15.7 7-16.4 6.9-14.2 7.9-13.8 8-13 7.6-13 7.7-12 9.1-12.7zM1354.5 47l11.4 12.2 6.5 15.3 7.2 15.6 6.5 15.3 6.2 15.6 5.7 15.7 5.8 16.8 3.8 16.4 4.2 16.5 3.8 18.1 3.8 17.2 3.7 17.4 4.6 19.1 3.4 22.7 3.7 24.1 2.9 23.9 2.5 24.3 1.1 22.8 1 19.2 -1.6 18.1 -3.4 17.7 -4.8 15.1 -13.7-6.7 -10.7-28.5 -8.8-29.1 -5.8-27.1 -5.6-24.5 -10.6 5.3 -5.5 19.2 -5.9 14.5 -8.9 7 -9.9-4.1 -5.8-12.1 -6.1-17.9 -10.1-5.9 -6.2 24.2 -5.5 26.1 -8.3 26.8 -10.6 25.3 -12.3 5.3 -7.5-15.7 -1.9-17.2 -1.8-17.1 0.3-18.7 1.5-21.1 -0.1-23.6 1.7-23.8 2.4-24.8 2.9-24 3.7-20.8 3.1-18.3 3.4-17.6 4.7-16.9 4.1-16.7 6.3-13.8 4.8-15.1 6.1-14.9 6.1-14.2 7.7-15.9 6.2-16.1 8-17zM1354.8 50l7.6 12.8 6.3 16 5.8 15.2 5 15.3 4.9 14 6.2 15.9 4.7 13.7 4.5 16.2 5.6 16.5 5.4 17.5 7.5 16.4 5.6 16.7 7.9 17.2 8.2 18.2 7.4 18.2 7 17.6 6.9 17.8 5.6 18.2 2.1 18.4 2.2 17 0.5 17.4 -5.5 15.7 -18.2 0 -17.9-13.9 -13.5-22.2 -8.6-26.2 -9.7-27.9 -13.6 8.2 -6.7 29.5 -7.5 24.4 -13.6 12.8 -14.8-12.1 -8-27.2 -7.4-29.5 -13.2-6.8 -10 28.4 -11.5 26.2 -14.7 20.4 -20.1 13.6 -19.3-0.2 -5.6-14.8 0.1-16.4 3.6-15.1 4.2-17.1 6.1-16.3 5-17.1 6.6-17.6 6.9-17.4 6.7-18 7.2-18.3 4.9-18.1 5.1-16.5 6.1-14.9 5.5-16.7 5.5-14.6 6.6-15.7 5.5-15 6.8-16.6 6.4-17.1 6.8-15.6 7.5-16zM1353.2 74.1l9 11.2 6.6 15 6.8 14 4.9 15 4.8 16.3 3.9 15.2 5.2 14.2 4.8 13.2 5.4 13.8 6.6 12.7 6 14 6.8 13.9 7.8 16.1 7.4 19.4 7.2 19.7 5.6 19.8 4.5 19.6 2.5 17.4 0.4 15.3 0.4 15.1 -0.7 14.2 -3.9 14.5 -16.5-2.4 -18.6-17.8 -13.6-17.9 -7.9-17.7 -9.5-18.2 -13.3 6.8 -8.1 18.9 -6.3 17.9 -12.3 9.6 -12.2-10.6 -5.6-18.7 -6.4-19.2 -11-5 -7.9 20.9 -10.3 20.3 -12.9 21 -18.7 17.2 -16.8 1.1 -5.1-14.2 0.5-16.4 1.4-15.3 2.7-17.2 3.4-18 6.1-18.3 5.9-18.1 6.3-17.9 6.6-17.4 5.1-18.3 4.3-14.8 4.8-15.8 4.9-14.7 5.1-14.6 6.7-14.4 5.7-13.3 5.3-14 6.8-15.3 6.4-15 5.9-14.4 7.7-15.2zM1347.1 65.1l11.9 10.9 7.2 13.6 8.9 14.3 8.1 16.8 8.4 16.5 9 16.4 7.2 16.2 5.8 15.8 5.6 14.6 5.6 14.3 5 14 4.5 13.6 6.2 16.6 7.5 18.1 8.1 19.2 6.6 20.8 4.9 17.9 5.6 19.4 1.6 16.1 1.2 15.7 -1.1 15.8 -4.9 14.4 -18.2-0.7 -18.6-17.2 -14.4-19.9 -8.6-22 -6.7-19.8 -13.7 4.5 -6.5 24.3 -7.2 23.2 -12.4 12.6 -13.4-13.3 -8.4-24 -8-23 -13.1-4.6 -8.8 23 -9 22.9 -12.5 20.6 -19.3 17.1 -18.7 0.7 -7.6-16.2 -3.3-17.1 -0.4-16.6 -1.5-17.1 3.2-18.2 4.3-18.5 5-17.7 7.2-20.3 5.2-17.9 5.8-17 4.3-18.1 2.6-16.4 3.9-16.5 4.2-14.9 4.3-14.4 7.2-14 7.5-12.3 8.2-14.8 8-14 8.2-14.3 8.3-15.1zM1353 64.1l11.8 11.3 8.2 14.8 8.5 14.6 8.2 13.7 8 13.7 7.5 14.2 7.6 13.6 5.7 13.9 6.9 13.9 4.8 14.9 5.3 13.5 5.5 17 7.4 19 7.6 22.3 8.4 22.8 6.4 24.5 6.5 22.9 4 20.2 1 16.4 -1.1 15.4 -1.6 15.3 -6.7 12.7 -20.5-7 -20-23.6 -14.3-21.5 -9.3-17.1 -9.2-11.3 -14 4.2 -10.1 17.6 -8.2 17.5 -14.6 10 -14.2-9.1 -8.9-15.5 -8.9-16.4 -13.4-6.3 -9.8 13.9 -10.9 18.4 -14.6 24 -22.2 25.2 -19.5 7.1 -6.8-12.9 -1-15.2 1.2-15.9 2.7-17.7 3.8-21.5 5.9-23.3 6.9-24.7 7-22.6 7.6-20.4 5.9-19.3 5.2-14.2 4.2-14.9 4.8-15.5 5.6-14.9 6.1-14.8 7.1-15.3 7.7-15.4 9.4-15.4 8.4-15.4 9.7-15.5 9.2-13.4zM1353.1 52l8.9 12.8 5.8 14.8 7.6 15.4 6.1 15.6 6.1 14.2 7.4 15.8 7.2 15.7 6.5 15.6 4.9 15 4.7 15.6 5.4 16.2 5 15.1 3.2 17.6 1.2 17.8 1.8 19.7 -0.2 19 0.8 19.3 0.3 18.5 0.9 17 0 17.1 -1.3 15.5 -4.6 15.4 -11.6-2.2 -8.7-18.4 -7.6-20.8 -4.7-24.5 -7.7-25.6 -12.6 7.9 -6.5 29.3 -6.7 28.4 -11.5 16.1 -11.9-15 -7.6-29.5 -7.1-29.2 -12.4-5.7 -7.6 25.9 -6.2 24 -7.3 20.9 -8.9 16.4 -12.4 0.9 -5.1-14.7 -1.3-15.4 0.6-16.4 1-16.1 1.9-18.2 0.3-18.4 2.6-20.2 0.5-18.7 1.8-19.5 3.3-17.5 3.1-16.7 2.7-16.5 3.8-14.5 5.6-16.2 5.9-14.7 7.7-15 6.5-14.8 7.8-14.7 8.5-15.7 7-14.1 8.3-15.6zM1356.7 48.1l7.5 13.2 4.7 14.3 5 15.7 4.8 14 6.1 14 6.9 14.7 7.7 16 6.7 15.5 6.2 16.2 4.8 16.7 5.6 16.1 4.4 17.1 5 17.9 4.2 21.1 5.1 20.8 3.7 21.7 5.2 19.5 2.5 19.7 2.2 17.3 -0.2 16.2 -0.1 14.6 -5.4 12.3 -15.9-5 -11.4-23.8 -9.3-23.2 -6.6-20.4 -8.7-17.4 -13.5 4.3 -7.9 7.9 -8.1 3.7 -14.2 1.5 -13.4 1.3 -7.9-2.4 -7.3-8.8 -12.3-4.8 -8.9 18.1 -8.4 20.2 -8.1 23.1 -13.4 22 -14.8 4.5 -3.9-16 2-15.7 2-16.4 3.8-16.7 2.4-19.6 1.3-21.2 1.2-22.3 0.6-22.8 2.2-20.6 3.5-19.8 3.9-16.7 5.4-17.2 6.1-16.3 7.1-14.7 7.5-15.8 5.8-13.9 8.7-14.6 7-13.4 7.7-13.3 8-13.4 6.4-14zM1350.8 63.3l12.8 10.6 8.6 12.7 8.7 13.8 8.2 13.8 8.4 15.9 7.5 14.5 6.2 13.8 5.6 14.5 4.6 15 3.6 14.4 4.5 14 1.6 16.1 3.7 16.3 1.8 16.2 1.2 16.6 1.6 15.9 -1 15.4 -0.5 15.7 -1 15.1 -2 14.6 -3.2 16 -6.2 16.5 -11.7 2.6 -7-11.5 -5.4-17.2 -3.6-22.4 -5.3-24.4 -10.6 6 -5.5 32.6 -8.3 31.4 -11.9 18.6 -11.6-17.2 -9-33.2 -8-31.5 -11.9-6.3 -6.1 24.1 -4.5 22.2 -4.9 16.2 -7.1 11.6 -11.4 0 -6.7-14 -3.3-15.3 -2.1-15.9 -1.9-15.1 -0.2-15.5 -1-17.1 -0.2-15.5 0.7-15.2 1.2-13.9 3-15.9 2.5-14.3 3.1-16.1 4.9-15.9 3.2-15.3 5.5-16.9 7.9-13 6.9-14.2 8.5-13.5 8.8-13.2 8.3-15 8.5-14.9zM1351.5 72.1l11 12.5 7.8 14.5 7.9 15.4 7.6 14.5 7.6 14.7 6.8 16.1 5.1 15.4 5.5 15.6 5.1 16.6 5.9 15.7 5.6 17 5 16.9 7.1 17 4.7 19.8 4.5 19.6 2.3 20.6 2.3 19.7 1.5 19.8 -0.4 19.7 -0.1 18 -3 15.2 -4.3 15.9 -15-2.2 -13.6-21.1 -10.2-25.1 -7.5-29.3 -7.7-28.7 -12.8 7.7 -8.4 22.4 -8.2 12.3 -13.6 6.2 -13.8-4.4 -7.7-12.8 -6-22.4 -12.1-6.8 -7.9 30.6 -7.8 29.2 -10.2 24.3 -14.8 18.5 -17.2 2.3 -6.4-16.3 -2.3-17.2 0.1-17.8 2.7-17.5 3.5-18.7 3.6-19.8 5.6-20.4 4-20.4 4.1-19.3 3.5-19.2 4-16.7 3.7-16.2 4.4-16 6.1-14.9 6.2-14.8 7-15.8 7.2-15.7 9.2-15.2 6.6-15.1 7.9-16.2 7.9-13.9zM1349.7 86.3l10.8 9.3 8 12.4 7.9 11.6 8.3 13.2 7.2 14.1 7 12.7 6.6 14.7 5.9 13.9 4.3 12.9 5.4 12.3 5.9 12.9 5.3 10.7 5.9 11.6 7.3 13.9 5.7 14.7 5.7 15.9 2.8 15.9 1.8 16.7 0.6 15 -0.8 15.3 -1.4 13.9 -5.9 13.6 -16.9 1.3 -17.8-9 -13.3-14.3 -7-18.9 -8.2-20 -13.5 5.6 -7.8 13.1 -8.5 7 -13.6 3.1 -12.3-0.8 -9.2-3.8 -7.9-12.8 -13.5-5.9 -8.9 21.4 -9.3 16.8 -12 15 -18.2 8.1 -17.3-3 -5.1-12.3 -0.7-14.9 -1.5-15.4 1-15.5 3.8-15.3 4.3-14.8 5.9-14.9 7.3-13.2 5.8-12.9 6-12.7 3.2-13.4 4.5-12.5 4.1-13.6 6.3-13.9 6.3-14.8 7.7-14.8 8.1-14.3 8.7-12.7 7.5-13.7 8.4-11.2 7.8-11.7zM1352.1 57.7l12.1 12.2 8.4 16.1 7.9 15.9 6.2 16.3 6.4 15.5 5.4 16.1 6.3 14.7 4.9 15.6 6.3 14.7 6.3 16.1 6.6 15.1 6 16.9 5.8 16.6 3.4 15.5 3.3 14.3 1.3 14.6 1.2 14 1.9 14.3 2.1 14.2 0.7 16.5 -0.1 15.5 -3.2 15.7 -14.3 4.8 -14.4-7.5 -9.9-15.4 -7.1-19.1 -8.3-21.8 -12.5 7.5 -6.2 18.8 -8 11.4 -12.9 7.5 -14.7-5.7 -9-14.1 -7.4-20.3 -11.5-5.6 -5.3 22.7 -6.6 21.6 -7.3 14.3 -13.5 10.1 -15-2.9 -8.3-14.6 -3.3-16.7 -0.7-16.6 1-17.7 2.7-16.1 4.9-16.6 5.6-14.9 4.9-14.9 4.2-14.9 3.4-16.4 1-15.3 2.5-16.7 2-16.6 4.6-15.6 4.5-15.5 6.7-16 6.8-15.2 8.4-14.9 7.3-15.8 8.5-14.1 8-15.2zM1351.4 65.7l11.1 12.4 8.9 14.7 6.1 14.6 6.4 14.2 7.3 14.9 5.6 13.5 5.9 15.7 4.5 14.4 5.6 14.3 4.6 14.1 5.3 14.3 4.9 13 5.1 16.2 5.1 17.1 3.1 16.7 3.6 19.1 2.2 18.2 0.2 18.1 0.5 16.9 -0.8 16.7 -4.1 16.1 -6 15.4 -14.1-0.8 -11.8-17.1 -7.5-17.9 -7.3-18.6 -6.1-17.5 -11.4 3.8 -6.1 14 -8.1 10.5 -10.3 7.3 -13.9-6.3 -7.3-12.2 -7.1-14.7 -12.7-5.8 -7.8 15.8 -7.4 17.2 -8.1 17.3 -10.7 18.3 -14.4 2.3 -6.8-13 -1.2-13.8 -0.3-14.2 2-14.9 0.1-17.6 1.6-18.9 1.6-19.5 3.7-19.9 2-17.1 5.1-17.7 4.2-14.7 5-14.9 4.3-15.6 5.5-15.3 6.7-16.8 6.6-15.4 6.8-14.8 7.8-14.4 6.3-13.2 8.6-12.1 8.8-12.1zM1348.7 86.3l8.2 9.5 7.7 15.2 6.6 13.9 7.1 16.2 6.6 14.9 7 15.1 6.1 14.2 5.4 13.6 6.5 13.4 5.1 13.6 6.2 13.2 5.5 14.1 5.9 16.3 7.3 17.4 7 17.3 6.6 18.2 5.8 18.7 4.1 16.5 3.5 16.2 1.9 15.2 0.3 15.3 -5 14.8 -18.7-2 -19.1-15.2 -15.4-19 -9.3-21.5 -7.8-22.5 -11.5 5 -6.6 12.7 -6 8.7 -12.4 4.4 -12.7-2.7 -8.5-7.8 -7.7-14.4 -11.9-5.9 -8.9 20.1 -10.1 20.4 -13.5 17.7 -21.3 14.6 -17.4-0.7 -6.7-15 1-16.1 0.4-15.4 4.3-15.4 5.2-17.1 6.9-17 6.9-16.5 7.6-18.2 6.2-17.3 5.4-16.6 3.1-16.4 4.5-14.5 4.8-14.3 5.3-13.7 6.6-13.4 6.4-12.2 7.5-13 5.3-12.7 4.7-12.6 5.4-14.1 5.6-13.2zM1352.4 63.5l2.4 10.9 3.8 13.5 3.1 13.5 2.8 15.3 3.3 15 4.1 15.2 2.5 15.2 3.6 14.9 3.6 14.9 2.8 14.5 2.9 14 3.4 14.9 4.8 16.8 4.7 19.1 5.2 19.8 5.4 22.1 4.9 19.6 4.1 18.8 3.5 16.6 0.6 16.4 -1.1 15.4 -3.7 13.7 -13.3-2.4 -12.6-20.1 -9.6-22.3 -5.1-23.1 -4.4-22.7 -8.9 6 -3.6 29.6 -5.2 28.9 -8.7 17.6 -9.4-16.2 -4.3-32.1 -5.6-29.1 -7.7-6.3 -7.5 24.6 -6.9 22.2 -9.6 23 -13.1 20.3 -11.8 2.6 -2.3-13.5 0.9-15.7 3.3-15.3 4.2-16.7 4.6-19 4.5-21.5 5.2-19.3 4.4-20.7 4.1-19.4 6-17.9 4.2-16.5 3.8-14.9 5.3-16.1 4.5-14.1 3.9-14.6 3.9-13.5 3.2-14.2 4.5-13.3 2.2-13.6 3.6-14.4 3.6-14.1zM1350.6 67.7l9.5 12.7 8 13.8 8.3 13.8 6 12.9 8.1 15.1 5.7 13 6.1 14.6 5.6 14.7 4.7 15.6 6.4 14.9 4 16.1 6.1 15.8 6.7 17.3 6.3 18 5 19.7 6.4 18.5 4.3 18.3 2.5 16.7 0.3 15.1 -0.2 14.2 -1.7 14.1 -5.6 14.7 -18.2-2.3 -16.6-17.8 -12.3-20.7 -7.5-27 -7.7-28.7 -11.7 8.3 -7.1 26.7 -8.8 17.7 -13.1 8.4 -14.5-8.4 -7.9-18.1 -8-27.9 -11.8-7.1 -7.3 30.6 -7 26.7 -10.8 21.1 -15.5 17.8 -16.6 2.2 -4-14.6 -1.5-15.6 1.5-14.8 1.5-16.5 3.8-16.9 4-18.7 5.2-17.5 6-18.6 5.5-18.2 4.6-15.3 5.5-15.4 4.3-14.7 4.7-15.4 5.2-15.2 6.5-14 5.9-15.7 4.9-14.3 7.1-14.7 6.6-14.4 6.3-13.4 7.6-14.2zM1353.8 51.9l9 12.9 5.5 14.7 7.5 14.7 7.5 14.8 7.1 14.1 6.6 15 6 16 4.8 18.6 6.2 16.9 5.2 15.8 4.1 16.3 4.5 15.5 5.8 16.2 6.2 16.8 6.2 16.4 6 17.9 5 18.1 4.4 16.6 3.9 16.6 0.7 15.9 0.7 15.7 -5.9 13.8 -16.1 1.5 -17.1-11.9 -13.8-11.8 -8.9-10.5 -10.3-10 -13.6 4.3 -7.4 13.3 -7.9 16.8 -14 10.2 -14.4-11.2 -8-16.3 -6.3-12.8 -10.4-5.1 -7.2 10.3 -5.5 10.7 -9.8 13.4 -14.3 10.3 -15.2-1.9 -4.6-15.4 -1.4-16.5 0.9-15.7 0.7-15.6 2.8-16.7 3.8-17 3.5-16.6 4.7-18 5.7-18.3 6-16.4 4.3-16.1 4.5-16.3 4.6-16 5.7-15.8 6.2-15.1 6.6-15.9 6.4-15.1 6.5-15.8 6.3-15.7 5.4-13.2 7.7-15.8zM1352.6 77.8l10 11.8 5.6 13.9 5 13.4 5.9 14.4 5.8 14 6.1 14.8 5.5 13.6 6.5 13.6 4.8 15.4 7 13.7 6.3 13.7 5 14.3 7.4 14.2 8.2 16.9 9 16.5 10.3 17.4 8 17.5 6.5 19.4 3.5 16.3 1.5 17.3 -1.3 15.7 -4.9 14.5 -22.4 0.3 -25-14.8 -16.4-20.8 -9.7-25.7 -7.9-27.8 -12.5 7.8 -6.4 34.3 -6.8 33.4 -13.9 19.3 -13.3-19.1 -7.7-34.8 -7.7-33.4 -11.4-5.8 -8.7 28.3 -11 24.5 -17.2 19.7 -25.8 13.9 -22.2-0.7 -6.9-15.3 -1.6-16.7 0.8-16.3 4.9-16.7 6.4-16.6 9.5-16.1 12.2-15.1 9.5-16 9.2-15.7 8.2-16.1 2-14.8 4-15.6 4.7-16.4 3.5-16.6 5.6-14.9 5.9-15.3 7.4-13.1 6.4-14.7 7.8-13.4 7.8-12.2 8-12.5zM1354.4 63l12.2 11.8 9.7 14.7 6.8 14.4 6.4 12.4 5.1 13.3 5.4 13 5.8 12 4.2 13.2 6.1 13.6 5.5 14.1 5.7 14.9 5 16.6 5.1 17.5 4.7 19.3 3.3 20.4 3.1 19.7 2.1 17.9 1.7 18.5 0.9 17.4 0.1 15.1 -2 16 -4.4 16.9 -14.3-2.3 -13-17.7 -11.4-20.7 -7.4-20.6 -7.9-20.7 -13.7 3.8 -7.9 21 -7.8 21 -9.2 13.1 -11.6-11.2 -6.7-20.9 -7.2-22.1 -11.6-5.9 -6 18.8 -7 19.1 -7.9 19.3 -12.3 18.2 -14.3 0.8 -5.5-14 -1.1-14 -0.3-14.4 1.6-14.6 1.3-17.4 1.1-20.5 3.6-19.3 2.3-19.5 2.1-19.2 3.6-17.4 1.8-15.1 2.8-14.4 3.1-14 4.2-14 5.6-12.9 6-14.4 6.4-13.4 7.4-14.2 8.4-14 7.9-14.1 10.2-13.1zM1352.7 71.8l8.4 11.4 5.3 13 6.1 13.5 5.6 14 6 13.5 6.2 13.5 6.2 13.8 4.9 14.7 6.2 15.3 4.9 14.3 5.6 15.9 5.5 15.1 4.8 17.4 5.2 20.1 4.1 21.9 5.9 20.8 3.1 21.4 4.1 20 2.5 16.9 2.3 15.3 1.2 15.5 -3.1 14.8 -15-5.6 -13.3-25.3 -10.3-23.9 -8.2-22.1 -8-18.6 -13.2 5 -7.5 22.9 -8.1 23.9 -13.3 14 -13.8-15.8 -8.6-24.4 -6.9-24.7 -12-5.3 -7.5 19.9 -8.3 22.4 -9.7 24.4 -15.1 25.9 -16.5 6.6 -5.7-14.8 -0.9-15.2 1.3-15.2 3.6-17.3 3.4-20.9 3.4-21.6 5.4-23.7 6.3-22.1 4.4-21.2 5.3-19.3 4.3-15.8 4.9-14.7 5.9-15.1 4.1-13.8 5.3-13.5 5.8-13.4 6.8-12.5 5.4-11.4 6.3-13.3 6.8-12.6 5.8-12.3zM1352.9 58l7.6 12.5 3.8 15.9 5.8 14.5 4 15.8 6.5 16.1 6.9 14.7 5.8 16.4 6.1 16.7 6.3 16.7 4.5 17.6 4.4 17.6 4.9 17.8 2.9 18.6 6.1 18.1 5 20 6.2 20 6.6 18.7 4.6 20.3 3.5 20.1 1.5 18.1 -0.1 17.9 -3.6 15.4 -16.9-1 -19-17.2 -13.1-22.6 -9.4-23.2 -7.7-24.1 -10.5 6.8 -5.4 27.3 -6.1 25.2 -10.3 14.4 -10.8-13.8 -6.5-28.5 -5.9-26.7 -10.2-7.1 -7.9 25 -10 24.7 -11.9 20.5 -19.4 16.3 -15.4-1.1 -4.3-15.9 -1.4-17 0.4-17 3.2-17.4 3.4-17.5 5.9-18.5 6.2-19.2 8.2-19.2 6.2-19.2 6.7-18.7 3.1-17.7 5.1-16.8 3.7-17.4 5.3-15.7 3.4-15.5 4.3-16.5 6.2-15.3 6.7-16.2 4.9-16.4 6.4-16.6 6.5-16.7zM1353.7 48.1l9.7 11.1 5.4 13.7 4.8 14.7 6.8 15.2 6.1 15.4 7.3 14.5 5.1 15.4 6.6 15.1 5.1 14.9 2.7 13.8 2.8 14.8 2.7 16.8 3.4 17.1 4.2 19.7 4.1 19.3 6.1 20.1 3.2 18.7 2.3 17.8 -0.1 16.9 -2.4 13.5 -2.8 15.1 -5.8 13.6 -14.4-2.7 -11.6-18 -6.8-16.6 -5.1-15.6 -7.6-13.5 -11.8 4 -8.2 21.2 -8.3 24.4 -11.5 14.6 -11.5-15 -5.1-27 -3.6-20.9 -8.8-4.9 -5.6 15.1 -7.3 18.2 -10.3 17.9 -14.7 19.7 -15 3.3 -5.9-13 0.2-14.9 2.2-15.8 1.9-16.4 2.6-17.6 2.9-20.7 2.7-20.3 3.1-20.7 4.2-19.9 4.4-17.5 4.7-16.6 5.2-15.2 4.8-14.1 4.1-14.8 4.1-13.5 4.7-13 4.8-14.8 6.4-14.7 6.9-14.2 7.9-15 9-15.1zM1354.3 61.7l5.2 12.4 6.1 13.3 6.3 15.5 6.1 15.4 5.4 16.2 5.5 16.2 5.2 15.5 3.1 15.8 2.3 14.9 4.6 14.1 2.8 14 2.8 12.7 7.5 16.5 7.6 15.6 9.4 17.6 9 18.4 8.3 18.7 5.1 17.8 4.3 17.4 0.6 16.4 -2.5 15.2 -3.7 16 -19.2-1 -21.7-15.1 -14.2-17.8 -7.8-16.1 -6.4-15.5 -10.9 4 -3.6 27.8 -5.6 31.7 -10.1 19.6 -12.2-18.9 -7.2-32.1 -6.4-23.6 -11.8-3.5 -9.6 17.2 -11 19.1 -16.1 17.1 -22.1 16.1 -18.5-0.4 -3.7-14 -0.2-18.5 2.4-16.5 2.8-17.4 5.6-17.9 7-18.8 7.4-20 7.2-17 7.1-18.4 5.6-16.5 4.4-16.6 5.7-14.3 6.5-15.6 5.7-14.9 6.9-14.7 8.8-14.6 5.9-14 6.3-14.5 4.6-15.5 5.9-14.9 3.9-14.7zM1351.3 60.1l4.6 13 5.4 13.6 3.6 15 4.7 16 3.4 15.7 4.3 15.5 2.5 16.4 3.7 14.8 3.6 14.3 3.8 15.1 3.3 12.3 4.7 14.4 4.9 14.5 5.6 15.3 6.5 16.9 5.8 17 6 17.5 5.3 17.3 2.9 17 2.5 16 0.4 15.5 -3.1 15.4 -13.9 0.8 -16.7-13.8 -12.7-16 -7.8-19 -5-16.7 -8.5 3.7 -4.3 22.8 -5.1 23.4 -9.2 14.9 -9.1-14.7 -5.4-26 -5.3-20.3 -8-3.9 -4.8 19.2 -6.2 18.9 -10.7 18.9 -15.4 13.7 -12.9-0.4 -3.6-15 1.4-16.4 0-16.6 2.4-17.3 4.9-18.8 6.1-17.8 6.4-17.7 5.9-17.4 6.8-17 4-15 2.7-15.3 2.8-15.3 3.4-14.5 3.6-15.9 4.4-14.8 3.5-14.8 4-15.1 4-15 3.1-13.8 3.3-14.2 2-14.7zM1353.5 58.4l12 11.8 7.8 13.8 7.1 15.2 7.6 15 6.9 15.4 5.5 14.8 5.8 14.8 5.6 14.1 3.7 14.1 6.2 14.5 4.3 15.1 6.4 16.2 5.2 16.2 5.4 16.2 5.6 16.9 4.8 16.9 5 16.6 2.7 15.2 1.9 15.5 -0.2 15 -0.2 16.1 -5.1 14.2 -19 1.4 -19.4-11.2 -13.1-17.9 -7.8-22.5 -7.3-25 -12.2 5.4 -7 24.1 -7 22.2 -12.3 11.4 -14.4-10.2 -9-22.2 -7.8-24.9 -13.2-4.9 -8.2 26.6 -9.1 24 -13.3 16.3 -19.3 10.2 -17.5-1.8 -5.9-15.8 -1.5-15.4 0.4-16.1 3.5-15.1 3.7-15.8 6.9-15.2 6.5-15.5 7.9-16.4 6.5-16.1 7.1-16 3.7-15.9 4.8-15.1 4.9-14.8 6-14.7 5.7-13.8 6.9-14.3 7.1-14 7.3-14.5 5.8-15.6 7.8-15.3 7.6-15.5zM1351.8 63.8l8.4 10.8 6.8 12.5 6.7 13.3 6.8 14.7 7.5 12.9 5.8 13.7 5.7 15.2 3.5 13.2 4.1 14.6 4.5 14.5 4.4 16.1 5.8 14.2 7.5 15.9 8.7 17.5 8 19.5 7.7 17.5 6.7 17.5 5 19.1 2.7 15.9 1.1 15.6 0 14.1 -5.1 13.6 -17.4-1.3 -19.8-15.3 -13.6-21.5 -9.7-22 -8.5-22.1 -12.8 5.9 -6.4 19.7 -8.3 14.7 -11.1 9.2 -14-6.7 -7.7-13.9 -6.8-18.9 -11.1-4 -9.7 22.2 -8.9 21.7 -12.9 19.8 -19.8 15 -17.9 1 -6.3-15 -0.6-15.5 0.8-16.4 1.4-16.6 3.9-18.4 5.3-18.9 7.9-18.1 6.7-17.5 6.8-16.6 6.3-16.5 3.6-14.7 4.9-14.6 4.3-13.9 5.3-14.1 5.8-14.2 5.9-13 6.1-13.7 6.8-14 7.1-13.7 6.2-14.1 6.7-13.5zM1353.3 51.2l14.4 12.8 8.7 15.4 7.6 15.4 8 15.2 7.5 15.5 5.3 16.9 5.6 15.4 5.9 16.1 6.2 17.2 5.6 16 5.8 16.4 5.6 18.3 3.9 15.9 2.2 17.6 0.4 17.8 -0.1 15.4 -1.5 16.8 -0.5 16.2 -0.4 16.9 -0.1 16.3 -2 16.2 -5.8 14.6 -12.9 3.2 -9.1-9.3 -6.8-13.1 -6.1-14.4 -8-14.7 -12.6 4.3 -8 13.5 -7 12.6 -12.4 8.8 -14.2-6.6 -7.7-11 -8.8-14.3 -12.9-4.4 -7.5 15.2 -6.3 15.5 -5.9 12.3 -9 7.9 -13.4-4.7 -5.7-15.7 -2.1-17.4 1.1-16.6 0.9-16.7 0-14.9 0.4-15.3 1.2-15.5 0.5-15.5 0.9-17.1 3.5-17.6 3.4-17.5 4.4-18.6 5.2-17.2 5.3-16.9 7.1-16.9 7.4-15 8.1-16.2 7.1-15.4 7-15.3 9.7-15.3 8.8-15.9zM1353 68.6l13.9 11.1 8.5 13 9.8 15.1 5.9 15.7 8.3 15.5 6.8 15.3 5.7 15 4.3 14.6 5.3 12.8 4.8 13.1 5.8 12.6 5.8 13.8 6.1 18 6.3 20.9 5.4 24.4 3.9 24.1 3 24.3 1.2 22.2 -0.3 18.9 -1.1 16.5 -3.3 17.8 -6.1 13.5 -14.4-5.9 -14.5-27.5 -9.1-24.5 -6.7-23 -6.6-19.8 -13.2 3.7 -7 20.4 -8.8 19.1 -13.3 13.2 -12.8-10.1 -9-18.2 -8.9-19.7 -13.2-6.1 -9.2 18.4 -7.9 20 -10.9 23 -14.6 26 -15.9 6.7 -5.6-13.2 -2.8-14.3 -0.4-15.8 -0.3-18.5 0.7-22 1.4-23.5 2.9-24.1 4.5-22.9 4.7-21.1 6.1-17.7 6.2-14.9 5.1-15.6 6-15.8 4.9-16.2 5.1-14.9 6.1-15.3 6.9-14.4 6.4-12.8 8.5-13.5 8.2-13.1 10.3-13zM1352 45.2l8.8 12.9 6.7 15.1 6.7 15.8 7.8 13.9 7.1 15.9 9.1 14.7 6.5 15.2 6.6 15.1 3.9 15.3 4.4 16.5 2.5 15.5 3.7 17.4 5.8 18.4 6.5 19.3 7.7 21.3 7 20 8.3 20.3 5.3 17.9 2.1 16.6 0.2 16.5 -2.2 14.9 -7 14.1 -18.7-3.3 -18.1-19.4 -13.7-20.1 -7-18.7 -6.8-18.3 -11.4 4.6 -7.1 25.7 -6.9 26.1 -13.5 15 -14.2-16.4 -8.5-28.2 -7.1-24.3 -9.6-5.1 -7.1 19.1 -7.8 21.6 -10.5 20.5 -19.1 19.6 -18.9 2.2 -7.3-13.9 -2.9-17.1 -0.6-16 1.4-16.9 4.7-18.9 6.6-19.2 8.1-21.9 8.9-19.9 5.7-19.6 5.5-17.3 4-16.2 2-15.8 3.1-15.9 4.1-16.5 5.1-15.8 6.7-15.1 7.2-15.7 7.4-15.9 6.7-13.9 6.8-16.1 6.4-13zM1351.6 74.9l12.7 12.7 9.9 14.9 8.8 14.5 7.2 12.1 7.8 11.6 6.8 13.2 5.3 12.1 3.7 15.1 4.1 14.9 3.3 15.2 2.8 16.8 2.7 15.3 2.8 15.8 1.1 15.9 0.3 15.3 -0.8 16.4 -1.1 15.8 -1.5 15.9 -2.9 16 -2.4 14 -3.3 15.7 -4.3 13.5 -11.3 0.4 -6.1-12.6 -5.7-14.5 -4.3-15.7 -5.2-14.1 -12.2 4.6 -6.2 9.9 -7.7 3.9 -9.7 3.2 -8.4-3.8 -6.6-4.9 -6.5-9.8 -9.8-3.9 -5.3 17.3 -4.4 16.7 -5.8 16.9 -9.5 11.7 -10.6-2 -6.4-16.1 -2-17.4 -0.2-17 -0.9-15.9 -0.9-16.2 1.2-15.2 -0.6-16.6 1-15.2 1.2-16.2 2.7-15.8 2.5-14.9 3-15 5-14.3 4-14.3 5.9-14.9 6.8-15.7 5.9-14.4 7.3-14.2 7.3-13.2 7.9-13.3 9.1-10.4zM1352.7 71.7l9.7 10.4 7.8 13.8 5.6 13.1 7.1 15.7 6.5 16 7.1 17.8 7.7 16.2 6.4 17 7 15.6 7 14.1 6.1 16.3 6 15 5.6 18 3.7 21 3.2 21.7 2.6 21.9 3 21.1 2.6 19.7 2.3 17.4 0.8 16.5 -0.2 16.9 -4.8 15.3 -15.3-1.7 -14.3-20.5 -10.4-22.6 -8-18.8 -9.2-19.9 -13.9 4.3 -7.3 16.7 -7.4 15.5 -12.7 9.3 -14.5-7.1 -8.3-13.9 -7.5-16.6 -12.1-3.9 -9.2 17.8 -6.4 21.1 -8.7 22.7 -14 19.9 -14 1.8 -5.9-15.9 -0.8-17.2 1.8-18 1.8-18.3 0.6-19.6 2.8-20.5 2.3-20.2 3-20.1 3-19.2 4.8-18.1 3.8-18 3.5-16.4 4.3-17.8 5.2-17.5 5.1-16.1 5.7-14.5 7-13.5 7-13.7 8.1-15.3 7.4-14.8 9.8-15.2zM1349.3 71.9l12.7 11.8 7.9 13.3 8.3 14.4 7 14.1 7.8 14.8 7.3 14.5 8.4 16.4 7 15.7 6.8 16 7.6 17.5 4.9 15.3 4.8 16.9 4.8 17.6 5.2 20.5 5.7 20.6 6 20.5 5.4 20.9 5.3 19.1 1.9 17 0.6 16.7 -2.7 15.5 -6.2 15.4 -20-3.2 -18.3-21.1 -12.9-16.4 -7.6-12.2 -7-7.2 -12.9 2.6 -7.7-7.1 -8.4-9.4 -15.1-5.2 -15.9 7.2 -8.6 12.5 -7.9 2.4 -12.3-3.5 -7.3 7.4 -8.4 12.3 -12.1 18.3 -18.5 20.4 -19.3 2.1 -7.9-15.9 -1.6-18.2 1.1-17.7 3.5-20.3 3.1-20.4 4.9-20.8 6.2-20 4.4-20.6 5-18.4 3.8-17.8 4.8-15.1 5.5-15.2 5.1-16 6.1-15.8 7.1-16.2 7.2-15 5.5-14.6 6.1-14 6.4-13.3 8.3-13.5 8.9-12.9zM1349.4 41.1l8.5 13.6 6.6 16.1 6.9 16 6.9 16.6 7 15.5 7.5 14.5 7.5 15.2 5.9 15.2 6.2 16.8 5.8 16.5 5.4 17.6 3.6 17.5 5.6 18.1 5.9 17.8 6.2 17 6.8 16.7 5.9 16.9 4.7 17.7 3 17.3 -0.5 16.9 -0.6 17.3 -6.5 15.3 -19.6 0.9 -20.2-12.8 -13.6-13 -10-11.3 -8.3-8.6 -11.2 2.1 -8.8 18.7 -7.8 25.5 -12.5 18.7 -12.7-17.2 -7.1-27.5 -6.4-16 -10.7-3.1 -8 7.1 -8 12.3 -11.9 13.7 -19.5 12.6 -16.1-1.7 -5.2-15.5 -0.1-17 1.3-16.1 3-16.6 4.8-16.9 6.7-16.3 7.1-18.7 6.2-17.8 5.4-18.9 5-18.1 3.3-18.4 4.3-16.9 5.2-15.5 5.5-15.1 5.9-15 5.3-15 6.1-15.7 5.4-16.1 5.9-16.9 6.9-15.6 6.5-16zM1353.2 69.5l10.1 11.7 7.9 13.6 8.3 14.8 6.9 13.8 8.7 15.1 6.6 14.1 8 14.9 6.6 14.5 6.2 14.8 7.2 14.9 5.4 15 5.5 15.1 6 15.4 5 17.6 7.1 17.2 4.3 18.2 4.8 17.1 3.9 16.7 2.3 16.5 0.8 15.3 -0.6 17.5 -4.8 14.1 -18.8-0.5 -18.8-16.3 -13.6-23.1 -9.1-28.4 -9-31.1 -15.4 8.8 -8.2 26.4 -9 19.4 -15.6 9.4 -14.6-7.6 -9.9-18.5 -8.4-27.6 -13.9-6.6 -8.8 30.4 -9.6 27.2 -12.5 20.3 -19.1 14.4 -18.8 0.5 -7.4-14.3 -0.5-15.9 1.8-15.3 2.3-16.2 5.5-16.7 5.3-16.9 7.2-16.9 7.1-16.3 5.3-17.3 6.1-15.6 5.1-16.8 4.5-15.5 6.5-15 5.8-15.6 6.9-14.8 7.9-14.1 7.2-13.2 8.1-13.9 6.4-13.7 7.5-14.5 7.8-14.4zM1350.2 67.5l7.8 11.9 5.9 14.1 6.3 15.3 7 13.5 6.2 12.7 6.6 12.5 7.3 12.8 5.4 13.4 4.2 13.7 3.7 13.2 5.2 12.2 3.8 15 5.6 13.8 7.7 16 8.2 16.2 8.3 16.9 7.5 18.1 5.6 17.7 3.6 17.9 1.7 18.1 -0.8 17.3 -3.8 14.7 -18.3-1.8 -20.8-18 -16.5-20.7 -10.3-22.7 -8.2-22.1 -12.5 3.9 -7.3 25.9 -8.3 25.2 -11.4 14.9 -11.8-13.4 -6.7-26.4 -6.5-23.8 -12.3-3.7 -8.4 20.7 -12.4 20.7 -15.3 19.4 -23 16.7 -19.1-0.1 -3.4-15 -1-14.7 2.3-16.9 4.2-14.7 6.5-16.5 7.3-16.3 8.5-17.3 8.9-16.7 7-15.4 5.7-15.8 3.8-14.7 4.1-13.9 5.5-14.7 5.1-13.1 6-14.1 5.7-14.4 8.1-14.3 7.1-13.6 4.8-14.4 7-13.2 6.3-11.7zM1351.5 58.2l5.5 13.1 4.2 15.1 4.4 15.7 5.5 15.9 5.7 16 5.8 14.7 6.4 15 5.2 15.8 7 15.2 6.4 16.1 6.9 15.7 5.9 17 7.4 18 6.3 19.9 6.2 21.3 5.1 22.3 5 20.8 4 20.1 3.1 18 2.4 17.1 -0.2 15.7 -3.6 15.4 -15.6-4.5 -14.1-22.3 -11.4-23.2 -6.8-23 -8.6-20.8 -12.1 5.7 -6.2 26.5 -6.4 27.2 -14.1 16.4 -14.1-15.8 -10.3-28.4 -7.4-24.2 -13.8-6.8 -9.7 20.7 -8 23.4 -10.3 21.9 -13.6 21.8 -15.3 3.7 -2.6-15.4 1.3-15.2 3.8-15.9 5.1-17.1 3.5-19.9 5.7-20.7 4.2-22.8 5.8-22.3 4.3-21.1 6-18.1 5.1-16.6 5.8-17.3 4.8-14.1 5.1-15 6.3-15.2 5.4-15.9 3.7-15 4.9-16.5 3.5-15.1 4.7-15.9 2.7-15zM1351.4 -7l13.6 15.1 9.7 18.2 10.2 20.5 9.1 17.3 9.8 18.5 8.2 18.7 6.9 19.1 5.9 18 5.1 18.1 4.2 18.9 4.2 16.9 3.8 17.6 5.4 19.5 6.8 20.3 6.5 22.3 5.8 20 4.3 21.7 2.4 20.9 -1.4 18.1 -4.4 18.6 -4.3 16.5 -9.6 14.8 -18.1-2 -20-15.8 -11.1-13.1 -7.7-7.9 -6-4.6 -12.4 1.5 -7 4.6 -7.9 7.6 -13.2 6.2 -14.1-6.5 -7.8-5.5 -8.4-5.5 -12.9-4.1 -8.8 3 -8.9 9.6 -14.1 13.6 -19.6 16.5 -20.4 2.4 -7.3-15.9 -3.7-16.3 -0.9-17.2 1.2-19.5 2.9-20.7 5.5-20.8 4.5-22.3 6.9-22 5-20.7 5.6-20.4 2.6-18.4 5.4-17.2 4.5-19.1 6.8-17.8 7.3-16.8 8.2-18.8 7.9-17.7 10.5-17.6 8.4-18.9 10.2-18.8 11.2-17.3zM1352.9 18.8l10.5 13.4 7.5 16.2 6.1 17.2 5.3 17.9 5 17.1 5.9 16.9 6 16.8 5.5 16.1 5.2 16.4 5 16.3 4.8 16.1 3.8 16.2 2.7 21.5 0.5 23.4 -0.4 27.8 -0.2 25.2 -0.2 25.4 0.4 21.3 -0.7 17.8 -0.2 16.2 -1.3 15.3 -4.5 15.1 -10.1-7.6 -5.3-26.8 -3.7-23.4 -4.7-20 -5.5-14.6 -10.1 2.6 -6.6 16.6 -5.8 16.2 -9.8 13.1 -11.1-8.6 -5.7-16.2 -6.7-14.6 -9.6-4.1 -7.1 14.3 -5.5 20.2 -5 23.3 -6.8 26.1 -11.3 7.6 -5.8-14.9 -2.6-15.3 0.1-17.6 -0.5-18.4 0.4-22.5 -1.5-25.9 -0.1-27 -0.1-26.3 -0.6-24.3 2.6-20.3 2.3-17.8 4.6-16.1 2.9-17 3.2-18.1 5-17 5.2-17.1 5.8-16.6 5.8-15.5 8.5-16.8 7.8-16.2 10.2-16.1zM1352.1 65.6l8.3 13.1 6.5 15 5.6 16.6 6.7 14.8 6.1 17.2 4.2 16.1 4.6 16.6 3.9 16.4 3.2 16.3 3.5 17.3 2.5 18.2 2.9 17.6 1.1 18.7 0.4 21.1 -1 19.3 -0.6 20.8 -2.8 19.9 -0.2 17.6 0.4 18.7 0.5 17.7 -1.8 16.8 -3.7 17 -8.5-1.4 -5.6-17.5 -4-20.1 -3.9-24 -3.3-22.2 -7.7 5.7 -2.3 20.5 -4.8 18.5 -7 10 -10-8.1 -6.1-17.5 -6.4-22.4 -8.4-6.3 -4.6 22.1 -2 21.4 -2 21.2 -2.7 17.8 -6.5-0.3 -3.7-15.8 -0.7-16.1 -1.2-17.7 -0.6-18 -0.3-19 -0.9-19 0.1-19.4 -0.8-19.7 1.6-18.9 1.3-18.1 1.6-18.9 2.5-17.2 3.6-16.9 3.7-17.5 3.2-16 4.3-16.9 5.7-15.1 4.3-16.9 4.6-15.8 4.7-17.1 5.2-16.3zM1354.7 -1.9l11.6 14.5 8 17.6 8.3 18.4 8 19.3 9.9 19.7 7.6 19.2 8.4 19.4 7.4 19 5.6 18.4 5.9 18 4.9 17.6 5.1 17.7 4.6 20.3 4.7 22 5.9 23.7 4.7 23 3.7 23.2 3.3 21.1 1.4 19.2 -0.2 17.8 -1.2 17.4 -6.1 14.9 -15-4.4 -17.4-22.2 -12.3-22.6 -7.1-23.1 -8.6-20.5 -14.1 5.5 -8 28.4 -9.3 30 -13.2 17.7 -14.5-16.1 -8.3-30.4 -8-26.9 -12.2-4.6 -8.2 22.3 -7.9 22.6 -11.9 23.2 -17.4 20.8 -19.3 3.8 -7.7-14.3 -3.3-16.9 -0.5-17.4 0.4-17.5 3.3-21.1 3.6-21.8 6.3-22.5 5.1-24.3 4.3-22.1 4.6-21.7 3.8-20.4 2.9-20 4.4-20 4.8-19.1 6.9-18.6 8-18 9.3-17.6 9.1-18.3 8.8-18.6 7.9-19.3 8.9-18.7zM1352.8 38.6l14 14.2 11.3 16.4 10.1 15 11.3 16.3 9.7 16 11.2 16.3 9.3 18.1 9.3 17.2 7.6 18.9 9.2 17.9 7.7 17.7 8.6 17.2 8.2 19.3 7.7 21.4 5.5 21.5 6.1 23.3 4.8 24.5 2.7 21.2 2.8 18.3 1.6 17.4 -1.4 16.4 -6.1 15.3 -22.5-5.2 -19.2-21.9 -14.9-19.4 -10.2-13.3 -11.8-8.4 -19.3 1.6 -9.7 8.4 -10.9 7 -18.3 5.1 -19.2-4.6 -12.7-7.5 -11.7-8.2 -17.3-3 -12.1 9.6 -10.5 15.5 -12.7 19.5 -20 21.5 -22.9 3.3 -7.9-15.4 -2.6-16.2 0.3-16.9 1.7-17.6 2.7-20.5 4-22.6 3.8-24.9 6-23.3 5.7-22.7 5.2-19.6 6-19 5.2-15.8 7-16.5 7.6-17.6 7.5-16.8 9.5-17.7 9.7-17.1 10.7-17.8 10.1-16.7 9.4-16.6 10.1-15.1z" fill="none" stroke="#a8a8a8" stroke-width="0.75" stroke-linejoin="round"/>
<path d="M1352.3 64.4C1354.5 64.4 1356.1 66.1 1359.2 70.6C1362.3 75.1 1366.7 83.2 1370.9 91.2C1375.1 99.2 1380.1 109.6 1384.6 118.7C1389 127.8 1393.6 136.9 1397.6 146.1C1401.6 155.2 1405.2 164.4 1408.6 173.6C1412 182.8 1415.5 193.1 1418.2 201.1C1421 209.1 1423.1 215.5 1425.1 221.7C1427.1 227.8 1428.6 232.3 1430.3 238C1432 243.7 1433.8 249.2 1435.4 255.6C1437.1 262 1438.8 269.3 1440.2 276.2C1441.6 283.1 1442.6 289.9 1443.6 296.8C1444.6 303.7 1445.4 310.5 1446.1 317.4C1446.8 324.3 1447.3 331.1 1447.5 338C1447.7 344.9 1447.7 352.4 1447.5 358.6C1447.3 364.8 1446.8 370.3 1446.1 375.1C1445.3 379.9 1444.3 384.2 1443 387.4C1441.7 390.6 1439.8 392.9 1438.1 394.3C1436.4 395.7 1434.8 396.1 1432.7 396C1430.7 395.9 1428.2 395 1425.8 393.6C1423.4 392.2 1420.7 390 1418.2 387.4C1415.7 384.8 1413.1 381.4 1410.7 377.8C1408.3 374.2 1405.9 369.9 1403.8 365.5C1401.7 361.1 1400 355.6 1398.3 351.7C1396.6 347.8 1395.2 344.3 1393.5 342.1C1391.8 339.9 1389.8 338.8 1388 338.7C1386.2 338.6 1384.2 339.7 1382.5 341.4C1380.8 343.1 1379.4 345.8 1377.7 349C1376 352.2 1374 357 1372.2 360.7C1370.4 364.4 1368.6 368 1366.7 371C1364.8 374 1363 376.7 1360.6 378.5C1358.2 380.3 1354.9 381.8 1352.3 381.9C1349.7 382 1347.1 380.8 1344.8 379.2C1342.5 377.6 1340.5 375.1 1338.6 372.3C1336.6 369.6 1334.9 366.1 1333.1 362.7C1331.3 359.3 1329.3 355 1327.6 351.7C1325.9 348.4 1324.4 344.9 1322.8 342.8C1321.2 340.8 1319.7 339.5 1318 339.4C1316.3 339.3 1314.2 340.3 1312.5 342.1C1310.8 343.9 1309.4 347 1307.7 350.4C1306 353.8 1304.2 358.6 1302.2 362.7C1300.2 366.8 1298.3 371.2 1296 375.1C1293.7 379 1291.1 383.1 1288.5 386.1C1285.9 389.1 1283 391.2 1280.2 392.9C1277.5 394.5 1274.5 396 1272 396C1269.5 396 1267 394.8 1265.1 392.9C1263.1 391 1261.5 388.1 1260.3 384.7C1259 381.3 1258.2 377.1 1257.6 372.3C1257 367.5 1256.8 361.6 1256.9 355.9C1257 350.2 1257.5 344.4 1258 338C1258.5 331.6 1259.1 324.3 1259.9 317.4C1260.7 310.5 1261.5 303.7 1262.6 296.8C1263.7 289.9 1265.2 283.1 1266.5 276.2C1267.8 269.3 1269.1 262 1270.6 255.6C1272 249.2 1273.8 243.7 1275.2 238C1276.6 232.3 1277.6 227.8 1279.2 221.7C1280.8 215.5 1282.3 209.1 1284.8 201.1C1287.2 193.1 1290.4 182.8 1293.9 173.6C1297.4 164.4 1301.3 155.2 1305.6 146.1C1309.8 136.9 1314.7 127.8 1319.4 118.7C1324.1 109.6 1329.3 99.2 1333.8 91.2C1338.2 83.2 1343 75.1 1346.1 70.6C1349.2 66.1 1350.1 64.4 1352.3 64.4Z" fill="none" stroke="#ff00ff" stroke-width="5.4" stroke-linejoin="round"/>
</g>
<g id="axes" stroke="#0a0a0a" stroke-width="1.35" fill="none">
<path d="M58 879.5 H911.5"/>
<path d="M570.7 557.5 V1218.6"/>
<path d="M79.7 879.5v9M161.5 879.5v9M243.4 879.5v9M325.3 879.5v9M407.2 879.5v9M489 879.5v9M652.8 879.5v9M734.6 879.5v9M816.5 879.5v9M898.4 879.5v9M570.5 633.5h-8.6M570.5 715.4h-8.6M570.5 797.3h-8.6M570.5 961.1h-8.6M570.5 1043h-8.6M570.5 1124.9h-8.6M570.5 1206.8h-8.6"/>
</g>
<g id="scatter">
<path d="M566 884.5h13v13h-13zM630.2 867.7h13v13h-13zM646 851.8h13v13h-13zM655.2 807.5h13v13h-13zM665.2 858.2h13v13h-13zM703.5 800.2h13v13h-13zM730.2 805.7h13v13h-13zM782.3 802.7h13v13h-13zM776 818.5h13v13h-13zM707.7 830.2h13v13h-13zM724.3 835.2h13v13h-13zM685.2 839.3h13v13h-13zM696 844.3h13v13h-13zM711.8 851.8h13v13h-13zM744.8 855.7h13v13h-13zM816.8 836h13v13h-13zM793.2 852.7h13v13h-13zM808.8 856h13v13h-13zM740.2 871.8h13v13h-13zM764.8 868.5h13v13h-13zM764.3 883.5h13v13h-13zM806.8 871h13v13h-13zM845.2 867.7h13v13h-13zM858.8 871h13v13h-13zM714.8 896h13v13h-13zM720.9 908h13v13h-13zM792.5 892.7h13v13h-13zM804.5 896.5h13v13h-13zM815 899h13v13h-13zM832.5 889.8h13v13h-13zM841.8 891.8h13v13h-13zM840.2 903h13v13h-13zM868.5 895.5h13v13h-13zM860.2 898.5h13v13h-13zM821.8 909.3h13v13h-13zM767.2 913h13v13h-13zM776.8 911.5h13v13h-13zM786.8 912.7h13v13h-13zM856.8 897.7h13v13h-13zM866.8 917.7h13v13h-13zM905.2 914.8h13v13h-13zM773.5 925.2h13v13h-13zM786.8 925.2h13v13h-13zM773.5 941h13v13h-13zM794.3 951h13v13h-13zM723 945.5h13v13h-13zM816 934.3h13v13h-13zM815.2 940.2h13v13h-13zM845.2 931.8h13v13h-13zM879.3 939.3h13v13h-13zM871 942.7h13v13h-13zM874.7 948.5h13v13h-13zM747.2 977.7h13v13h-13zM814.3 973.5h13v13h-13zM826 969.3h13v13h-13zM870.2 968.8h13v13h-13zM880.2 974.8h13v13h-13zM866 984.8h13v13h-13zM853.5 991.8h13v13h-13zM890.2 987.7h13v13h-13zM814 1031.8h13v13h-13z" fill="#00ffff"/>
<path d="M865.3 874.6l6.2 8.7l-6.2 8.7l-6.2 -8.7zM769.2 890.5l6.2 8.7l-6.2 8.7l-6.2 -8.7zM834.2 894.6l6.2 8.7l-6.2 8.7l-6.2 -8.7zM744.2 911.8l6.2 8.7l-6.2 8.7l-6.2 -8.7zM756.7 929.6l6.2 8.7l-6.2 8.7l-6.2 -8.7z" fill="#43b0f7"/>
<path d="M295.8 747.5a6.7 6.7 0 1 0 13.4 0a6.7 6.7 0 1 0 -13.4 0zM304.1 757.5a6.7 6.7 0 1 0 13.4 0a6.7 6.7 0 1 0 -13.4 0zM319.8 746.3a6.7 6.7 0 1 0 13.4 0a6.7 6.7 0 1 0 -13.4 0zM289.1 814.5a6.7 6.7 0 1 0 13.4 0a6.7 6.7 0 1 0 -13.4 0zM423.3 812.5a6.7 6.7 0 1 0 13.4 0a6.7 6.7 0 1 0 -13.4 0zM433 629.7a6.7 6.7 0 1 0 13.4 0a6.7 6.7 0 1 0 -13.4 0zM474.5 620.3a6.7 6.7 0 1 0 13.4 0a6.7 6.7 0 1 0 -13.4 0zM491.6 625.5a6.7 6.7 0 1 0 13.4 0a6.7 6.7 0 1 0 -13.4 0zM460 660.8a6.7 6.7 0 1 0 13.4 0a6.7 6.7 0 1 0 -13.4 0zM455.3 674.7a6.7 6.7 0 1 0 13.4 0a6.7 6.7 0 1 0 -13.4 0zM476.3 683.3a6.7 6.7 0 1 0 13.4 0a6.7 6.7 0 1 0 -13.4 0zM490 670a6.7 6.7 0 1 0 13.4 0a6.7 6.7 0 1 0 -13.4 0zM497.5 668.3a6.7 6.7 0 1 0 13.4 0a6.7 6.7 0 1 0 -13.4 0zM493.3 674.2a6.7 6.7 0 1 0 13.4 0a6.7 6.7 0 1 0 -13.4 0zM500.3 700a6.7 6.7 0 1 0 13.4 0a6.7 6.7 0 1 0 -13.4 0zM526.3 652.5a6.7 6.7 0 1 0 13.4 0a6.7 6.7 0 1 0 -13.4 0zM518.3 687.5a6.7 6.7 0 1 0 13.4 0a6.7 6.7 0 1 0 -13.4 0zM518 697a6.7 6.7 0 1 0 13.4 0a6.7 6.7 0 1 0 -13.4 0zM518.3 717a6.7 6.7 0 1 0 13.4 0a6.7 6.7 0 1 0 -13.4 0zM470 722.2a6.7 6.7 0 1 0 13.4 0a6.7 6.7 0 1 0 -13.4 0zM466.1 736.7a6.7 6.7 0 1 0 13.4 0a6.7 6.7 0 1 0 -13.4 0zM482.8 739.2a6.7 6.7 0 1 0 13.4 0a6.7 6.7 0 1 0 -13.4 0zM506.6 732.8a6.7 6.7 0 1 0 13.4 0a6.7 6.7 0 1 0 -13.4 0zM415.5 726.2a6.7 6.7 0 1 0 13.4 0a6.7 6.7 0 1 0 -13.4 0zM377.5 695.5a6.7 6.7 0 1 0 13.4 0a6.7 6.7 0 1 0 -13.4 0zM372.1 728a6.7 6.7 0 1 0 13.4 0a6.7 6.7 0 1 0 -13.4 0zM534.6 728a6.7 6.7 0 1 0 13.4 0a6.7 6.7 0 1 0 -13.4 0zM575 655.8a6.7 6.7 0 1 0 13.4 0a6.7 6.7 0 1 0 -13.4 0zM615.3 660.8a6.7 6.7 0 1 0 13.4 0a6.7 6.7 0 1 0 -13.4 0zM564.1 691.2a6.7 6.7 0 1 0 13.4 0a6.7 6.7 0 1 0 -13.4 0zM595 681.2a6.7 6.7 0 1 0 13.4 0a6.7 6.7 0 1 0 -13.4 0zM610.3 678.7a6.7 6.7 0 1 0 13.4 0a6.7 6.7 0 1 0 -13.4 0zM604.1 689.2a6.7 6.7 0 1 0 13.4 0a6.7 6.7 0 1 0 -13.4 0zM625.5 694.7a6.7 6.7 0 1 0 13.4 0a6.7 6.7 0 1 0 -13.4 0zM594.1 708.3a6.7 6.7 0 1 0 13.4 0a6.7 6.7 0 1 0 -13.4 0zM614.6 709.2a6.7 6.7 0 1 0 13.4 0a6.7 6.7 0 1 0 -13.4 0zM588.8 724.2a6.7 6.7 0 1 0 13.4 0a6.7 6.7 0 1 0 -13.4 0zM607.5 724.2a6.7 6.7 0 1 0 13.4 0a6.7 6.7 0 1 0 -13.4 0zM657 714.7a6.7 6.7 0 1 0 13.4 0a6.7 6.7 0 1 0 -13.4 0zM651.6 728.7a6.7 6.7 0 1 0 13.4 0a6.7 6.7 0 1 0 -13.4 0zM664.1 725.8a6.7 6.7 0 1 0 13.4 0a6.7 6.7 0 1 0 -13.4 0zM669.5 724.2a6.7 6.7 0 1 0 13.4 0a6.7 6.7 0 1 0 -13.4 0zM640 741.7a6.7 6.7 0 1 0 13.4 0a6.7 6.7 0 1 0 -13.4 0zM655.8 748a6.7 6.7 0 1 0 13.4 0a6.7 6.7 0 1 0 -13.4 0zM631.6 752.5a6.7 6.7 0 1 0 13.4 0a6.7 6.7 0 1 0 -13.4 0zM605.5 748.3a6.7 6.7 0 1 0 13.4 0a6.7 6.7 0 1 0 -13.4 0zM708.6 735.8a6.7 6.7 0 1 0 13.4 0a6.7 6.7 0 1 0 -13.4 0zM738 670.3a6.7 6.7 0 1 0 13.4 0a6.7 6.7 0 1 0 -13.4 0zM525 761.7a6.7 6.7 0 1 0 13.4 0a6.7 6.7 0 1 0 -13.4 0zM524.6 790a6.7 6.7 0 1 0 13.4 0a6.7 6.7 0 1 0 -13.4 0zM491.6 792a6.7 6.7 0 1 0 13.4 0a6.7 6.7 0 1 0 -13.4 0zM489.5 887.5a6.7 6.7 0 1 0 13.4 0a6.7 6.7 0 1 0 -13.4 0zM573.3 775.8a6.7 6.7 0 1 0 13.4 0a6.7 6.7 0 1 0 -13.4 0zM583.3 781.7a6.7 6.7 0 1 0 13.4 0a6.7 6.7 0 1 0 -13.4 0zM587.5 775.8a6.7 6.7 0 1 0 13.4 0a6.7 6.7 0 1 0 -13.4 0zM606.6 762.5a6.7 6.7 0 1 0 13.4 0a6.7 6.7 0 1 0 -13.4 0zM620 761.7a6.7 6.7 0 1 0 13.4 0a6.7 6.7 0 1 0 -13.4 0zM606.6 772.5a6.7 6.7 0 1 0 13.4 0a6.7 6.7 0 1 0 -13.4 0zM619.1 772.5a6.7 6.7 0 1 0 13.4 0a6.7 6.7 0 1 0 -13.4 0zM643.3 773.3a6.7 6.7 0 1 0 13.4 0a6.7 6.7 0 1 0 -13.4 0zM620 825a6.7 6.7 0 1 0 13.4 0a6.7 6.7 0 1 0 -13.4 0zM719.6 767.8a6.7 6.7 0 1 0 13.4 0a6.7 6.7 0 1 0 -13.4 0zM731.1 786.3a6.7 6.7 0 1 0 13.4 0a6.7 6.7 0 1 0 -13.4 0zM692.5 795.8a6.7 6.7 0 1 0 13.4 0a6.7 6.7 0 1 0 -13.4 0zM671.1 802.5a6.7 6.7 0 1 0 13.4 0a6.7 6.7 0 1 0 -13.4 0zM666.3 815a6.7 6.7 0 1 0 13.4 0a6.7 6.7 0 1 0 -13.4 0zM714.1 826.7a6.7 6.7 0 1 0 13.4 0a6.7 6.7 0 1 0 -13.4 0zM752.1 824.7a6.7 6.7 0 1 0 13.4 0a6.7 6.7 0 1 0 -13.4 0zM703.3 840a6.7 6.7 0 1 0 13.4 0a6.7 6.7 0 1 0 -13.4 0zM751.6 841.7a6.7 6.7 0 1 0 13.4 0a6.7 6.7 0 1 0 -13.4 0zM856.3 909a6.7 6.7 0 1 0 13.4 0a6.7 6.7 0 1 0 -13.4 0z" fill="#6c34f2"/>
<path d="M377.7 848.5h15.2l-7.6 13.1zM412.4 841.8h15.2l-7.6 13.1zM509.1 680.2h15.2l-7.6 13.1zM514.9 724.2h15.2l-7.6 13.1zM509.1 748.5h15.2l-7.6 13.1zM467.9 758.5h15.2l-7.6 13.1zM535.7 726h15.2l-7.6 13.1zM543.2 738.5h15.2l-7.6 13.1zM568.7 722.7h15.2l-7.6 13.1zM479.1 764.2h15.2l-7.6 13.1zM530.7 763.5h15.2l-7.6 13.1zM516.6 790.2h15.2l-7.6 13.1zM634.9 762.7h15.2l-7.6 13.1zM644.1 822.7h15.2l-7.6 13.1zM643.2 839.2h15.2l-7.6 13.1zM517.4 882.7h15.2l-7.6 13.1zM668.6 831.8h15.2l-7.6 13.1z" fill="#b43ff4"/>
<path d="M196.6 794.8h15.2l-7.6 -13.1zM223.7 792.3h15.2l-7.6 -13.1zM276.9 786h15.2l-7.6 -13.1zM350.2 768.2h15.2l-7.6 -13.1zM321.9 792.8h15.2l-7.6 -13.1zM338.2 786h15.2l-7.6 -13.1zM341.6 791.5h15.2l-7.6 -13.1zM355.7 795.8h15.2l-7.6 -13.1zM361.6 796h15.2l-7.6 -13.1zM370.7 793.2h15.2l-7.6 -13.1zM376.6 798.2h15.2l-7.6 -13.1zM390.7 790.8h15.2l-7.6 -13.1zM397.4 791.5h15.2l-7.6 -13.1zM402.4 799h15.2l-7.6 -13.1zM391.6 803.2h15.2l-7.6 -13.1zM352.9 806.8h15.2l-7.6 -13.1zM298.6 811.5h15.2l-7.6 -13.1zM322.9 812.3h15.2l-7.6 -13.1zM354.6 828.2h15.2l-7.6 -13.1zM387.4 823.2h15.2l-7.6 -13.1zM377.7 832.3h15.2l-7.6 -13.1zM352.9 841.2h15.2l-7.6 -13.1zM291.9 851.5h15.2l-7.6 -13.1zM371.9 853.2h15.2l-7.6 -13.1zM277.9 872.8h15.2l-7.6 -13.1zM319.6 889h15.2l-7.6 -13.1zM384.1 882.3h15.2l-7.6 -13.1zM378.6 887.3h15.2l-7.6 -13.1zM403.2 883.2h15.2l-7.6 -13.1zM359.1 907.3h15.2l-7.6 -13.1zM511.9 673.2h15.2l-7.6 -13.1zM371.9 705.8h15.2l-7.6 -13.1zM376.6 709h15.2l-7.6 -13.1zM368.6 724.8h15.2l-7.6 -13.1zM359.9 735.8h15.2l-7.6 -13.1zM424.4 746.5h15.2l-7.6 -13.1zM454.9 756.5h15.2l-7.6 -13.1zM632.1 689.8h15.2l-7.6 -13.1zM593.2 749h15.2l-7.6 -13.1zM424.9 749h15.2l-7.6 -13.1zM452.4 774.8h15.2l-7.6 -13.1zM434.6 785.8h15.2l-7.6 -13.1zM423.2 799.8h15.2l-7.6 -13.1zM484.1 783.2h15.2l-7.6 -13.1zM494.9 788.2h15.2l-7.6 -13.1zM514.4 775.8h15.2l-7.6 -13.1zM529.1 790.8h15.2l-7.6 -13.1zM471.6 809.8h15.2l-7.6 -13.1zM497.4 809h15.2l-7.6 -13.1zM500.2 820.8h15.2l-7.6 -13.1zM463.2 827.3h15.2l-7.6 -13.1zM490.7 833.2h15.2l-7.6 -13.1zM512.9 830.8h15.2l-7.6 -13.1zM434.6 836.5h15.2l-7.6 -13.1zM486.6 839.8h15.2l-7.6 -13.1zM477.4 848.2h15.2l-7.6 -13.1zM494.1 844.8h15.2l-7.6 -13.1zM499.1 844.8h15.2l-7.6 -13.1zM453.2 849h15.2l-7.6 -13.1zM469.1 859.8h15.2l-7.6 -13.1zM510.2 859.8h15.2l-7.6 -13.1zM444.1 862.3h15.2l-7.6 -13.1zM455.7 867.3h15.2l-7.6 -13.1zM417.4 869h15.2l-7.6 -13.1zM431.6 873.2h15.2l-7.6 -13.1zM474.9 874.8h15.2l-7.6 -13.1zM512.4 872.3h15.2l-7.6 -13.1zM526.6 873.2h15.2l-7.6 -13.1zM471.6 884h15.2l-7.6 -13.1zM481.6 884.8h15.2l-7.6 -13.1zM429.1 879.8h15.2l-7.6 -13.1zM529.9 885.8h15.2l-7.6 -13.1zM459.1 895.8h15.2l-7.6 -13.1zM517.4 898.2h15.2l-7.6 -13.1zM550.7 854.8h15.2l-7.6 -13.1zM545.7 876.5h15.2l-7.6 -13.1zM554.9 874.8h15.2l-7.6 -13.1zM564.1 859.8h15.2l-7.6 -13.1zM570.7 865.8h15.2l-7.6 -13.1zM583.2 856.5h15.2l-7.6 -13.1zM579.1 866.5h15.2l-7.6 -13.1zM587.4 874.8h15.2l-7.6 -13.1zM594.9 886.5h15.2l-7.6 -13.1zM599.1 891.5h15.2l-7.6 -13.1zM598.2 901.5h15.2l-7.6 -13.1zM583.6 829h15.2l-7.6 -13.1zM641.6 834.8h15.2l-7.6 -13.1zM657.4 815.8h15.2l-7.6 -13.1zM654.9 899.8h15.2l-7.6 -13.1zM683.2 793.2h15.2l-7.6 -13.1zM701.9 874h15.2l-7.6 -13.1zM705.7 945.3h15.2l-7.6 -13.1zM751.6 934h15.2l-7.6 -13.1zM751.6 939h15.2l-7.6 -13.1zM778.2 972.3h15.2l-7.6 -13.1zM829.9 978.2h15.2l-7.6 -13.1zM811.1 994h15.2l-7.6 -13.1zM825.7 1010.3h15.2l-7.6 -13.1zM840.7 1011.2h15.2l-7.6 -13.1zM870.7 1005.3h15.2l-7.6 -13.1zM811.1 1024h15.2l-7.6 -13.1zM858.2 1026.2h15.2l-7.6 -13.1zM679.9 1061.2h15.2l-7.6 -13.1zM532.1 917h15.2l-7.6 -13.1zM556.2 915.8h15.2l-7.6 -13.1zM434.9 919h15.2l-7.6 -13.1zM434.9 926.5h15.2l-7.6 -13.1zM475.4 929.3h15.2l-7.6 -13.1zM496.6 926.5h15.2l-7.6 -13.1zM499.1 931.5h15.2l-7.6 -13.1zM501.1 935.8h15.2l-7.6 -13.1zM487.4 954h15.2l-7.6 -13.1zM464.9 962.3h15.2l-7.6 -13.1zM438.2 954.8h15.2l-7.6 -13.1zM440.7 959.8h15.2l-7.6 -13.1zM553.2 936.5h15.2l-7.6 -13.1zM562.4 932.3h15.2l-7.6 -13.1zM567.4 927.3h15.2l-7.6 -13.1zM574.9 915.8h15.2l-7.6 -13.1zM580.7 912.3h15.2l-7.6 -13.1zM588.2 909h15.2l-7.6 -13.1zM599.9 922.3h15.2l-7.6 -13.1zM603.2 927.3h15.2l-7.6 -13.1zM634.9 928.2h15.2l-7.6 -13.1zM640.7 929.8h15.2l-7.6 -13.1zM663.6 938.2h15.2l-7.6 -13.1zM591.9 947.8h15.2l-7.6 -13.1zM566.2 948.2h15.2l-7.6 -13.1zM556.1 959h15.2l-7.6 -13.1zM551.6 969.8h15.2l-7.6 -13.1zM575.7 980.8h15.2l-7.6 -13.1zM590.4 979.8h15.2l-7.6 -13.1zM540.7 982.3h15.2l-7.6 -13.1zM529.9 984.8h15.2l-7.6 -13.1zM472.4 984.8h15.2l-7.6 -13.1zM479.1 984h15.2l-7.6 -13.1zM485.4 989.8h15.2l-7.6 -13.1zM519.9 996.5h15.2l-7.6 -13.1zM467.4 1002.3h15.2l-7.6 -13.1zM473.7 1000.8h15.2l-7.6 -13.1zM544.4 999.8h15.2l-7.6 -13.1zM509.9 1005.8h15.2l-7.6 -13.1zM555.7 1008.2h15.2l-7.6 -13.1zM479.9 1010.8h15.2l-7.6 -13.1zM496.6 1009.8h15.2l-7.6 -13.1zM535.2 1009.8h15.2l-7.6 -13.1zM546.6 1014.8h15.2l-7.6 -13.1zM509.1 1018.2h15.2l-7.6 -13.1zM519.4 1017.3h15.2l-7.6 -13.1zM631.6 989.5h15.2l-7.6 -13.1zM641.9 994.8h15.2l-7.6 -13.1zM584.4 1009.8h15.2l-7.6 -13.1zM624.9 1014h15.2l-7.6 -13.1zM573.2 1031.8h15.2l-7.6 -13.1zM590.7 1031.5h15.2l-7.6 -13.1zM596.6 1033.2h15.2l-7.6 -13.1zM613.2 1034h15.2l-7.6 -13.1zM514.1 1031.5h15.2l-7.6 -13.1zM529.9 1029h15.2l-7.6 -13.1zM544.4 1030.8h15.2l-7.6 -13.1zM499.9 1038.2h15.2l-7.6 -13.1zM469.1 1042.3h15.2l-7.6 -13.1zM518.2 1043.2h15.2l-7.6 -13.1zM549.1 1039.8h15.2l-7.6 -13.1zM424.9 937.8h15.2l-7.6 -13.1zM402.7 961.8h15.2l-7.6 -13.1zM371.1 974h15.2l-7.6 -13.1zM363.7 991.5h15.2l-7.6 -13.1zM373.2 990.2h15.2l-7.6 -13.1zM387.4 1005.8h15.2l-7.6 -13.1zM355.2 1025.2h15.2l-7.6 -13.1zM396.9 1027.8h15.2l-7.6 -13.1zM378.2 1042.3h15.2l-7.6 -13.1zM419.9 1045.8h15.2l-7.6 -13.1zM429.9 1045.8h15.2l-7.6 -13.1zM371.6 1056.2h15.2l-7.6 -13.1zM398.2 1060.2h15.2l-7.6 -13.1zM479.1 1058.2h15.2l-7.6 -13.1zM432.9 1066.8h15.2l-7.6 -13.1zM491.6 1069h15.2l-7.6 -13.1zM283.6 1074.3h15.2l-7.6 -13.1zM300.7 1070.8h15.2l-7.6 -13.1zM319.4 1077h15.2l-7.6 -13.1zM335.7 1073.2h15.2l-7.6 -13.1zM358.2 1074.8h15.2l-7.6 -13.1zM406.9 1084h15.2l-7.6 -13.1zM417.4 1080.8h15.2l-7.6 -13.1zM427.1 1086h15.2l-7.6 -13.1zM448.2 1086h15.2l-7.6 -13.1zM437.4 1097.3h15.2l-7.6 -13.1zM321.1 1095.8h15.2l-7.6 -13.1zM340.4 1103.2h15.2l-7.6 -13.1zM334.9 1112.3h15.2l-7.6 -13.1zM402.1 1130.2h15.2l-7.6 -13.1zM444.6 1120.8h15.2l-7.6 -13.1zM441.9 1129.8h15.2l-7.6 -13.1zM91.4 1067.8h15.2l-7.6 -13.1zM150.4 1107.8h15.2l-7.6 -13.1zM183.7 1128.5h15.2l-7.6 -13.1zM227.8 1180.1h15.2l-7.6 -13.1zM187.2 1212.1h15.2l-7.6 -13.1zM0.5 1193.8h15.2l-7.6 -13.1zM539.9 1073.2h15.2l-7.6 -13.1zM573.6 1076h15.2l-7.6 -13.1zM621.9 1068.2h15.2l-7.6 -13.1zM620.4 1087.3h15.2l-7.6 -13.1zM586.2 1108.8h15.2l-7.6 -13.1zM566.1 1117.8h15.2l-7.6 -13.1z" fill="#ff00ff"/>
</g>
<g opacity="0.999"><g id="ticklabels" font-size="23.1">
<text x="80" y="860.8" text-anchor="middle">-0.6</text>
<text x="161.8" y="860.8" text-anchor="middle">-0.5</text>
<text x="243.7" y="860.8" text-anchor="middle">-0.4</text>
<text x="325.6" y="860.8" text-anchor="middle">-0.3</text>
<text x="407.5" y="860.8" text-anchor="middle">-0.2</text>
<text x="487.4" y="860.8" text-anchor="middle">-0.1</text>
<text x="651.2" y="860.8" text-anchor="middle">0.1</text>
<text x="734.9" y="860.8" text-anchor="middle">0.2</text>
<text x="816.8" y="860.8" text-anchor="middle">0.3</text>
<text x="585.6" y="643.8">0.3</text>
<text x="585.6" y="725.7">0.2</text>
<text x="585.6" y="807.6">0.1</text>
<text x="586.4" y="971.2">-0.1</text>
<text x="586.4" y="1053.1">-0.2</text>
<text x="586.4" y="1135">-0.3</text>
<text x="586.4" y="1216.9">-0.4</text>
</g></g>
<g id="legend">
<rect x="9.6" y="573.9" width="13.2" height="13.2" fill="#00ffff"/>
<path d="M16.1 604.4l8 10.5l-8 10.5l-8 -10.5z" fill="#43b0f7"/>
<circle cx="16.1" cy="649.5" r="8.1" fill="#6c34f2"/>
<path d="M7.2 678.8h18l-9 15.6z" fill="#b43ff4"/>
<path d="M6.8 724.4h18.4l-9.2 -16.1z" fill="#ff00ff"/>
<g font-size="25" opacity="0.999">
<text x="65.3" y="590.7">Late Neolithic</text>
<text x="65.3" y="624.3">Neolithic / Bell Beaker</text>
<text x="65.3" y="659.1">Bell Beaker</text>
<text x="65.3" y="693.7">Bell Beaker / Bronze Age</text>
<text x="65.3" y="727.3">Early Bronze Age</text>
</g></g>
<g id="panelc" fill="#969696">
<path d="M1022.7 831.3C1025.3 831.3 1027.5 836.2 1030.4 840.5C1033.3 844.8 1037 851.8 1039.9 856.9C1042.8 862 1045.6 866.4 1047.8 871.4C1050 876.4 1051.7 881.8 1053.1 886.9C1054.5 892 1055.3 897.8 1056 902.3C1056.7 906.8 1056.9 910.5 1057 913.9C1057.1 917.3 1057 920.3 1056.5 922.6C1056 924.9 1055.1 926.7 1054.1 927.5C1053.1 928.3 1052.3 928.2 1050.7 927.3C1049.1 926.4 1046.7 924.3 1044.7 922.2C1042.7 920.1 1040.5 917.2 1038.9 914.5C1037.3 911.8 1036.1 909.2 1035.3 906.2C1034.5 903.2 1034.2 899.3 1033.9 896.5C1033.6 893.7 1033.8 891.2 1033.5 889.5C1033.2 887.8 1032.9 886.8 1032.3 886.5C1031.7 886.2 1030.6 886.5 1029.9 887.5C1029.2 888.5 1028.5 890.2 1028 892.7C1027.5 895.2 1027.4 899.1 1027.1 902.3C1026.9 905.5 1026.8 908.8 1026.5 912C1026.2 915.2 1025.7 919.4 1025.1 921.7C1024.5 924 1023.5 926 1022.7 926C1021.9 926 1020.9 924 1020.3 921.7C1019.7 919.4 1019.2 915.2 1018.9 912C1018.6 908.8 1018.6 905.5 1018.3 902.3C1018.1 899.1 1017.9 895.2 1017.4 892.7C1016.9 890.2 1016.2 888.5 1015.5 887.5C1014.8 886.5 1013.7 886.2 1013.1 886.5C1012.5 886.8 1012.2 887.8 1011.9 889.5C1011.6 891.2 1011.8 893.7 1011.5 896.5C1011.2 899.3 1010.9 903.2 1010.1 906.2C1009.3 909.2 1008.1 911.8 1006.5 914.5C1004.9 917.2 1002.7 920.1 1000.7 922.2C998.7 924.3 996.3 926.4 994.7 927.3C993.1 928.2 992.3 928.3 991.3 927.5C990.3 926.7 989.4 924.9 988.9 922.6C988.4 920.3 988.3 917.3 988.4 913.9C988.5 910.5 988.8 906.8 989.4 902.3C990.1 897.8 990.9 892 992.3 886.9C993.7 881.8 995.4 876.4 997.6 871.4C999.8 866.4 1002.6 862 1005.5 856.9C1008.4 851.8 1012.1 844.8 1015 840.5C1017.9 836.2 1020.1 831.3 1022.7 831.3Z"/>
<path d="M1093.8 831.3C1096.2 831.3 1098.3 836.4 1101 840.5C1103.7 844.6 1106.9 850.8 1109.7 855.9C1112.4 861 1115.3 866.2 1117.5 871.4C1119.6 876.6 1121.3 881.8 1122.8 886.9C1124.2 892 1125.1 897.8 1125.8 902.3C1126.6 906.8 1126.9 910.5 1127 913.9C1127.2 917.3 1127.2 920.4 1126.8 922.6C1126.3 924.9 1125.3 926.7 1124.3 927.4C1123.4 928.1 1122.6 928 1121 927C1119.5 926 1116.6 923.5 1114.8 921.2C1112.9 919 1111.5 916.2 1110.2 913.5C1108.9 910.8 1107.7 907.5 1107 904.8C1106.2 902 1106.2 898.9 1105.8 897C1105.5 895.1 1105.3 894.1 1104.8 893.4C1104.4 892.7 1103.8 892.5 1103.2 892.9C1102.7 893.3 1102 894 1101.5 895.8C1100.9 897.6 1100.5 900.8 1100 903.8C1099.6 906.8 1099.2 910.5 1098.8 913.5C1098.3 916.5 1097.7 920.1 1097.2 922C1096.6 923.9 1096.2 924.2 1095.7 925C1095.1 925.8 1094.4 926.5 1093.8 926.5C1093.1 926.5 1092.4 925.8 1091.8 925C1091.3 924.2 1090.9 923.9 1090.3 922C1089.8 920.1 1089.2 916.5 1088.8 913.5C1088.3 910.5 1087.9 906.8 1087.5 903.8C1087 900.8 1086.6 897.6 1086 895.8C1085.5 894 1084.8 893.3 1084.2 892.9C1083.7 892.5 1083.1 892.7 1082.7 893.4C1082.2 894.1 1082 895.1 1081.7 897C1081.3 898.9 1081.3 902 1080.5 904.8C1079.8 907.5 1078.6 910.8 1077.3 913.5C1076 916.2 1074.6 919 1072.8 921.2C1070.9 923.5 1068 926 1066.5 927C1064.9 928 1064.1 928.1 1063.2 927.4C1062.2 926.7 1061.2 924.9 1060.8 922.6C1060.3 920.4 1060.3 917.3 1060.5 913.9C1060.6 910.5 1060.9 906.8 1061.7 902.3C1062.4 897.8 1063.3 892 1064.8 886.9C1066.2 881.8 1067.9 876.6 1070 871.4C1072.2 866.2 1075.1 861 1077.8 855.9C1080.6 850.8 1083.8 844.6 1086.5 840.5C1089.2 836.4 1091.3 831.3 1093.8 831.3Z"/>
<path d="M1163.3 831.3C1166.2 831.3 1168.6 836.6 1172 841.9C1175.4 847.2 1180.2 856 1183.6 863.2C1187 870.5 1190.2 878.5 1192.3 885.4C1194.4 892.3 1195.5 899.1 1196.2 904.7C1196.9 910.3 1197 915.5 1196.6 919.2C1196.2 922.9 1195.1 925.8 1193.7 927C1192.3 928.2 1190.4 928.1 1188.4 926.6C1186.4 925.1 1183.4 921.6 1181.7 918.3C1180 915 1179.1 909.6 1178.2 906.7C1177.3 903.8 1176.9 902.1 1176.3 900.9C1175.7 899.7 1175.2 899.4 1174.5 899.5C1173.8 899.6 1172.7 900 1172 901.8C1171.3 903.6 1170.8 907.3 1170.1 910.5C1169.4 913.7 1168.5 918.6 1167.7 921.2C1166.9 923.8 1165.9 925 1165.2 926C1164.5 927 1163.9 927 1163.3 927C1162.7 927 1162.1 927 1161.4 926C1160.7 925 1159.7 923.8 1158.9 921.2C1158.1 918.6 1157.2 913.7 1156.5 910.5C1155.8 907.3 1155.3 903.6 1154.6 901.8C1153.9 900 1152.8 899.6 1152.1 899.5C1151.4 899.4 1150.9 899.7 1150.3 900.9C1149.7 902.1 1149.3 903.8 1148.4 906.7C1147.5 909.6 1146.6 915 1144.9 918.3C1143.2 921.6 1140.2 925.1 1138.2 926.6C1136.2 928.1 1134.3 928.2 1132.9 927C1131.5 925.8 1130.4 922.9 1130 919.2C1129.6 915.5 1129.7 910.3 1130.4 904.7C1131.1 899.1 1132.2 892.3 1134.3 885.4C1136.4 878.5 1139.6 870.5 1143 863.2C1146.4 856 1151.2 847.2 1154.6 841.9C1158 836.6 1160.4 831.3 1163.3 831.3Z"/>
<path d="M1232 831.3C1234.5 831.3 1236.4 837.2 1239.6 843C1242.8 848.8 1247.7 858.2 1251 865.8C1254.3 873.4 1257.3 881.6 1259.3 888.5C1261.3 895.4 1262.1 901.9 1262.8 907.1C1263.5 912.3 1263.7 916.2 1263.4 919.5C1263.2 922.8 1262.5 925.3 1261.3 926.8C1260.1 928.2 1257.9 928.9 1256.2 928.2C1254.5 927.5 1252.5 925.2 1251 922.6C1249.5 920 1248.2 914.5 1247.5 912.3C1246.8 910.1 1247.5 910.3 1247.1 909.5C1246.6 908.7 1245.6 907.6 1244.8 907.6C1244 907.6 1243 908.9 1242.5 909.5C1242 910.1 1242.2 909.6 1241.7 911.3C1241.2 913 1240.2 917.1 1239.2 919.5C1238.2 921.9 1237.1 924.3 1235.9 925.7C1234.7 927.1 1233.3 927.8 1232 927.8C1230.7 927.8 1229.3 927.1 1228.1 925.7C1226.9 924.3 1225.8 921.9 1224.8 919.5C1223.8 917.1 1222.8 913 1222.3 911.3C1221.8 909.6 1222 910.1 1221.5 909.5C1221 908.9 1220 907.6 1219.2 907.6C1218.4 907.6 1217.4 908.7 1216.9 909.5C1216.5 910.3 1217.2 910.1 1216.5 912.3C1215.8 914.5 1214.5 920 1213 922.6C1211.5 925.2 1209.5 927.5 1207.8 928.2C1206.1 928.9 1203.9 928.2 1202.7 926.8C1201.5 925.3 1200.8 922.8 1200.6 919.5C1200.3 916.2 1200.5 912.3 1201.2 907.1C1201.9 901.9 1202.7 895.4 1204.7 888.5C1206.7 881.6 1209.7 873.4 1213 865.8C1216.3 858.2 1221.2 848.8 1224.4 843C1227.6 837.2 1229.5 831.3 1232 831.3Z"/>
<path d="M1297.5 831.7C1299.9 831.7 1301.8 837.3 1304.7 843C1307.6 848.7 1312 857.9 1315.1 865.8C1318.2 873.7 1321.2 883 1323.3 890.6C1325.4 898.2 1326.7 906.1 1327.5 911.3C1328.3 916.5 1328.2 918.9 1328 921.6C1327.8 924.3 1327 926.3 1326 927.4C1325 928.5 1323.8 928.8 1322.3 928.4C1320.8 928 1318.6 926.5 1317.1 924.7C1315.6 923 1314.5 919.5 1313.4 917.9C1312.3 916.3 1311.4 915.1 1310.3 915C1309.2 914.9 1308 916.1 1306.8 917.5C1305.6 918.9 1304.5 921.9 1303.3 923.3C1302.1 924.7 1300.6 925.2 1299.6 925.7C1298.6 926.2 1298.2 926.1 1297.5 926.1C1296.8 926.1 1296.4 926.2 1295.4 925.7C1294.4 925.2 1292.9 924.7 1291.7 923.3C1290.5 921.9 1289.4 918.9 1288.2 917.5C1287 916.1 1285.8 914.9 1284.7 915C1283.6 915.1 1282.7 916.3 1281.6 917.9C1280.5 919.5 1279.4 923 1277.9 924.7C1276.4 926.5 1274.2 928 1272.7 928.4C1271.2 928.8 1270 928.5 1269 927.4C1268 926.3 1267.2 924.3 1267 921.6C1266.8 918.9 1266.7 916.5 1267.5 911.3C1268.3 906.1 1269.6 898.2 1271.7 890.6C1273.8 883 1276.8 873.7 1279.9 865.8C1283 857.9 1287.4 848.7 1290.3 843C1293.2 837.3 1295.1 831.7 1297.5 831.7Z"/>
<path d="M1359.5 831.3C1361.6 831.3 1363.1 836.9 1365.7 843C1368.3 849.1 1372.1 859.3 1375 867.9C1377.9 876.5 1381.2 887.1 1383.3 894.7C1385.4 902.3 1386.6 908.6 1387.4 913.3C1388.2 917.9 1388.2 920.2 1388 922.6C1387.8 925 1387 926.5 1386 927.4C1385 928.3 1383.7 928.8 1382.2 928.2C1380.7 927.6 1378.6 925.2 1377.1 923.7C1375.5 922.2 1374.3 920.2 1372.9 919.5C1371.5 918.8 1370.2 919.2 1368.8 919.5C1367.4 919.8 1366.2 920.8 1364.7 921.2C1363.2 921.6 1361.2 922 1359.5 922C1357.8 922 1355.8 921.6 1354.3 921.2C1352.8 920.8 1351.6 919.8 1350.2 919.5C1348.8 919.2 1347.5 918.8 1346.1 919.5C1344.7 920.2 1343.5 922.2 1341.9 923.7C1340.4 925.2 1338.3 927.6 1336.8 928.2C1335.3 928.8 1334 928.3 1333 927.4C1332 926.5 1331.2 925 1331 922.6C1330.8 920.2 1330.8 917.9 1331.6 913.3C1332.4 908.6 1333.6 902.3 1335.7 894.7C1337.8 887.1 1341.1 876.5 1344 867.9C1346.9 859.3 1350.7 849.1 1353.3 843C1355.9 836.9 1357.4 831.3 1359.5 831.3Z"/>
<path d="M1417.3 831.3C1419 831.3 1420.3 836.6 1422.5 843C1424.7 849.4 1428 860.9 1430.7 869.9C1433.5 878.9 1436.8 889.2 1439 896.8C1441.2 904.4 1442.9 911.1 1443.8 915.4C1444.7 919.7 1444.5 920.6 1444.2 922.6C1443.9 924.6 1443 926.6 1442.1 927.4C1441.2 928.2 1440 928.4 1438.6 927.4C1437.2 926.4 1435.3 923.4 1433.8 921.6C1432.3 919.8 1431.2 917.7 1429.7 916.4C1428.2 915.1 1426.6 914.5 1424.5 914C1422.4 913.5 1419.7 913.3 1417.3 913.3C1414.9 913.3 1412.2 913.5 1410.1 914C1408 914.5 1406.4 915.1 1404.9 916.4C1403.3 917.7 1402.3 919.8 1400.8 921.6C1399.3 923.4 1397.4 926.4 1396 927.4C1394.6 928.4 1393.4 928.2 1392.5 927.4C1391.6 926.6 1390.7 924.6 1390.4 922.6C1390.1 920.6 1389.9 919.7 1390.8 915.4C1391.7 911.1 1393.4 904.4 1395.6 896.8C1397.8 889.2 1401.1 878.9 1403.9 869.9C1406.6 860.9 1409.9 849.4 1412.1 843C1414.3 836.6 1415.6 831.3 1417.3 831.3Z"/>
<path d="M1473.8 831.3C1474.7 831.3 1475.4 837.6 1476.5 843C1477.6 848.4 1478.9 857.2 1480.6 863.7C1482.3 870.2 1484.4 876.1 1486.8 882.3C1489.2 888.5 1493 895.4 1495.1 900.9C1497.2 906.4 1498.5 911.8 1499.2 915.4C1500 919 1499.9 920.6 1499.6 922.6C1499.3 924.6 1498.5 926.5 1497.6 927.4C1496.7 928.3 1495.4 929 1494.1 928.2C1492.8 927.4 1491.3 925.1 1489.9 922.6C1488.5 920.1 1487.3 916 1485.8 913.3C1484.2 910.5 1482.6 907.6 1480.6 906.1C1478.6 904.6 1476.1 904 1473.8 904C1471.5 904 1469 904.6 1467 906.1C1465 907.6 1463.3 910.5 1461.8 913.3C1460.2 916 1459.1 920.1 1457.7 922.6C1456.3 925.1 1454.8 927.4 1453.5 928.2C1452.2 929 1450.9 928.3 1450 927.4C1449.1 926.5 1448.3 924.6 1448 922.6C1447.7 920.6 1447.6 919 1448.4 915.4C1449.1 911.8 1450.4 906.4 1452.5 900.9C1454.6 895.4 1458.4 888.5 1460.8 882.3C1463.2 876.1 1465.3 870.2 1467 863.7C1468.7 857.2 1470 848.4 1471.1 843C1472.2 837.6 1472.9 831.3 1473.8 831.3Z"/>
<path d="M1297.2 630.2C1299.2 630.2 1300 631.4 1303.3 635.8C1306.6 640.2 1312.5 649.4 1317.1 656.6C1321.7 663.8 1327.2 672.5 1331 679.1C1334.8 685.7 1337.7 691.8 1339.6 696.4C1341.5 701 1342.3 703.6 1342.6 706.8C1342.9 710 1342.5 713.4 1341.4 715.4C1340.3 717.4 1338.2 718.6 1336.2 718.9C1334.2 719.2 1331.4 718 1329.2 717.2C1327 716.4 1324.9 714.8 1323.2 714.2C1321.5 713.6 1320.2 713.2 1318.8 713.7C1317.3 714.2 1315.9 715.6 1314.5 717.2C1313.1 718.8 1311.9 721.6 1310.2 723.2C1308.5 724.8 1306.3 726 1304.1 726.7C1301.9 727.4 1299.5 727.6 1297.2 727.6C1294.9 727.6 1292.5 727.4 1290.3 726.7C1288.1 726 1285.9 724.8 1284.2 723.2C1282.5 721.6 1281.3 718.8 1279.9 717.2C1278.5 715.6 1277.1 714.2 1275.6 713.7C1274.2 713.2 1272.9 713.6 1271.2 714.2C1269.5 714.8 1267.4 716.4 1265.2 717.2C1263 718 1260.2 719.2 1258.2 718.9C1256.2 718.6 1254.1 717.4 1253 715.4C1251.9 713.4 1251.5 710 1251.8 706.8C1252.1 703.6 1252.9 701 1254.8 696.4C1256.7 691.8 1259.7 685.7 1263.4 679.1C1267.2 672.5 1272.7 663.8 1277.3 656.6C1281.9 649.4 1287.8 640.2 1291.1 635.8C1294.4 631.4 1295.2 630.2 1297.2 630.2Z"/>
<path d="M1297.2 731.4C1298.9 731.4 1299.7 734.6 1302.4 739.7C1305.2 744.8 1309.8 754.4 1313.7 762.2C1317.6 770 1322.5 779.2 1325.8 786.4C1329.1 793.6 1332 800.6 1333.6 805.5C1335.2 810.4 1335.5 813 1335.3 815.9C1335.1 818.8 1334 821.3 1332.7 822.8C1331.4 824.3 1329.2 825 1327.5 824.9C1325.8 824.8 1324 823.2 1322.3 821.9C1320.6 820.6 1318.5 818.2 1317.1 817.3C1315.7 816.3 1315 815.9 1313.7 816.2C1312.4 816.5 1310.8 817.8 1309.3 819.3C1307.8 820.8 1306.4 823.6 1305 824.9C1303.6 826.2 1302 826.8 1300.7 827.3C1299.4 827.8 1298.4 827.6 1297.2 827.6C1296 827.6 1295 827.8 1293.7 827.3C1292.4 826.8 1290.8 826.2 1289.4 824.9C1288 823.6 1286.6 820.8 1285.1 819.3C1283.7 817.8 1282 816.5 1280.7 816.2C1279.4 815.9 1278.7 816.3 1277.3 817.3C1275.9 818.2 1273.8 820.6 1272.1 821.9C1270.4 823.2 1268.6 824.8 1266.9 824.9C1265.2 825 1263 824.3 1261.7 822.8C1260.4 821.3 1259.3 818.8 1259.1 815.9C1259 813 1259.2 810.4 1260.8 805.5C1262.4 800.6 1265.3 793.6 1268.6 786.4C1271.9 779.2 1276.8 770 1280.7 762.2C1284.6 754.4 1289.2 744.8 1292 739.7C1294.8 734.6 1295.5 731.4 1297.2 731.4Z"/>
<path d="M1297.1 932.2C1298.7 932.2 1299.8 938.1 1301.8 943.4C1303.8 948.7 1306.8 956.7 1309 963.9C1311.2 971.1 1313.5 979.2 1315.1 986.4C1316.7 993.5 1317.8 1001.3 1318.6 1006.8C1319.4 1012.2 1319.8 1015.9 1319.8 1019.1C1319.8 1022.4 1319.4 1024.8 1318.8 1026.3C1318.2 1027.8 1317 1028.1 1316.1 1027.9C1315.1 1027.7 1314.1 1027.3 1313.1 1025.3C1312.1 1023.3 1310.9 1018.2 1310 1016C1309.1 1013.8 1308.6 1012.9 1307.9 1012C1307.2 1011.1 1306.6 1010.6 1305.9 1010.9C1305.1 1011.2 1304.2 1012.6 1303.4 1014C1302.5 1015.4 1301.8 1017.8 1300.8 1019.1C1299.8 1020.4 1298.3 1021.6 1297.1 1021.6C1295.9 1021.6 1294.4 1020.4 1293.4 1019.1C1292.3 1017.8 1291.6 1015.4 1290.8 1014C1290 1012.6 1289 1011.2 1288.3 1010.9C1287.5 1010.6 1287 1011.1 1286.3 1012C1285.6 1012.9 1285.1 1013.8 1284.2 1016C1283.3 1018.2 1282.1 1023.3 1281.1 1025.3C1280.1 1027.3 1279 1027.7 1278.1 1027.9C1277.1 1028.1 1276 1027.8 1275.4 1026.3C1274.8 1024.8 1274.4 1022.4 1274.4 1019.1C1274.4 1015.9 1274.8 1012.2 1275.6 1006.8C1276.4 1001.3 1277.5 993.5 1279.1 986.4C1280.7 979.2 1283 971.1 1285.2 963.9C1287.4 956.7 1290.4 948.7 1292.4 943.4C1294.4 938.1 1295.5 932.2 1297.1 932.2Z"/>
<path d="M1297.1 1032.4C1298.3 1032.4 1299.3 1038.8 1300.8 1043.7C1302.3 1048.7 1304.4 1056 1305.9 1062.1C1307.4 1068.2 1308.9 1074.4 1310 1080.5C1311.1 1086.6 1311.8 1093.1 1312.4 1098.9C1312.9 1104.7 1313.3 1110.7 1313.3 1115.3C1313.3 1119.9 1312.8 1124.2 1312.4 1126.5C1311.9 1128.8 1311.3 1128.8 1310.6 1128.8C1309.9 1128.8 1309 1128.8 1308.4 1126.5C1307.8 1124.2 1307.4 1118.3 1306.9 1115.3C1306.4 1112.3 1306 1110.1 1305.5 1108.7C1305 1107.3 1304.5 1107 1303.9 1107.1C1303.3 1107.2 1302.5 1107.8 1301.8 1109.1C1301.1 1110.4 1300.6 1113.5 1299.8 1114.9C1299 1116.3 1298 1117.3 1297.1 1117.3C1296.2 1117.3 1295.2 1116.3 1294.4 1114.9C1293.6 1113.5 1293.1 1110.4 1292.4 1109.1C1291.7 1107.8 1290.9 1107.2 1290.3 1107.1C1289.7 1107 1289.2 1107.3 1288.7 1108.7C1288.2 1110.1 1287.8 1112.3 1287.3 1115.3C1286.8 1118.3 1286.4 1124.2 1285.8 1126.5C1285.2 1128.8 1284.3 1128.8 1283.6 1128.8C1282.9 1128.8 1282.2 1128.8 1281.8 1126.5C1281.3 1124.2 1280.9 1119.9 1280.9 1115.3C1280.9 1110.7 1281.2 1104.7 1281.8 1098.9C1282.3 1093.1 1283.1 1086.6 1284.2 1080.5C1285.3 1074.4 1286.8 1068.2 1288.3 1062.1C1289.8 1056 1291.9 1048.7 1293.4 1043.7C1294.9 1038.8 1295.9 1032.4 1297.1 1032.4Z"/>
</g>
<g stroke="#000" stroke-width="2.7" fill="none" stroke-linecap="butt" stroke-linejoin="miter">
<path d="M964.1 831 V937.3"/><path d="M956.6 838.8 L964.1 830.6 L971.6 838.8"/><path d="M956.6 929.5 L964.1 937.7 L971.6 929.5"/>
<path d="M1245 1154.4 H1351.6"/><path d="M1252.6 1146.8 L1244.5 1154.4 L1252.6 1162"/><path d="M1344 1146.8 L1352.1 1154.4 L1344 1162"/>
</g>
<g opacity="0.999">
<g font-size="25.3">
<text x="4" y="504.7">a</text>
<text x="191.3" y="508.7" text-anchor="middle">All</text>
<text x="556.5" y="508.7" text-anchor="middle">Late Neolithic</text>
<text x="964" y="508.7" text-anchor="middle">Bell Beaker</text>
<text x="1353.4" y="508.7" text-anchor="middle">Early Bronze Age</text>
<text x="4" y="1247">b</text>
<text x="966.5" y="1176.7">c</text>
</g>
<text x="471.5" y="1250.7" font-size="22.5" textLength="199.5" lengthAdjust="spacing">EFA PC1 (48.9%)</text>
<text transform="translate(22 978.3) rotate(-90)" font-size="22.5" textLength="197" lengthAdjust="spacing">EFA PC2 (24.8%)</text>
<text x="1279" y="1174.6" font-size="20.4" textLength="38.6" lengthAdjust="spacingAndGlyphs">PC1</text>
<text x="1298.7" y="1148.2" font-size="15.8" text-anchor="middle">0</text>
<path d="M1246.7 1142.3h4.4M1342 1142.5h10M1347 1138v9" stroke="#000" stroke-width="1.6" fill="none"/>
<text transform="translate(984.8 902.6) rotate(-90) scale(1 1.115)" font-size="20.4" textLength="39" lengthAdjust="spacingAndGlyphs">PC2</text>
<text transform="translate(958.2 884) rotate(-90)" font-size="16.4" text-anchor="middle">0</text>
<path d="M951.8 931.1v5M946.9 836h9.4M951.6 830.8v10.4" stroke="#000" stroke-width="1.7" fill="none"/>
</g>
<rect x="0" y="1269.6" width="1500" height="1.4" fill="#333"/>
</svg></body></html>
